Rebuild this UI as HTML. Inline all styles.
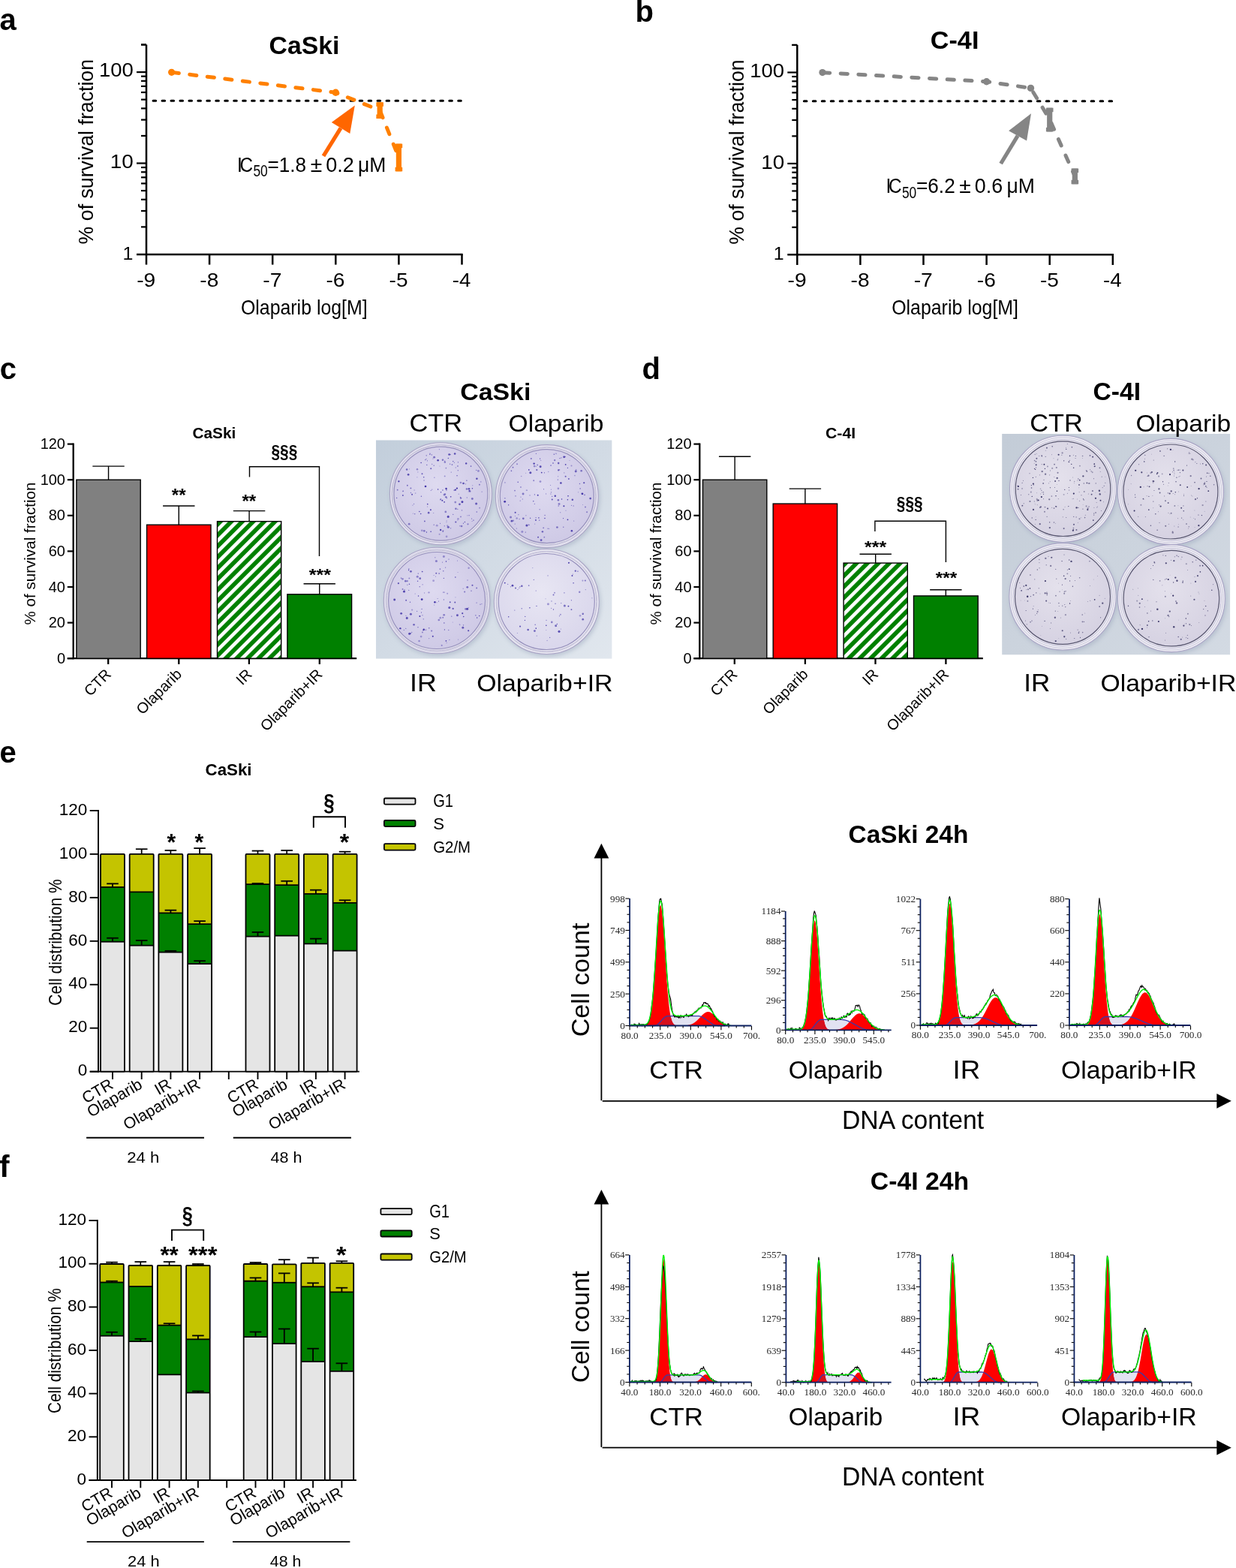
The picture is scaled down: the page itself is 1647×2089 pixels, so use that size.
<!DOCTYPE html><html><head><meta charset="utf-8"><title>Figure</title><style>html,body{margin:0;padding:0;background:#fff;}svg{display:block;}</style></head><body>
<svg xmlns="http://www.w3.org/2000/svg" width="1647" height="2089" viewBox="0 0 1647 2089" font-family="'Liberation Sans', Arial, sans-serif" fill="#000">
<rect width="1647" height="2089" fill="#fff"/>
<text x="-0.5" y="40.2" font-size="40" font-weight="bold">a</text>
<text x="846.5" y="29.4" font-size="40" font-weight="bold">b</text>
<text x="-0.3" y="504.8" font-size="40" font-weight="bold">c</text>
<text x="855.5" y="504.6" font-size="40" font-weight="bold">d</text>
<text x="-0.6" y="1015.6" font-size="40" font-weight="bold">e</text>
<text x="-0.8" y="1567.6" font-size="40" font-weight="bold">f</text>
<line x1="195" y1="59.55" x2="195" y2="340.1" stroke="#000" stroke-width="2.5" />
<line x1="182" y1="338.9" x2="616.7" y2="338.9" stroke="#000" stroke-width="2.5" />
<line x1="188" y1="302.35" x2="195" y2="302.35" stroke="#000" stroke-width="2.2" />
<line x1="188" y1="280.98" x2="195" y2="280.98" stroke="#000" stroke-width="2.2" />
<line x1="188" y1="265.81" x2="195" y2="265.81" stroke="#000" stroke-width="2.2" />
<line x1="188" y1="254.05" x2="195" y2="254.05" stroke="#000" stroke-width="2.2" />
<line x1="188" y1="244.43" x2="195" y2="244.43" stroke="#000" stroke-width="2.2" />
<line x1="188" y1="236.31" x2="195" y2="236.31" stroke="#000" stroke-width="2.2" />
<line x1="188" y1="229.26" x2="195" y2="229.26" stroke="#000" stroke-width="2.2" />
<line x1="188" y1="223.05" x2="195" y2="223.05" stroke="#000" stroke-width="2.2" />
<line x1="182" y1="217.5" x2="195" y2="217.5" stroke="#000" stroke-width="2.2" />
<line x1="188" y1="180.95" x2="195" y2="180.95" stroke="#000" stroke-width="2.2" />
<line x1="188" y1="159.58" x2="195" y2="159.58" stroke="#000" stroke-width="2.2" />
<line x1="188" y1="144.41" x2="195" y2="144.41" stroke="#000" stroke-width="2.2" />
<line x1="188" y1="132.65" x2="195" y2="132.65" stroke="#000" stroke-width="2.2" />
<line x1="188" y1="123.03" x2="195" y2="123.03" stroke="#000" stroke-width="2.2" />
<line x1="188" y1="114.91" x2="195" y2="114.91" stroke="#000" stroke-width="2.2" />
<line x1="188" y1="107.86" x2="195" y2="107.86" stroke="#000" stroke-width="2.2" />
<line x1="188" y1="101.65" x2="195" y2="101.65" stroke="#000" stroke-width="2.2" />
<line x1="182" y1="96.1" x2="195" y2="96.1" stroke="#000" stroke-width="2.2" />
<line x1="188" y1="59.55" x2="195" y2="59.55" stroke="#000" stroke-width="2.2" />
<line x1="188" y1="59.55" x2="195" y2="59.55" stroke="#000" stroke-width="2.2" />
<line x1="195" y1="338.9" x2="195" y2="352.6" stroke="#000" stroke-width="2.5" />
<text x="182.2" y="382" font-size="25.21" textLength="25.09" lengthAdjust="spacingAndGlyphs" >-9</text>
<line x1="279.1" y1="338.9" x2="279.1" y2="352.6" stroke="#000" stroke-width="2.5" />
<text x="266.3" y="382" font-size="25.21" textLength="24.97" lengthAdjust="spacingAndGlyphs" >-8</text>
<line x1="363.2" y1="338.9" x2="363.2" y2="352.6" stroke="#000" stroke-width="2.5" />
<text x="350.39" y="382" font-size="25.58" textLength="25.18" lengthAdjust="spacingAndGlyphs" >-7</text>
<line x1="447.3" y1="338.9" x2="447.3" y2="352.6" stroke="#000" stroke-width="2.5" />
<text x="434.5" y="382" font-size="25.21" textLength="24.98" lengthAdjust="spacingAndGlyphs" >-6</text>
<line x1="531.4" y1="338.9" x2="531.4" y2="352.6" stroke="#000" stroke-width="2.5" />
<text x="518.6" y="382" font-size="25.58" textLength="24.92" lengthAdjust="spacingAndGlyphs" >-5</text>
<line x1="615.5" y1="338.9" x2="615.5" y2="352.6" stroke="#000" stroke-width="2.5" />
<text x="602.72" y="382" font-size="25.58" textLength="24.53" lengthAdjust="spacingAndGlyphs" >-4</text>
<text x="132" y="102.34" font-size="26.41" textLength="45.87" lengthAdjust="spacingAndGlyphs" >100</text>
<text x="146.86" y="224.25" font-size="25.28" textLength="31.03" lengthAdjust="spacingAndGlyphs" >10</text>
<text x="163.47" y="345.9" font-size="23.26" textLength="13.9" lengthAdjust="spacingAndGlyphs" >1</text>
<text x="320.92" y="418.6" font-size="27.05" textLength="168.75" lengthAdjust="spacingAndGlyphs" >Olaparib log[M]</text>
<text x="0" y="0" font-size="28" transform="translate(123.9,325.4) rotate(-90)" textLength="246.5" lengthAdjust="spacingAndGlyphs">% of survival fraction</text>
<text x="358.62" y="71.7" font-size="32.57" textLength="93.77" lengthAdjust="spacingAndGlyphs" font-weight="bold" >CaSki</text>
<line x1="614.3" y1="134.3" x2="199" y2="134.3" stroke="#000" stroke-width="3" stroke-dasharray="3.6 8.36" stroke-linecap="round"/>
<path d="M228.64,96.3 L447.3,123.3 L506.17,147 L531.4,210" fill="none" stroke="#FF8000" stroke-width="5" stroke-dasharray="9.2 14.5" stroke-dashoffset="-0.6" stroke-linecap="round" stroke-linejoin="round"/>
<circle cx="228.64" cy="96.3" r="4.6" fill="#FF8000"/>
<circle cx="447.3" cy="123.3" r="4.7" fill="#FF8000"/>
<rect x="501.37" y="136.3" width="9.6" height="5.5" fill="#FF8000" />
<rect x="501.37" y="152.5" width="9.6" height="5.5" fill="#FF8000" />
<rect x="502.57" y="136.3" width="7.2" height="21.7" fill="#FF8000" />
<rect x="526.6" y="191.6" width="9.6" height="5.5" fill="#FF8000" />
<rect x="526.6" y="222.8" width="9.6" height="5.5" fill="#FF8000" />
<rect x="527.8" y="191.6" width="7.2" height="36.7" fill="#FF8000" />
<line x1="431" y1="207.8" x2="454.05" y2="170.6" stroke="#FF6600" stroke-width="5.2" />
<path d="M472.8,140.4 L441.8,163.1 L466.3,178.1 Z" fill="#FF6600" />
<text x="316.12" y="229.2" font-size="26.8" textLength="6.85" lengthAdjust="spacingAndGlyphs" >I</text>
<text x="319.47" y="229.2" font-size="26.8" textLength="17.56" lengthAdjust="spacingAndGlyphs" >C</text>
<text x="337.4" y="235.49" font-size="21.19" textLength="19.38" lengthAdjust="spacingAndGlyphs" >50</text>
<text x="356.53" y="229.2" font-size="26.8" textLength="51.51" lengthAdjust="spacingAndGlyphs" >=1.8</text>
<text x="413.81" y="229.2" font-size="26.8" textLength="15.48" lengthAdjust="spacingAndGlyphs" >&#177;</text>
<text x="434.35" y="229.2" font-size="26.8" textLength="37.51" lengthAdjust="spacingAndGlyphs" >0.2</text>
<text x="477.01" y="229.2" font-size="26.8" textLength="37.36" lengthAdjust="spacingAndGlyphs" >&#956;M</text>
<line x1="1062.3" y1="59.95" x2="1062.3" y2="340.5" stroke="#000" stroke-width="2.5" />
<line x1="1049.3" y1="339.3" x2="1484" y2="339.3" stroke="#000" stroke-width="2.5" />
<line x1="1055.3" y1="302.75" x2="1062.3" y2="302.75" stroke="#000" stroke-width="2.2" />
<line x1="1055.3" y1="281.38" x2="1062.3" y2="281.38" stroke="#000" stroke-width="2.2" />
<line x1="1055.3" y1="266.21" x2="1062.3" y2="266.21" stroke="#000" stroke-width="2.2" />
<line x1="1055.3" y1="254.45" x2="1062.3" y2="254.45" stroke="#000" stroke-width="2.2" />
<line x1="1055.3" y1="244.83" x2="1062.3" y2="244.83" stroke="#000" stroke-width="2.2" />
<line x1="1055.3" y1="236.71" x2="1062.3" y2="236.71" stroke="#000" stroke-width="2.2" />
<line x1="1055.3" y1="229.66" x2="1062.3" y2="229.66" stroke="#000" stroke-width="2.2" />
<line x1="1055.3" y1="223.45" x2="1062.3" y2="223.45" stroke="#000" stroke-width="2.2" />
<line x1="1049.3" y1="217.9" x2="1062.3" y2="217.9" stroke="#000" stroke-width="2.2" />
<line x1="1055.3" y1="181.35" x2="1062.3" y2="181.35" stroke="#000" stroke-width="2.2" />
<line x1="1055.3" y1="159.98" x2="1062.3" y2="159.98" stroke="#000" stroke-width="2.2" />
<line x1="1055.3" y1="144.81" x2="1062.3" y2="144.81" stroke="#000" stroke-width="2.2" />
<line x1="1055.3" y1="133.05" x2="1062.3" y2="133.05" stroke="#000" stroke-width="2.2" />
<line x1="1055.3" y1="123.43" x2="1062.3" y2="123.43" stroke="#000" stroke-width="2.2" />
<line x1="1055.3" y1="115.31" x2="1062.3" y2="115.31" stroke="#000" stroke-width="2.2" />
<line x1="1055.3" y1="108.26" x2="1062.3" y2="108.26" stroke="#000" stroke-width="2.2" />
<line x1="1055.3" y1="102.05" x2="1062.3" y2="102.05" stroke="#000" stroke-width="2.2" />
<line x1="1049.3" y1="96.5" x2="1062.3" y2="96.5" stroke="#000" stroke-width="2.2" />
<line x1="1055.3" y1="59.95" x2="1062.3" y2="59.95" stroke="#000" stroke-width="2.2" />
<line x1="1055.3" y1="59.95" x2="1062.3" y2="59.95" stroke="#000" stroke-width="2.2" />
<line x1="1062.3" y1="339.3" x2="1062.3" y2="353" stroke="#000" stroke-width="2.5" />
<text x="1049.5" y="382.4" font-size="25.21" textLength="25.09" lengthAdjust="spacingAndGlyphs" >-9</text>
<line x1="1146.4" y1="339.3" x2="1146.4" y2="353" stroke="#000" stroke-width="2.5" />
<text x="1133.6" y="382.4" font-size="25.21" textLength="24.97" lengthAdjust="spacingAndGlyphs" >-8</text>
<line x1="1230.5" y1="339.3" x2="1230.5" y2="353" stroke="#000" stroke-width="2.5" />
<text x="1217.69" y="382.4" font-size="25.58" textLength="25.18" lengthAdjust="spacingAndGlyphs" >-7</text>
<line x1="1314.6" y1="339.3" x2="1314.6" y2="353" stroke="#000" stroke-width="2.5" />
<text x="1301.8" y="382.4" font-size="25.21" textLength="24.98" lengthAdjust="spacingAndGlyphs" >-6</text>
<line x1="1398.7" y1="339.3" x2="1398.7" y2="353" stroke="#000" stroke-width="2.5" />
<text x="1385.9" y="382.4" font-size="25.58" textLength="24.92" lengthAdjust="spacingAndGlyphs" >-5</text>
<line x1="1482.8" y1="339.3" x2="1482.8" y2="353" stroke="#000" stroke-width="2.5" />
<text x="1470.02" y="382.4" font-size="25.58" textLength="24.53" lengthAdjust="spacingAndGlyphs" >-4</text>
<text x="999.3" y="102.74" font-size="26.41" textLength="45.87" lengthAdjust="spacingAndGlyphs" >100</text>
<text x="1014.16" y="224.65" font-size="25.28" textLength="31.03" lengthAdjust="spacingAndGlyphs" >10</text>
<text x="1030.78" y="346.3" font-size="23.26" textLength="13.9" lengthAdjust="spacingAndGlyphs" >1</text>
<text x="1188.22" y="419" font-size="27.05" textLength="168.75" lengthAdjust="spacingAndGlyphs" >Olaparib log[M]</text>
<text x="0" y="0" font-size="28" transform="translate(991.2,325.8) rotate(-90)" textLength="246.5" lengthAdjust="spacingAndGlyphs">% of survival fraction</text>
<text x="1239.8" y="65.3" font-size="33.23" textLength="64.59" lengthAdjust="spacingAndGlyphs" font-weight="bold" >C-4I</text>
<line x1="1481.6" y1="134.7" x2="1066.3" y2="134.7" stroke="#000" stroke-width="3" stroke-dasharray="3.6 8.36" stroke-linecap="round"/>
<path d="M1095.94,96.6 L1314.6,108.7 L1373.47,117.4 L1398.7,159 L1432.34,235" fill="none" stroke="#858585" stroke-width="5" stroke-dasharray="9.2 14.5" stroke-dashoffset="-0.6" stroke-linecap="round" stroke-linejoin="round"/>
<circle cx="1095.94" cy="96.6" r="4.6" fill="#858585"/>
<circle cx="1314.6" cy="108.7" r="4.7" fill="#858585"/>
<circle cx="1373.47" cy="117.4" r="4.7" fill="#858585"/>
<rect x="1393.9" y="143.7" width="9.6" height="5.5" fill="#858585" />
<rect x="1393.9" y="169.9" width="9.6" height="5.5" fill="#858585" />
<rect x="1395.1" y="143.7" width="7.2" height="31.7" fill="#858585" />
<rect x="1427.54" y="224.5" width="9.6" height="5.5" fill="#858585" />
<rect x="1427.54" y="239.8" width="9.6" height="5.5" fill="#858585" />
<rect x="1428.74" y="224.5" width="7.2" height="20.8" fill="#858585" />
<line x1="1333.6" y1="218" x2="1356.1" y2="180.85" stroke="#858585" stroke-width="5.2" />
<path d="M1374,151.3 L1344.1,174.3 L1368.1,187.4 Z" fill="#858585" />
<text x="1180.62" y="257.3" font-size="26.8" textLength="6.85" lengthAdjust="spacingAndGlyphs" >I</text>
<text x="1183.97" y="257.3" font-size="26.8" textLength="17.56" lengthAdjust="spacingAndGlyphs" >C</text>
<text x="1201.9" y="263.59" font-size="21.19" textLength="19.38" lengthAdjust="spacingAndGlyphs" >50</text>
<text x="1221.02" y="257.3" font-size="26.8" textLength="51.7" lengthAdjust="spacingAndGlyphs" >=6.2</text>
<text x="1278.31" y="257.3" font-size="26.8" textLength="15.48" lengthAdjust="spacingAndGlyphs" >&#177;</text>
<text x="1298.85" y="257.3" font-size="26.8" textLength="37.33" lengthAdjust="spacingAndGlyphs" >0.6</text>
<text x="1341.51" y="257.3" font-size="26.8" textLength="37.36" lengthAdjust="spacingAndGlyphs" >&#956;M</text>
<defs><pattern id="stripe" patternUnits="userSpaceOnUse" width="10.3" height="10.3" patternTransform="translate(2,0) rotate(45)"><rect width="10.3" height="10.3" fill="#008000"/><rect x="0" width="4.6" height="10.3" fill="#fff"/></pattern></defs>
<line x1="97.7" y1="590.5" x2="97.7" y2="878.3" stroke="#000" stroke-width="2.3" />
<line x1="89.8" y1="877.2" x2="97.7" y2="877.2" stroke="#000" stroke-width="2.2" />
<text x="87" y="883.8" font-size="20" text-anchor="end">0</text>
<line x1="89.8" y1="829.6" x2="97.7" y2="829.6" stroke="#000" stroke-width="2.2" />
<text x="87" y="836.2" font-size="20" text-anchor="end">20</text>
<line x1="89.8" y1="782" x2="97.7" y2="782" stroke="#000" stroke-width="2.2" />
<text x="87" y="788.6" font-size="20" text-anchor="end">40</text>
<line x1="89.8" y1="734.4" x2="97.7" y2="734.4" stroke="#000" stroke-width="2.2" />
<text x="87" y="741" font-size="20" text-anchor="end">60</text>
<line x1="89.8" y1="686.8" x2="97.7" y2="686.8" stroke="#000" stroke-width="2.2" />
<text x="87" y="693.4" font-size="20" text-anchor="end">80</text>
<line x1="89.8" y1="639.2" x2="97.7" y2="639.2" stroke="#000" stroke-width="2.2" />
<text x="87" y="645.8" font-size="20" text-anchor="end">100</text>
<line x1="89.8" y1="591.6" x2="97.7" y2="591.6" stroke="#000" stroke-width="2.2" />
<text x="87" y="598.2" font-size="20" text-anchor="end">120</text>
<line x1="89.8" y1="877.2" x2="475.2" y2="877.2" stroke="#000" stroke-width="2.3" />
<line x1="144.2" y1="877.2" x2="144.2" y2="884.9" stroke="#000" stroke-width="2.3" />
<line x1="238.3" y1="877.2" x2="238.3" y2="884.9" stroke="#000" stroke-width="2.3" />
<line x1="331.9" y1="877.2" x2="331.9" y2="884.9" stroke="#000" stroke-width="2.3" />
<line x1="425.8" y1="877.2" x2="425.8" y2="884.9" stroke="#000" stroke-width="2.3" />
<rect x="101.9" y="639.2" width="85.3" height="238" fill="#808080" stroke="#000" stroke-width="1.4" />
<rect x="195.6" y="699.18" width="85.4" height="178.02" fill="#FF0000" stroke="#000" stroke-width="1.4" />
<rect x="289.5" y="694.65" width="85.2" height="182.55" fill="url(#stripe)" stroke="#000" stroke-width="1.4" />
<rect x="382.9" y="791.76" width="85.7" height="85.44" fill="#008000" stroke="#000" stroke-width="1.4" />
<line x1="144.55" y1="639.2" x2="144.55" y2="621.11" stroke="#000" stroke-width="1.4" />
<line x1="123.35" y1="621.11" x2="165.75" y2="621.11" stroke="#000" stroke-width="1.4" />
<line x1="238.3" y1="699.18" x2="238.3" y2="673.95" stroke="#000" stroke-width="1.4" />
<line x1="217.1" y1="673.95" x2="259.5" y2="673.95" stroke="#000" stroke-width="1.4" />
<line x1="332.1" y1="694.65" x2="332.1" y2="680.61" stroke="#000" stroke-width="1.4" />
<line x1="310.9" y1="680.61" x2="353.3" y2="680.61" stroke="#000" stroke-width="1.4" />
<line x1="425.75" y1="791.76" x2="425.75" y2="777.72" stroke="#000" stroke-width="1.4" />
<line x1="404.55" y1="777.72" x2="446.95" y2="777.72" stroke="#000" stroke-width="1.4" />
<text x="228.73" y="667.53" font-size="24.46" textLength="18.89" lengthAdjust="spacingAndGlyphs" font-weight="bold" >**</text>
<text x="322.43" y="676.33" font-size="24.46" textLength="18.89" lengthAdjust="spacingAndGlyphs" font-weight="bold" >**</text>
<text x="411.73" y="773.28" font-size="21.77" textLength="29.2" lengthAdjust="spacingAndGlyphs" font-weight="bold" >***</text>
<path d="M332.5,635.6 V621.7 H425.5 V740.9" fill="none" stroke="#000" stroke-width="1.4" />
<text x="361.46" y="609.6" font-size="23.25" textLength="34.78" lengthAdjust="spacingAndGlyphs" font-weight="bold" >&#167;&#167;&#167;</text>
<text x="256.45" y="583.7" font-size="20.29" textLength="57.93" lengthAdjust="spacingAndGlyphs" font-weight="bold" >CaSki</text>
<text x="0" y="0" font-size="20.6" transform="translate(46.8,832.5) rotate(-90)" textLength="190" lengthAdjust="spacingAndGlyphs">% of survival fraction</text>
<text x="0" y="0" font-size="20" text-anchor="end" transform="translate(149.2,899.5) rotate(-45)">CTR</text>
<text x="0" y="0" font-size="20" text-anchor="end" transform="translate(243.3,899.5) rotate(-45)">Olaparib</text>
<text x="0" y="0" font-size="20" text-anchor="end" transform="translate(336.9,899.5) rotate(-45)">IR</text>
<text x="0" y="0" font-size="20" text-anchor="end" transform="translate(430.8,899.5) rotate(-45)">Olaparib+IR</text>
<line x1="932.3" y1="590.5" x2="932.3" y2="878.3" stroke="#000" stroke-width="2.3" />
<line x1="924.4" y1="877.2" x2="932.3" y2="877.2" stroke="#000" stroke-width="2.2" />
<text x="921.6" y="883.8" font-size="20" text-anchor="end">0</text>
<line x1="924.4" y1="829.6" x2="932.3" y2="829.6" stroke="#000" stroke-width="2.2" />
<text x="921.6" y="836.2" font-size="20" text-anchor="end">20</text>
<line x1="924.4" y1="782" x2="932.3" y2="782" stroke="#000" stroke-width="2.2" />
<text x="921.6" y="788.6" font-size="20" text-anchor="end">40</text>
<line x1="924.4" y1="734.4" x2="932.3" y2="734.4" stroke="#000" stroke-width="2.2" />
<text x="921.6" y="741" font-size="20" text-anchor="end">60</text>
<line x1="924.4" y1="686.8" x2="932.3" y2="686.8" stroke="#000" stroke-width="2.2" />
<text x="921.6" y="693.4" font-size="20" text-anchor="end">80</text>
<line x1="924.4" y1="639.2" x2="932.3" y2="639.2" stroke="#000" stroke-width="2.2" />
<text x="921.6" y="645.8" font-size="20" text-anchor="end">100</text>
<line x1="924.4" y1="591.6" x2="932.3" y2="591.6" stroke="#000" stroke-width="2.2" />
<text x="921.6" y="598.2" font-size="20" text-anchor="end">120</text>
<line x1="924.4" y1="877.2" x2="1309.8" y2="877.2" stroke="#000" stroke-width="2.3" />
<line x1="978.8" y1="877.2" x2="978.8" y2="884.9" stroke="#000" stroke-width="2.3" />
<line x1="1072.9" y1="877.2" x2="1072.9" y2="884.9" stroke="#000" stroke-width="2.3" />
<line x1="1166.5" y1="877.2" x2="1166.5" y2="884.9" stroke="#000" stroke-width="2.3" />
<line x1="1260.4" y1="877.2" x2="1260.4" y2="884.9" stroke="#000" stroke-width="2.3" />
<rect x="936.5" y="639.2" width="85.3" height="238" fill="#808080" stroke="#000" stroke-width="1.4" />
<rect x="1030.2" y="671.09" width="85.4" height="206.11" fill="#FF0000" stroke="#000" stroke-width="1.4" />
<rect x="1124.1" y="750.11" width="85.2" height="127.09" fill="url(#stripe)" stroke="#000" stroke-width="1.4" />
<rect x="1217.5" y="793.9" width="85.7" height="83.3" fill="#008000" stroke="#000" stroke-width="1.4" />
<line x1="979.15" y1="639.2" x2="979.15" y2="608.26" stroke="#000" stroke-width="1.4" />
<line x1="957.95" y1="608.26" x2="1000.35" y2="608.26" stroke="#000" stroke-width="1.4" />
<line x1="1072.9" y1="671.09" x2="1072.9" y2="651.1" stroke="#000" stroke-width="1.4" />
<line x1="1051.7" y1="651.1" x2="1094.1" y2="651.1" stroke="#000" stroke-width="1.4" />
<line x1="1166.7" y1="750.11" x2="1166.7" y2="738.21" stroke="#000" stroke-width="1.4" />
<line x1="1145.5" y1="738.21" x2="1187.9" y2="738.21" stroke="#000" stroke-width="1.4" />
<line x1="1260.35" y1="793.9" x2="1260.35" y2="785.81" stroke="#000" stroke-width="1.4" />
<line x1="1239.15" y1="785.81" x2="1281.55" y2="785.81" stroke="#000" stroke-width="1.4" />
<text x="1152.13" y="736.03" font-size="22.58" textLength="29.1" lengthAdjust="spacingAndGlyphs" font-weight="bold" >***</text>
<text x="1246.73" y="777.03" font-size="22.58" textLength="28.5" lengthAdjust="spacingAndGlyphs" font-weight="bold" >***</text>
<path d="M1165.9,707.9 V694.3 H1260.4 V748.9" fill="none" stroke="#000" stroke-width="1.4" />
<text x="1194.86" y="679.13" font-size="23" textLength="34.68" lengthAdjust="spacingAndGlyphs" font-weight="bold" >&#167;&#167;&#167;</text>
<text x="1100.03" y="583.7" font-size="21.05" textLength="40.09" lengthAdjust="spacingAndGlyphs" font-weight="bold" >C-4I</text>
<text x="0" y="0" font-size="20.6" transform="translate(881.4,832.5) rotate(-90)" textLength="190" lengthAdjust="spacingAndGlyphs">% of survival fraction</text>
<text x="0" y="0" font-size="20" text-anchor="end" transform="translate(983.8,899.5) rotate(-45)">CTR</text>
<text x="0" y="0" font-size="20" text-anchor="end" transform="translate(1077.9,899.5) rotate(-45)">Olaparib</text>
<text x="0" y="0" font-size="20" text-anchor="end" transform="translate(1171.5,899.5) rotate(-45)">IR</text>
<text x="0" y="0" font-size="20" text-anchor="end" transform="translate(1265.4,899.5) rotate(-45)">Olaparib+IR</text>
<defs><linearGradient id="bgc" x1="0" y1="0" x2="1" y2="1"><stop offset="0" stop-color="#c2cedb"/><stop offset="1" stop-color="#e1e7ee"/></linearGradient><linearGradient id="bgd" x1="0" y1="0" x2="1" y2="1"><stop offset="0" stop-color="#c3ccd7"/><stop offset="1" stop-color="#d3dae3"/></linearGradient><radialGradient id="dishc" cx="0.45" cy="0.4" r="0.6"><stop offset="0" stop-color="#dedaf0"/><stop offset="1" stop-color="#cfcae6"/></radialGradient><radialGradient id="dishc2" cx="0.45" cy="0.4" r="0.6"><stop offset="0" stop-color="#e8e6f3"/><stop offset="1" stop-color="#dad7ec"/></radialGradient><radialGradient id="dishd" cx="0.45" cy="0.4" r="0.6"><stop offset="0" stop-color="#e4e1ec"/><stop offset="1" stop-color="#d6d2e2"/></radialGradient><filter id="blur3" x="-20%" y="-20%" width="140%" height="140%"><feGaussianBlur stdDeviation="2.5"/></filter></defs>
<g>
<clipPath id="clip1"><rect x="500.9" y="586.3" width="314.7" height="291.4"/></clipPath>
<g clip-path="url(#clip1)">
<rect x="500.9" y="586.3" width="314.7" height="291.4" fill="url(#bgc)" />
<circle cx="588.9" cy="660.2" r="69" fill="#9aa6bb" opacity="0.45" filter="url(#blur3)"/>
<circle cx="730.3" cy="663.6" r="69.5" fill="#9aa6bb" opacity="0.45" filter="url(#blur3)"/>
<circle cx="583.6" cy="802.5" r="71.8" fill="#9aa6bb" opacity="0.45" filter="url(#blur3)"/>
<circle cx="729.8" cy="804" r="71" fill="#9aa6bb" opacity="0.45" filter="url(#blur3)"/>
<circle cx="587.4" cy="657.7" r="68" fill="#e3e1ef" stroke="#aaa5c6" stroke-width="1.1"/>
<circle cx="587.4" cy="657.7" r="65.4" fill="none" stroke="#c9c6dc" stroke-width="0.9"/>
<circle cx="587.4" cy="657.7" r="64.9" fill="none" stroke="#bdb9d3" stroke-width="1"/>
<circle cx="587.4" cy="657.7" r="62.5" fill="url(#dishc)" stroke="#958fbb" stroke-width="1.2"/>
<g fill="#4032a6"><circle cx="623.49" cy="698.3" r="1.13" fill-opacity="0.52"/><circle cx="549.09" cy="658.8" r="0.97" fill-opacity="0.86"/><circle cx="594.37" cy="662.36" r="1.25" fill-opacity="0.63"/><circle cx="587.55" cy="655.7" r="0.75" fill-opacity="0.82"/><circle cx="595.07" cy="714.87" r="1.36" fill-opacity="0.37"/><circle cx="629.32" cy="664.46" r="1.43" fill-opacity="0.6"/><circle cx="595.11" cy="693.91" r="0.55" fill-opacity="0.49"/><circle cx="549.99" cy="673.09" r="0.6" fill-opacity="0.5"/><circle cx="594.96" cy="695.76" r="0.63" fill-opacity="0.36"/><circle cx="609.94" cy="620.96" r="0.96" fill-opacity="0.47"/><circle cx="642.1" cy="655.14" r="0.56" fill-opacity="0.57"/><circle cx="578.61" cy="609.16" r="1.43" fill-opacity="0.62"/><circle cx="610.41" cy="615.86" r="0.64" fill-opacity="0.73"/><circle cx="627.54" cy="621.16" r="0.81" fill-opacity="0.73"/><circle cx="614.07" cy="663.58" r="1.19" fill-opacity="0.62"/><circle cx="607.3" cy="695.57" r="1.04" fill-opacity="0.79"/><circle cx="560.7" cy="684.5" r="0.81" fill-opacity="0.86"/><circle cx="552.1" cy="653.03" r="0.79" fill-opacity="0.37"/><circle cx="634.61" cy="670.93" r="1.52" fill-opacity="0.74"/><circle cx="569.76" cy="671.63" r="0.8" fill-opacity="0.99"/><circle cx="592.85" cy="615.67" r="1.29" fill-opacity="0.5"/><circle cx="529.69" cy="652.69" r="0.88" fill-opacity="0.65"/><circle cx="582.24" cy="700.13" r="1.47" fill-opacity="0.35"/><circle cx="598.6" cy="605.52" r="1.34" fill-opacity="0.83"/><circle cx="602.46" cy="619.06" r="0.87" fill-opacity="0.63"/><circle cx="639.12" cy="676.73" r="0.87" fill-opacity="0.48"/><circle cx="547.46" cy="656.51" r="0.68" fill-opacity="0.57"/><circle cx="542.85" cy="646.71" r="0.93" fill-opacity="0.65"/><circle cx="613.48" cy="662.33" r="0.58" fill-opacity="0.73"/><circle cx="621.17" cy="617.41" r="1.19" fill-opacity="0.88"/><circle cx="585.6" cy="711.79" r="1" fill-opacity="0.4"/><circle cx="593.18" cy="658.31" r="1.12" fill-opacity="0.51"/><circle cx="622.89" cy="686.87" r="0.67" fill-opacity="0.4"/><circle cx="609.91" cy="692.98" r="0.58" fill-opacity="0.53"/><circle cx="578.18" cy="620.25" r="0.65" fill-opacity="0.66"/><circle cx="622.29" cy="662.92" r="0.73" fill-opacity="0.47"/><circle cx="630.94" cy="693.15" r="0.81" fill-opacity="0.49"/><circle cx="545.46" cy="624.9" r="0.55" fill-opacity="0.36"/><circle cx="617.45" cy="697.19" r="0.58" fill-opacity="0.81"/><circle cx="568.82" cy="619.37" r="0.6" fill-opacity="0.98"/><circle cx="599.64" cy="618.18" r="0.6" fill-opacity="0.77"/><circle cx="552.71" cy="684.64" r="0.65" fill-opacity="0.76"/><circle cx="615.94" cy="668.75" r="1.49" fill-opacity="0.92"/><circle cx="568.42" cy="709.01" r="0.65" fill-opacity="0.96"/><circle cx="585.98" cy="620.99" r="0.61" fill-opacity="0.36"/><circle cx="594.52" cy="650.91" r="1.22" fill-opacity="0.98"/><circle cx="567" cy="648.06" r="1.3" fill-opacity="0.98"/><circle cx="575.71" cy="618.37" r="0.69" fill-opacity="0.58"/><circle cx="600.54" cy="703.76" r="0.74" fill-opacity="0.48"/><circle cx="625.1" cy="686.73" r="0.64" fill-opacity="0.67"/><circle cx="562.25" cy="706.8" r="1.36" fill-opacity="0.36"/><circle cx="597.19" cy="688.39" r="1.52" fill-opacity="0.86"/><circle cx="573.9" cy="679.24" r="1" fill-opacity="0.89"/><circle cx="617.52" cy="644.03" r="1.33" fill-opacity="0.8"/><circle cx="528.66" cy="663.44" r="0.61" fill-opacity="0.82"/><circle cx="606.73" cy="669.08" r="1.38" fill-opacity="0.49"/><circle cx="589.97" cy="612.84" r="1.26" fill-opacity="0.59"/><circle cx="571.18" cy="683.16" r="1.3" fill-opacity="0.74"/><circle cx="640.83" cy="641.92" r="0.57" fill-opacity="0.71"/><circle cx="595.34" cy="663.8" r="0.56" fill-opacity="0.91"/><circle cx="600.13" cy="605.58" r="0.67" fill-opacity="0.75"/><circle cx="594.34" cy="623.55" r="0.88" fill-opacity="0.5"/><circle cx="612.45" cy="671.83" r="1.34" fill-opacity="0.72"/><circle cx="621.9" cy="640.14" r="0.63" fill-opacity="0.86"/><circle cx="589.9" cy="653.01" r="1" fill-opacity="0.41"/><circle cx="629.11" cy="694.52" r="0.55" fill-opacity="0.51"/><circle cx="624.27" cy="654.95" r="0.56" fill-opacity="0.46"/><circle cx="590.12" cy="708.2" r="0.56" fill-opacity="0.94"/><circle cx="545.18" cy="698.22" r="1.38" fill-opacity="0.54"/><circle cx="586.55" cy="697.29" r="0.56" fill-opacity="0.77"/><circle cx="592.11" cy="658.9" r="1.52" fill-opacity="0.54"/><circle cx="555.9" cy="635.84" r="0.65" fill-opacity="0.39"/><circle cx="637.45" cy="627.41" r="1.49" fill-opacity="0.42"/><circle cx="597.31" cy="702.27" r="1.51" fill-opacity="0.7"/><circle cx="569.44" cy="613.81" r="0.62" fill-opacity="0.7"/><circle cx="577.7" cy="683.47" r="0.56" fill-opacity="0.53"/><circle cx="625.44" cy="653.71" r="0.98" fill-opacity="0.77"/><circle cx="620.44" cy="644.79" r="0.64" fill-opacity="0.56"/><circle cx="565.29" cy="707.31" r="1.35" fill-opacity="0.55"/><circle cx="565.88" cy="694.44" r="0.89" fill-opacity="0.74"/><circle cx="587.62" cy="664.69" r="0.61" fill-opacity="0.4"/><circle cx="574.23" cy="653.31" r="0.56" fill-opacity="0.76"/><circle cx="574.12" cy="708.33" r="0.79" fill-opacity="0.91"/><circle cx="610.45" cy="691.25" r="1.18" fill-opacity="0.4"/><circle cx="608.94" cy="650.58" r="1.15" fill-opacity="0.99"/><circle cx="601.21" cy="629.08" r="0.56" fill-opacity="0.68"/><circle cx="613.91" cy="642.99" r="1.35" fill-opacity="0.44"/><circle cx="594.95" cy="652.94" r="0.65" fill-opacity="0.94"/><circle cx="606.12" cy="604.5" r="1.26" fill-opacity="0.84"/><circle cx="578.86" cy="636.3" r="0.74" fill-opacity="0.45"/><circle cx="576.95" cy="611.21" r="0.61" fill-opacity="0.39"/><circle cx="638.93" cy="645.63" r="0.85" fill-opacity="0.7"/><circle cx="610.29" cy="626.73" r="0.71" fill-opacity="0.57"/><circle cx="587.01" cy="665.41" r="0.97" fill-opacity="0.62"/><circle cx="575.72" cy="652.15" r="0.68" fill-opacity="0.44"/><circle cx="607.4" cy="677.73" r="1.24" fill-opacity="0.61"/><circle cx="550.46" cy="684.16" r="0.6" fill-opacity="0.35"/><circle cx="547.38" cy="650.4" r="0.97" fill-opacity="0.63"/><circle cx="567.94" cy="611.54" r="0.61" fill-opacity="0.67"/><circle cx="561.43" cy="661.18" r="0.72" fill-opacity="0.71"/><circle cx="634.73" cy="626.37" r="0.63" fill-opacity="0.77"/><circle cx="600.71" cy="661.86" r="0.81" fill-opacity="0.92"/><circle cx="615.08" cy="700.99" r="1.33" fill-opacity="0.55"/><circle cx="568.2" cy="606.83" r="0.69" fill-opacity="0.81"/><circle cx="583.59" cy="613.16" r="1.28" fill-opacity="0.93"/><circle cx="629.76" cy="646.85" r="0.58" fill-opacity="0.51"/><circle cx="596.22" cy="700.46" r="1.12" fill-opacity="0.38"/><circle cx="566.76" cy="612.65" r="0.67" fill-opacity="0.68"/><circle cx="612.93" cy="700.74" r="0.55" fill-opacity="0.99"/><circle cx="603.81" cy="614.64" r="0.62" fill-opacity="0.94"/><circle cx="606.86" cy="652.63" r="1.15" fill-opacity="0.9"/><circle cx="561.12" cy="616.44" r="0.75" fill-opacity="0.95"/><circle cx="621.89" cy="651.39" r="1.19" fill-opacity="0.63"/><circle cx="603.78" cy="685.3" r="0.57" fill-opacity="0.94"/><circle cx="605.27" cy="653.04" r="0.91" fill-opacity="0.62"/><circle cx="609.83" cy="678.26" r="0.61" fill-opacity="0.84"/><circle cx="611.25" cy="658.3" r="0.74" fill-opacity="0.36"/><circle cx="555.98" cy="625.27" r="1.25" fill-opacity="0.48"/><circle cx="578.19" cy="699.19" r="0.62" fill-opacity="0.73"/><circle cx="587.13" cy="705.96" r="1.18" fill-opacity="0.88"/><circle cx="629.44" cy="650.67" r="0.79" fill-opacity="0.91"/><circle cx="592.62" cy="614.31" r="0.7" fill-opacity="0.53"/><circle cx="628.55" cy="690.94" r="0.56" fill-opacity="0.84"/><circle cx="531.4" cy="641.32" r="1.13" fill-opacity="0.98"/><circle cx="613.98" cy="688.46" r="0.88" fill-opacity="0.55"/><circle cx="553.65" cy="657.06" r="0.83" fill-opacity="0.35"/><circle cx="551.56" cy="671.29" r="0.64" fill-opacity="0.61"/><circle cx="597.36" cy="610.48" r="0.79" fill-opacity="0.77"/><circle cx="569.57" cy="674.96" r="0.55" fill-opacity="0.53"/><circle cx="542.11" cy="625.59" r="1.24" fill-opacity="0.68"/><circle cx="626.16" cy="654.53" r="1.25" fill-opacity="0.62"/><circle cx="585.41" cy="598.64" r="0.64" fill-opacity="0.46"/><circle cx="556.79" cy="628.94" r="0.68" fill-opacity="0.35"/><circle cx="558.86" cy="681.57" r="0.71" fill-opacity="0.91"/><circle cx="544.11" cy="632.31" r="1.36" fill-opacity="0.84"/><circle cx="536.82" cy="660.02" r="0.96" fill-opacity="0.77"/><circle cx="562.5" cy="631.3" r="0.95" fill-opacity="0.76"/><circle cx="635.39" cy="637.69" r="1.27" fill-opacity="0.85"/><circle cx="605.42" cy="616.3" r="0.67" fill-opacity="0.52"/><circle cx="573" cy="604.36" r="0.85" fill-opacity="0.45"/><circle cx="607.29" cy="623.06" r="0.77" fill-opacity="0.38"/><circle cx="536.91" cy="654.43" r="0.73" fill-opacity="0.58"/><circle cx="583.6" cy="651.97" r="0.81" fill-opacity="0.96"/><circle cx="574.23" cy="624.15" r="1.02" fill-opacity="0.74"/><circle cx="593.8" cy="681.94" r="1.34" fill-opacity="0.52"/><circle cx="635.29" cy="682.06" r="0.82" fill-opacity="0.59"/><circle cx="537.24" cy="654.06" r="0.58" fill-opacity="0.77"/><circle cx="575.29" cy="605.93" r="0.62" fill-opacity="0.75"/><circle cx="592.26" cy="700.72" r="0.58" fill-opacity="0.86"/><circle cx="609.03" cy="633.69" r="0.6" fill-opacity="0.98"/><circle cx="572.83" cy="605.5" r="0.55" fill-opacity="0.93"/><circle cx="564.7" cy="635.71" r="0.74" fill-opacity="0.85"/><circle cx="592.67" cy="634.43" r="0.94" fill-opacity="0.46"/><circle cx="624.91" cy="651.29" r="1.38" fill-opacity="0.82"/><circle cx="565.03" cy="640.07" r="0.83" fill-opacity="0.44"/><circle cx="619.41" cy="695.46" r="0.68" fill-opacity="0.84"/><circle cx="590.36" cy="707.21" r="1.07" fill-opacity="0.55"/><circle cx="615.49" cy="679.89" r="0.79" fill-opacity="0.41"/><circle cx="592.09" cy="668.87" r="0.91" fill-opacity="0.93"/><circle cx="589.35" cy="666.86" r="1.05" fill-opacity="0.88"/></g>
<circle cx="728.8" cy="661.1" r="68.5" fill="#e5e3f0" stroke="#aaa5c6" stroke-width="1.1"/>
<circle cx="728.8" cy="661.1" r="65.9" fill="none" stroke="#c9c6dc" stroke-width="0.9"/>
<circle cx="728.8" cy="661.1" r="64.9" fill="none" stroke="#bdb9d3" stroke-width="1"/>
<circle cx="728.8" cy="661.1" r="62.5" fill="url(#dishc)" stroke="#958fbb" stroke-width="1.2"/>
<g fill="#4032a6"><circle cx="773.12" cy="650.94" r="0.67" fill-opacity="0.89"/><circle cx="764.64" cy="693.95" r="0.56" fill-opacity="0.61"/><circle cx="693.98" cy="662.19" r="0.58" fill-opacity="0.5"/><circle cx="745.41" cy="625.88" r="0.89" fill-opacity="0.49"/><circle cx="721.73" cy="629.54" r="0.9" fill-opacity="0.94"/><circle cx="739.76" cy="660.71" r="1.19" fill-opacity="0.91"/><circle cx="713.94" cy="692.9" r="0.89" fill-opacity="0.95"/><circle cx="683.95" cy="693.72" r="1.13" fill-opacity="0.45"/><circle cx="733.89" cy="658.03" r="0.57" fill-opacity="0.78"/><circle cx="761.5" cy="673.37" r="0.57" fill-opacity="0.65"/><circle cx="758.99" cy="613.51" r="0.55" fill-opacity="0.39"/><circle cx="734.47" cy="652.24" r="0.62" fill-opacity="0.43"/><circle cx="735.75" cy="665.57" r="0.96" fill-opacity="0.83"/><circle cx="707.81" cy="611.07" r="0.99" fill-opacity="0.6"/><circle cx="689.04" cy="618.19" r="0.96" fill-opacity="0.51"/><circle cx="782.09" cy="682.27" r="0.9" fill-opacity="0.58"/><circle cx="694.67" cy="634.51" r="0.82" fill-opacity="0.39"/><circle cx="706.71" cy="690.24" r="0.59" fill-opacity="0.92"/><circle cx="686.65" cy="682.87" r="1.06" fill-opacity="0.83"/><circle cx="719.62" cy="611.06" r="0.61" fill-opacity="0.98"/><circle cx="761.89" cy="707.25" r="1.28" fill-opacity="0.9"/><circle cx="743.87" cy="666.29" r="1.21" fill-opacity="0.65"/><circle cx="688.35" cy="704.04" r="0.55" fill-opacity="0.7"/><circle cx="710.78" cy="667.8" r="0.71" fill-opacity="0.81"/><circle cx="734.53" cy="655.87" r="0.83" fill-opacity="0.41"/><circle cx="733.6" cy="646.45" r="0.55" fill-opacity="0.6"/><circle cx="725.37" cy="629.87" r="0.57" fill-opacity="0.87"/><circle cx="747.92" cy="609.94" r="0.64" fill-opacity="0.63"/><circle cx="730.05" cy="704.22" r="0.66" fill-opacity="0.57"/><circle cx="740.97" cy="604.34" r="0.89" fill-opacity="0.42"/><circle cx="706.8" cy="629.77" r="1.53" fill-opacity="0.82"/><circle cx="753.66" cy="618.93" r="0.84" fill-opacity="0.93"/><circle cx="743.61" cy="634.79" r="0.57" fill-opacity="0.59"/><circle cx="712.42" cy="658.92" r="0.67" fill-opacity="0.72"/><circle cx="779.99" cy="675.48" r="0.97" fill-opacity="0.55"/><circle cx="718.77" cy="693.1" r="0.66" fill-opacity="0.84"/><circle cx="687.01" cy="660.82" r="0.57" fill-opacity="0.94"/><circle cx="714.08" cy="689.74" r="0.55" fill-opacity="0.99"/><circle cx="672.67" cy="668.3" r="1.41" fill-opacity="0.98"/><circle cx="751.65" cy="608.86" r="1.4" fill-opacity="0.87"/><circle cx="756.45" cy="692.3" r="0.88" fill-opacity="1"/><circle cx="739.18" cy="613.2" r="1.11" fill-opacity="0.59"/><circle cx="772.46" cy="644.55" r="0.71" fill-opacity="0.65"/><circle cx="770.52" cy="655.76" r="0.58" fill-opacity="0.45"/><circle cx="712.14" cy="621.06" r="1.37" fill-opacity="0.47"/><circle cx="686.43" cy="687.58" r="0.55" fill-opacity="0.41"/><circle cx="701.27" cy="652.97" r="0.56" fill-opacity="0.52"/><circle cx="700.59" cy="630.24" r="0.56" fill-opacity="0.4"/><circle cx="756.39" cy="623.44" r="0.58" fill-opacity="0.91"/><circle cx="762.82" cy="665.8" r="1.27" fill-opacity="0.81"/><circle cx="717.04" cy="715.7" r="0.91" fill-opacity="0.91"/><circle cx="757.86" cy="637.9" r="1.01" fill-opacity="0.7"/><circle cx="778.22" cy="643.21" r="1.08" fill-opacity="0.88"/><circle cx="756.95" cy="660.77" r="0.59" fill-opacity="0.84"/><circle cx="734.06" cy="620.16" r="0.79" fill-opacity="0.61"/><circle cx="767.67" cy="625.82" r="0.89" fill-opacity="0.38"/><circle cx="751.8" cy="629.92" r="0.59" fill-opacity="0.54"/><circle cx="727.57" cy="657.92" r="0.56" fill-opacity="0.55"/><circle cx="767.27" cy="628.11" r="1.49" fill-opacity="0.7"/><circle cx="690.22" cy="642.36" r="0.83" fill-opacity="0.7"/><circle cx="753" cy="608.44" r="0.72" fill-opacity="0.76"/><circle cx="717.87" cy="689.89" r="0.81" fill-opacity="0.73"/><circle cx="672.94" cy="642.95" r="0.58" fill-opacity="0.76"/><circle cx="779.04" cy="659.37" r="0.87" fill-opacity="0.59"/><circle cx="681.92" cy="694.21" r="1.35" fill-opacity="0.79"/><circle cx="774.66" cy="627.23" r="1.27" fill-opacity="0.6"/><circle cx="677.63" cy="672.75" r="0.69" fill-opacity="0.84"/><circle cx="696.33" cy="664.91" r="0.76" fill-opacity="0.43"/><circle cx="706.4" cy="690.16" r="0.55" fill-opacity="0.46"/><circle cx="725.29" cy="715.68" r="0.9" fill-opacity="0.54"/><circle cx="757.04" cy="660.7" r="0.81" fill-opacity="0.83"/><circle cx="715.26" cy="626.05" r="1.15" fill-opacity="0.67"/><circle cx="720.13" cy="621.79" r="1.49" fill-opacity="0.82"/><circle cx="745.03" cy="671.6" r="1.48" fill-opacity="0.5"/><circle cx="756.38" cy="665.67" r="0.78" fill-opacity="0.97"/><circle cx="688.67" cy="690.59" r="1.25" fill-opacity="0.41"/><circle cx="683.51" cy="622.72" r="0.85" fill-opacity="0.7"/><circle cx="695.85" cy="708.48" r="1.49" fill-opacity="0.42"/><circle cx="693.91" cy="649.07" r="1" fill-opacity="0.43"/><circle cx="725.96" cy="690.43" r="0.78" fill-opacity="0.87"/><circle cx="761.49" cy="620.48" r="1.01" fill-opacity="0.41"/><circle cx="692.11" cy="691.56" r="0.64" fill-opacity="0.68"/><circle cx="743.87" cy="650.87" r="1.28" fill-opacity="0.42"/><circle cx="686.22" cy="697.99" r="0.59" fill-opacity="0.69"/><circle cx="680.54" cy="688.99" r="1.53" fill-opacity="0.54"/><circle cx="672.88" cy="663.75" r="0.85" fill-opacity="0.49"/><circle cx="730.79" cy="628.44" r="0.79" fill-opacity="0.36"/><circle cx="775.92" cy="657.83" r="1.41" fill-opacity="0.98"/><circle cx="724.14" cy="703.26" r="0.74" fill-opacity="0.84"/><circle cx="743.29" cy="639.01" r="0.63" fill-opacity="0.81"/><circle cx="712.32" cy="671.32" r="0.59" fill-opacity="0.71"/><circle cx="681.41" cy="627.35" r="0.83" fill-opacity="0.75"/><circle cx="750.54" cy="690.57" r="0.63" fill-opacity="0.8"/><circle cx="726.07" cy="686.46" r="0.69" fill-opacity="0.66"/><circle cx="704.99" cy="699.47" r="0.58" fill-opacity="0.92"/><circle cx="714.31" cy="621.5" r="0.55" fill-opacity="0.56"/><circle cx="711.62" cy="617.62" r="1.21" fill-opacity="0.93"/><circle cx="712.69" cy="698.1" r="0.66" fill-opacity="0.43"/><circle cx="746.73" cy="682.8" r="0.56" fill-opacity="0.7"/><circle cx="716.15" cy="619.6" r="1.02" fill-opacity="0.5"/><circle cx="742.42" cy="702.49" r="1.33" fill-opacity="0.62"/><circle cx="735.73" cy="661.28" r="0.64" fill-opacity="0.75"/><circle cx="751.36" cy="674.36" r="1.01" fill-opacity="0.99"/><circle cx="704.45" cy="698.91" r="0.82" fill-opacity="0.37"/><circle cx="719.12" cy="678.75" r="0.61" fill-opacity="0.85"/><circle cx="724.5" cy="651.77" r="0.56" fill-opacity="0.82"/><circle cx="754.01" cy="680.2" r="0.62" fill-opacity="0.38"/><circle cx="748.52" cy="665.01" r="0.71" fill-opacity="0.96"/><circle cx="711.2" cy="640.27" r="1.01" fill-opacity="0.53"/><circle cx="697.05" cy="658.05" r="1.45" fill-opacity="0.58"/><circle cx="744.19" cy="617.12" r="1.26" fill-opacity="0.74"/><circle cx="753.64" cy="634.77" r="1.01" fill-opacity="0.75"/><circle cx="686.02" cy="653.57" r="0.84" fill-opacity="0.61"/><circle cx="765.93" cy="633.52" r="0.85" fill-opacity="0.39"/><circle cx="706.01" cy="659.88" r="0.6" fill-opacity="0.63"/><circle cx="702.17" cy="653.19" r="0.62" fill-opacity="0.69"/><circle cx="693.2" cy="667.14" r="0.56" fill-opacity="0.59"/><circle cx="704.74" cy="625.97" r="0.85" fill-opacity="0.9"/><circle cx="720.69" cy="613.48" r="0.55" fill-opacity="0.55"/><circle cx="719.98" cy="641.6" r="1.38" fill-opacity="0.44"/><circle cx="747.39" cy="643.45" r="1.26" fill-opacity="0.9"/><circle cx="700.28" cy="709.01" r="0.58" fill-opacity="0.9"/><circle cx="700.92" cy="686.72" r="0.56" fill-opacity="0.74"/><circle cx="722.9" cy="708.35" r="1.19" fill-opacity="0.74"/><circle cx="786.65" cy="664.08" r="1.4" fill-opacity="0.77"/><circle cx="697.3" cy="690.86" r="1.33" fill-opacity="0.65"/><circle cx="736.99" cy="616.99" r="0.73" fill-opacity="0.96"/><circle cx="690.91" cy="685.67" r="0.55" fill-opacity="0.66"/><circle cx="776.51" cy="672.53" r="0.55" fill-opacity="0.38"/><circle cx="744.23" cy="674.05" r="0.81" fill-opacity="0.58"/><circle cx="721.08" cy="719.55" r="1.38" fill-opacity="0.78"/><circle cx="745.95" cy="610.59" r="0.61" fill-opacity="0.88"/><circle cx="731.57" cy="704.36" r="0.68" fill-opacity="0.45"/><circle cx="738.32" cy="605.2" r="0.65" fill-opacity="0.92"/><circle cx="701.94" cy="699.97" r="1.54" fill-opacity="0.85"/><circle cx="764.16" cy="674" r="0.69" fill-opacity="0.54"/><circle cx="744.11" cy="626.4" r="1.04" fill-opacity="0.76"/><circle cx="716.69" cy="659.65" r="1" fill-opacity="0.93"/><circle cx="750.71" cy="702.29" r="0.79" fill-opacity="0.57"/><circle cx="714.36" cy="604.22" r="0.55" fill-opacity="0.93"/></g>
<circle cx="582.1" cy="800" r="70.8" fill="#e2e0ee" stroke="#aaa5c6" stroke-width="1.1"/>
<circle cx="582.1" cy="800" r="68.2" fill="none" stroke="#c9c6dc" stroke-width="0.9"/>
<circle cx="582.1" cy="800" r="66.9" fill="none" stroke="#bdb9d3" stroke-width="1"/>
<circle cx="582.1" cy="800" r="64.5" fill="url(#dishc)" stroke="#958fbb" stroke-width="1.2"/>
<g fill="#4032a6"><circle cx="540.77" cy="837.26" r="0.58" fill-opacity="0.82"/><circle cx="609.43" cy="819.78" r="1.49" fill-opacity="0.78"/><circle cx="590.75" cy="760.76" r="0.77" fill-opacity="0.67"/><circle cx="589.56" cy="749.08" r="0.59" fill-opacity="0.64"/><circle cx="538.46" cy="788.2" r="1.41" fill-opacity="0.9"/><circle cx="603.23" cy="829.04" r="0.56" fill-opacity="0.37"/><circle cx="603.66" cy="810.91" r="1.14" fill-opacity="0.78"/><circle cx="591.3" cy="770.35" r="0.57" fill-opacity="0.98"/><circle cx="609.54" cy="747" r="0.55" fill-opacity="0.61"/><circle cx="547.44" cy="761.28" r="1.38" fill-opacity="0.7"/><circle cx="579.43" cy="802.19" r="1.2" fill-opacity="0.99"/><circle cx="623.03" cy="773.02" r="0.67" fill-opacity="0.51"/><circle cx="591.38" cy="741.45" r="1.47" fill-opacity="0.46"/><circle cx="545.47" cy="778.23" r="0.73" fill-opacity="0.87"/><circle cx="629.48" cy="779.77" r="1.04" fill-opacity="0.8"/><circle cx="557.22" cy="764.1" r="0.61" fill-opacity="0.86"/><circle cx="617.48" cy="832.85" r="0.7" fill-opacity="0.71"/><circle cx="556.24" cy="768.16" r="1.51" fill-opacity="0.51"/><circle cx="641.9" cy="804.58" r="0.65" fill-opacity="0.53"/><circle cx="542.23" cy="823.39" r="1.52" fill-opacity="0.81"/><circle cx="563.96" cy="839.63" r="0.75" fill-opacity="0.68"/><circle cx="562.09" cy="811.4" r="0.71" fill-opacity="0.6"/><circle cx="598.87" cy="852.41" r="0.68" fill-opacity="0.45"/><circle cx="530.92" cy="777.13" r="1.16" fill-opacity="0.75"/><circle cx="578.09" cy="766.48" r="0.57" fill-opacity="0.52"/><circle cx="564.28" cy="824.73" r="0.77" fill-opacity="0.45"/><circle cx="601.82" cy="821.07" r="0.59" fill-opacity="0.87"/><circle cx="557.53" cy="794.09" r="0.73" fill-opacity="0.92"/><circle cx="542.84" cy="779.18" r="0.7" fill-opacity="0.48"/><circle cx="571.5" cy="789.35" r="1.17" fill-opacity="0.39"/><circle cx="581.27" cy="763.75" r="1.02" fill-opacity="0.73"/><circle cx="612.22" cy="831.74" r="0.56" fill-opacity="0.51"/><circle cx="559.37" cy="820.9" r="0.99" fill-opacity="0.99"/><circle cx="547.37" cy="843.71" r="0.6" fill-opacity="0.81"/><circle cx="556.97" cy="835.65" r="0.56" fill-opacity="0.89"/><circle cx="592.4" cy="838.95" r="0.63" fill-opacity="0.88"/><circle cx="542.77" cy="774.13" r="1.12" fill-opacity="0.52"/><circle cx="633.88" cy="819.85" r="0.65" fill-opacity="0.88"/><circle cx="628.01" cy="787.17" r="0.56" fill-opacity="0.91"/><circle cx="563.09" cy="778.86" r="0.59" fill-opacity="0.68"/><circle cx="624.17" cy="840.29" r="1.05" fill-opacity="0.88"/><circle cx="538.24" cy="839.25" r="0.57" fill-opacity="0.82"/><circle cx="582.02" cy="802.8" r="0.56" fill-opacity="0.48"/><circle cx="585.12" cy="764.11" r="0.78" fill-opacity="0.75"/><circle cx="576.78" cy="847.75" r="1" fill-opacity="0.95"/><circle cx="525.68" cy="798.98" r="1.49" fill-opacity="0.85"/><circle cx="555.66" cy="814.28" r="0.56" fill-opacity="0.89"/><circle cx="612.77" cy="832.5" r="0.76" fill-opacity="0.38"/><circle cx="594.38" cy="853.87" r="0.84" fill-opacity="0.95"/><circle cx="596.13" cy="790.84" r="1.01" fill-opacity="0.38"/><circle cx="547.4" cy="818.33" r="1.47" fill-opacity="0.74"/><circle cx="597.73" cy="839.47" r="0.82" fill-opacity="0.48"/><circle cx="545.69" cy="844.16" r="1.51" fill-opacity="0.85"/><circle cx="635.63" cy="822.96" r="0.76" fill-opacity="0.89"/><circle cx="591.64" cy="819.25" r="1.37" fill-opacity="0.54"/><circle cx="622.62" cy="811.24" r="1.53" fill-opacity="0.89"/><circle cx="533.39" cy="837.15" r="1.18" fill-opacity="0.9"/><circle cx="559.71" cy="770.71" r="1.37" fill-opacity="0.66"/><circle cx="622.77" cy="782.29" r="1.38" fill-opacity="0.66"/><circle cx="540.92" cy="820.39" r="0.65" fill-opacity="0.45"/><circle cx="534.46" cy="770.05" r="0.63" fill-opacity="0.91"/><circle cx="594.46" cy="747.97" r="0.72" fill-opacity="1"/><circle cx="593.63" cy="756.1" r="0.56" fill-opacity="0.72"/><circle cx="639.98" cy="805.24" r="0.66" fill-opacity="0.59"/><circle cx="536.52" cy="784.91" r="0.89" fill-opacity="0.67"/><circle cx="544.81" cy="758.04" r="0.75" fill-opacity="0.68"/><circle cx="583.1" cy="797.49" r="0.58" fill-opacity="0.56"/><circle cx="595.11" cy="856.42" r="0.57" fill-opacity="0.42"/><circle cx="564.72" cy="838.68" r="1.22" fill-opacity="1"/><circle cx="610.06" cy="762.45" r="0.55" fill-opacity="0.39"/><circle cx="544.54" cy="759.63" r="0.62" fill-opacity="0.98"/><circle cx="539.04" cy="785.89" r="0.93" fill-opacity="0.4"/><circle cx="610.55" cy="852.04" r="0.62" fill-opacity="0.4"/><circle cx="571.66" cy="850.51" r="0.62" fill-opacity="0.49"/><circle cx="575.13" cy="840.5" r="1.09" fill-opacity="0.55"/><circle cx="624.6" cy="756.69" r="1.23" fill-opacity="0.4"/><circle cx="558.53" cy="854.03" r="1.29" fill-opacity="0.44"/><circle cx="549.13" cy="812.53" r="1.11" fill-opacity="0.37"/><circle cx="561.11" cy="848.11" r="1.34" fill-opacity="0.38"/><circle cx="540.39" cy="774.13" r="1.31" fill-opacity="0.63"/><circle cx="606.94" cy="795.75" r="0.56" fill-opacity="0.43"/><circle cx="565.53" cy="789.96" r="0.62" fill-opacity="0.48"/><circle cx="638.72" cy="820.5" r="0.66" fill-opacity="0.98"/><circle cx="577.63" cy="773.65" r="1.42" fill-opacity="0.36"/><circle cx="591.34" cy="798.93" r="0.61" fill-opacity="0.71"/><circle cx="635.08" cy="803.06" r="0.56" fill-opacity="0.88"/><circle cx="624.34" cy="809.47" r="0.59" fill-opacity="0.54"/><circle cx="546.5" cy="802.13" r="0.7" fill-opacity="0.77"/><circle cx="590.22" cy="822.65" r="1.02" fill-opacity="0.54"/><circle cx="617.21" cy="784.27" r="0.77" fill-opacity="0.37"/><circle cx="599.73" cy="802.3" r="0.94" fill-opacity="0.78"/><circle cx="619.15" cy="788.53" r="1.05" fill-opacity="0.57"/><circle cx="616.21" cy="817.13" r="1.04" fill-opacity="0.87"/><circle cx="635.18" cy="783.48" r="0.87" fill-opacity="0.71"/><circle cx="541.14" cy="799.72" r="1.01" fill-opacity="0.72"/><circle cx="606.82" cy="769.01" r="0.77" fill-opacity="0.89"/><circle cx="562.68" cy="761.5" r="0.87" fill-opacity="0.87"/><circle cx="559.25" cy="781.72" r="0.65" fill-opacity="0.74"/><circle cx="620.46" cy="811.37" r="1.35" fill-opacity="0.5"/><circle cx="534.65" cy="817.37" r="1.41" fill-opacity="0.8"/><circle cx="556.55" cy="774.18" r="0.74" fill-opacity="0.77"/><circle cx="548.76" cy="842.26" r="0.55" fill-opacity="0.84"/><circle cx="580.5" cy="767.95" r="0.55" fill-opacity="0.57"/><circle cx="536.44" cy="771.35" r="1.31" fill-opacity="0.49"/><circle cx="598.78" cy="809.41" r="1.53" fill-opacity="0.77"/><circle cx="616.82" cy="836.22" r="1.47" fill-opacity="0.74"/><circle cx="588.68" cy="859.86" r="1.04" fill-opacity="0.47"/><circle cx="586.39" cy="758.02" r="0.88" fill-opacity="0.59"/><circle cx="571.73" cy="836.75" r="0.83" fill-opacity="0.65"/><circle cx="591.92" cy="789.04" r="0.59" fill-opacity="0.96"/><circle cx="545.35" cy="770.42" r="0.95" fill-opacity="0.51"/><circle cx="561.53" cy="816.02" r="0.57" fill-opacity="0.99"/><circle cx="579.87" cy="742.75" r="0.55" fill-opacity="0.81"/><circle cx="567.34" cy="839.23" r="1.01" fill-opacity="0.37"/><circle cx="551.53" cy="832.25" r="1.31" fill-opacity="0.68"/><circle cx="562.9" cy="842.46" r="0.89" fill-opacity="0.54"/><circle cx="553.17" cy="790.99" r="0.55" fill-opacity="0.55"/><circle cx="617.74" cy="821.51" r="0.8" fill-opacity="0.92"/><circle cx="581.41" cy="747.53" r="1.53" fill-opacity="0.52"/><circle cx="562.97" cy="819.68" r="0.56" fill-opacity="0.68"/><circle cx="562.15" cy="798.58" r="1.4" fill-opacity="0.99"/><circle cx="584.46" cy="801.08" r="0.55" fill-opacity="0.83"/><circle cx="590.39" cy="788.96" r="0.55" fill-opacity="0.7"/><circle cx="578.67" cy="805.99" r="0.55" fill-opacity="0.49"/><circle cx="591.8" cy="829.91" r="0.85" fill-opacity="0.51"/><circle cx="584.8" cy="825.98" r="1.34" fill-opacity="0.51"/><circle cx="544.71" cy="786.45" r="0.66" fill-opacity="0.61"/><circle cx="606.29" cy="802.44" r="0.96" fill-opacity="0.84"/><circle cx="586.78" cy="823.23" r="1.37" fill-opacity="0.41"/><circle cx="598.03" cy="745" r="0.57" fill-opacity="0.89"/></g>
<circle cx="728.3" cy="801.5" r="70" fill="#eae9f3" stroke="#aaa5c6" stroke-width="1.1"/>
<circle cx="728.3" cy="801.5" r="67.4" fill="none" stroke="#c9c6dc" stroke-width="0.9"/>
<circle cx="728.3" cy="801.5" r="66.4" fill="none" stroke="#bdb9d3" stroke-width="1"/>
<circle cx="728.3" cy="801.5" r="64" fill="url(#dishc2)" stroke="#958fbb" stroke-width="1.2"/>
<g fill="#4032a6"><circle cx="734.66" cy="810.26" r="0.63" fill-opacity="0.57"/><circle cx="695.35" cy="780.72" r="1.18" fill-opacity="0.78"/><circle cx="746.86" cy="818.75" r="1.11" fill-opacity="0.43"/><circle cx="780.29" cy="785.55" r="0.6" fill-opacity="0.54"/><circle cx="727.79" cy="839.49" r="0.61" fill-opacity="0.37"/><circle cx="728.02" cy="826.31" r="0.67" fill-opacity="0.65"/><circle cx="762.46" cy="767.04" r="0.93" fill-opacity="0.91"/><circle cx="699.44" cy="826.46" r="0.61" fill-opacity="0.89"/><circle cx="769.88" cy="761.14" r="0.92" fill-opacity="0.42"/><circle cx="776.71" cy="825.13" r="1.33" fill-opacity="0.7"/><circle cx="779.82" cy="773.5" r="1.12" fill-opacity="0.59"/><circle cx="695.24" cy="810.8" r="0.71" fill-opacity="0.66"/><circle cx="747.82" cy="803.61" r="0.58" fill-opacity="0.72"/><circle cx="763.3" cy="764.98" r="0.57" fill-opacity="0.65"/><circle cx="714.16" cy="786.94" r="0.56" fill-opacity="0.75"/><circle cx="732.68" cy="849.23" r="0.58" fill-opacity="0.91"/><circle cx="714.27" cy="837.1" r="0.85" fill-opacity="0.93"/><circle cx="776.4" cy="773.61" r="1.02" fill-opacity="0.39"/><circle cx="745.02" cy="841.36" r="1.52" fill-opacity="0.82"/><circle cx="740.69" cy="833.77" r="1.48" fill-opacity="0.68"/><circle cx="766.77" cy="760.7" r="1.16" fill-opacity="0.76"/><circle cx="711.24" cy="772.3" r="0.56" fill-opacity="0.97"/><circle cx="757.42" cy="807.56" r="0.93" fill-opacity="0.98"/><circle cx="735.3" cy="828.89" r="1.27" fill-opacity="0.56"/><circle cx="699.8" cy="821.41" r="0.55" fill-opacity="0.96"/><circle cx="727.03" cy="797.78" r="0.56" fill-opacity="0.44"/><circle cx="689.42" cy="843.49" r="0.57" fill-opacity="0.5"/><circle cx="712.43" cy="840.55" r="1.36" fill-opacity="0.7"/><circle cx="764.1" cy="776.69" r="0.74" fill-opacity="0.92"/><circle cx="692.91" cy="781.8" r="0.81" fill-opacity="0.58"/><circle cx="714.98" cy="807.45" r="0.59" fill-opacity="0.85"/><circle cx="745.49" cy="820.65" r="0.58" fill-opacity="0.59"/><circle cx="761.44" cy="812.1" r="0.92" fill-opacity="0.79"/><circle cx="739.01" cy="789.71" r="0.96" fill-opacity="0.48"/><circle cx="703.61" cy="839.12" r="1.25" fill-opacity="0.79"/><circle cx="734.96" cy="800.88" r="0.65" fill-opacity="0.66"/><circle cx="740.04" cy="804.22" r="0.68" fill-opacity="0.71"/><circle cx="737.49" cy="811.99" r="0.65" fill-opacity="0.83"/><circle cx="672.75" cy="776.56" r="0.92" fill-opacity="0.93"/><circle cx="691.72" cy="783.47" r="0.72" fill-opacity="0.4"/><circle cx="773.03" cy="820.17" r="1.29" fill-opacity="0.36"/><circle cx="742.31" cy="831.39" r="0.65" fill-opacity="0.89"/><circle cx="727.82" cy="833.31" r="0.79" fill-opacity="0.97"/><circle cx="715.2" cy="847.12" r="0.55" fill-opacity="0.63"/><circle cx="751.94" cy="789.86" r="0.68" fill-opacity="0.78"/><circle cx="687.03" cy="783.47" r="0.92" fill-opacity="0.79"/><circle cx="713.16" cy="832.32" r="0.71" fill-opacity="0.69"/><circle cx="676.6" cy="778.35" r="0.71" fill-opacity="0.64"/><circle cx="758.09" cy="749.39" r="0.61" fill-opacity="0.82"/><circle cx="729.08" cy="853.23" r="0.55" fill-opacity="0.68"/><circle cx="682.95" cy="780.17" r="1.39" fill-opacity="0.87"/><circle cx="689.99" cy="785.47" r="0.55" fill-opacity="0.71"/><circle cx="680.44" cy="781.77" r="0.58" fill-opacity="0.73"/><circle cx="776.78" cy="817.79" r="1.23" fill-opacity="0.63"/><circle cx="709.74" cy="756.55" r="0.64" fill-opacity="0.41"/><circle cx="730.04" cy="766.92" r="0.58" fill-opacity="0.64"/><circle cx="757.9" cy="749.94" r="0.87" fill-opacity="0.98"/><circle cx="747.38" cy="838.04" r="0.55" fill-opacity="0.5"/><circle cx="737.52" cy="792.46" r="0.98" fill-opacity="0.68"/><circle cx="788.9" cy="796.76" r="0.57" fill-opacity="0.52"/><circle cx="761.4" cy="799.71" r="0.58" fill-opacity="0.94"/><circle cx="704.65" cy="780.05" r="0.86" fill-opacity="0.63"/><circle cx="685.82" cy="812.98" r="0.58" fill-opacity="0.75"/><circle cx="772.22" cy="788.79" r="1.17" fill-opacity="0.53"/><circle cx="730.45" cy="804.64" r="1.51" fill-opacity="0.43"/><circle cx="693.07" cy="834.58" r="1.09" fill-opacity="0.75"/><circle cx="677.68" cy="821.7" r="0.75" fill-opacity="0.89"/><circle cx="776.39" cy="818.48" r="0.56" fill-opacity="0.6"/><circle cx="705.9" cy="809.82" r="0.75" fill-opacity="0.9"/><circle cx="752.4" cy="807.11" r="1.5" fill-opacity="0.64"/></g>
</g></g>
<g>
<clipPath id="clip2"><rect x="1335.1" y="577.9" width="304.2" height="294.5"/></clipPath>
<g clip-path="url(#clip2)">
<rect x="1335.1" y="577.9" width="304.2" height="294.5" fill="url(#bgd)" />
<circle cx="1418" cy="653.7" r="72" fill="#9aa6bb" opacity="0.45" filter="url(#blur3)"/>
<circle cx="1561.4" cy="657.5" r="71.6" fill="#9aa6bb" opacity="0.45" filter="url(#blur3)"/>
<circle cx="1417.5" cy="797.3" r="72.2" fill="#9aa6bb" opacity="0.45" filter="url(#blur3)"/>
<circle cx="1562.4" cy="799.6" r="72.5" fill="#9aa6bb" opacity="0.45" filter="url(#blur3)"/>
<circle cx="1416.5" cy="651.2" r="71" fill="#ecebf2" stroke="#aaa5c6" stroke-width="1.1"/>
<circle cx="1416.5" cy="651.2" r="68.4" fill="none" stroke="#c9c6dc" stroke-width="0.9"/>
<circle cx="1416.5" cy="651.2" r="65.7" fill="none" stroke="#bdb9d3" stroke-width="1"/>
<circle cx="1416.5" cy="651.2" r="63.3" fill="url(#dishd)" stroke="#55536e" stroke-width="1.2"/>
<g fill="#2f2b5e"><circle cx="1472.83" cy="635.23" r="0.45" fill-opacity="0.41"/><circle cx="1442.57" cy="607.43" r="0.79" fill-opacity="0.55"/><circle cx="1380.47" cy="622.91" r="0.7" fill-opacity="0.45"/><circle cx="1383.77" cy="666.43" r="0.84" fill-opacity="1"/><circle cx="1457.49" cy="637.71" r="0.6" fill-opacity="0.52"/><circle cx="1424.63" cy="653.07" r="0.61" fill-opacity="0.56"/><circle cx="1375.22" cy="689.95" r="0.66" fill-opacity="0.71"/><circle cx="1417.17" cy="658.9" r="0.53" fill-opacity="0.44"/><circle cx="1356.37" cy="647.33" r="0.79" fill-opacity="0.47"/><circle cx="1458.25" cy="618.21" r="0.85" fill-opacity="0.94"/><circle cx="1420.78" cy="598.41" r="0.54" fill-opacity="0.99"/><circle cx="1437.97" cy="645.96" r="0.88" fill-opacity="0.81"/><circle cx="1375.2" cy="661.42" r="0.63" fill-opacity="0.95"/><circle cx="1362.02" cy="650.91" r="0.54" fill-opacity="0.92"/><circle cx="1448.32" cy="627.99" r="0.69" fill-opacity="0.95"/><circle cx="1409.84" cy="611.17" r="0.49" fill-opacity="0.56"/><circle cx="1409.5" cy="629.85" r="1.07" fill-opacity="0.52"/><circle cx="1443.36" cy="634.48" r="1.14" fill-opacity="0.81"/><circle cx="1374.53" cy="650.08" r="0.77" fill-opacity="0.73"/><circle cx="1406.87" cy="674.72" r="0.65" fill-opacity="0.96"/><circle cx="1406.1" cy="641.03" r="0.95" fill-opacity="0.82"/><circle cx="1436.81" cy="637.89" r="0.87" fill-opacity="0.39"/><circle cx="1399.58" cy="626.99" r="0.49" fill-opacity="0.92"/><circle cx="1449.63" cy="677.32" r="1" fill-opacity="0.51"/><circle cx="1430.32" cy="705.7" r="0.58" fill-opacity="0.82"/><circle cx="1450.31" cy="658.06" r="0.47" fill-opacity="0.79"/><circle cx="1467.48" cy="680.45" r="0.45" fill-opacity="0.82"/><circle cx="1444.73" cy="654.97" r="0.95" fill-opacity="0.45"/><circle cx="1436.41" cy="696.22" r="0.56" fill-opacity="0.38"/><circle cx="1437.81" cy="649.86" r="0.45" fill-opacity="0.57"/><circle cx="1378.15" cy="617.29" r="0.46" fill-opacity="0.57"/><circle cx="1454.58" cy="658.67" r="0.89" fill-opacity="0.83"/><circle cx="1458.7" cy="621.35" r="1.01" fill-opacity="0.81"/><circle cx="1390.31" cy="655.72" r="0.78" fill-opacity="0.56"/><circle cx="1447.56" cy="674.39" r="1.02" fill-opacity="0.43"/><circle cx="1385.44" cy="632.85" r="0.65" fill-opacity="0.44"/><circle cx="1444.28" cy="644.02" r="0.73" fill-opacity="0.62"/><circle cx="1459.97" cy="656.15" r="0.46" fill-opacity="0.39"/><circle cx="1438.11" cy="655.82" r="0.46" fill-opacity="0.76"/><circle cx="1356.83" cy="648.1" r="1.1" fill-opacity="1"/><circle cx="1420.74" cy="689.58" r="0.5" fill-opacity="0.73"/><circle cx="1378.58" cy="613.68" r="0.83" fill-opacity="0.52"/><circle cx="1379" cy="670.9" r="0.45" fill-opacity="0.37"/><circle cx="1401.37" cy="660.97" r="0.84" fill-opacity="0.51"/><circle cx="1435.62" cy="665.05" r="0.49" fill-opacity="0.49"/><circle cx="1377.29" cy="646.06" r="0.52" fill-opacity="0.77"/><circle cx="1429.85" cy="706.75" r="1.15" fill-opacity="0.82"/><circle cx="1378.36" cy="668.07" r="0.7" fill-opacity="0.38"/><circle cx="1379.68" cy="672.04" r="0.47" fill-opacity="0.41"/><circle cx="1427.77" cy="618.38" r="0.65" fill-opacity="0.95"/><circle cx="1393.06" cy="631.68" r="1.18" fill-opacity="0.59"/><circle cx="1465.13" cy="657.05" r="0.46" fill-opacity="0.55"/><circle cx="1442.63" cy="610.37" r="0.45" fill-opacity="0.64"/><circle cx="1382.18" cy="672.78" r="0.48" fill-opacity="0.73"/><circle cx="1443.51" cy="664.7" r="0.55" fill-opacity="0.96"/><circle cx="1462.3" cy="675.1" r="0.48" fill-opacity="0.72"/><circle cx="1385.79" cy="676.03" r="0.88" fill-opacity="0.61"/><circle cx="1430.16" cy="664.31" r="0.45" fill-opacity="0.9"/><circle cx="1379.21" cy="605.54" r="0.81" fill-opacity="0.37"/><circle cx="1388.14" cy="607.03" r="0.84" fill-opacity="0.67"/><circle cx="1391.97" cy="681.78" r="0.93" fill-opacity="0.52"/><circle cx="1376.89" cy="644.59" r="1.13" fill-opacity="0.87"/><circle cx="1466.24" cy="628.57" r="0.52" fill-opacity="0.5"/><circle cx="1387.86" cy="653.22" r="0.59" fill-opacity="0.79"/><circle cx="1455.69" cy="629.2" r="0.95" fill-opacity="0.41"/><circle cx="1379.27" cy="698.54" r="0.47" fill-opacity="0.62"/><circle cx="1430.8" cy="657.58" r="1.05" fill-opacity="0.99"/><circle cx="1404.84" cy="635.56" r="0.52" fill-opacity="0.5"/><circle cx="1393.18" cy="608.31" r="0.59" fill-opacity="0.69"/><circle cx="1449.28" cy="679.04" r="1.13" fill-opacity="0.84"/><circle cx="1451.01" cy="675.02" r="0.83" fill-opacity="0.52"/><circle cx="1447.6" cy="627.04" r="0.82" fill-opacity="0.61"/><circle cx="1469.18" cy="649.59" r="0.7" fill-opacity="0.44"/><circle cx="1408.42" cy="654.33" r="0.72" fill-opacity="0.92"/><circle cx="1434.13" cy="688.93" r="0.62" fill-opacity="0.61"/><circle cx="1402.2" cy="594.82" r="0.82" fill-opacity="0.66"/><circle cx="1448.38" cy="643.44" r="0.87" fill-opacity="0.78"/><circle cx="1420.52" cy="596.13" r="0.49" fill-opacity="0.75"/><circle cx="1376.98" cy="678.89" r="1.17" fill-opacity="0.76"/><circle cx="1455.95" cy="654.08" r="0.83" fill-opacity="0.92"/><circle cx="1384.83" cy="607.56" r="0.45" fill-opacity="0.96"/><circle cx="1410.61" cy="605.78" r="1.06" fill-opacity="0.93"/><circle cx="1460.02" cy="683.01" r="0.89" fill-opacity="0.48"/><circle cx="1414.88" cy="606.28" r="0.48" fill-opacity="0.87"/><circle cx="1446.32" cy="686.28" r="0.59" fill-opacity="0.51"/><circle cx="1380.2" cy="635.19" r="0.48" fill-opacity="0.98"/><circle cx="1418.73" cy="652.3" r="0.63" fill-opacity="0.89"/><circle cx="1388.39" cy="607.87" r="0.63" fill-opacity="0.79"/><circle cx="1401.67" cy="676.31" r="0.64" fill-opacity="0.37"/><circle cx="1461.77" cy="676.02" r="0.47" fill-opacity="0.84"/><circle cx="1424.36" cy="615.4" r="0.79" fill-opacity="0.86"/><circle cx="1429.66" cy="636.09" r="0.47" fill-opacity="0.6"/><circle cx="1386.45" cy="657.98" r="0.45" fill-opacity="0.71"/><circle cx="1450.47" cy="644.03" r="0.67" fill-opacity="0.6"/><circle cx="1364.2" cy="670.85" r="0.52" fill-opacity="0.77"/><circle cx="1373.82" cy="655.56" r="1.08" fill-opacity="0.4"/><circle cx="1430.62" cy="623.22" r="0.76" fill-opacity="0.87"/><circle cx="1395.93" cy="621.57" r="0.98" fill-opacity="0.41"/><circle cx="1392.42" cy="624.46" r="0.66" fill-opacity="0.9"/><circle cx="1430.34" cy="606.58" r="0.52" fill-opacity="0.5"/><circle cx="1390.45" cy="658.32" r="0.51" fill-opacity="0.97"/><circle cx="1457.69" cy="686.14" r="0.56" fill-opacity="0.59"/><circle cx="1410.35" cy="664.62" r="0.61" fill-opacity="0.46"/><circle cx="1387.87" cy="662.12" r="1.05" fill-opacity="0.95"/><circle cx="1372.44" cy="668.01" r="1.1" fill-opacity="0.56"/><circle cx="1438.69" cy="667.23" r="0.48" fill-opacity="0.79"/><circle cx="1392.52" cy="675.55" r="0.92" fill-opacity="0.5"/><circle cx="1433.36" cy="607.45" r="0.57" fill-opacity="0.89"/><circle cx="1385.74" cy="698.18" r="1.09" fill-opacity="0.68"/><circle cx="1394.93" cy="596.73" r="0.86" fill-opacity="0.84"/><circle cx="1456.11" cy="608.65" r="0.88" fill-opacity="0.99"/><circle cx="1404.49" cy="696.08" r="0.79" fill-opacity="0.59"/><circle cx="1398.23" cy="665.34" r="1.14" fill-opacity="0.58"/><circle cx="1360.43" cy="659.49" r="0.48" fill-opacity="0.97"/><circle cx="1422.39" cy="657.25" r="0.54" fill-opacity="0.58"/><circle cx="1465.44" cy="623.34" r="0.88" fill-opacity="0.63"/><circle cx="1390.17" cy="643.96" r="0.97" fill-opacity="0.6"/><circle cx="1406.33" cy="697.17" r="0.47" fill-opacity="0.56"/><circle cx="1431.28" cy="643.81" r="0.47" fill-opacity="0.48"/><circle cx="1416.27" cy="688.64" r="0.5" fill-opacity="0.57"/><circle cx="1417.11" cy="678.71" r="0.73" fill-opacity="0.57"/><circle cx="1380.14" cy="688.58" r="0.45" fill-opacity="0.44"/><circle cx="1438.93" cy="620.66" r="0.9" fill-opacity="0.44"/><circle cx="1362.09" cy="643.29" r="0.54" fill-opacity="0.85"/><circle cx="1388.7" cy="628.09" r="1.2" fill-opacity="0.6"/><circle cx="1370.79" cy="658.8" r="0.53" fill-opacity="0.89"/><circle cx="1379.67" cy="625.3" r="0.67" fill-opacity="0.99"/><circle cx="1471.18" cy="647.39" r="0.6" fill-opacity="0.62"/><circle cx="1405.53" cy="649.48" r="0.46" fill-opacity="1"/><circle cx="1456.81" cy="693.17" r="0.8" fill-opacity="0.94"/><circle cx="1444.29" cy="665.88" r="0.93" fill-opacity="0.36"/><circle cx="1443.15" cy="672.13" r="0.47" fill-opacity="0.45"/><circle cx="1408.66" cy="636.99" r="1.16" fill-opacity="0.77"/><circle cx="1470.6" cy="668.69" r="0.49" fill-opacity="0.66"/><circle cx="1397.53" cy="643.86" r="0.64" fill-opacity="0.39"/><circle cx="1434.42" cy="705.89" r="0.96" fill-opacity="0.69"/><circle cx="1393.23" cy="600.21" r="0.46" fill-opacity="0.67"/><circle cx="1429" cy="664.81" r="0.46" fill-opacity="0.49"/><circle cx="1440.97" cy="659.69" r="0.56" fill-opacity="0.75"/><circle cx="1452.48" cy="606.93" r="0.84" fill-opacity="0.68"/><circle cx="1435.78" cy="640.12" r="0.46" fill-opacity="0.88"/><circle cx="1398.66" cy="632.87" r="0.56" fill-opacity="0.54"/><circle cx="1382.21" cy="667.11" r="0.57" fill-opacity="0.87"/><circle cx="1433.06" cy="610.5" r="0.62" fill-opacity="0.53"/><circle cx="1422.27" cy="591.61" r="0.49" fill-opacity="0.81"/><circle cx="1401.43" cy="605.72" r="0.45" fill-opacity="0.71"/><circle cx="1423.77" cy="674.59" r="0.7" fill-opacity="0.77"/><circle cx="1380.41" cy="614.91" r="0.82" fill-opacity="0.66"/><circle cx="1466.47" cy="666.67" r="0.96" fill-opacity="0.89"/><circle cx="1408.34" cy="645.42" r="0.48" fill-opacity="0.42"/><circle cx="1388.13" cy="618.68" r="0.48" fill-opacity="0.97"/><circle cx="1472.84" cy="643.35" r="0.61" fill-opacity="0.54"/><circle cx="1430.36" cy="703.61" r="0.82" fill-opacity="0.53"/><circle cx="1452.67" cy="625.76" r="0.58" fill-opacity="0.62"/><circle cx="1409.28" cy="612.75" r="0.78" fill-opacity="0.43"/><circle cx="1407.8" cy="623.03" r="1.07" fill-opacity="0.49"/><circle cx="1395.09" cy="688.35" r="0.57" fill-opacity="0.69"/><circle cx="1438.65" cy="639.7" r="0.9" fill-opacity="0.8"/><circle cx="1425.25" cy="613.44" r="0.6" fill-opacity="0.57"/><circle cx="1388.49" cy="655.95" r="0.48" fill-opacity="0.66"/><circle cx="1430.65" cy="688.38" r="0.7" fill-opacity="0.55"/><circle cx="1438.43" cy="691.34" r="1" fill-opacity="0.49"/><circle cx="1380.69" cy="619.35" r="1.04" fill-opacity="0.79"/><circle cx="1407.48" cy="674.92" r="0.98" fill-opacity="0.54"/><circle cx="1472.19" cy="655.63" r="0.48" fill-opacity="0.55"/><circle cx="1404.54" cy="677.06" r="0.84" fill-opacity="0.57"/><circle cx="1381.69" cy="664.84" r="0.97" fill-opacity="0.36"/><circle cx="1399.15" cy="641.69" r="0.47" fill-opacity="0.74"/><circle cx="1406.99" cy="660.63" r="0.71" fill-opacity="0.94"/><circle cx="1391.4" cy="618.8" r="0.93" fill-opacity="0.95"/><circle cx="1434.55" cy="676.47" r="1.15" fill-opacity="0.95"/><circle cx="1430.99" cy="698.74" r="1.02" fill-opacity="0.73"/><circle cx="1404" cy="610.83" r="0.49" fill-opacity="0.49"/><circle cx="1461.11" cy="669.48" r="0.46" fill-opacity="0.75"/><circle cx="1386.88" cy="675.32" r="1.16" fill-opacity="0.6"/><circle cx="1381.53" cy="656.79" r="0.48" fill-opacity="0.5"/><circle cx="1363.66" cy="640.22" r="0.46" fill-opacity="0.96"/><circle cx="1410.98" cy="640.45" r="0.82" fill-opacity="0.61"/><circle cx="1399.49" cy="649.63" r="0.65" fill-opacity="0.69"/><circle cx="1425.56" cy="607.4" r="0.82" fill-opacity="0.83"/><circle cx="1417.92" cy="658.96" r="0.62" fill-opacity="0.43"/><circle cx="1436.82" cy="676.33" r="0.67" fill-opacity="0.75"/><circle cx="1381.12" cy="604.77" r="0.46" fill-opacity="0.71"/><circle cx="1457.89" cy="676.25" r="0.59" fill-opacity="0.44"/><circle cx="1398.68" cy="695.77" r="0.62" fill-opacity="0.96"/><circle cx="1396.05" cy="677.5" r="1.09" fill-opacity="0.74"/><circle cx="1457.77" cy="684.07" r="0.55" fill-opacity="0.97"/><circle cx="1381.33" cy="610.86" r="1.05" fill-opacity="0.68"/><circle cx="1424.36" cy="649.56" r="0.54" fill-opacity="0.89"/><circle cx="1464.91" cy="653.7" r="1.2" fill-opacity="0.81"/><circle cx="1426.02" cy="640.01" r="0.67" fill-opacity="0.75"/><circle cx="1382.13" cy="665.93" r="0.92" fill-opacity="0.46"/><circle cx="1459.95" cy="663.82" r="1.15" fill-opacity="0.89"/><circle cx="1402.2" cy="623.92" r="1.06" fill-opacity="0.38"/><circle cx="1417.62" cy="704.08" r="1.05" fill-opacity="0.61"/><circle cx="1431.64" cy="641.48" r="0.72" fill-opacity="0.39"/><circle cx="1419.02" cy="675.25" r="0.45" fill-opacity="0.61"/><circle cx="1386.5" cy="651.16" r="0.77" fill-opacity="0.38"/><circle cx="1374.33" cy="646.56" r="0.57" fill-opacity="0.94"/><circle cx="1442.92" cy="678.17" r="0.61" fill-opacity="0.59"/><circle cx="1460.24" cy="643.9" r="0.65" fill-opacity="0.64"/><circle cx="1362.31" cy="673.66" r="0.93" fill-opacity="0.77"/><circle cx="1440.2" cy="689.81" r="0.46" fill-opacity="0.58"/><circle cx="1465.74" cy="658.38" r="1.17" fill-opacity="0.76"/><circle cx="1391.01" cy="639.25" r="0.6" fill-opacity="0.65"/><circle cx="1390.55" cy="664.84" r="0.49" fill-opacity="0.84"/><circle cx="1468.21" cy="635.28" r="0.74" fill-opacity="0.37"/><circle cx="1398.84" cy="703.06" r="1.16" fill-opacity="0.71"/><circle cx="1372" cy="630.63" r="0.5" fill-opacity="0.81"/><circle cx="1380.09" cy="692.48" r="0.61" fill-opacity="0.78"/><circle cx="1376.39" cy="636.45" r="0.61" fill-opacity="0.97"/><circle cx="1417.63" cy="613.81" r="0.64" fill-opacity="0.93"/><circle cx="1415.61" cy="603.51" r="1.14" fill-opacity="0.43"/><circle cx="1378.51" cy="624.32" r="0.61" fill-opacity="0.98"/><circle cx="1451.71" cy="643.9" r="0.73" fill-opacity="0.85"/><circle cx="1405.03" cy="618.64" r="0.93" fill-opacity="0.58"/><circle cx="1445.56" cy="689.61" r="0.77" fill-opacity="0.62"/><circle cx="1356.6" cy="651.63" r="0.94" fill-opacity="0.61"/><circle cx="1454.14" cy="627.88" r="0.57" fill-opacity="0.77"/><circle cx="1428.39" cy="595.68" r="0.79" fill-opacity="0.78"/></g>
<circle cx="1559.9" cy="655" r="70.6" fill="#ecebf2" stroke="#aaa5c6" stroke-width="1.1"/>
<circle cx="1559.9" cy="655" r="68" fill="none" stroke="#c9c6dc" stroke-width="0.9"/>
<circle cx="1559.9" cy="655" r="65.4" fill="none" stroke="#bdb9d3" stroke-width="1"/>
<circle cx="1559.9" cy="655" r="63" fill="url(#dishd)" stroke="#55536e" stroke-width="1.2"/>
<g fill="#2f2b5e"><circle cx="1551.57" cy="660.98" r="0.61" fill-opacity="0.42"/><circle cx="1592" cy="642.82" r="0.72" fill-opacity="0.83"/><circle cx="1583.43" cy="703.91" r="0.53" fill-opacity="0.4"/><circle cx="1530.45" cy="633.67" r="1.08" fill-opacity="0.64"/><circle cx="1565.43" cy="658.73" r="0.45" fill-opacity="0.67"/><circle cx="1557.29" cy="643.59" r="0.53" fill-opacity="0.66"/><circle cx="1607.12" cy="619.59" r="1.02" fill-opacity="0.77"/><circle cx="1536.49" cy="643.05" r="0.73" fill-opacity="0.46"/><circle cx="1542.13" cy="706.16" r="0.69" fill-opacity="0.82"/><circle cx="1530.85" cy="661.42" r="0.64" fill-opacity="0.72"/><circle cx="1562.74" cy="709.63" r="1.17" fill-opacity="0.47"/><circle cx="1562.53" cy="708.42" r="0.84" fill-opacity="0.5"/><circle cx="1536.53" cy="640.98" r="1.01" fill-opacity="0.73"/><circle cx="1537.93" cy="653.5" r="0.57" fill-opacity="0.66"/><circle cx="1544.81" cy="672.83" r="0.48" fill-opacity="0.81"/><circle cx="1608.59" cy="630.17" r="0.73" fill-opacity="0.86"/><circle cx="1576.88" cy="673.93" r="0.82" fill-opacity="0.35"/><circle cx="1605.09" cy="681.31" r="0.48" fill-opacity="0.47"/><circle cx="1516.82" cy="688.22" r="0.45" fill-opacity="0.92"/><circle cx="1545" cy="696.49" r="0.62" fill-opacity="0.43"/><circle cx="1582.18" cy="649.03" r="0.94" fill-opacity="0.92"/><circle cx="1503.67" cy="671.75" r="0.45" fill-opacity="0.45"/><circle cx="1545.57" cy="656.47" r="0.94" fill-opacity="0.69"/><circle cx="1569.02" cy="626.24" r="0.45" fill-opacity="0.93"/><circle cx="1569.48" cy="690.83" r="0.46" fill-opacity="0.73"/><circle cx="1535.9" cy="660.53" r="0.45" fill-opacity="0.57"/><circle cx="1564.38" cy="634.03" r="0.49" fill-opacity="0.75"/><circle cx="1524.72" cy="615.06" r="0.76" fill-opacity="0.9"/><circle cx="1592.04" cy="702.54" r="0.45" fill-opacity="0.43"/><circle cx="1601.38" cy="686.61" r="0.64" fill-opacity="0.95"/><circle cx="1617.58" cy="645.81" r="0.73" fill-opacity="0.58"/><circle cx="1608.64" cy="641.55" r="0.48" fill-opacity="0.71"/><circle cx="1566.32" cy="655.83" r="0.76" fill-opacity="0.82"/><circle cx="1592.9" cy="615.67" r="0.46" fill-opacity="0.83"/><circle cx="1607.97" cy="649.3" r="0.62" fill-opacity="0.54"/><circle cx="1602.58" cy="673.06" r="1.14" fill-opacity="0.42"/><circle cx="1584.25" cy="603.97" r="0.54" fill-opacity="0.9"/><circle cx="1577.19" cy="680.71" r="0.69" fill-opacity="0.92"/><circle cx="1544.41" cy="651.46" r="1.1" fill-opacity="0.72"/><circle cx="1564.73" cy="628.72" r="0.53" fill-opacity="0.41"/><circle cx="1574.63" cy="690.09" r="0.58" fill-opacity="0.78"/><circle cx="1576.36" cy="626.59" r="1.09" fill-opacity="0.77"/><circle cx="1546.6" cy="674.62" r="1.14" fill-opacity="0.78"/><circle cx="1606.85" cy="667.99" r="0.56" fill-opacity="0.62"/><circle cx="1562.47" cy="628.83" r="0.5" fill-opacity="0.7"/><circle cx="1572.76" cy="646.21" r="0.97" fill-opacity="0.82"/><circle cx="1580.99" cy="697.91" r="0.74" fill-opacity="0.81"/><circle cx="1529.05" cy="647.67" r="0.64" fill-opacity="0.5"/><circle cx="1524.78" cy="665.13" r="0.46" fill-opacity="0.5"/><circle cx="1539.82" cy="684.8" r="0.69" fill-opacity="0.84"/><circle cx="1557.43" cy="698.32" r="0.54" fill-opacity="0.5"/><circle cx="1597.34" cy="700.16" r="1.1" fill-opacity="0.89"/><circle cx="1569.94" cy="673.69" r="0.46" fill-opacity="0.55"/><circle cx="1556.29" cy="656.8" r="0.58" fill-opacity="0.8"/><circle cx="1572.01" cy="634.21" r="0.45" fill-opacity="0.87"/><circle cx="1536.76" cy="676.68" r="0.47" fill-opacity="0.52"/><circle cx="1557" cy="683.27" r="0.49" fill-opacity="0.69"/><circle cx="1572.07" cy="626" r="0.58" fill-opacity="0.66"/><circle cx="1588.3" cy="611.64" r="1.18" fill-opacity="0.46"/><circle cx="1570.36" cy="626.21" r="0.7" fill-opacity="0.69"/><circle cx="1531.22" cy="640.45" r="0.45" fill-opacity="0.36"/><circle cx="1610.32" cy="630.29" r="0.61" fill-opacity="0.41"/><circle cx="1581.49" cy="620.08" r="0.62" fill-opacity="0.77"/><circle cx="1574.16" cy="676.74" r="0.95" fill-opacity="0.83"/><circle cx="1597.58" cy="651.14" r="1.16" fill-opacity="0.93"/><circle cx="1503.61" cy="652.31" r="0.47" fill-opacity="0.4"/><circle cx="1567.92" cy="636.18" r="0.65" fill-opacity="0.83"/><circle cx="1548.69" cy="631.44" r="0.91" fill-opacity="0.38"/><circle cx="1507.59" cy="633.53" r="0.67" fill-opacity="0.55"/><circle cx="1610.24" cy="654.13" r="0.92" fill-opacity="0.93"/><circle cx="1600.48" cy="637.43" r="0.96" fill-opacity="0.68"/><circle cx="1558.96" cy="684.67" r="0.5" fill-opacity="0.37"/><circle cx="1533.46" cy="630.19" r="1.07" fill-opacity="0.38"/><circle cx="1564.93" cy="631.11" r="0.53" fill-opacity="0.54"/><circle cx="1605.39" cy="642.5" r="0.61" fill-opacity="0.47"/><circle cx="1592.95" cy="665.21" r="1.16" fill-opacity="0.64"/><circle cx="1534.65" cy="605.08" r="0.45" fill-opacity="0.56"/><circle cx="1536.86" cy="668.07" r="0.56" fill-opacity="0.79"/><circle cx="1592.44" cy="691.76" r="0.52" fill-opacity="0.78"/><circle cx="1584.21" cy="701.74" r="0.58" fill-opacity="0.89"/><circle cx="1603.5" cy="645.98" r="0.45" fill-opacity="0.59"/><circle cx="1606.78" cy="647.85" r="0.88" fill-opacity="0.66"/><circle cx="1612.84" cy="634.24" r="0.73" fill-opacity="0.73"/><circle cx="1563.1" cy="657.42" r="0.48" fill-opacity="0.82"/><circle cx="1589.72" cy="612.45" r="1.04" fill-opacity="0.37"/><circle cx="1587.76" cy="660.06" r="0.45" fill-opacity="0.73"/><circle cx="1611.05" cy="630.8" r="0.46" fill-opacity="0.78"/><circle cx="1537.23" cy="613.1" r="0.58" fill-opacity="0.5"/><circle cx="1602.75" cy="617.79" r="0.83" fill-opacity="0.7"/><circle cx="1588.86" cy="661.08" r="0.49" fill-opacity="0.51"/><circle cx="1570.08" cy="701.97" r="0.8" fill-opacity="0.46"/><circle cx="1560.69" cy="654.44" r="1.13" fill-opacity="0.73"/><circle cx="1541.63" cy="631.36" r="0.81" fill-opacity="0.92"/><circle cx="1565.35" cy="673.91" r="0.92" fill-opacity="0.51"/><circle cx="1591.91" cy="680" r="0.48" fill-opacity="0.49"/><circle cx="1556.66" cy="670.07" r="0.95" fill-opacity="0.72"/><circle cx="1542.49" cy="629.97" r="0.9" fill-opacity="0.97"/><circle cx="1570.46" cy="654.97" r="0.52" fill-opacity="0.41"/><circle cx="1512.85" cy="662.51" r="0.73" fill-opacity="0.58"/><circle cx="1604.98" cy="644.5" r="1.19" fill-opacity="0.63"/><circle cx="1549.56" cy="641.71" r="0.67" fill-opacity="0.77"/><circle cx="1564.86" cy="701.04" r="0.46" fill-opacity="0.65"/><circle cx="1528.57" cy="630.04" r="0.47" fill-opacity="0.47"/><circle cx="1526.37" cy="688.54" r="0.59" fill-opacity="0.48"/><circle cx="1543.41" cy="681.75" r="0.46" fill-opacity="0.73"/><circle cx="1528.07" cy="660.86" r="0.45" fill-opacity="0.94"/><circle cx="1577.44" cy="660.14" r="0.51" fill-opacity="0.86"/><circle cx="1607.41" cy="634.98" r="0.48" fill-opacity="0.9"/><circle cx="1577.55" cy="658.65" r="0.46" fill-opacity="0.72"/><circle cx="1521.29" cy="629.26" r="1.12" fill-opacity="0.84"/><circle cx="1559" cy="632.16" r="1.07" fill-opacity="0.95"/><circle cx="1567" cy="641.75" r="0.83" fill-opacity="0.69"/><circle cx="1531.61" cy="648.28" r="0.9" fill-opacity="0.87"/><circle cx="1563.73" cy="624.18" r="0.86" fill-opacity="0.41"/><circle cx="1556.19" cy="647.03" r="0.45" fill-opacity="0.42"/><circle cx="1525.8" cy="606.29" r="0.61" fill-opacity="0.77"/><circle cx="1513.16" cy="626.85" r="1.16" fill-opacity="0.88"/><circle cx="1552.98" cy="667.29" r="1.05" fill-opacity="0.53"/><circle cx="1562.91" cy="599.68" r="0.47" fill-opacity="0.48"/><circle cx="1511.57" cy="680.55" r="0.99" fill-opacity="1"/><circle cx="1553.22" cy="700.76" r="1.02" fill-opacity="0.59"/><circle cx="1537.36" cy="641.29" r="1" fill-opacity="0.64"/><circle cx="1512.5" cy="659.1" r="0.53" fill-opacity="0.88"/><circle cx="1523.43" cy="664.55" r="0.84" fill-opacity="0.78"/><circle cx="1545.92" cy="601.03" r="0.94" fill-opacity="0.61"/><circle cx="1525.65" cy="611.51" r="0.45" fill-opacity="0.78"/><circle cx="1524.04" cy="648.75" r="0.46" fill-opacity="0.54"/><circle cx="1559.9" cy="598.92" r="1.18" fill-opacity="0.84"/><circle cx="1599.32" cy="618.06" r="0.47" fill-opacity="0.8"/><circle cx="1594.81" cy="617.42" r="0.51" fill-opacity="0.81"/><circle cx="1530.76" cy="679.15" r="0.85" fill-opacity="0.79"/><circle cx="1590.74" cy="690.43" r="0.45" fill-opacity="0.48"/><circle cx="1585.74" cy="604.12" r="0.5" fill-opacity="0.85"/><circle cx="1576.75" cy="692.26" r="0.54" fill-opacity="0.4"/><circle cx="1520.39" cy="672.64" r="0.99" fill-opacity="0.42"/><circle cx="1559.22" cy="657.83" r="0.48" fill-opacity="0.52"/><circle cx="1584.59" cy="602.57" r="0.48" fill-opacity="0.66"/><circle cx="1519.79" cy="648.97" r="1.14" fill-opacity="0.97"/><circle cx="1595.48" cy="663.78" r="0.66" fill-opacity="0.77"/><circle cx="1507.07" cy="644.81" r="0.46" fill-opacity="0.65"/><circle cx="1570.88" cy="635.14" r="0.47" fill-opacity="0.75"/><circle cx="1586.23" cy="688.97" r="0.46" fill-opacity="0.47"/><circle cx="1533.41" cy="700.27" r="0.73" fill-opacity="0.75"/><circle cx="1534.83" cy="629.04" r="1.16" fill-opacity="0.74"/><circle cx="1550.51" cy="645.17" r="0.5" fill-opacity="0.73"/><circle cx="1607.46" cy="641.46" r="0.45" fill-opacity="0.88"/><circle cx="1570.49" cy="698.85" r="0.48" fill-opacity="0.39"/><circle cx="1565.63" cy="615.07" r="0.72" fill-opacity="0.81"/><circle cx="1529.1" cy="634.39" r="0.53" fill-opacity="0.69"/><circle cx="1560.62" cy="683.74" r="0.94" fill-opacity="0.57"/><circle cx="1551.11" cy="607.29" r="0.61" fill-opacity="0.86"/><circle cx="1558.58" cy="657.39" r="0.99" fill-opacity="0.84"/><circle cx="1555.7" cy="597.84" r="0.57" fill-opacity="0.63"/><circle cx="1517.61" cy="618.82" r="0.51" fill-opacity="0.84"/><circle cx="1587.13" cy="647.48" r="0.45" fill-opacity="0.46"/><circle cx="1544.1" cy="634.55" r="1.12" fill-opacity="0.41"/><circle cx="1586.65" cy="634.19" r="1.09" fill-opacity="0.57"/><circle cx="1596.95" cy="686.07" r="0.52" fill-opacity="0.96"/><circle cx="1572.42" cy="629.53" r="0.63" fill-opacity="0.71"/><circle cx="1564.04" cy="626.46" r="0.69" fill-opacity="0.69"/></g>
<circle cx="1416" cy="794.8" r="71.2" fill="#ecebf2" stroke="#aaa5c6" stroke-width="1.1"/>
<circle cx="1416" cy="794.8" r="68.6" fill="none" stroke="#c9c6dc" stroke-width="0.9"/>
<circle cx="1416" cy="794.8" r="65.9" fill="none" stroke="#bdb9d3" stroke-width="1"/>
<circle cx="1416" cy="794.8" r="63.5" fill="url(#dishd)" stroke="#55536e" stroke-width="1.2"/>
<g fill="#2f2b5e"><circle cx="1378.74" cy="771.8" r="0.59" fill-opacity="0.6"/><circle cx="1368.32" cy="831.74" r="0.65" fill-opacity="0.42"/><circle cx="1374.99" cy="827.17" r="0.8" fill-opacity="0.4"/><circle cx="1382.58" cy="815.07" r="0.99" fill-opacity="0.52"/><circle cx="1462.7" cy="767.65" r="0.45" fill-opacity="0.67"/><circle cx="1370.02" cy="785.21" r="1.04" fill-opacity="0.48"/><circle cx="1418.14" cy="790.82" r="0.97" fill-opacity="0.52"/><circle cx="1469.25" cy="803.65" r="1.16" fill-opacity="0.78"/><circle cx="1422.4" cy="758.97" r="0.5" fill-opacity="0.78"/><circle cx="1426.56" cy="767.41" r="0.56" fill-opacity="0.53"/><circle cx="1410.81" cy="850.46" r="0.45" fill-opacity="0.36"/><circle cx="1437.34" cy="843.26" r="0.69" fill-opacity="0.84"/><circle cx="1397.06" cy="741.38" r="0.71" fill-opacity="0.36"/><circle cx="1445.73" cy="817.06" r="0.46" fill-opacity="0.55"/><circle cx="1406.75" cy="854.03" r="1.15" fill-opacity="0.79"/><circle cx="1383.27" cy="812.48" r="0.45" fill-opacity="0.64"/><circle cx="1442.54" cy="828.33" r="0.95" fill-opacity="0.61"/><circle cx="1401.35" cy="742.78" r="1.08" fill-opacity="0.63"/><circle cx="1420.6" cy="851.34" r="0.64" fill-opacity="0.53"/><circle cx="1393.32" cy="743.82" r="1.18" fill-opacity="0.59"/><circle cx="1413.36" cy="822.91" r="0.52" fill-opacity="0.49"/><circle cx="1457.21" cy="772" r="0.45" fill-opacity="0.41"/><circle cx="1439.55" cy="849.37" r="0.54" fill-opacity="0.87"/><circle cx="1419.89" cy="819.15" r="1.12" fill-opacity="0.4"/><circle cx="1373.36" cy="794.59" r="0.54" fill-opacity="0.84"/><circle cx="1432.39" cy="773.46" r="0.52" fill-opacity="0.67"/><circle cx="1369.36" cy="800.8" r="0.9" fill-opacity="0.57"/><circle cx="1452.59" cy="780.46" r="0.45" fill-opacity="0.62"/><circle cx="1392.64" cy="790.37" r="1.03" fill-opacity="0.74"/><circle cx="1385.94" cy="790.98" r="0.46" fill-opacity="0.53"/><circle cx="1385.07" cy="756.73" r="0.8" fill-opacity="0.37"/><circle cx="1424.66" cy="746.04" r="0.8" fill-opacity="0.69"/><circle cx="1451.93" cy="747.7" r="0.71" fill-opacity="0.63"/><circle cx="1364.25" cy="781.02" r="0.79" fill-opacity="0.85"/><circle cx="1399.39" cy="837.44" r="0.49" fill-opacity="0.73"/><circle cx="1458.64" cy="798.81" r="0.85" fill-opacity="0.94"/><circle cx="1360.11" cy="800.04" r="0.48" fill-opacity="0.36"/><circle cx="1384.23" cy="783.79" r="0.57" fill-opacity="0.74"/><circle cx="1418.01" cy="739.07" r="0.53" fill-opacity="0.73"/><circle cx="1382.33" cy="759.01" r="0.71" fill-opacity="0.65"/><circle cx="1418.56" cy="788.26" r="0.91" fill-opacity="0.46"/><circle cx="1436.09" cy="839.07" r="0.61" fill-opacity="0.57"/><circle cx="1426.42" cy="800.38" r="0.5" fill-opacity="0.41"/><circle cx="1407.75" cy="771.17" r="0.56" fill-opacity="0.62"/><circle cx="1400.79" cy="742.87" r="0.75" fill-opacity="0.49"/><circle cx="1444.56" cy="828.21" r="0.55" fill-opacity="0.82"/><circle cx="1426.46" cy="843.03" r="0.55" fill-opacity="0.53"/><circle cx="1437.86" cy="841.78" r="0.64" fill-opacity="0.7"/><circle cx="1420.1" cy="787.6" r="0.67" fill-opacity="0.56"/><circle cx="1418.13" cy="849.31" r="0.49" fill-opacity="0.62"/><circle cx="1397.37" cy="803.02" r="0.52" fill-opacity="0.35"/><circle cx="1369.16" cy="794.7" r="1.2" fill-opacity="0.97"/><circle cx="1386.8" cy="846.37" r="0.46" fill-opacity="0.45"/><circle cx="1367.83" cy="785.61" r="0.71" fill-opacity="0.37"/><circle cx="1381.7" cy="817.22" r="0.56" fill-opacity="0.84"/><circle cx="1415.43" cy="779.07" r="0.61" fill-opacity="0.8"/><circle cx="1427.5" cy="747.93" r="1.17" fill-opacity="0.83"/><circle cx="1373.02" cy="828.77" r="0.73" fill-opacity="0.74"/><circle cx="1372.95" cy="766.09" r="0.83" fill-opacity="0.65"/><circle cx="1424.75" cy="758.23" r="0.86" fill-opacity="0.94"/><circle cx="1395.21" cy="790.86" r="1.07" fill-opacity="0.49"/><circle cx="1418.69" cy="805.54" r="0.58" fill-opacity="0.61"/><circle cx="1425.56" cy="773.9" r="0.56" fill-opacity="0.85"/><circle cx="1452.78" cy="800.34" r="0.47" fill-opacity="0.85"/><circle cx="1409.73" cy="814.43" r="0.46" fill-opacity="0.49"/><circle cx="1410.62" cy="777.11" r="0.45" fill-opacity="0.51"/><circle cx="1465.16" cy="808.09" r="0.88" fill-opacity="0.7"/><circle cx="1410.89" cy="803.58" r="0.83" fill-opacity="0.51"/><circle cx="1358.75" cy="776.54" r="0.49" fill-opacity="0.8"/><circle cx="1376.39" cy="811.11" r="0.57" fill-opacity="0.81"/><circle cx="1406.9" cy="793.62" r="0.95" fill-opacity="0.51"/><circle cx="1392.09" cy="827.34" r="0.71" fill-opacity="0.84"/><circle cx="1442.22" cy="819.01" r="0.74" fill-opacity="0.66"/><circle cx="1418.26" cy="848.11" r="1.15" fill-opacity="0.77"/><circle cx="1394.84" cy="790.1" r="0.62" fill-opacity="0.86"/><circle cx="1400.56" cy="829.96" r="0.6" fill-opacity="0.55"/><circle cx="1392.92" cy="774.12" r="1.09" fill-opacity="0.89"/><circle cx="1411.17" cy="807.55" r="0.45" fill-opacity="0.88"/><circle cx="1399.29" cy="803.54" r="0.45" fill-opacity="0.86"/><circle cx="1431.74" cy="850.43" r="0.55" fill-opacity="0.76"/><circle cx="1388.62" cy="834.16" r="0.46" fill-opacity="0.52"/><circle cx="1425.52" cy="804.02" r="0.69" fill-opacity="0.99"/><circle cx="1472.29" cy="797.14" r="0.51" fill-opacity="0.45"/><circle cx="1449.31" cy="801.44" r="0.46" fill-opacity="0.67"/><circle cx="1394.14" cy="800.62" r="1.04" fill-opacity="0.73"/><circle cx="1417.63" cy="767.23" r="0.84" fill-opacity="0.8"/><circle cx="1419.63" cy="771.12" r="1.13" fill-opacity="0.65"/><circle cx="1466.64" cy="822.79" r="0.52" fill-opacity="0.93"/><circle cx="1419.75" cy="808.59" r="0.65" fill-opacity="0.71"/><circle cx="1394.2" cy="752.74" r="0.55" fill-opacity="0.84"/><circle cx="1395.2" cy="792.83" r="0.71" fill-opacity="0.58"/><circle cx="1394.94" cy="788.63" r="0.5" fill-opacity="0.52"/><circle cx="1412.02" cy="788.2" r="0.58" fill-opacity="0.61"/><circle cx="1429.39" cy="781.19" r="0.65" fill-opacity="0.88"/><circle cx="1366.53" cy="827" r="0.5" fill-opacity="0.67"/><circle cx="1405.73" cy="823.12" r="0.45" fill-opacity="0.86"/><circle cx="1384.93" cy="749.62" r="0.62" fill-opacity="0.47"/><circle cx="1384.88" cy="745.52" r="0.68" fill-opacity="0.52"/><circle cx="1361.11" cy="786.87" r="0.95" fill-opacity="0.76"/><circle cx="1415.52" cy="785.72" r="0.46" fill-opacity="0.36"/><circle cx="1377.12" cy="807.33" r="0.45" fill-opacity="0.88"/><circle cx="1367.29" cy="779.9" r="1.15" fill-opacity="0.85"/><circle cx="1415.07" cy="747.55" r="0.66" fill-opacity="0.85"/><circle cx="1422.34" cy="764.33" r="0.94" fill-opacity="0.45"/><circle cx="1359.39" cy="783.15" r="0.49" fill-opacity="0.93"/><circle cx="1365.39" cy="799.89" r="0.47" fill-opacity="0.38"/><circle cx="1415.7" cy="840.29" r="1.05" fill-opacity="0.72"/><circle cx="1380.82" cy="789.85" r="0.64" fill-opacity="0.81"/><circle cx="1438.65" cy="769.76" r="0.79" fill-opacity="0.58"/><circle cx="1415.75" cy="807.06" r="0.57" fill-opacity="0.75"/><circle cx="1377.16" cy="792.56" r="0.89" fill-opacity="0.64"/><circle cx="1400.14" cy="753.97" r="1.13" fill-opacity="0.57"/><circle cx="1367.12" cy="813.45" r="0.52" fill-opacity="0.87"/><circle cx="1406.27" cy="814.09" r="0.67" fill-opacity="0.71"/><circle cx="1405.88" cy="822.65" r="1.2" fill-opacity="0.68"/><circle cx="1406.7" cy="758.43" r="0.68" fill-opacity="0.54"/><circle cx="1442.66" cy="842.58" r="0.8" fill-opacity="0.55"/><circle cx="1379.45" cy="819.25" r="0.45" fill-opacity="0.75"/><circle cx="1465.11" cy="793.25" r="0.61" fill-opacity="0.43"/><circle cx="1372.43" cy="783.93" r="0.81" fill-opacity="0.92"/></g>
<circle cx="1560.9" cy="797.1" r="71.5" fill="#ecebf2" stroke="#aaa5c6" stroke-width="1.1"/>
<circle cx="1560.9" cy="797.1" r="68.9" fill="none" stroke="#c9c6dc" stroke-width="0.9"/>
<circle cx="1560.9" cy="797.1" r="66.2" fill="none" stroke="#bdb9d3" stroke-width="1"/>
<circle cx="1560.9" cy="797.1" r="63.8" fill="url(#dishd)" stroke="#55536e" stroke-width="1.2"/>
<g fill="#2f2b5e"><circle cx="1558.78" cy="814.57" r="1.15" fill-opacity="0.7"/><circle cx="1595.95" cy="767.17" r="1.06" fill-opacity="0.74"/><circle cx="1553.81" cy="750.3" r="1.13" fill-opacity="0.84"/><circle cx="1597.93" cy="790.96" r="0.48" fill-opacity="0.48"/><circle cx="1518.5" cy="809.05" r="0.81" fill-opacity="0.65"/><circle cx="1597" cy="788.97" r="0.45" fill-opacity="0.69"/><circle cx="1545.61" cy="773.81" r="0.86" fill-opacity="0.48"/><circle cx="1593.01" cy="774.97" r="1.13" fill-opacity="0.75"/><circle cx="1556.73" cy="771.97" r="1.03" fill-opacity="0.99"/><circle cx="1587.41" cy="833.5" r="0.47" fill-opacity="0.92"/><circle cx="1599.04" cy="753.69" r="0.89" fill-opacity="0.6"/><circle cx="1552.25" cy="787.68" r="0.46" fill-opacity="0.71"/><circle cx="1559.13" cy="766.14" r="0.45" fill-opacity="0.38"/><circle cx="1543.89" cy="828.04" r="1.07" fill-opacity="0.8"/><circle cx="1599.36" cy="761.94" r="0.82" fill-opacity="0.85"/><circle cx="1570.15" cy="848.49" r="0.7" fill-opacity="0.77"/><circle cx="1521.84" cy="798.13" r="0.98" fill-opacity="0.87"/><circle cx="1580.55" cy="849.48" r="0.67" fill-opacity="0.39"/><circle cx="1574.94" cy="742.19" r="0.59" fill-opacity="0.63"/><circle cx="1557.73" cy="821.57" r="0.66" fill-opacity="0.63"/><circle cx="1533.37" cy="757.42" r="0.48" fill-opacity="0.85"/><circle cx="1525.55" cy="808.36" r="0.48" fill-opacity="0.75"/><circle cx="1538.2" cy="749.08" r="0.96" fill-opacity="0.58"/><circle cx="1516.34" cy="783.76" r="0.56" fill-opacity="0.36"/><circle cx="1553.3" cy="740.25" r="0.62" fill-opacity="0.95"/><circle cx="1603.76" cy="811.56" r="0.57" fill-opacity="0.77"/><circle cx="1528.5" cy="836.1" r="0.48" fill-opacity="0.54"/><circle cx="1528.9" cy="816.88" r="0.58" fill-opacity="0.96"/><circle cx="1516.82" cy="793.26" r="0.46" fill-opacity="0.7"/><circle cx="1564.33" cy="747.14" r="1.14" fill-opacity="0.74"/><circle cx="1521.96" cy="837.82" r="1.17" fill-opacity="0.98"/><circle cx="1597.75" cy="829.45" r="0.47" fill-opacity="0.52"/><circle cx="1570.24" cy="741.43" r="0.71" fill-opacity="0.56"/><circle cx="1529.21" cy="799.93" r="0.5" fill-opacity="0.48"/><circle cx="1616.45" cy="778.75" r="0.48" fill-opacity="0.9"/><circle cx="1560.44" cy="746.16" r="0.5" fill-opacity="0.7"/><circle cx="1580.83" cy="751.23" r="1.1" fill-opacity="0.39"/><circle cx="1543.74" cy="827.86" r="0.58" fill-opacity="0.99"/><circle cx="1614.74" cy="786.16" r="0.77" fill-opacity="0.85"/><circle cx="1576.02" cy="775.91" r="0.74" fill-opacity="0.99"/><circle cx="1580.47" cy="830.79" r="0.55" fill-opacity="0.91"/><circle cx="1540.98" cy="801.79" r="0.56" fill-opacity="0.77"/><circle cx="1552.82" cy="794.75" r="0.95" fill-opacity="0.53"/><circle cx="1606.69" cy="807.49" r="0.79" fill-opacity="0.74"/><circle cx="1566.94" cy="801.03" r="0.84" fill-opacity="0.68"/><circle cx="1604.99" cy="800.15" r="0.46" fill-opacity="0.66"/><circle cx="1554.18" cy="771.17" r="0.57" fill-opacity="0.82"/><circle cx="1553.36" cy="843.26" r="0.45" fill-opacity="0.81"/><circle cx="1564.23" cy="835.3" r="1.19" fill-opacity="0.86"/><circle cx="1582.31" cy="846.35" r="0.57" fill-opacity="0.67"/><circle cx="1556.56" cy="819.91" r="1.18" fill-opacity="0.6"/><circle cx="1575.51" cy="848.95" r="0.46" fill-opacity="0.62"/><circle cx="1568.06" cy="803.42" r="1.18" fill-opacity="0.67"/><circle cx="1548.79" cy="779.7" r="0.55" fill-opacity="0.39"/><circle cx="1563.21" cy="793.6" r="1.11" fill-opacity="0.97"/><circle cx="1570.64" cy="826.12" r="0.47" fill-opacity="0.37"/><circle cx="1518.72" cy="803.67" r="1.03" fill-opacity="0.66"/><circle cx="1578.36" cy="831.05" r="0.47" fill-opacity="0.37"/><circle cx="1519.07" cy="832.75" r="0.45" fill-opacity="0.98"/><circle cx="1593.71" cy="746.15" r="0.72" fill-opacity="0.55"/><circle cx="1563.61" cy="775.97" r="0.65" fill-opacity="0.89"/><circle cx="1509.82" cy="785.11" r="0.47" fill-opacity="0.91"/><circle cx="1580.3" cy="824.06" r="0.71" fill-opacity="0.95"/><circle cx="1582.9" cy="817.73" r="0.9" fill-opacity="0.51"/><circle cx="1542.31" cy="811.81" r="1.19" fill-opacity="0.86"/><circle cx="1516.96" cy="838.85" r="1.04" fill-opacity="0.56"/><circle cx="1605.99" cy="820.12" r="0.75" fill-opacity="0.52"/><circle cx="1591.42" cy="798.76" r="1.1" fill-opacity="0.79"/><circle cx="1536.55" cy="753.59" r="0.5" fill-opacity="0.92"/><circle cx="1503.47" cy="807.23" r="0.73" fill-opacity="0.79"/><circle cx="1602.59" cy="753.7" r="0.83" fill-opacity="0.96"/><circle cx="1533.43" cy="813.96" r="0.5" fill-opacity="0.59"/><circle cx="1586.87" cy="776.95" r="0.5" fill-opacity="0.41"/><circle cx="1549.88" cy="739.64" r="0.58" fill-opacity="0.45"/><circle cx="1565.33" cy="741.73" r="0.57" fill-opacity="0.66"/><circle cx="1530.61" cy="827.79" r="0.78" fill-opacity="0.95"/><circle cx="1531.01" cy="848.61" r="0.73" fill-opacity="0.65"/><circle cx="1576.23" cy="774.06" r="0.67" fill-opacity="0.94"/><circle cx="1589.18" cy="748.78" r="0.66" fill-opacity="0.77"/><circle cx="1566.29" cy="769.54" r="1.15" fill-opacity="0.87"/><circle cx="1515.18" cy="800.53" r="1.12" fill-opacity="0.36"/><circle cx="1552.46" cy="853.06" r="0.45" fill-opacity="0.8"/><circle cx="1552.59" cy="823.86" r="0.45" fill-opacity="0.54"/><circle cx="1528.82" cy="832.93" r="0.95" fill-opacity="0.74"/><circle cx="1585.23" cy="832.11" r="1.09" fill-opacity="0.5"/><circle cx="1552.35" cy="772.04" r="0.52" fill-opacity="0.7"/><circle cx="1582.4" cy="759.57" r="0.48" fill-opacity="0.72"/><circle cx="1609.35" cy="813.74" r="0.68" fill-opacity="0.57"/><circle cx="1536.83" cy="772.39" r="0.63" fill-opacity="0.73"/><circle cx="1568.43" cy="773.76" r="1.15" fill-opacity="0.9"/><circle cx="1582.68" cy="850.59" r="0.5" fill-opacity="0.9"/><circle cx="1573.72" cy="851.64" r="1.01" fill-opacity="0.71"/><circle cx="1538.58" cy="750.04" r="0.75" fill-opacity="0.57"/><circle cx="1568.08" cy="740.05" r="0.67" fill-opacity="0.91"/><circle cx="1535.71" cy="826.99" r="0.8" fill-opacity="0.56"/><circle cx="1573.88" cy="745.07" r="0.48" fill-opacity="0.61"/><circle cx="1592.01" cy="768.52" r="0.45" fill-opacity="0.88"/><circle cx="1577.35" cy="833.62" r="1.06" fill-opacity="0.85"/><circle cx="1560.68" cy="790.66" r="0.5" fill-opacity="0.42"/><circle cx="1586.76" cy="793.95" r="0.47" fill-opacity="0.81"/></g>
</g></g>
<text x="613.21" y="533.1" font-size="31.19" textLength="94.19" lengthAdjust="spacingAndGlyphs" font-weight="bold" >CaSki</text>
<text x="545.45" y="575.1" font-size="32.37" textLength="70.74" lengthAdjust="spacingAndGlyphs" >CTR</text>
<text x="677.61" y="575.1" font-size="31.19" textLength="126.9" lengthAdjust="spacingAndGlyphs" >Olaparib</text>
<text x="546.1" y="920.8" font-size="32.85" textLength="35.76" lengthAdjust="spacingAndGlyphs" >IR</text>
<text x="635.2" y="920.8" font-size="31.19" textLength="181.27" lengthAdjust="spacingAndGlyphs" >Olaparib+IR</text>
<text x="1456.52" y="533.1" font-size="32.37" textLength="63.53" lengthAdjust="spacingAndGlyphs" font-weight="bold" >C-4I</text>
<text x="1372.16" y="575.1" font-size="32.37" textLength="70.53" lengthAdjust="spacingAndGlyphs" >CTR</text>
<text x="1513.41" y="575.1" font-size="31.19" textLength="126.8" lengthAdjust="spacingAndGlyphs" >Olaparib</text>
<text x="1364.16" y="920.8" font-size="32.85" textLength="35.06" lengthAdjust="spacingAndGlyphs" >IR</text>
<text x="1466.6" y="920.8" font-size="31.19" textLength="180.66" lengthAdjust="spacingAndGlyphs" >Olaparib+IR</text>
<line x1="131" y1="1078.95" x2="131" y2="1428.65" stroke="#000" stroke-width="1.9" />
<line x1="119.7" y1="1427.65" x2="131" y2="1427.65" stroke="#000" stroke-width="1.9" />
<line x1="119.7" y1="1369.7" x2="131" y2="1369.7" stroke="#000" stroke-width="1.9" />
<line x1="119.7" y1="1311.75" x2="131" y2="1311.75" stroke="#000" stroke-width="1.9" />
<line x1="119.7" y1="1253.8" x2="131" y2="1253.8" stroke="#000" stroke-width="1.9" />
<line x1="119.7" y1="1195.85" x2="131" y2="1195.85" stroke="#000" stroke-width="1.9" />
<line x1="119.7" y1="1137.9" x2="131" y2="1137.9" stroke="#000" stroke-width="1.9" />
<line x1="119.7" y1="1079.95" x2="131" y2="1079.95" stroke="#000" stroke-width="1.9" />
<text x="103.77" y="1433.35" font-size="22.5" textLength="12.51" lengthAdjust="spacingAndGlyphs" >0</text>
<text x="91.25" y="1375.4" font-size="22.5" textLength="25.03" lengthAdjust="spacingAndGlyphs" >20</text>
<text x="91.25" y="1317.45" font-size="22.5" textLength="25.03" lengthAdjust="spacingAndGlyphs" >40</text>
<text x="91.25" y="1259.5" font-size="22.5" textLength="25.03" lengthAdjust="spacingAndGlyphs" >60</text>
<text x="91.25" y="1201.55" font-size="22.5" textLength="25.03" lengthAdjust="spacingAndGlyphs" >80</text>
<text x="78.74" y="1143.6" font-size="22.5" textLength="37.54" lengthAdjust="spacingAndGlyphs" >100</text>
<text x="78.74" y="1085.65" font-size="22.5" textLength="37.54" lengthAdjust="spacingAndGlyphs" >120</text>
<line x1="119.7" y1="1427.65" x2="478.9" y2="1427.65" stroke="#000" stroke-width="1.9" />
<line x1="150" y1="1427.65" x2="150" y2="1437.95" stroke="#000" stroke-width="1.9" />
<line x1="188.7" y1="1427.65" x2="188.7" y2="1437.95" stroke="#000" stroke-width="1.9" />
<line x1="227.4" y1="1427.65" x2="227.4" y2="1437.95" stroke="#000" stroke-width="1.9" />
<line x1="266.1" y1="1427.65" x2="266.1" y2="1437.95" stroke="#000" stroke-width="1.9" />
<line x1="304.8" y1="1427.65" x2="304.8" y2="1437.95" stroke="#000" stroke-width="1.9" />
<line x1="343.5" y1="1427.65" x2="343.5" y2="1437.95" stroke="#000" stroke-width="1.9" />
<line x1="382.2" y1="1427.65" x2="382.2" y2="1437.95" stroke="#000" stroke-width="1.9" />
<line x1="420.9" y1="1427.65" x2="420.9" y2="1437.95" stroke="#000" stroke-width="1.9" />
<line x1="459.6" y1="1427.65" x2="459.6" y2="1437.95" stroke="#000" stroke-width="1.9" />
<rect x="134" y="1137.9" width="32" height="44.04" fill="#C4C400" />
<rect x="134" y="1181.94" width="32" height="72.73" fill="#008000" />
<rect x="134" y="1254.67" width="32" height="172.98" fill="#E5E5E5" />
<line x1="134" y1="1181.94" x2="166" y2="1181.94" stroke="#000" stroke-width="1.8" />
<line x1="134" y1="1254.67" x2="166" y2="1254.67" stroke="#000" stroke-width="1.8" />
<rect x="134" y="1137.9" width="32" height="289.75" fill="none" stroke="#000" stroke-width="1.8" rx="1"/>
<line x1="150" y1="1181.94" x2="150" y2="1177.31" stroke="#000" stroke-width="1.8" />
<line x1="142.2" y1="1177.31" x2="157.8" y2="1177.31" stroke="#000" stroke-width="1.8" />
<line x1="150" y1="1254.67" x2="150" y2="1249.74" stroke="#000" stroke-width="1.8" />
<line x1="142.2" y1="1249.74" x2="157.8" y2="1249.74" stroke="#000" stroke-width="1.8" />
<rect x="172.7" y="1137.9" width="32" height="50.42" fill="#C4C400" />
<rect x="172.7" y="1188.32" width="32" height="71.28" fill="#008000" />
<rect x="172.7" y="1259.6" width="32" height="168.06" fill="#E5E5E5" />
<line x1="172.7" y1="1188.32" x2="204.7" y2="1188.32" stroke="#000" stroke-width="1.8" />
<line x1="172.7" y1="1259.6" x2="204.7" y2="1259.6" stroke="#000" stroke-width="1.8" />
<rect x="172.7" y="1137.9" width="32" height="289.75" fill="none" stroke="#000" stroke-width="1.8" rx="1"/>
<line x1="188.7" y1="1137.9" x2="188.7" y2="1131.24" stroke="#000" stroke-width="1.8" />
<line x1="180.9" y1="1131.24" x2="196.5" y2="1131.24" stroke="#000" stroke-width="1.8" />
<line x1="188.7" y1="1259.6" x2="188.7" y2="1252.93" stroke="#000" stroke-width="1.8" />
<line x1="180.9" y1="1252.93" x2="196.5" y2="1252.93" stroke="#000" stroke-width="1.8" />
<rect x="211.4" y="1137.9" width="32" height="78.52" fill="#C4C400" />
<rect x="211.4" y="1216.42" width="32" height="52.15" fill="#008000" />
<rect x="211.4" y="1268.58" width="32" height="159.07" fill="#E5E5E5" />
<line x1="211.4" y1="1216.42" x2="243.4" y2="1216.42" stroke="#000" stroke-width="1.8" />
<line x1="211.4" y1="1268.58" x2="243.4" y2="1268.58" stroke="#000" stroke-width="1.8" />
<rect x="211.4" y="1137.9" width="32" height="289.75" fill="none" stroke="#000" stroke-width="1.8" rx="1"/>
<line x1="227.4" y1="1137.9" x2="227.4" y2="1132.97" stroke="#000" stroke-width="1.8" />
<line x1="219.6" y1="1132.97" x2="235.2" y2="1132.97" stroke="#000" stroke-width="1.8" />
<line x1="227.4" y1="1216.42" x2="227.4" y2="1212.66" stroke="#000" stroke-width="1.8" />
<line x1="219.6" y1="1212.66" x2="235.2" y2="1212.66" stroke="#000" stroke-width="1.8" />
<line x1="227.4" y1="1268.58" x2="227.4" y2="1266.84" stroke="#000" stroke-width="1.8" />
<line x1="219.6" y1="1266.84" x2="235.2" y2="1266.84" stroke="#000" stroke-width="1.8" />
<rect x="250.1" y="1137.9" width="32" height="93.3" fill="#C4C400" />
<rect x="250.1" y="1231.2" width="32" height="53.02" fill="#008000" />
<rect x="250.1" y="1284.22" width="32" height="143.43" fill="#E5E5E5" />
<line x1="250.1" y1="1231.2" x2="282.1" y2="1231.2" stroke="#000" stroke-width="1.8" />
<line x1="250.1" y1="1284.22" x2="282.1" y2="1284.22" stroke="#000" stroke-width="1.8" />
<rect x="250.1" y="1137.9" width="32" height="289.75" fill="none" stroke="#000" stroke-width="1.8" rx="1"/>
<line x1="266.1" y1="1137.9" x2="266.1" y2="1130.08" stroke="#000" stroke-width="1.8" />
<line x1="258.3" y1="1130.08" x2="273.9" y2="1130.08" stroke="#000" stroke-width="1.8" />
<line x1="266.1" y1="1231.2" x2="266.1" y2="1227.14" stroke="#000" stroke-width="1.8" />
<line x1="258.3" y1="1227.14" x2="273.9" y2="1227.14" stroke="#000" stroke-width="1.8" />
<line x1="266.1" y1="1284.22" x2="266.1" y2="1280.17" stroke="#000" stroke-width="1.8" />
<line x1="258.3" y1="1280.17" x2="273.9" y2="1280.17" stroke="#000" stroke-width="1.8" />
<rect x="327.5" y="1137.9" width="32" height="40.28" fill="#C4C400" />
<rect x="327.5" y="1178.18" width="32" height="69.54" fill="#008000" />
<rect x="327.5" y="1247.72" width="32" height="179.93" fill="#E5E5E5" />
<line x1="327.5" y1="1178.18" x2="359.5" y2="1178.18" stroke="#000" stroke-width="1.8" />
<line x1="327.5" y1="1247.72" x2="359.5" y2="1247.72" stroke="#000" stroke-width="1.8" />
<rect x="327.5" y="1137.9" width="32" height="289.75" fill="none" stroke="#000" stroke-width="1.8" rx="1"/>
<line x1="343.5" y1="1137.9" x2="343.5" y2="1133.55" stroke="#000" stroke-width="1.8" />
<line x1="335.7" y1="1133.55" x2="351.3" y2="1133.55" stroke="#000" stroke-width="1.8" />
<line x1="343.5" y1="1178.18" x2="343.5" y2="1176.98" stroke="#000" stroke-width="1.8" />
<line x1="335.7" y1="1176.98" x2="351.3" y2="1176.98" stroke="#000" stroke-width="1.8" />
<line x1="343.5" y1="1247.72" x2="343.5" y2="1241.92" stroke="#000" stroke-width="1.8" />
<line x1="335.7" y1="1241.92" x2="351.3" y2="1241.92" stroke="#000" stroke-width="1.8" />
<rect x="366.2" y="1137.9" width="32" height="41.14" fill="#C4C400" />
<rect x="366.2" y="1179.04" width="32" height="67.51" fill="#008000" />
<rect x="366.2" y="1246.56" width="32" height="181.09" fill="#E5E5E5" />
<line x1="366.2" y1="1179.04" x2="398.2" y2="1179.04" stroke="#000" stroke-width="1.8" />
<line x1="366.2" y1="1246.56" x2="398.2" y2="1246.56" stroke="#000" stroke-width="1.8" />
<rect x="366.2" y="1137.9" width="32" height="289.75" fill="none" stroke="#000" stroke-width="1.8" rx="1"/>
<line x1="382.2" y1="1137.9" x2="382.2" y2="1132.97" stroke="#000" stroke-width="1.8" />
<line x1="374.4" y1="1132.97" x2="390" y2="1132.97" stroke="#000" stroke-width="1.8" />
<line x1="382.2" y1="1179.04" x2="382.2" y2="1173.83" stroke="#000" stroke-width="1.8" />
<line x1="374.4" y1="1173.83" x2="390" y2="1173.83" stroke="#000" stroke-width="1.8" />
<rect x="404.9" y="1137.9" width="32" height="53.02" fill="#C4C400" />
<rect x="404.9" y="1190.92" width="32" height="66.35" fill="#008000" />
<rect x="404.9" y="1257.28" width="32" height="170.37" fill="#E5E5E5" />
<line x1="404.9" y1="1190.92" x2="436.9" y2="1190.92" stroke="#000" stroke-width="1.8" />
<line x1="404.9" y1="1257.28" x2="436.9" y2="1257.28" stroke="#000" stroke-width="1.8" />
<rect x="404.9" y="1137.9" width="32" height="289.75" fill="none" stroke="#000" stroke-width="1.8" rx="1"/>
<line x1="420.9" y1="1190.92" x2="420.9" y2="1185.71" stroke="#000" stroke-width="1.8" />
<line x1="413.1" y1="1185.71" x2="428.7" y2="1185.71" stroke="#000" stroke-width="1.8" />
<line x1="420.9" y1="1257.28" x2="420.9" y2="1250.61" stroke="#000" stroke-width="1.8" />
<line x1="413.1" y1="1250.61" x2="428.7" y2="1250.61" stroke="#000" stroke-width="1.8" />
<rect x="443.6" y="1137.9" width="32" height="64.9" fill="#C4C400" />
<rect x="443.6" y="1202.8" width="32" height="63.74" fill="#008000" />
<rect x="443.6" y="1266.55" width="32" height="161.1" fill="#E5E5E5" />
<line x1="443.6" y1="1202.8" x2="475.6" y2="1202.8" stroke="#000" stroke-width="1.8" />
<line x1="443.6" y1="1266.55" x2="475.6" y2="1266.55" stroke="#000" stroke-width="1.8" />
<rect x="443.6" y="1137.9" width="32" height="289.75" fill="none" stroke="#000" stroke-width="1.8" rx="1"/>
<line x1="459.6" y1="1137.9" x2="459.6" y2="1134.71" stroke="#000" stroke-width="1.8" />
<line x1="451.8" y1="1134.71" x2="467.4" y2="1134.71" stroke="#000" stroke-width="1.8" />
<line x1="459.6" y1="1202.8" x2="459.6" y2="1199.33" stroke="#000" stroke-width="1.8" />
<line x1="451.8" y1="1199.33" x2="467.4" y2="1199.33" stroke="#000" stroke-width="1.8" />
<text x="-1339.67" y="81.8" font-size="23.6" textLength="168.42" lengthAdjust="spacingAndGlyphs" transform="rotate(-90)">Cell distribution %</text>
<text x="0" y="0" font-size="21.3" text-anchor="end" transform="translate(152.3,1448.85) rotate(-30)">CTR</text>
<text x="0" y="0" font-size="21.3" text-anchor="end" transform="translate(191,1448.85) rotate(-30)">Olaparib</text>
<text x="0" y="0" font-size="21.3" text-anchor="end" transform="translate(229.7,1448.85) rotate(-30)">IR</text>
<text x="0" y="0" font-size="21.3" text-anchor="end" transform="translate(268.4,1448.85) rotate(-30)">Olaparib+IR</text>
<text x="0" y="0" font-size="21.3" text-anchor="end" transform="translate(345.8,1448.85) rotate(-30)">CTR</text>
<text x="0" y="0" font-size="21.3" text-anchor="end" transform="translate(384.5,1448.85) rotate(-30)">Olaparib</text>
<text x="0" y="0" font-size="21.3" text-anchor="end" transform="translate(423.2,1448.85) rotate(-30)">IR</text>
<text x="0" y="0" font-size="21.3" text-anchor="end" transform="translate(461.9,1448.85) rotate(-30)">Olaparib+IR</text>
<line x1="115.1" y1="1515.8" x2="272" y2="1515.8" stroke="#000" stroke-width="1.9" />
<text x="169.28" y="1549.4" font-size="20.29" textLength="43.16" lengthAdjust="spacingAndGlyphs" >24 h</text>
<line x1="310.8" y1="1515.8" x2="467.9" y2="1515.8" stroke="#000" stroke-width="1.9" />
<text x="360.6" y="1549.4" font-size="20.29" textLength="42" lengthAdjust="spacingAndGlyphs" >48 h</text>
<rect x="511.9" y="1063.5" width="41.6" height="8.1" fill="#E5E5E5" stroke="#000" stroke-width="1.8" rx="1.5"/>
<rect x="511.9" y="1093" width="41.6" height="8.1" fill="#008000" stroke="#000" stroke-width="1.8" rx="1.5"/>
<rect x="511.9" y="1124.2" width="41.6" height="8.4" fill="#C4C400" stroke="#000" stroke-width="1.8" rx="1.5"/>
<text x="577.19" y="1075.07" font-size="23.16" textLength="26.79" lengthAdjust="spacingAndGlyphs" >G1</text>
<text x="577.19" y="1104.58" font-size="22.74" textLength="14.83" lengthAdjust="spacingAndGlyphs" >S</text>
<text x="577.17" y="1136.08" font-size="22.06" textLength="49.9" lengthAdjust="spacingAndGlyphs" >G2/M</text>
<text x="273.59" y="1032.7" font-size="22.77" textLength="61.99" lengthAdjust="spacingAndGlyphs" font-weight="bold" >CaSki</text>
<text x="222.41" y="1132.83" font-size="31.45" textLength="11.72" lengthAdjust="spacingAndGlyphs" font-weight="bold" >*</text>
<text x="259.51" y="1132.83" font-size="31.45" textLength="11.82" lengthAdjust="spacingAndGlyphs" font-weight="bold" >*</text>
<text x="452.71" y="1132.75" font-size="31.18" textLength="12.42" lengthAdjust="spacingAndGlyphs" font-weight="bold" >*</text>
<path d="M417.8,1102.8 V1088.3 H460 V1102.8" fill="none" stroke="#000" stroke-width="1.9" />
<text x="431.13" y="1079.87" font-size="31.54" textLength="14.42" lengthAdjust="spacingAndGlyphs" font-weight="bold" >&#167;</text>
<line x1="129.8" y1="1625.05" x2="129.8" y2="1972.95" stroke="#000" stroke-width="1.9" />
<line x1="118.5" y1="1971.95" x2="129.8" y2="1971.95" stroke="#000" stroke-width="1.9" />
<line x1="118.5" y1="1914.3" x2="129.8" y2="1914.3" stroke="#000" stroke-width="1.9" />
<line x1="118.5" y1="1856.65" x2="129.8" y2="1856.65" stroke="#000" stroke-width="1.9" />
<line x1="118.5" y1="1799" x2="129.8" y2="1799" stroke="#000" stroke-width="1.9" />
<line x1="118.5" y1="1741.35" x2="129.8" y2="1741.35" stroke="#000" stroke-width="1.9" />
<line x1="118.5" y1="1683.7" x2="129.8" y2="1683.7" stroke="#000" stroke-width="1.9" />
<line x1="118.5" y1="1626.05" x2="129.8" y2="1626.05" stroke="#000" stroke-width="1.9" />
<text x="102.57" y="1977.65" font-size="22.5" textLength="12.51" lengthAdjust="spacingAndGlyphs" >0</text>
<text x="90.05" y="1920" font-size="22.5" textLength="25.03" lengthAdjust="spacingAndGlyphs" >20</text>
<text x="90.05" y="1862.35" font-size="22.5" textLength="25.03" lengthAdjust="spacingAndGlyphs" >40</text>
<text x="90.05" y="1804.7" font-size="22.5" textLength="25.03" lengthAdjust="spacingAndGlyphs" >60</text>
<text x="90.05" y="1747.05" font-size="22.5" textLength="25.03" lengthAdjust="spacingAndGlyphs" >80</text>
<text x="77.54" y="1689.4" font-size="22.5" textLength="37.54" lengthAdjust="spacingAndGlyphs" >100</text>
<text x="77.54" y="1631.75" font-size="22.5" textLength="37.54" lengthAdjust="spacingAndGlyphs" >120</text>
<line x1="118.5" y1="1971.95" x2="474.9" y2="1971.95" stroke="#000" stroke-width="1.9" />
<line x1="149" y1="1971.95" x2="149" y2="1982.25" stroke="#000" stroke-width="1.9" />
<line x1="187.3" y1="1971.95" x2="187.3" y2="1982.25" stroke="#000" stroke-width="1.9" />
<line x1="225.6" y1="1971.95" x2="225.6" y2="1982.25" stroke="#000" stroke-width="1.9" />
<line x1="263.9" y1="1971.95" x2="263.9" y2="1982.25" stroke="#000" stroke-width="1.9" />
<line x1="302.2" y1="1971.95" x2="302.2" y2="1982.25" stroke="#000" stroke-width="1.9" />
<line x1="340.5" y1="1971.95" x2="340.5" y2="1982.25" stroke="#000" stroke-width="1.9" />
<line x1="378.8" y1="1971.95" x2="378.8" y2="1982.25" stroke="#000" stroke-width="1.9" />
<line x1="417.1" y1="1971.95" x2="417.1" y2="1982.25" stroke="#000" stroke-width="1.9" />
<line x1="455.4" y1="1971.95" x2="455.4" y2="1982.25" stroke="#000" stroke-width="1.9" />
<rect x="133.2" y="1683.99" width="31.6" height="24.5" fill="#C4C400" />
<rect x="133.2" y="1708.49" width="31.6" height="71.2" fill="#008000" />
<rect x="133.2" y="1779.69" width="31.6" height="192.26" fill="#E5E5E5" />
<line x1="133.2" y1="1708.49" x2="164.8" y2="1708.49" stroke="#000" stroke-width="1.8" />
<line x1="133.2" y1="1779.69" x2="164.8" y2="1779.69" stroke="#000" stroke-width="1.8" />
<rect x="133.2" y="1683.99" width="31.6" height="287.96" fill="none" stroke="#000" stroke-width="1.8" rx="1"/>
<line x1="149" y1="1683.99" x2="149" y2="1681.68" stroke="#000" stroke-width="1.8" />
<line x1="141.2" y1="1681.68" x2="156.8" y2="1681.68" stroke="#000" stroke-width="1.8" />
<line x1="149" y1="1708.49" x2="149" y2="1706.76" stroke="#000" stroke-width="1.8" />
<line x1="141.2" y1="1706.76" x2="156.8" y2="1706.76" stroke="#000" stroke-width="1.8" />
<line x1="149" y1="1779.69" x2="149" y2="1774.79" stroke="#000" stroke-width="1.8" />
<line x1="141.2" y1="1774.79" x2="156.8" y2="1774.79" stroke="#000" stroke-width="1.8" />
<rect x="171.5" y="1686.01" width="31.6" height="27.96" fill="#C4C400" />
<rect x="171.5" y="1713.97" width="31.6" height="73.22" fill="#008000" />
<rect x="171.5" y="1787.18" width="31.6" height="184.77" fill="#E5E5E5" />
<line x1="171.5" y1="1713.97" x2="203.1" y2="1713.97" stroke="#000" stroke-width="1.8" />
<line x1="171.5" y1="1787.18" x2="203.1" y2="1787.18" stroke="#000" stroke-width="1.8" />
<rect x="171.5" y="1686.01" width="31.6" height="285.94" fill="none" stroke="#000" stroke-width="1.8" rx="1"/>
<line x1="187.3" y1="1686.01" x2="187.3" y2="1681.11" stroke="#000" stroke-width="1.8" />
<line x1="179.5" y1="1681.11" x2="195.1" y2="1681.11" stroke="#000" stroke-width="1.8" />
<line x1="187.3" y1="1787.18" x2="187.3" y2="1783.72" stroke="#000" stroke-width="1.8" />
<line x1="179.5" y1="1783.72" x2="195.1" y2="1783.72" stroke="#000" stroke-width="1.8" />
<rect x="209.8" y="1686.01" width="31.6" height="79.56" fill="#C4C400" />
<rect x="209.8" y="1765.56" width="31.6" height="65.72" fill="#008000" />
<rect x="209.8" y="1831.28" width="31.6" height="140.67" fill="#E5E5E5" />
<line x1="209.8" y1="1765.56" x2="241.4" y2="1765.56" stroke="#000" stroke-width="1.8" />
<line x1="209.8" y1="1831.28" x2="241.4" y2="1831.28" stroke="#000" stroke-width="1.8" />
<rect x="209.8" y="1686.01" width="31.6" height="285.94" fill="none" stroke="#000" stroke-width="1.8" rx="1"/>
<line x1="225.6" y1="1686.01" x2="225.6" y2="1681.11" stroke="#000" stroke-width="1.8" />
<line x1="217.8" y1="1681.11" x2="233.4" y2="1681.11" stroke="#000" stroke-width="1.8" />
<line x1="225.6" y1="1765.56" x2="225.6" y2="1763.26" stroke="#000" stroke-width="1.8" />
<line x1="217.8" y1="1763.26" x2="233.4" y2="1763.26" stroke="#000" stroke-width="1.8" />
<rect x="248.1" y="1686.01" width="31.6" height="98.29" fill="#C4C400" />
<rect x="248.1" y="1784.3" width="31.6" height="71.2" fill="#008000" />
<rect x="248.1" y="1855.5" width="31.6" height="116.45" fill="#E5E5E5" />
<line x1="248.1" y1="1784.3" x2="279.7" y2="1784.3" stroke="#000" stroke-width="1.8" />
<line x1="248.1" y1="1855.5" x2="279.7" y2="1855.5" stroke="#000" stroke-width="1.8" />
<rect x="248.1" y="1686.01" width="31.6" height="285.94" fill="none" stroke="#000" stroke-width="1.8" rx="1"/>
<line x1="263.9" y1="1686.01" x2="263.9" y2="1683.99" stroke="#000" stroke-width="1.8" />
<line x1="256.1" y1="1683.99" x2="271.7" y2="1683.99" stroke="#000" stroke-width="1.8" />
<line x1="263.9" y1="1784.3" x2="263.9" y2="1779.4" stroke="#000" stroke-width="1.8" />
<line x1="256.1" y1="1779.4" x2="271.7" y2="1779.4" stroke="#000" stroke-width="1.8" />
<line x1="263.9" y1="1855.5" x2="263.9" y2="1853.48" stroke="#000" stroke-width="1.8" />
<line x1="256.1" y1="1853.48" x2="271.7" y2="1853.48" stroke="#000" stroke-width="1.8" />
<rect x="324.7" y="1683.99" width="31.6" height="22.77" fill="#C4C400" />
<rect x="324.7" y="1706.76" width="31.6" height="74.37" fill="#008000" />
<rect x="324.7" y="1781.13" width="31.6" height="190.82" fill="#E5E5E5" />
<line x1="324.7" y1="1706.76" x2="356.3" y2="1706.76" stroke="#000" stroke-width="1.8" />
<line x1="324.7" y1="1781.13" x2="356.3" y2="1781.13" stroke="#000" stroke-width="1.8" />
<rect x="324.7" y="1683.99" width="31.6" height="287.96" fill="none" stroke="#000" stroke-width="1.8" rx="1"/>
<line x1="340.5" y1="1683.99" x2="340.5" y2="1681.97" stroke="#000" stroke-width="1.8" />
<line x1="332.7" y1="1681.97" x2="348.3" y2="1681.97" stroke="#000" stroke-width="1.8" />
<line x1="340.5" y1="1706.76" x2="340.5" y2="1702.44" stroke="#000" stroke-width="1.8" />
<line x1="332.7" y1="1702.44" x2="348.3" y2="1702.44" stroke="#000" stroke-width="1.8" />
<line x1="340.5" y1="1781.13" x2="340.5" y2="1774.5" stroke="#000" stroke-width="1.8" />
<line x1="332.7" y1="1774.5" x2="348.3" y2="1774.5" stroke="#000" stroke-width="1.8" />
<rect x="363" y="1684.28" width="31.6" height="24.5" fill="#C4C400" />
<rect x="363" y="1708.78" width="31.6" height="81.29" fill="#008000" />
<rect x="363" y="1790.06" width="31.6" height="181.89" fill="#E5E5E5" />
<line x1="363" y1="1708.78" x2="394.6" y2="1708.78" stroke="#000" stroke-width="1.8" />
<line x1="363" y1="1790.06" x2="394.6" y2="1790.06" stroke="#000" stroke-width="1.8" />
<rect x="363" y="1684.28" width="31.6" height="287.67" fill="none" stroke="#000" stroke-width="1.8" rx="1"/>
<line x1="378.8" y1="1684.28" x2="378.8" y2="1678.22" stroke="#000" stroke-width="1.8" />
<line x1="371" y1="1678.22" x2="386.6" y2="1678.22" stroke="#000" stroke-width="1.8" />
<line x1="378.8" y1="1708.78" x2="378.8" y2="1696.38" stroke="#000" stroke-width="1.8" />
<line x1="371" y1="1696.38" x2="386.6" y2="1696.38" stroke="#000" stroke-width="1.8" />
<line x1="378.8" y1="1790.06" x2="378.8" y2="1770.46" stroke="#000" stroke-width="1.8" />
<line x1="371" y1="1770.46" x2="386.6" y2="1770.46" stroke="#000" stroke-width="1.8" />
<rect x="401.3" y="1682.84" width="31.6" height="31.42" fill="#C4C400" />
<rect x="401.3" y="1714.25" width="31.6" height="99.73" fill="#008000" />
<rect x="401.3" y="1813.99" width="31.6" height="157.96" fill="#E5E5E5" />
<line x1="401.3" y1="1714.25" x2="432.9" y2="1714.25" stroke="#000" stroke-width="1.8" />
<line x1="401.3" y1="1813.99" x2="432.9" y2="1813.99" stroke="#000" stroke-width="1.8" />
<rect x="401.3" y="1682.84" width="31.6" height="289.11" fill="none" stroke="#000" stroke-width="1.8" rx="1"/>
<line x1="417.1" y1="1682.84" x2="417.1" y2="1675.63" stroke="#000" stroke-width="1.8" />
<line x1="409.3" y1="1675.63" x2="424.9" y2="1675.63" stroke="#000" stroke-width="1.8" />
<line x1="417.1" y1="1714.25" x2="417.1" y2="1709.35" stroke="#000" stroke-width="1.8" />
<line x1="409.3" y1="1709.35" x2="424.9" y2="1709.35" stroke="#000" stroke-width="1.8" />
<line x1="417.1" y1="1813.99" x2="417.1" y2="1796.69" stroke="#000" stroke-width="1.8" />
<line x1="409.3" y1="1796.69" x2="424.9" y2="1796.69" stroke="#000" stroke-width="1.8" />
<rect x="439.6" y="1682.84" width="31.6" height="38.63" fill="#C4C400" />
<rect x="439.6" y="1721.46" width="31.6" height="105.5" fill="#008000" />
<rect x="439.6" y="1826.96" width="31.6" height="144.99" fill="#E5E5E5" />
<line x1="439.6" y1="1721.46" x2="471.2" y2="1721.46" stroke="#000" stroke-width="1.8" />
<line x1="439.6" y1="1826.96" x2="471.2" y2="1826.96" stroke="#000" stroke-width="1.8" />
<rect x="439.6" y="1682.84" width="31.6" height="289.11" fill="none" stroke="#000" stroke-width="1.8" rx="1"/>
<line x1="455.4" y1="1682.84" x2="455.4" y2="1680.24" stroke="#000" stroke-width="1.8" />
<line x1="447.6" y1="1680.24" x2="463.2" y2="1680.24" stroke="#000" stroke-width="1.8" />
<line x1="455.4" y1="1721.46" x2="455.4" y2="1715.7" stroke="#000" stroke-width="1.8" />
<line x1="447.6" y1="1715.7" x2="463.2" y2="1715.7" stroke="#000" stroke-width="1.8" />
<line x1="455.4" y1="1826.96" x2="455.4" y2="1816.3" stroke="#000" stroke-width="1.8" />
<line x1="447.6" y1="1816.3" x2="463.2" y2="1816.3" stroke="#000" stroke-width="1.8" />
<text x="-1883.06" y="81" font-size="23.46" textLength="166.8" lengthAdjust="spacingAndGlyphs" transform="rotate(-90)">Cell distribution %</text>
<text x="0" y="0" font-size="21.3" text-anchor="end" transform="translate(151.3,1993.15) rotate(-30)">CTR</text>
<text x="0" y="0" font-size="21.3" text-anchor="end" transform="translate(189.6,1993.15) rotate(-30)">Olaparib</text>
<text x="0" y="0" font-size="21.3" text-anchor="end" transform="translate(227.9,1993.15) rotate(-30)">IR</text>
<text x="0" y="0" font-size="21.3" text-anchor="end" transform="translate(266.2,1993.15) rotate(-30)">Olaparib+IR</text>
<text x="0" y="0" font-size="21.3" text-anchor="end" transform="translate(342.8,1993.15) rotate(-30)">CTR</text>
<text x="0" y="0" font-size="21.3" text-anchor="end" transform="translate(381.1,1993.15) rotate(-30)">Olaparib</text>
<text x="0" y="0" font-size="21.3" text-anchor="end" transform="translate(419.4,1993.15) rotate(-30)">IR</text>
<text x="0" y="0" font-size="21.3" text-anchor="end" transform="translate(457.7,1993.15) rotate(-30)">Olaparib+IR</text>
<line x1="115.7" y1="2054.1" x2="271.9" y2="2054.1" stroke="#000" stroke-width="1.9" />
<text x="170" y="2087.3" font-size="20.29" textLength="42.62" lengthAdjust="spacingAndGlyphs" >24 h</text>
<line x1="310" y1="2054.1" x2="466.4" y2="2054.1" stroke="#000" stroke-width="1.9" />
<text x="359.81" y="2087.3" font-size="20.29" textLength="41.58" lengthAdjust="spacingAndGlyphs" >48 h</text>
<rect x="507.4" y="1610.2" width="41.3" height="7.9" fill="#E5E5E5" stroke="#000" stroke-width="1.8" rx="1.5"/>
<rect x="507.4" y="1639.4" width="41.3" height="8.1" fill="#008000" stroke="#000" stroke-width="1.8" rx="1.5"/>
<rect x="507.4" y="1670.5" width="41.3" height="8.2" fill="#C4C400" stroke="#000" stroke-width="1.8" rx="1.5"/>
<text x="572.19" y="1621.77" font-size="23.16" textLength="26.79" lengthAdjust="spacingAndGlyphs" >G1</text>
<text x="572.21" y="1650.88" font-size="22.17" textLength="14.6" lengthAdjust="spacingAndGlyphs" >S</text>
<text x="572.18" y="1682.18" font-size="22.06" textLength="49.48" lengthAdjust="spacingAndGlyphs" >G2/M</text>
<text x="213.41" y="1683.05" font-size="31.18" textLength="24.42" lengthAdjust="spacingAndGlyphs" font-weight="bold" >**</text>
<text x="251.1" y="1683.05" font-size="31.18" textLength="38.33" lengthAdjust="spacingAndGlyphs" font-weight="bold" >***</text>
<text x="448" y="1682.93" font-size="31.45" textLength="13.54" lengthAdjust="spacingAndGlyphs" font-weight="bold" >*</text>
<path d="M229,1653.1 V1638.6 H271.2 V1653.1" fill="none" stroke="#000" stroke-width="1.9" />
<text x="242.64" y="1630" font-size="31.29" textLength="14.08" lengthAdjust="spacingAndGlyphs" font-weight="bold" >&#167;</text>
<g>
<path d="M839.6,1366.5 L839.6,1366.5 L840.1,1366.5 L840.6,1366.5 L841.1,1366.5 L841.6,1366.5 L842.1,1366.5 L842.6,1366.5 L843.1,1366.5 L843.6,1366.5 L844.1,1366.5 L844.6,1366.5 L845.1,1366.5 L845.6,1366.5 L846.1,1366.5 L846.6,1366.5 L847.1,1366.5 L847.6,1366.5 L848.1,1366.5 L848.6,1366.5 L849.1,1366.5 L849.6,1366.5 L850.1,1366.5 L850.6,1366.5 L851.1,1366.5 L851.6,1366.5 L852.1,1366.5 L852.6,1366.5 L853.1,1366.5 L853.6,1366.5 L854.1,1366.5 L854.6,1366.5 L855.1,1366.5 L855.6,1366.5 L856.1,1366.5 L856.6,1366.5 L857.1,1366.5 L857.6,1366.5 L858.1,1366.5 L858.6,1366.5 L859.1,1366.5 L859.6,1366.5 L860.1,1366.5 L860.6,1366.5 L861.1,1366.5 L861.6,1366.5 L862.1,1366.5 L862.6,1366.5 L863.1,1366.5 L863.6,1366.5 L864.1,1366.5 L864.6,1366.5 L865.1,1366.5 L865.6,1366.5 L866.1,1366.5 L866.6,1366.5 L867.1,1366.5 L867.6,1366.5 L868.1,1366.5 L868.6,1366.5 L869.1,1366.5 L869.6,1366.5 L870.1,1366.5 L870.6,1366.5 L871.1,1366.5 L871.6,1366.5 L872.1,1366.5 L872.6,1366.46 L873.1,1366.38 L873.6,1366.25 L874.1,1366.07 L874.6,1365.85 L875.1,1365.58 L875.6,1365.27 L876.1,1364.92 L876.6,1364.53 L877.1,1364.11 L877.6,1363.66 L878.1,1363.18 L878.6,1362.67 L879.1,1362.15 L879.6,1361.61 L880.1,1361.06 L880.6,1360.5 L881.1,1359.94 L881.6,1359.38 L882.1,1358.82 L882.6,1358.27 L883.1,1357.74 L883.6,1357.22 L884.1,1356.73 L884.6,1356.26 L885.1,1355.82 L885.6,1355.41 L886.1,1355.04 L886.6,1354.7 L887.1,1354.41 L887.6,1354.16 L888.1,1353.95 L888.6,1353.79 L889.1,1353.68 L889.6,1353.62 L890.1,1353.6 L890.6,1353.6 L891.1,1353.6 L891.6,1353.6 L892.1,1353.6 L892.6,1353.6 L893.1,1353.6 L893.6,1353.6 L894.1,1353.6 L894.6,1353.6 L895.1,1353.6 L895.6,1353.6 L896.1,1353.6 L896.6,1353.6 L897.1,1353.6 L897.6,1353.6 L898.1,1353.6 L898.6,1353.6 L899.1,1353.6 L899.6,1353.6 L900.1,1353.6 L900.6,1353.6 L901.1,1353.6 L901.6,1353.6 L902.1,1353.6 L902.6,1353.6 L903.1,1353.6 L903.6,1353.6 L904.1,1353.6 L904.6,1353.6 L905.1,1353.6 L905.6,1353.6 L906.1,1353.6 L906.6,1353.6 L907.1,1353.6 L907.6,1353.6 L908.1,1353.6 L908.6,1353.6 L909.1,1353.6 L909.6,1353.6 L910.1,1353.6 L910.6,1353.6 L911.1,1353.6 L911.6,1353.6 L912.1,1353.6 L912.6,1353.6 L913.1,1353.6 L913.6,1353.6 L914.1,1353.6 L914.6,1353.6 L915.1,1353.6 L915.6,1353.6 L916.1,1353.6 L916.6,1353.6 L917.1,1353.6 L917.6,1353.6 L918.1,1353.6 L918.6,1353.6 L919.1,1353.6 L919.6,1353.6 L920.1,1353.6 L920.6,1353.6 L921.1,1353.6 L921.6,1353.6 L922.1,1353.6 L922.6,1353.6 L923.1,1353.6 L923.6,1353.6 L924.1,1353.6 L924.6,1353.6 L925.1,1353.6 L925.6,1353.6 L926.1,1353.6 L926.6,1353.6 L927.1,1353.6 L927.6,1353.6 L928.1,1353.6 L928.6,1353.6 L929.1,1353.6 L929.6,1353.6 L930.1,1353.6 L930.6,1353.62 L931.1,1353.65 L931.6,1353.72 L932.1,1353.8 L932.6,1353.9 L933.1,1354.03 L933.6,1354.18 L934.1,1354.35 L934.6,1354.54 L935.1,1354.74 L935.6,1354.97 L936.1,1355.21 L936.6,1355.48 L937.1,1355.75 L937.6,1356.05 L938.1,1356.35 L938.6,1356.67 L939.1,1357 L939.6,1357.35 L940.1,1357.7 L940.6,1358.06 L941.1,1358.42 L941.6,1358.8 L942.1,1359.17 L942.6,1359.55 L943.1,1359.94 L943.6,1360.32 L944.1,1360.7 L944.6,1361.08 L945.1,1361.45 L945.6,1361.82 L946.1,1362.19 L946.6,1362.54 L947.1,1362.89 L947.6,1363.23 L948.1,1363.56 L948.6,1363.87 L949.1,1364.17 L949.6,1364.46 L950.1,1364.73 L950.6,1364.99 L951.1,1365.22 L951.6,1365.44 L952.1,1365.64 L952.6,1365.82 L953.1,1365.98 L953.6,1366.12 L954.1,1366.24 L954.6,1366.34 L955.1,1366.41 L955.6,1366.46 L956.1,1366.49 L956.6,1366.5 L957.1,1366.5 L957.6,1366.5 L958.1,1366.5 L958.6,1366.5 L959.1,1366.5 L959.6,1366.5 L960.1,1366.5 L960.6,1366.5 L961.1,1366.5 L961.6,1366.5 L962.1,1366.5 L962.6,1366.5 L963.1,1366.5 L963.6,1366.5 L964.1,1366.5 L964.6,1366.5 L965.1,1366.5 L965.6,1366.5 L966.1,1366.5 L966.6,1366.5 L967.1,1366.5 L967.6,1366.5 L968.1,1366.5 L968.6,1366.5 L969.1,1366.5 L969.6,1366.5 L970.1,1366.5 L970.6,1366.5 L971.1,1366.5 L971.6,1366.5 L972.1,1366.5 L972.6,1366.5 L973.1,1366.5 L973.6,1366.5 L974.1,1366.5 L974.6,1366.5 L975.1,1366.5 L975.6,1366.5 L976.1,1366.5 L976.6,1366.5 L977.1,1366.5 L977.6,1366.5 L978.1,1366.5 L978.6,1366.5 L979.1,1366.5 L979.6,1366.5 L980.1,1366.5 L980.6,1366.5 L981.1,1366.5 L981.6,1366.5 L982.1,1366.5 L982.6,1366.5 L983.1,1366.5 L983.6,1366.5 L984.1,1366.5 L984.6,1366.5 L985.1,1366.5 L985.6,1366.5 L986.1,1366.5 L986.6,1366.5 L987.1,1366.5 L987.6,1366.5 L988.1,1366.5 L988.6,1366.5 L989.1,1366.5 L989.6,1366.5 L990.1,1366.5 L990.6,1366.5 L991.1,1366.5 L991.6,1366.5 L992.1,1366.5 L992.6,1366.5 L993.1,1366.5 L993.6,1366.5 L994.1,1366.5 L994.6,1366.5 L995.1,1366.5 L995.6,1366.5 L996.1,1366.5 L996.6,1366.5 L997.1,1366.5 L997.6,1366.5 L998.1,1366.5 L998.6,1366.5 L999.1,1366.5 L999.6,1366.5 L1000.1,1366.5 L1000.1,1366.5 Z" fill="#E2E2F2" />
<path d="M839.6,1366.5 L839.6,1366.5 L840.1,1366.5 L840.6,1366.5 L841.1,1366.5 L841.6,1366.5 L842.1,1366.5 L842.6,1366.5 L843.1,1366.5 L843.6,1366.5 L844.1,1366.5 L844.6,1366.5 L845.1,1366.5 L845.6,1366.5 L846.1,1366.5 L846.6,1366.5 L847.1,1366.5 L847.6,1366.5 L848.1,1366.5 L848.6,1366.5 L849.1,1366.5 L849.6,1366.5 L850.1,1366.5 L850.6,1366.5 L851.1,1366.5 L851.6,1366.5 L852.1,1366.5 L852.6,1366.5 L853.1,1366.49 L853.6,1366.49 L854.1,1366.49 L854.6,1366.48 L855.1,1366.47 L855.6,1366.46 L856.1,1366.45 L856.6,1366.43 L857.1,1366.4 L857.6,1366.36 L858.1,1366.31 L858.6,1366.24 L859.1,1366.15 L859.6,1366.03 L860.1,1365.88 L860.6,1365.68 L861.1,1365.43 L861.6,1365.12 L862.1,1364.72 L862.6,1364.22 L863.1,1363.6 L863.6,1362.84 L864.1,1361.92 L864.6,1360.79 L865.1,1359.45 L865.6,1357.84 L866.1,1355.95 L866.6,1353.73 L867.1,1351.15 L867.6,1348.18 L868.1,1344.78 L868.6,1340.93 L869.1,1336.6 L869.6,1331.79 L870.1,1326.48 L870.6,1320.68 L871.1,1314.39 L871.6,1307.66 L872.1,1300.52 L872.6,1293.02 L873.1,1285.23 L873.6,1277.25 L874.1,1269.15 L874.6,1261.06 L875.1,1253.08 L875.6,1245.35 L876.1,1237.98 L876.6,1231.11 L877.1,1224.86 L877.6,1219.34 L878.1,1214.67 L878.6,1210.94 L879.1,1208.21 L879.6,1206.56 L880.1,1206 L880.6,1206.56 L881.1,1208.21 L881.6,1210.94 L882.1,1214.67 L882.6,1219.34 L883.1,1224.86 L883.6,1231.11 L884.1,1237.98 L884.6,1245.35 L885.1,1253.08 L885.6,1261.06 L886.1,1269.15 L886.6,1277.25 L887.1,1285.23 L887.6,1293.02 L888.1,1300.52 L888.6,1307.66 L889.1,1314.39 L889.6,1320.68 L890.1,1326.48 L890.6,1331.79 L891.1,1336.6 L891.6,1340.93 L892.1,1344.78 L892.6,1348.18 L893.1,1351.15 L893.6,1353.73 L894.1,1355.95 L894.6,1357.84 L895.1,1359.45 L895.6,1360.79 L896.1,1361.92 L896.6,1362.84 L897.1,1363.6 L897.6,1364.22 L898.1,1364.72 L898.6,1365.12 L899.1,1365.43 L899.6,1365.68 L900.1,1365.88 L900.6,1366.03 L901.1,1366.15 L901.6,1366.24 L902.1,1366.31 L902.6,1366.36 L903.1,1366.4 L903.6,1366.43 L904.1,1366.45 L904.6,1366.46 L905.1,1366.47 L905.6,1366.48 L906.1,1366.49 L906.6,1366.49 L907.1,1366.49 L907.6,1366.5 L908.1,1366.5 L908.6,1366.5 L909.1,1366.5 L909.6,1366.5 L910.1,1366.5 L910.6,1366.5 L911.1,1366.5 L911.6,1366.5 L912.1,1366.5 L912.6,1366.5 L913.1,1366.5 L913.6,1366.5 L914.1,1366.5 L914.6,1366.5 L915.1,1366.5 L915.6,1366.5 L916.1,1366.5 L916.6,1366.5 L917.1,1366.5 L917.6,1366.5 L918.1,1366.5 L918.6,1366.5 L919.1,1366.5 L919.6,1366.5 L920.1,1366.5 L920.6,1366.5 L921.1,1366.5 L921.6,1366.5 L922.1,1366.5 L922.6,1366.5 L923.1,1366.5 L923.6,1366.5 L924.1,1366.5 L924.6,1366.5 L925.1,1366.5 L925.6,1366.5 L926.1,1366.5 L926.6,1366.5 L927.1,1366.5 L927.6,1366.5 L928.1,1366.5 L928.6,1366.5 L929.1,1366.5 L929.6,1366.5 L930.1,1366.5 L930.6,1366.5 L931.1,1366.5 L931.6,1366.5 L932.1,1366.5 L932.6,1366.5 L933.1,1366.5 L933.6,1366.5 L934.1,1366.5 L934.6,1366.5 L935.1,1366.5 L935.6,1366.5 L936.1,1366.5 L936.6,1366.5 L937.1,1366.5 L937.6,1366.5 L938.1,1366.5 L938.6,1366.5 L939.1,1366.5 L939.6,1366.5 L940.1,1366.5 L940.6,1366.5 L941.1,1366.5 L941.6,1366.5 L942.1,1366.5 L942.6,1366.5 L943.1,1366.5 L943.6,1366.5 L944.1,1366.5 L944.6,1366.5 L945.1,1366.5 L945.6,1366.5 L946.1,1366.5 L946.6,1366.5 L947.1,1366.5 L947.6,1366.5 L948.1,1366.5 L948.6,1366.5 L949.1,1366.5 L949.6,1366.5 L950.1,1366.5 L950.6,1366.5 L951.1,1366.5 L951.6,1366.5 L952.1,1366.5 L952.6,1366.5 L953.1,1366.5 L953.6,1366.5 L954.1,1366.5 L954.6,1366.5 L955.1,1366.5 L955.6,1366.5 L956.1,1366.5 L956.6,1366.5 L957.1,1366.5 L957.6,1366.5 L958.1,1366.5 L958.6,1366.5 L959.1,1366.5 L959.6,1366.5 L960.1,1366.5 L960.6,1366.5 L961.1,1366.5 L961.6,1366.5 L962.1,1366.5 L962.6,1366.5 L963.1,1366.5 L963.6,1366.5 L964.1,1366.5 L964.6,1366.5 L965.1,1366.5 L965.6,1366.5 L966.1,1366.5 L966.6,1366.5 L967.1,1366.5 L967.6,1366.5 L968.1,1366.5 L968.6,1366.5 L969.1,1366.5 L969.6,1366.5 L970.1,1366.5 L970.6,1366.5 L971.1,1366.5 L971.6,1366.5 L972.1,1366.5 L972.6,1366.5 L973.1,1366.5 L973.6,1366.5 L974.1,1366.5 L974.6,1366.5 L975.1,1366.5 L975.6,1366.5 L976.1,1366.5 L976.6,1366.5 L977.1,1366.5 L977.6,1366.5 L978.1,1366.5 L978.6,1366.5 L979.1,1366.5 L979.6,1366.5 L980.1,1366.5 L980.6,1366.5 L981.1,1366.5 L981.6,1366.5 L982.1,1366.5 L982.6,1366.5 L983.1,1366.5 L983.6,1366.5 L984.1,1366.5 L984.6,1366.5 L985.1,1366.5 L985.6,1366.5 L986.1,1366.5 L986.6,1366.5 L987.1,1366.5 L987.6,1366.5 L988.1,1366.5 L988.6,1366.5 L989.1,1366.5 L989.6,1366.5 L990.1,1366.5 L990.6,1366.5 L991.1,1366.5 L991.6,1366.5 L992.1,1366.5 L992.6,1366.5 L993.1,1366.5 L993.6,1366.5 L994.1,1366.5 L994.6,1366.5 L995.1,1366.5 L995.6,1366.5 L996.1,1366.5 L996.6,1366.5 L997.1,1366.5 L997.6,1366.5 L998.1,1366.5 L998.6,1366.5 L999.1,1366.5 L999.6,1366.5 L1000.1,1366.5 L1000.1,1366.5 Z" fill="#FF0000" />
<path d="M839.6,1366.5 L839.6,1366.5 L840.1,1366.5 L840.6,1366.5 L841.1,1366.5 L841.6,1366.5 L842.1,1366.5 L842.6,1366.5 L843.1,1366.5 L843.6,1366.5 L844.1,1366.5 L844.6,1366.5 L845.1,1366.5 L845.6,1366.5 L846.1,1366.5 L846.6,1366.5 L847.1,1366.5 L847.6,1366.5 L848.1,1366.5 L848.6,1366.5 L849.1,1366.5 L849.6,1366.5 L850.1,1366.5 L850.6,1366.5 L851.1,1366.5 L851.6,1366.5 L852.1,1366.5 L852.6,1366.5 L853.1,1366.5 L853.6,1366.5 L854.1,1366.5 L854.6,1366.5 L855.1,1366.5 L855.6,1366.5 L856.1,1366.5 L856.6,1366.5 L857.1,1366.5 L857.6,1366.5 L858.1,1366.5 L858.6,1366.5 L859.1,1366.5 L859.6,1366.5 L860.1,1366.5 L860.6,1366.5 L861.1,1366.5 L861.6,1366.5 L862.1,1366.5 L862.6,1366.5 L863.1,1366.5 L863.6,1366.5 L864.1,1366.5 L864.6,1366.5 L865.1,1366.5 L865.6,1366.5 L866.1,1366.5 L866.6,1366.5 L867.1,1366.5 L867.6,1366.5 L868.1,1366.5 L868.6,1366.5 L869.1,1366.5 L869.6,1366.5 L870.1,1366.5 L870.6,1366.5 L871.1,1366.5 L871.6,1366.5 L872.1,1366.5 L872.6,1366.46 L873.1,1366.38 L873.6,1366.25 L874.1,1366.07 L874.6,1365.85 L875.1,1365.58 L875.6,1365.27 L876.1,1364.92 L876.6,1364.53 L877.1,1364.11 L877.6,1363.66 L878.1,1363.18 L878.6,1362.67 L879.1,1362.15 L879.6,1361.61 L880.1,1361.06 L880.6,1360.5 L881.1,1359.94 L881.6,1359.38 L882.1,1358.82 L882.6,1358.27 L883.1,1357.74 L883.6,1357.22 L884.1,1356.73 L884.6,1356.26 L885.1,1355.82 L885.6,1355.41 L886.1,1355.04 L886.6,1354.7 L887.1,1354.41 L887.6,1354.16 L888.1,1353.95 L888.6,1353.79 L889.1,1353.68 L889.6,1353.62 L890.1,1353.6 L890.6,1353.6 L891.1,1353.6 L891.6,1353.6 L892.1,1353.6 L892.6,1353.6 L893.1,1353.6 L893.6,1353.73 L894.1,1355.95 L894.6,1357.84 L895.1,1359.45 L895.6,1360.79 L896.1,1361.92 L896.6,1362.84 L897.1,1363.6 L897.6,1364.22 L898.1,1364.72 L898.6,1365.12 L899.1,1365.43 L899.6,1365.68 L900.1,1365.88 L900.6,1366.03 L901.1,1366.15 L901.6,1366.24 L902.1,1366.31 L902.6,1366.36 L903.1,1366.4 L903.6,1366.43 L904.1,1366.45 L904.6,1366.46 L905.1,1366.47 L905.6,1366.48 L906.1,1366.49 L906.6,1366.49 L907.1,1366.49 L907.6,1366.5 L908.1,1366.5 L908.6,1366.5 L909.1,1366.5 L909.6,1366.5 L910.1,1366.5 L910.6,1366.5 L911.1,1366.5 L911.6,1366.5 L912.1,1366.5 L912.6,1366.5 L913.1,1366.5 L913.6,1366.5 L914.1,1366.5 L914.6,1366.5 L915.1,1366.5 L915.6,1366.5 L916.1,1366.5 L916.6,1366.5 L917.1,1366.5 L917.6,1366.5 L918.1,1366.5 L918.6,1366.5 L919.1,1366.5 L919.6,1366.5 L920.1,1366.5 L920.6,1366.5 L921.1,1366.5 L921.6,1366.5 L922.1,1366.5 L922.6,1366.5 L923.1,1366.5 L923.6,1366.5 L924.1,1366.5 L924.6,1366.5 L925.1,1366.5 L925.6,1366.5 L926.1,1366.5 L926.6,1366.5 L927.1,1366.5 L927.6,1366.5 L928.1,1366.5 L928.6,1366.5 L929.1,1366.5 L929.6,1366.5 L930.1,1366.5 L930.6,1366.5 L931.1,1366.5 L931.6,1366.5 L932.1,1366.5 L932.6,1366.5 L933.1,1366.5 L933.6,1366.5 L934.1,1366.5 L934.6,1366.5 L935.1,1366.5 L935.6,1366.5 L936.1,1366.5 L936.6,1366.5 L937.1,1366.5 L937.6,1366.5 L938.1,1366.5 L938.6,1366.5 L939.1,1366.5 L939.6,1366.5 L940.1,1366.5 L940.6,1366.5 L941.1,1366.5 L941.6,1366.5 L942.1,1366.5 L942.6,1366.5 L943.1,1366.5 L943.6,1366.5 L944.1,1366.5 L944.6,1366.5 L945.1,1366.5 L945.6,1366.5 L946.1,1366.5 L946.6,1366.5 L947.1,1366.5 L947.6,1366.5 L948.1,1366.5 L948.6,1366.5 L949.1,1366.5 L949.6,1366.5 L950.1,1366.5 L950.6,1366.5 L951.1,1366.5 L951.6,1366.5 L952.1,1366.5 L952.6,1366.5 L953.1,1366.5 L953.6,1366.5 L954.1,1366.5 L954.6,1366.5 L955.1,1366.5 L955.6,1366.5 L956.1,1366.5 L956.6,1366.5 L957.1,1366.5 L957.6,1366.5 L958.1,1366.5 L958.6,1366.5 L959.1,1366.5 L959.6,1366.5 L960.1,1366.5 L960.6,1366.5 L961.1,1366.5 L961.6,1366.5 L962.1,1366.5 L962.6,1366.5 L963.1,1366.5 L963.6,1366.5 L964.1,1366.5 L964.6,1366.5 L965.1,1366.5 L965.6,1366.5 L966.1,1366.5 L966.6,1366.5 L967.1,1366.5 L967.6,1366.5 L968.1,1366.5 L968.6,1366.5 L969.1,1366.5 L969.6,1366.5 L970.1,1366.5 L970.6,1366.5 L971.1,1366.5 L971.6,1366.5 L972.1,1366.5 L972.6,1366.5 L973.1,1366.5 L973.6,1366.5 L974.1,1366.5 L974.6,1366.5 L975.1,1366.5 L975.6,1366.5 L976.1,1366.5 L976.6,1366.5 L977.1,1366.5 L977.6,1366.5 L978.1,1366.5 L978.6,1366.5 L979.1,1366.5 L979.6,1366.5 L980.1,1366.5 L980.6,1366.5 L981.1,1366.5 L981.6,1366.5 L982.1,1366.5 L982.6,1366.5 L983.1,1366.5 L983.6,1366.5 L984.1,1366.5 L984.6,1366.5 L985.1,1366.5 L985.6,1366.5 L986.1,1366.5 L986.6,1366.5 L987.1,1366.5 L987.6,1366.5 L988.1,1366.5 L988.6,1366.5 L989.1,1366.5 L989.6,1366.5 L990.1,1366.5 L990.6,1366.5 L991.1,1366.5 L991.6,1366.5 L992.1,1366.5 L992.6,1366.5 L993.1,1366.5 L993.6,1366.5 L994.1,1366.5 L994.6,1366.5 L995.1,1366.5 L995.6,1366.5 L996.1,1366.5 L996.6,1366.5 L997.1,1366.5 L997.6,1366.5 L998.1,1366.5 L998.6,1366.5 L999.1,1366.5 L999.6,1366.5 L1000.1,1366.5 L1000.1,1366.5 Z" fill="#D6101E" />
<path d="M839.6,1366.5 L839.6,1366.5 L840.1,1366.5 L840.6,1366.5 L841.1,1366.5 L841.6,1366.5 L842.1,1366.5 L842.6,1366.5 L843.1,1366.5 L843.6,1366.5 L844.1,1366.5 L844.6,1366.5 L845.1,1366.5 L845.6,1366.5 L846.1,1366.5 L846.6,1366.5 L847.1,1366.5 L847.6,1366.5 L848.1,1366.5 L848.6,1366.5 L849.1,1366.5 L849.6,1366.5 L850.1,1366.5 L850.6,1366.5 L851.1,1366.5 L851.6,1366.5 L852.1,1366.5 L852.6,1366.5 L853.1,1366.5 L853.6,1366.5 L854.1,1366.5 L854.6,1366.5 L855.1,1366.5 L855.6,1366.5 L856.1,1366.5 L856.6,1366.5 L857.1,1366.5 L857.6,1366.5 L858.1,1366.5 L858.6,1366.5 L859.1,1366.5 L859.6,1366.5 L860.1,1366.5 L860.6,1366.5 L861.1,1366.5 L861.6,1366.5 L862.1,1366.5 L862.6,1366.5 L863.1,1366.5 L863.6,1366.5 L864.1,1366.5 L864.6,1366.5 L865.1,1366.5 L865.6,1366.5 L866.1,1366.5 L866.6,1366.5 L867.1,1366.5 L867.6,1366.5 L868.1,1366.5 L868.6,1366.5 L869.1,1366.5 L869.6,1366.5 L870.1,1366.5 L870.6,1366.5 L871.1,1366.5 L871.6,1366.5 L872.1,1366.5 L872.6,1366.5 L873.1,1366.5 L873.6,1366.5 L874.1,1366.5 L874.6,1366.5 L875.1,1366.5 L875.6,1366.5 L876.1,1366.5 L876.6,1366.5 L877.1,1366.5 L877.6,1366.5 L878.1,1366.5 L878.6,1366.5 L879.1,1366.5 L879.6,1366.5 L880.1,1366.5 L880.6,1366.5 L881.1,1366.5 L881.6,1366.5 L882.1,1366.5 L882.6,1366.5 L883.1,1366.5 L883.6,1366.5 L884.1,1366.5 L884.6,1366.5 L885.1,1366.5 L885.6,1366.5 L886.1,1366.5 L886.6,1366.5 L887.1,1366.5 L887.6,1366.5 L888.1,1366.5 L888.6,1366.5 L889.1,1366.5 L889.6,1366.5 L890.1,1366.5 L890.6,1366.5 L891.1,1366.5 L891.6,1366.5 L892.1,1366.5 L892.6,1366.5 L893.1,1366.5 L893.6,1366.5 L894.1,1366.5 L894.6,1366.5 L895.1,1366.5 L895.6,1366.5 L896.1,1366.5 L896.6,1366.5 L897.1,1366.5 L897.6,1366.5 L898.1,1366.5 L898.6,1366.5 L899.1,1366.5 L899.6,1366.5 L900.1,1366.5 L900.6,1366.5 L901.1,1366.49 L901.6,1366.49 L902.1,1366.49 L902.6,1366.49 L903.1,1366.49 L903.6,1366.49 L904.1,1366.48 L904.6,1366.48 L905.1,1366.48 L905.6,1366.47 L906.1,1366.47 L906.6,1366.46 L907.1,1366.45 L907.6,1366.45 L908.1,1366.44 L908.6,1366.43 L909.1,1366.41 L909.6,1366.4 L910.1,1366.38 L910.6,1366.36 L911.1,1366.34 L911.6,1366.32 L912.1,1366.29 L912.6,1366.26 L913.1,1366.22 L913.6,1366.18 L914.1,1366.13 L914.6,1366.08 L915.1,1366.02 L915.6,1365.96 L916.1,1365.89 L916.6,1365.81 L917.1,1365.72 L917.6,1365.62 L918.1,1365.51 L918.6,1365.39 L919.1,1365.26 L919.6,1365.11 L920.1,1364.96 L920.6,1364.78 L921.1,1364.6 L921.6,1364.4 L922.1,1364.18 L922.6,1363.95 L923.1,1363.7 L923.6,1363.43 L924.1,1363.14 L924.6,1362.84 L925.1,1362.52 L925.6,1362.17 L926.1,1361.81 L926.6,1361.43 L927.1,1361.04 L927.6,1360.62 L928.1,1360.19 L928.6,1359.74 L929.1,1359.28 L929.6,1358.8 L930.1,1358.31 L930.6,1357.8 L931.1,1357.29 L931.6,1356.77 L932.1,1356.24 L932.6,1355.71 L933.1,1355.17 L933.6,1354.64 L934.1,1354.11 L934.6,1353.58 L935.1,1353.07 L935.6,1352.56 L936.1,1352.07 L936.6,1351.59 L937.1,1351.14 L937.6,1350.7 L938.1,1350.29 L938.6,1349.91 L939.1,1349.56 L939.6,1349.23 L940.1,1348.94 L940.6,1348.69 L941.1,1348.48 L941.6,1348.3 L942.1,1348.16 L942.6,1348.07 L943.1,1348.01 L943.6,1348 L944.1,1348.03 L944.6,1348.1 L945.1,1348.21 L945.6,1348.37 L946.1,1348.56 L946.6,1348.79 L947.1,1349.06 L947.6,1349.36 L948.1,1349.69 L948.6,1350.06 L949.1,1350.45 L949.6,1350.87 L950.1,1351.32 L950.6,1351.78 L951.1,1352.26 L951.6,1352.76 L952.1,1353.27 L952.6,1353.79 L953.1,1354.32 L953.6,1354.85 L954.1,1355.39 L954.6,1355.92 L955.1,1356.45 L955.6,1356.98 L956.1,1357.5 L956.6,1358 L957.1,1358.5 L957.6,1358.99 L958.1,1359.46 L958.6,1359.92 L959.1,1360.36 L959.6,1360.79 L960.1,1361.2 L960.6,1361.59 L961.1,1361.96 L961.6,1362.31 L962.1,1362.65 L962.6,1362.96 L963.1,1363.26 L963.6,1363.54 L964.1,1363.8 L964.6,1364.04 L965.1,1364.27 L965.6,1364.48 L966.1,1364.68 L966.6,1364.85 L967.1,1365.02 L967.6,1365.17 L968.1,1365.31 L968.6,1365.44 L969.1,1365.55 L969.6,1365.66 L970.1,1365.75 L970.6,1365.84 L971.1,1365.92 L971.6,1365.98 L972.1,1366.05 L972.6,1366.1 L973.1,1366.15 L973.6,1366.2 L974.1,1366.24 L974.6,1366.27 L975.1,1366.3 L975.6,1366.33 L976.1,1366.35 L976.6,1366.37 L977.1,1366.39 L977.6,1366.41 L978.1,1366.42 L978.6,1366.43 L979.1,1366.44 L979.6,1366.45 L980.1,1366.46 L980.6,1366.46 L981.1,1366.47 L981.6,1366.47 L982.1,1366.48 L982.6,1366.48 L983.1,1366.48 L983.6,1366.49 L984.1,1366.49 L984.6,1366.49 L985.1,1366.49 L985.6,1366.49 L986.1,1366.5 L986.6,1366.5 L987.1,1366.5 L987.6,1366.5 L988.1,1366.5 L988.6,1366.5 L989.1,1366.5 L989.6,1366.5 L990.1,1366.5 L990.6,1366.5 L991.1,1366.5 L991.6,1366.5 L992.1,1366.5 L992.6,1366.5 L993.1,1366.5 L993.6,1366.5 L994.1,1366.5 L994.6,1366.5 L995.1,1366.5 L995.6,1366.5 L996.1,1366.5 L996.6,1366.5 L997.1,1366.5 L997.6,1366.5 L998.1,1366.5 L998.6,1366.5 L999.1,1366.5 L999.6,1366.5 L1000.1,1366.5 L1000.1,1366.5 Z" fill="#FF0000" />
<path d="M870.1,1366.5 L870.6,1366.5 L871.1,1366.5 L871.6,1366.5 L872.1,1366.5 L872.6,1366.46 L873.1,1366.38 L873.6,1366.25 L874.1,1366.07 L874.6,1365.85 L875.1,1365.58 L875.6,1365.27 L876.1,1364.92 L876.6,1364.53 L877.1,1364.11 L877.6,1363.66 L878.1,1363.18 L878.6,1362.67 L879.1,1362.15 L879.6,1361.61 L880.1,1361.06 L880.6,1360.5 L881.1,1359.94 L881.6,1359.38 L882.1,1358.82 L882.6,1358.27 L883.1,1357.74 L883.6,1357.22 L884.1,1356.73 L884.6,1356.26 L885.1,1355.82 L885.6,1355.41 L886.1,1355.04 L886.6,1354.7 L887.1,1354.41 L887.6,1354.16 L888.1,1353.95 L888.6,1353.79 L889.1,1353.68 L889.6,1353.62 L890.1,1353.6 L890.6,1353.6 L891.1,1353.6 L891.6,1353.6 L892.1,1353.6 L892.6,1353.6 L893.1,1353.6 L893.6,1353.6 L894.1,1353.6 L894.6,1353.6 L895.1,1353.6 L895.6,1353.6 L896.1,1353.6 L896.6,1353.6 L897.1,1353.6 L897.6,1353.6 L898.1,1353.6 L898.6,1353.6 L899.1,1353.6 L899.6,1353.6 L900.1,1353.6 L900.6,1353.6 L901.1,1353.6 L901.6,1353.6 L902.1,1353.6 L902.6,1353.6 L903.1,1353.6 L903.6,1353.6 L904.1,1353.6 L904.6,1353.6 L905.1,1353.6 L905.6,1353.6 L906.1,1353.6 L906.6,1353.6 L907.1,1353.6 L907.6,1353.6 L908.1,1353.6 L908.6,1353.6 L909.1,1353.6 L909.6,1353.6 L910.1,1353.6 L910.6,1353.6 L911.1,1353.6 L911.6,1353.6 L912.1,1353.6 L912.6,1353.6 L913.1,1353.6 L913.6,1353.6 L914.1,1353.6 L914.6,1353.6 L915.1,1353.6 L915.6,1353.6 L916.1,1353.6 L916.6,1353.6 L917.1,1353.6 L917.6,1353.6 L918.1,1353.6 L918.6,1353.6 L919.1,1353.6 L919.6,1353.6 L920.1,1353.6 L920.6,1353.6 L921.1,1353.6 L921.6,1353.6 L922.1,1353.6 L922.6,1353.6 L923.1,1353.6 L923.6,1353.6 L924.1,1353.6 L924.6,1353.6 L925.1,1353.6 L925.6,1353.6 L926.1,1353.6 L926.6,1353.6 L927.1,1353.6 L927.6,1353.6 L928.1,1353.6 L928.6,1353.6 L929.1,1353.6 L929.6,1353.6 L930.1,1353.6 L930.6,1353.62 L931.1,1353.65 L931.6,1353.72 L932.1,1353.8 L932.6,1353.9 L933.1,1354.03 L933.6,1354.18 L934.1,1354.35 L934.6,1354.54 L935.1,1354.74 L935.6,1354.97 L936.1,1355.21 L936.6,1355.48 L937.1,1355.75 L937.6,1356.05 L938.1,1356.35 L938.6,1356.67 L939.1,1357 L939.6,1357.35 L940.1,1357.7 L940.6,1358.06 L941.1,1358.42 L941.6,1358.8 L942.1,1359.17 L942.6,1359.55 L943.1,1359.94 L943.6,1360.32 L944.1,1360.7 L944.6,1361.08 L945.1,1361.45 L945.6,1361.82 L946.1,1362.19 L946.6,1362.54 L947.1,1362.89 L947.6,1363.23 L948.1,1363.56 L948.6,1363.87 L949.1,1364.17 L949.6,1364.46 L950.1,1364.73 L950.6,1364.99 L951.1,1365.22 L951.6,1365.44 L952.1,1365.64 L952.6,1365.82 L953.1,1365.98 L953.6,1366.12 L954.1,1366.24 L954.6,1366.34 L955.1,1366.41 L955.6,1366.46 L956.1,1366.49 L956.6,1366.5 L957.1,1366.5 L957.6,1366.5 L958.1,1366.5 L958.6,1366.5 L959.1,1366.5 L959.6,1366.5 L960.1,1366.5 L960.6,1366.5 L961.1,1366.5 L961.6,1366.5 L962.1,1366.5 L962.6,1366.5 L963.1,1366.5 L963.6,1366.5 L964.1,1366.5" fill="none" stroke="#3A3AA8" stroke-width="1.3" />
<path d="M840.6,1366.29 L841.1,1366.18 L841.6,1365.44 L842.1,1366.5 L842.6,1366.37 L843.1,1366.34 L843.6,1366.5 L844.1,1366.22 L844.6,1365.93 L845.1,1364.15 L845.6,1364.5 L846.1,1364.9 L846.6,1364.58 L847.1,1365.63 L847.6,1365.97 L848.1,1365.42 L848.6,1365.78 L849.1,1366.31 L849.6,1366.36 L850.1,1366.5 L850.6,1365.59 L851.1,1364.73 L851.6,1363.33 L852.1,1364.39 L852.6,1364.98 L853.1,1365.31 L853.6,1365.03 L854.1,1365.2 L854.6,1364.8 L855.1,1365.26 L855.6,1366.26 L856.1,1364.89 L856.6,1365.41 L857.1,1364.63 L857.6,1365.12 L858.1,1365.07 L858.6,1366.19 L859.1,1366.36 L859.6,1365.5 L860.1,1364.77 L860.6,1364.77 L861.1,1364.39 L861.6,1365.34 L862.1,1364.43 L862.6,1364.12 L863.1,1363.87 L863.6,1362.37 L864.1,1361.56 L864.6,1360.83 L865.1,1359.37 L865.6,1357.71 L866.1,1355.7 L866.6,1353.13 L867.1,1350.76 L867.6,1346.8 L868.1,1342.23 L868.6,1338.11 L869.1,1334.79 L869.6,1330.87 L870.1,1325.17 L870.6,1319.69 L871.1,1312.08 L871.6,1305.64 L872.1,1298.43 L872.6,1291.91 L873.1,1283.89 L873.6,1277.03 L874.1,1269.97 L874.6,1260.5 L875.1,1253.01 L875.6,1244.78 L876.1,1235.1 L876.6,1225.65 L877.1,1219.27 L877.6,1213.87 L878.1,1207.4 L878.6,1201.95 L879.1,1198.41 L879.6,1197.75 L880.1,1198.2 L880.6,1196.79 L881.1,1199.9 L881.6,1202.05 L882.1,1204 L882.6,1207.82 L883.1,1214.79 L883.6,1221.34 L884.1,1228.16 L884.6,1236.39 L885.1,1243.08 L885.6,1251.35 L886.1,1257.83 L886.6,1266.72 L887.1,1274.58 L887.6,1282.16 L888.1,1288.79 L888.6,1297.92 L889.1,1302.28 L889.6,1308.23 L890.1,1313.25 L890.6,1316.65 L891.1,1320.86 L891.6,1323.69 L892.1,1326.13 L892.6,1327.48 L893.1,1329.24 L893.6,1331.06 L894.1,1334.65 L894.6,1339.13 L895.1,1341.96 L895.6,1345.76 L896.1,1347.75 L896.6,1349.56 L897.1,1352.28 L897.6,1352.6 L898.1,1353.41 L898.6,1354.21 L899.1,1355.12 L899.6,1354.01 L900.1,1353.24 L900.6,1354.16 L901.1,1354.67 L901.6,1354.84 L902.1,1355.12 L902.6,1354.05 L903.1,1354.63 L903.6,1353.49 L904.1,1355.39 L904.6,1356.07 L905.1,1354.46 L905.6,1354.42 L906.1,1355.68 L906.6,1353.17 L907.1,1352.83 L907.6,1352.9 L908.1,1355.13 L908.6,1353.85 L909.1,1353.78 L909.6,1353.87 L910.1,1354.08 L910.6,1355.27 L911.1,1355.51 L911.6,1354.4 L912.1,1353.3 L912.6,1352.85 L913.1,1352.77 L913.6,1352.86 L914.1,1352.64 L914.6,1351.19 L915.1,1351.93 L915.6,1353.6 L916.1,1353.02 L916.6,1353.25 L917.1,1353.92 L917.6,1354.41 L918.1,1353.09 L918.6,1353.36 L919.1,1353.09 L919.6,1353.38 L920.1,1351.92 L920.6,1352.18 L921.1,1352.27 L921.6,1353.09 L922.1,1353.27 L922.6,1351.44 L923.1,1351.87 L923.6,1350.42 L924.1,1349.82 L924.6,1349.45 L925.1,1349.18 L925.6,1349.04 L926.1,1347.87 L926.6,1347.84 L927.1,1348.86 L927.6,1348.4 L928.1,1346.45 L928.6,1347.29 L929.1,1346.66 L929.6,1346.1 L930.1,1344.58 L930.6,1345.07 L931.1,1343.3 L931.6,1344.06 L932.1,1343.3 L932.6,1343.69 L933.1,1342.61 L933.6,1342.38 L934.1,1342.79 L934.6,1341.28 L935.1,1341.25 L935.6,1339.6 L936.1,1341.15 L936.6,1338.36 L937.1,1337.96 L937.6,1335.95 L938.1,1335.48 L938.6,1335.7 L939.1,1336 L939.6,1336.39 L940.1,1335.6 L940.6,1335.96 L941.1,1337.41 L941.6,1337.36 L942.1,1336.87 L942.6,1337.17 L943.1,1337.47 L943.6,1337.77 L944.1,1340.74 L944.6,1340.62 L945.1,1339.78 L945.6,1340.49 L946.1,1341.96 L946.6,1343.84 L947.1,1344.89 L947.6,1343.82 L948.1,1345.44 L948.6,1345.94 L949.1,1347.06 L949.6,1347.49 L950.1,1349.55 L950.6,1351.67 L951.1,1352 L951.6,1352.11 L952.1,1354.6 L952.6,1354.52 L953.1,1354.42 L953.6,1354.93 L954.1,1355.63 L954.6,1357.44 L955.1,1357.97 L955.6,1358.71 L956.1,1357.93 L956.6,1358.06 L957.1,1358.16 L957.6,1359.94 L958.1,1360.94 L958.6,1360.62 L959.1,1360.78 L959.6,1360.28 L960.1,1361.3 L960.6,1362.07 L961.1,1361.67 L961.6,1362.71 L962.1,1363.19 L962.6,1362.44 L963.1,1361.85 L963.6,1362.95 L964.1,1364.35 L964.6,1364.71 L965.1,1366.5 L965.6,1365.31 L966.1,1364.06 L966.6,1364.22 L967.1,1365.19 L967.6,1365.95 L968.1,1366.04 L968.6,1365.63 L969.1,1365.02 L969.6,1364.48 L970.1,1363.83 L970.6,1364.34 L971.1,1364.18 L971.6,1366.5 L972.1,1366.5 L972.6,1366.5 L973.1,1366.5 L973.6,1366.5" fill="none" stroke="#000" stroke-width="1.1" />
<path d="M840.6,1365.5 L841.1,1365.5 L841.6,1365.5 L842.1,1365.5 L842.6,1365.5 L843.1,1365.5 L843.6,1365.5 L844.1,1365.5 L844.6,1365.5 L845.1,1365.5 L845.6,1365.5 L846.1,1365.5 L846.6,1365.5 L847.1,1365.5 L847.6,1365.5 L848.1,1365.5 L848.6,1365.5 L849.1,1365.5 L849.6,1365.5 L850.1,1365.5 L850.6,1365.5 L851.1,1365.5 L851.6,1365.5 L852.1,1365.5 L852.6,1365.5 L853.1,1365.49 L853.6,1365.49 L854.1,1365.49 L854.6,1365.48 L855.1,1365.47 L855.6,1365.46 L856.1,1365.45 L856.6,1365.43 L857.1,1365.4 L857.6,1365.36 L858.1,1365.31 L858.6,1365.24 L859.1,1365.15 L859.6,1365.03 L860.1,1364.88 L860.6,1364.68 L861.1,1364.43 L861.6,1364.12 L862.1,1363.72 L862.6,1363.22 L863.1,1362.6 L863.6,1361.84 L864.1,1360.92 L864.6,1359.79 L865.1,1358.45 L865.6,1356.84 L866.1,1354.95 L866.6,1352.73 L867.1,1350.15 L867.6,1347.18 L868.1,1343.78 L868.6,1339.93 L869.1,1335.6 L869.6,1330.79 L870.1,1325.48 L870.6,1319.68 L871.1,1313.39 L871.6,1306.66 L872.1,1299.52 L872.6,1291.98 L873.1,1284.11 L873.6,1276 L874.1,1267.72 L874.6,1259.41 L875.1,1251.16 L875.6,1243.12 L876.1,1235.4 L876.6,1228.14 L877.1,1221.47 L877.6,1215.5 L878.1,1210.35 L878.6,1206.11 L879.1,1202.86 L879.6,1200.67 L880.1,1200.56 L880.6,1200.56 L881.1,1201.65 L881.6,1203.81 L882.1,1206.99 L882.6,1211.12 L883.1,1216.1 L883.6,1221.83 L884.1,1228.21 L884.6,1235.11 L885.1,1242.4 L885.6,1249.97 L886.1,1257.69 L886.6,1265.45 L887.1,1273.14 L887.6,1280.68 L888.1,1287.97 L888.6,1294.95 L889.1,1301.57 L889.6,1307.79 L890.1,1313.58 L890.6,1318.89 L891.1,1323.7 L891.6,1328.03 L892.1,1331.88 L892.6,1335.28 L893.1,1338.25 L893.6,1340.83 L894.1,1343.05 L894.6,1344.94 L895.1,1346.55 L895.6,1347.89 L896.1,1349.01 L896.6,1349.94 L897.1,1350.7 L897.6,1351.32 L898.1,1351.82 L898.6,1352.21 L899.1,1352.53 L899.6,1352.78 L900.1,1352.98 L900.6,1353.13 L901.1,1353.24 L901.6,1353.33 L902.1,1353.4 L902.6,1353.45 L903.1,1353.49 L903.6,1353.51 L904.1,1353.53 L904.6,1353.54 L905.1,1353.55 L905.6,1353.55 L906.1,1353.55 L906.6,1353.55 L907.1,1353.55 L907.6,1353.54 L908.1,1353.53 L908.6,1353.52 L909.1,1353.51 L909.6,1353.5 L910.1,1353.48 L910.6,1353.46 L911.1,1353.44 L911.6,1353.42 L912.1,1353.39 L912.6,1353.36 L913.1,1353.32 L913.6,1353.28 L914.1,1353.23 L914.6,1353.18 L915.1,1353.12 L915.6,1353.06 L916.1,1352.99 L916.6,1352.91 L917.1,1352.82 L917.6,1352.72 L918.1,1352.61 L918.6,1352.49 L919.1,1352.36 L919.6,1352.21 L920.1,1352.06 L920.6,1351.88 L921.1,1351.7 L921.6,1351.5 L922.1,1351.28 L922.6,1351.05 L923.1,1350.8 L923.6,1350.53 L924.1,1350.24 L924.6,1349.94 L925.1,1349.62 L925.6,1349.27 L926.1,1348.91 L926.6,1348.53 L927.1,1348.14 L927.6,1347.72 L928.1,1347.29 L928.6,1346.84 L929.1,1346.38 L929.6,1345.9 L930.1,1345.41 L930.6,1344.92 L931.1,1344.44 L931.6,1343.98 L932.1,1343.54 L932.6,1343.11 L933.1,1342.7 L933.6,1342.32 L934.1,1341.96 L934.6,1341.62 L935.1,1341.31 L935.6,1341.03 L936.1,1340.78 L936.6,1340.57 L937.1,1340.39 L937.6,1340.25 L938.1,1340.14 L938.6,1340.08 L939.1,1340.06 L939.6,1340.08 L940.1,1340.14 L940.6,1340.25 L941.1,1340.4 L941.6,1340.6 L942.1,1340.84 L942.6,1341.12 L943.1,1341.45 L943.6,1341.82 L944.1,1342.23 L944.6,1342.68 L945.1,1343.17 L945.6,1343.69 L946.1,1344.25 L946.6,1344.83 L947.1,1345.45 L947.6,1346.09 L948.1,1346.75 L948.6,1347.43 L949.1,1348.13 L949.6,1348.83 L950.1,1349.55 L950.6,1350.27 L951.1,1350.99 L951.6,1351.7 L952.1,1352.41 L952.6,1353.12 L953.1,1353.8 L953.6,1354.47 L954.1,1355.13 L954.6,1355.76 L955.1,1356.36 L955.6,1356.94 L956.1,1357.49 L956.6,1358 L957.1,1358.5 L957.6,1358.99 L958.1,1359.46 L958.6,1359.92 L959.1,1360.36 L959.6,1360.79 L960.1,1361.2 L960.6,1361.59 L961.1,1361.96 L961.6,1362.31 L962.1,1362.65 L962.6,1362.96 L963.1,1363.26 L963.6,1363.54 L964.1,1363.8 L964.6,1364.04 L965.1,1364.27 L965.6,1364.48 L966.1,1364.68 L966.6,1364.85 L967.1,1365.02 L967.6,1365.17 L968.1,1365.31 L968.6,1365.44 L969.1,1365.55 L969.6,1365.66 L970.1,1365.75 L970.6,1365.84 L971.1,1365.92 L971.6,1365.98 L972.1,1366.05 L972.6,1366.1 L973.1,1366.15 L973.6,1366.2" fill="none" stroke="#00F000" stroke-width="1.4" />
<line x1="839.1" y1="1197.1" x2="839.1" y2="1367.3" stroke="#0C2060" stroke-width="1.8" />
<line x1="838.3" y1="1366.5" x2="1001.4" y2="1366.5" stroke="#0C2060" stroke-width="1.8" />
<line x1="833.4" y1="1366.5" x2="838.6" y2="1366.5" stroke="#000" stroke-width="1.1" />
<line x1="835.5" y1="1355.91" x2="838.6" y2="1355.91" stroke="#000" stroke-width="1.1" />
<line x1="835.5" y1="1345.33" x2="838.6" y2="1345.33" stroke="#000" stroke-width="1.1" />
<line x1="835.5" y1="1334.74" x2="838.6" y2="1334.74" stroke="#000" stroke-width="1.1" />
<line x1="833.4" y1="1324.15" x2="838.6" y2="1324.15" stroke="#000" stroke-width="1.1" />
<line x1="835.5" y1="1313.56" x2="838.6" y2="1313.56" stroke="#000" stroke-width="1.1" />
<line x1="835.5" y1="1302.97" x2="838.6" y2="1302.97" stroke="#000" stroke-width="1.1" />
<line x1="835.5" y1="1292.39" x2="838.6" y2="1292.39" stroke="#000" stroke-width="1.1" />
<line x1="833.4" y1="1281.8" x2="838.6" y2="1281.8" stroke="#000" stroke-width="1.1" />
<line x1="835.5" y1="1271.21" x2="838.6" y2="1271.21" stroke="#000" stroke-width="1.1" />
<line x1="835.5" y1="1260.62" x2="838.6" y2="1260.62" stroke="#000" stroke-width="1.1" />
<line x1="835.5" y1="1250.04" x2="838.6" y2="1250.04" stroke="#000" stroke-width="1.1" />
<line x1="833.4" y1="1239.45" x2="838.6" y2="1239.45" stroke="#000" stroke-width="1.1" />
<line x1="835.5" y1="1228.86" x2="838.6" y2="1228.86" stroke="#000" stroke-width="1.1" />
<line x1="835.5" y1="1218.27" x2="838.6" y2="1218.27" stroke="#000" stroke-width="1.1" />
<line x1="835.5" y1="1207.69" x2="838.6" y2="1207.69" stroke="#000" stroke-width="1.1" />
<line x1="833.4" y1="1197.1" x2="838.6" y2="1197.1" stroke="#000" stroke-width="1.1" />
<line x1="839.1" y1="1367" x2="839.1" y2="1372.3" stroke="#000" stroke-width="1.1" />
<line x1="849.25" y1="1367" x2="849.25" y2="1369.5" stroke="#000" stroke-width="1.1" />
<line x1="859.4" y1="1367" x2="859.4" y2="1369.5" stroke="#000" stroke-width="1.1" />
<line x1="869.55" y1="1367" x2="869.55" y2="1369.5" stroke="#000" stroke-width="1.1" />
<line x1="879.7" y1="1367" x2="879.7" y2="1372.3" stroke="#000" stroke-width="1.1" />
<line x1="889.85" y1="1367" x2="889.85" y2="1369.5" stroke="#000" stroke-width="1.1" />
<line x1="900" y1="1367" x2="900" y2="1369.5" stroke="#000" stroke-width="1.1" />
<line x1="910.15" y1="1367" x2="910.15" y2="1369.5" stroke="#000" stroke-width="1.1" />
<line x1="920.3" y1="1367" x2="920.3" y2="1372.3" stroke="#000" stroke-width="1.1" />
<line x1="930.45" y1="1367" x2="930.45" y2="1369.5" stroke="#000" stroke-width="1.1" />
<line x1="940.6" y1="1367" x2="940.6" y2="1369.5" stroke="#000" stroke-width="1.1" />
<line x1="950.75" y1="1367" x2="950.75" y2="1369.5" stroke="#000" stroke-width="1.1" />
<line x1="960.9" y1="1367" x2="960.9" y2="1372.3" stroke="#000" stroke-width="1.1" />
<line x1="971.05" y1="1367" x2="971.05" y2="1369.5" stroke="#000" stroke-width="1.1" />
<line x1="981.2" y1="1367" x2="981.2" y2="1369.5" stroke="#000" stroke-width="1.1" />
<line x1="991.35" y1="1367" x2="991.35" y2="1369.5" stroke="#000" stroke-width="1.1" />
<line x1="1001.5" y1="1367" x2="1001.5" y2="1372.3" stroke="#000" stroke-width="1.1" />
<text x="832.9" y="1201.5" font-size="13.2" text-anchor="end" font-family="'Liberation Serif', 'Times New Roman', serif" fill="#2a2a2a">998</text>
<text x="832.9" y="1243.85" font-size="13.2" text-anchor="end" font-family="'Liberation Serif', 'Times New Roman', serif" fill="#2a2a2a">749</text>
<text x="832.9" y="1286.2" font-size="13.2" text-anchor="end" font-family="'Liberation Serif', 'Times New Roman', serif" fill="#2a2a2a">499</text>
<text x="832.9" y="1328.55" font-size="13.2" text-anchor="end" font-family="'Liberation Serif', 'Times New Roman', serif" fill="#2a2a2a">250</text>
<text x="832.9" y="1370.9" font-size="13.2" text-anchor="end" font-family="'Liberation Serif', 'Times New Roman', serif" fill="#2a2a2a">0</text>
<text x="839.1" y="1383.8" font-size="13.2" text-anchor="middle" font-family="'Liberation Serif', 'Times New Roman', serif" fill="#2a2a2a">80.0</text>
<text x="879.7" y="1383.8" font-size="13.2" text-anchor="middle" font-family="'Liberation Serif', 'Times New Roman', serif" fill="#2a2a2a">235.0</text>
<text x="920.3" y="1383.8" font-size="13.2" text-anchor="middle" font-family="'Liberation Serif', 'Times New Roman', serif" fill="#2a2a2a">390.0</text>
<text x="960.9" y="1383.8" font-size="13.2" text-anchor="middle" font-family="'Liberation Serif', 'Times New Roman', serif" fill="#2a2a2a">545.0</text>
<text x="1001.5" y="1383.8" font-size="13.2" text-anchor="middle" font-family="'Liberation Serif', 'Times New Roman', serif" fill="#2a2a2a">700.</text>
</g>
<g>
<path d="M1047.2,1372.3 L1047.2,1372.3 L1047.7,1372.3 L1048.2,1372.3 L1048.7,1372.3 L1049.2,1372.3 L1049.7,1372.3 L1050.2,1372.3 L1050.7,1372.3 L1051.2,1372.3 L1051.7,1372.3 L1052.2,1372.3 L1052.7,1372.3 L1053.2,1372.3 L1053.7,1372.3 L1054.2,1372.3 L1054.7,1372.3 L1055.2,1372.3 L1055.7,1372.3 L1056.2,1372.3 L1056.7,1372.3 L1057.2,1372.3 L1057.7,1372.3 L1058.2,1372.3 L1058.7,1372.3 L1059.2,1372.3 L1059.7,1372.3 L1060.2,1372.3 L1060.7,1372.3 L1061.2,1372.3 L1061.7,1372.3 L1062.2,1372.3 L1062.7,1372.3 L1063.2,1372.3 L1063.7,1372.3 L1064.2,1372.3 L1064.7,1372.3 L1065.2,1372.3 L1065.7,1372.3 L1066.2,1372.3 L1066.7,1372.3 L1067.2,1372.3 L1067.7,1372.3 L1068.2,1372.3 L1068.7,1372.3 L1069.2,1372.3 L1069.7,1372.3 L1070.2,1372.3 L1070.7,1372.3 L1071.2,1372.3 L1071.7,1372.3 L1072.2,1372.3 L1072.7,1372.3 L1073.2,1372.3 L1073.7,1372.3 L1074.2,1372.3 L1074.7,1372.3 L1075.2,1372.3 L1075.7,1372.3 L1076.2,1372.3 L1076.7,1372.3 L1077.2,1372.3 L1077.7,1372.3 L1078.2,1372.29 L1078.7,1372.24 L1079.2,1372.11 L1079.7,1371.93 L1080.2,1371.68 L1080.7,1371.37 L1081.2,1371 L1081.7,1370.59 L1082.2,1370.12 L1082.7,1369.61 L1083.2,1369.06 L1083.7,1368.47 L1084.2,1367.85 L1084.7,1367.21 L1085.2,1366.56 L1085.7,1365.89 L1086.2,1365.22 L1086.7,1364.54 L1087.2,1363.88 L1087.7,1363.23 L1088.2,1362.6 L1088.7,1361.99 L1089.2,1361.42 L1089.7,1360.88 L1090.2,1360.39 L1090.7,1359.94 L1091.2,1359.54 L1091.7,1359.2 L1092.2,1358.92 L1092.7,1358.69 L1093.2,1358.53 L1093.7,1358.43 L1094.2,1358.4 L1094.7,1358.4 L1095.2,1358.4 L1095.7,1358.4 L1096.2,1358.4 L1096.7,1358.4 L1097.2,1358.4 L1097.7,1358.4 L1098.2,1358.4 L1098.7,1358.4 L1099.2,1358.4 L1099.7,1358.4 L1100.2,1358.4 L1100.7,1358.4 L1101.2,1358.4 L1101.7,1358.4 L1102.2,1358.4 L1102.7,1358.4 L1103.2,1358.4 L1103.7,1358.4 L1104.2,1358.4 L1104.7,1358.4 L1105.2,1358.4 L1105.7,1358.4 L1106.2,1358.4 L1106.7,1358.4 L1107.2,1358.4 L1107.7,1358.4 L1108.2,1358.4 L1108.7,1358.4 L1109.2,1358.4 L1109.7,1358.4 L1110.2,1358.4 L1110.7,1358.4 L1111.2,1358.4 L1111.7,1358.4 L1112.2,1358.4 L1112.7,1358.4 L1113.2,1358.4 L1113.7,1358.4 L1114.2,1358.4 L1114.7,1358.4 L1115.2,1358.4 L1115.7,1358.4 L1116.2,1358.4 L1116.7,1358.4 L1117.2,1358.4 L1117.7,1358.4 L1118.2,1358.4 L1118.7,1358.4 L1119.2,1358.4 L1119.7,1358.4 L1120.2,1358.4 L1120.7,1358.4 L1121.2,1358.4 L1121.7,1358.42 L1122.2,1358.45 L1122.7,1358.49 L1123.2,1358.54 L1123.7,1358.6 L1124.2,1358.67 L1124.7,1358.76 L1125.2,1358.85 L1125.7,1358.96 L1126.2,1359.08 L1126.7,1359.21 L1127.2,1359.35 L1127.7,1359.5 L1128.2,1359.66 L1128.7,1359.83 L1129.2,1360.01 L1129.7,1360.2 L1130.2,1360.4 L1130.7,1360.6 L1131.2,1360.81 L1131.7,1361.04 L1132.2,1361.26 L1132.7,1361.5 L1133.2,1361.74 L1133.7,1361.99 L1134.2,1362.25 L1134.7,1362.51 L1135.2,1362.77 L1135.7,1363.04 L1136.2,1363.31 L1136.7,1363.59 L1137.2,1363.87 L1137.7,1364.15 L1138.2,1364.43 L1138.7,1364.72 L1139.2,1365.01 L1139.7,1365.29 L1140.2,1365.58 L1140.7,1365.87 L1141.2,1366.15 L1141.7,1366.44 L1142.2,1366.72 L1142.7,1367 L1143.2,1367.28 L1143.7,1367.55 L1144.2,1367.82 L1144.7,1368.09 L1145.2,1368.35 L1145.7,1368.61 L1146.2,1368.86 L1146.7,1369.1 L1147.2,1369.34 L1147.7,1369.57 L1148.2,1369.8 L1148.7,1370.01 L1149.2,1370.22 L1149.7,1370.42 L1150.2,1370.62 L1150.7,1370.8 L1151.2,1370.97 L1151.7,1371.14 L1152.2,1371.29 L1152.7,1371.43 L1153.2,1371.57 L1153.7,1371.69 L1154.2,1371.8 L1154.7,1371.9 L1155.2,1371.99 L1155.7,1372.07 L1156.2,1372.14 L1156.7,1372.2 L1157.2,1372.24 L1157.7,1372.27 L1158.2,1372.29 L1158.7,1372.3 L1159.2,1372.3 L1159.7,1372.3 L1160.2,1372.3 L1160.7,1372.3 L1161.2,1372.3 L1161.7,1372.3 L1162.2,1372.3 L1162.7,1372.3 L1163.2,1372.3 L1163.7,1372.3 L1164.2,1372.3 L1164.7,1372.3 L1165.2,1372.3 L1165.7,1372.3 L1166.2,1372.3 L1166.7,1372.3 L1167.2,1372.3 L1167.7,1372.3 L1168.2,1372.3 L1168.7,1372.3 L1169.2,1372.3 L1169.7,1372.3 L1170.2,1372.3 L1170.7,1372.3 L1171.2,1372.3 L1171.7,1372.3 L1172.2,1372.3 L1172.7,1372.3 L1173.2,1372.3 L1173.7,1372.3 L1174.2,1372.3 L1174.7,1372.3 L1175.2,1372.3 L1175.7,1372.3 L1176.2,1372.3 L1176.7,1372.3 L1177.2,1372.3 L1177.7,1372.3 L1178.2,1372.3 L1178.7,1372.3 L1179.2,1372.3 L1179.7,1372.3 L1180.2,1372.3 L1180.7,1372.3 L1181.2,1372.3 L1181.7,1372.3 L1182.2,1372.3 L1182.7,1372.3 L1183.2,1372.3 L1183.7,1372.3 L1184.2,1372.3 L1184.7,1372.3 L1185.2,1372.3 L1185.7,1372.3 L1186.2,1372.3 L1186.7,1372.3 L1186.7,1372.3 Z" fill="#E2E2F2" />
<path d="M1047.2,1372.3 L1047.2,1372.3 L1047.7,1372.3 L1048.2,1372.3 L1048.7,1372.3 L1049.2,1372.3 L1049.7,1372.3 L1050.2,1372.3 L1050.7,1372.3 L1051.2,1372.3 L1051.7,1372.3 L1052.2,1372.3 L1052.7,1372.3 L1053.2,1372.3 L1053.7,1372.3 L1054.2,1372.3 L1054.7,1372.3 L1055.2,1372.3 L1055.7,1372.3 L1056.2,1372.3 L1056.7,1372.3 L1057.2,1372.3 L1057.7,1372.3 L1058.2,1372.3 L1058.7,1372.3 L1059.2,1372.3 L1059.7,1372.3 L1060.2,1372.3 L1060.7,1372.29 L1061.2,1372.29 L1061.7,1372.28 L1062.2,1372.28 L1062.7,1372.27 L1063.2,1372.25 L1063.7,1372.23 L1064.2,1372.2 L1064.7,1372.16 L1065.2,1372.11 L1065.7,1372.04 L1066.2,1371.94 L1066.7,1371.81 L1067.2,1371.64 L1067.7,1371.42 L1068.2,1371.13 L1068.7,1370.76 L1069.2,1370.3 L1069.7,1369.71 L1070.2,1368.97 L1070.7,1368.06 L1071.2,1366.95 L1071.7,1365.59 L1072.2,1363.96 L1072.7,1362.02 L1073.2,1359.72 L1073.7,1357.03 L1074.2,1353.91 L1074.7,1350.34 L1075.2,1346.27 L1075.7,1341.7 L1076.2,1336.61 L1076.7,1331.01 L1077.2,1324.9 L1077.7,1318.32 L1078.2,1311.32 L1078.7,1303.96 L1079.2,1296.31 L1079.7,1288.49 L1080.2,1280.59 L1080.7,1272.74 L1081.2,1265.07 L1081.7,1257.74 L1082.2,1250.88 L1082.7,1244.62 L1083.2,1239.11 L1083.7,1234.47 L1084.2,1230.79 L1084.7,1228.17 L1085.2,1226.67 L1085.7,1226.32 L1086.2,1227.14 L1086.7,1229.09 L1087.2,1232.14 L1087.7,1236.21 L1088.2,1241.22 L1088.7,1247.04 L1089.2,1253.56 L1089.7,1260.63 L1090.2,1268.11 L1090.7,1275.86 L1091.2,1283.75 L1091.7,1291.63 L1092.2,1299.4 L1092.7,1306.94 L1093.2,1314.17 L1093.7,1321.01 L1094.2,1327.4 L1094.7,1333.31 L1095.2,1338.71 L1095.7,1343.59 L1096.2,1347.96 L1096.7,1351.83 L1097.2,1355.22 L1097.7,1358.16 L1098.2,1360.68 L1098.7,1362.84 L1099.2,1364.65 L1099.7,1366.17 L1100.2,1367.42 L1100.7,1368.45 L1101.2,1369.29 L1101.7,1369.96 L1102.2,1370.5 L1102.7,1370.92 L1103.2,1371.25 L1103.7,1371.51 L1104.2,1371.71 L1104.7,1371.87 L1105.2,1371.98 L1105.7,1372.07 L1106.2,1372.13 L1106.7,1372.18 L1107.2,1372.21 L1107.7,1372.24 L1108.2,1372.26 L1108.7,1372.27 L1109.2,1372.28 L1109.7,1372.29 L1110.2,1372.29 L1110.7,1372.29 L1111.2,1372.3 L1111.7,1372.3 L1112.2,1372.3 L1112.7,1372.3 L1113.2,1372.3 L1113.7,1372.3 L1114.2,1372.3 L1114.7,1372.3 L1115.2,1372.3 L1115.7,1372.3 L1116.2,1372.3 L1116.7,1372.3 L1117.2,1372.3 L1117.7,1372.3 L1118.2,1372.3 L1118.7,1372.3 L1119.2,1372.3 L1119.7,1372.3 L1120.2,1372.3 L1120.7,1372.3 L1121.2,1372.3 L1121.7,1372.3 L1122.2,1372.3 L1122.7,1372.3 L1123.2,1372.3 L1123.7,1372.3 L1124.2,1372.3 L1124.7,1372.3 L1125.2,1372.3 L1125.7,1372.3 L1126.2,1372.3 L1126.7,1372.3 L1127.2,1372.3 L1127.7,1372.3 L1128.2,1372.3 L1128.7,1372.3 L1129.2,1372.3 L1129.7,1372.3 L1130.2,1372.3 L1130.7,1372.3 L1131.2,1372.3 L1131.7,1372.3 L1132.2,1372.3 L1132.7,1372.3 L1133.2,1372.3 L1133.7,1372.3 L1134.2,1372.3 L1134.7,1372.3 L1135.2,1372.3 L1135.7,1372.3 L1136.2,1372.3 L1136.7,1372.3 L1137.2,1372.3 L1137.7,1372.3 L1138.2,1372.3 L1138.7,1372.3 L1139.2,1372.3 L1139.7,1372.3 L1140.2,1372.3 L1140.7,1372.3 L1141.2,1372.3 L1141.7,1372.3 L1142.2,1372.3 L1142.7,1372.3 L1143.2,1372.3 L1143.7,1372.3 L1144.2,1372.3 L1144.7,1372.3 L1145.2,1372.3 L1145.7,1372.3 L1146.2,1372.3 L1146.7,1372.3 L1147.2,1372.3 L1147.7,1372.3 L1148.2,1372.3 L1148.7,1372.3 L1149.2,1372.3 L1149.7,1372.3 L1150.2,1372.3 L1150.7,1372.3 L1151.2,1372.3 L1151.7,1372.3 L1152.2,1372.3 L1152.7,1372.3 L1153.2,1372.3 L1153.7,1372.3 L1154.2,1372.3 L1154.7,1372.3 L1155.2,1372.3 L1155.7,1372.3 L1156.2,1372.3 L1156.7,1372.3 L1157.2,1372.3 L1157.7,1372.3 L1158.2,1372.3 L1158.7,1372.3 L1159.2,1372.3 L1159.7,1372.3 L1160.2,1372.3 L1160.7,1372.3 L1161.2,1372.3 L1161.7,1372.3 L1162.2,1372.3 L1162.7,1372.3 L1163.2,1372.3 L1163.7,1372.3 L1164.2,1372.3 L1164.7,1372.3 L1165.2,1372.3 L1165.7,1372.3 L1166.2,1372.3 L1166.7,1372.3 L1167.2,1372.3 L1167.7,1372.3 L1168.2,1372.3 L1168.7,1372.3 L1169.2,1372.3 L1169.7,1372.3 L1170.2,1372.3 L1170.7,1372.3 L1171.2,1372.3 L1171.7,1372.3 L1172.2,1372.3 L1172.7,1372.3 L1173.2,1372.3 L1173.7,1372.3 L1174.2,1372.3 L1174.7,1372.3 L1175.2,1372.3 L1175.7,1372.3 L1176.2,1372.3 L1176.7,1372.3 L1177.2,1372.3 L1177.7,1372.3 L1178.2,1372.3 L1178.7,1372.3 L1179.2,1372.3 L1179.7,1372.3 L1180.2,1372.3 L1180.7,1372.3 L1181.2,1372.3 L1181.7,1372.3 L1182.2,1372.3 L1182.7,1372.3 L1183.2,1372.3 L1183.7,1372.3 L1184.2,1372.3 L1184.7,1372.3 L1185.2,1372.3 L1185.7,1372.3 L1186.2,1372.3 L1186.7,1372.3 L1186.7,1372.3 Z" fill="#FF0000" />
<path d="M1047.2,1372.3 L1047.2,1372.3 L1047.7,1372.3 L1048.2,1372.3 L1048.7,1372.3 L1049.2,1372.3 L1049.7,1372.3 L1050.2,1372.3 L1050.7,1372.3 L1051.2,1372.3 L1051.7,1372.3 L1052.2,1372.3 L1052.7,1372.3 L1053.2,1372.3 L1053.7,1372.3 L1054.2,1372.3 L1054.7,1372.3 L1055.2,1372.3 L1055.7,1372.3 L1056.2,1372.3 L1056.7,1372.3 L1057.2,1372.3 L1057.7,1372.3 L1058.2,1372.3 L1058.7,1372.3 L1059.2,1372.3 L1059.7,1372.3 L1060.2,1372.3 L1060.7,1372.3 L1061.2,1372.3 L1061.7,1372.3 L1062.2,1372.3 L1062.7,1372.3 L1063.2,1372.3 L1063.7,1372.3 L1064.2,1372.3 L1064.7,1372.3 L1065.2,1372.3 L1065.7,1372.3 L1066.2,1372.3 L1066.7,1372.3 L1067.2,1372.3 L1067.7,1372.3 L1068.2,1372.3 L1068.7,1372.3 L1069.2,1372.3 L1069.7,1372.3 L1070.2,1372.3 L1070.7,1372.3 L1071.2,1372.3 L1071.7,1372.3 L1072.2,1372.3 L1072.7,1372.3 L1073.2,1372.3 L1073.7,1372.3 L1074.2,1372.3 L1074.7,1372.3 L1075.2,1372.3 L1075.7,1372.3 L1076.2,1372.3 L1076.7,1372.3 L1077.2,1372.3 L1077.7,1372.3 L1078.2,1372.29 L1078.7,1372.24 L1079.2,1372.11 L1079.7,1371.93 L1080.2,1371.68 L1080.7,1371.37 L1081.2,1371 L1081.7,1370.59 L1082.2,1370.12 L1082.7,1369.61 L1083.2,1369.06 L1083.7,1368.47 L1084.2,1367.85 L1084.7,1367.21 L1085.2,1366.56 L1085.7,1365.89 L1086.2,1365.22 L1086.7,1364.54 L1087.2,1363.88 L1087.7,1363.23 L1088.2,1362.6 L1088.7,1361.99 L1089.2,1361.42 L1089.7,1360.88 L1090.2,1360.39 L1090.7,1359.94 L1091.2,1359.54 L1091.7,1359.2 L1092.2,1358.92 L1092.7,1358.69 L1093.2,1358.53 L1093.7,1358.43 L1094.2,1358.4 L1094.7,1358.4 L1095.2,1358.4 L1095.7,1358.4 L1096.2,1358.4 L1096.7,1358.4 L1097.2,1358.4 L1097.7,1358.4 L1098.2,1360.68 L1098.7,1362.84 L1099.2,1364.65 L1099.7,1366.17 L1100.2,1367.42 L1100.7,1368.45 L1101.2,1369.29 L1101.7,1369.96 L1102.2,1370.5 L1102.7,1370.92 L1103.2,1371.25 L1103.7,1371.51 L1104.2,1371.71 L1104.7,1371.87 L1105.2,1371.98 L1105.7,1372.07 L1106.2,1372.13 L1106.7,1372.18 L1107.2,1372.21 L1107.7,1372.24 L1108.2,1372.26 L1108.7,1372.27 L1109.2,1372.28 L1109.7,1372.29 L1110.2,1372.29 L1110.7,1372.29 L1111.2,1372.3 L1111.7,1372.3 L1112.2,1372.3 L1112.7,1372.3 L1113.2,1372.3 L1113.7,1372.3 L1114.2,1372.3 L1114.7,1372.3 L1115.2,1372.3 L1115.7,1372.3 L1116.2,1372.3 L1116.7,1372.3 L1117.2,1372.3 L1117.7,1372.3 L1118.2,1372.3 L1118.7,1372.3 L1119.2,1372.3 L1119.7,1372.3 L1120.2,1372.3 L1120.7,1372.3 L1121.2,1372.3 L1121.7,1372.3 L1122.2,1372.3 L1122.7,1372.3 L1123.2,1372.3 L1123.7,1372.3 L1124.2,1372.3 L1124.7,1372.3 L1125.2,1372.3 L1125.7,1372.3 L1126.2,1372.3 L1126.7,1372.3 L1127.2,1372.3 L1127.7,1372.3 L1128.2,1372.3 L1128.7,1372.3 L1129.2,1372.3 L1129.7,1372.3 L1130.2,1372.3 L1130.7,1372.3 L1131.2,1372.3 L1131.7,1372.3 L1132.2,1372.3 L1132.7,1372.3 L1133.2,1372.3 L1133.7,1372.3 L1134.2,1372.3 L1134.7,1372.3 L1135.2,1372.3 L1135.7,1372.3 L1136.2,1372.3 L1136.7,1372.3 L1137.2,1372.3 L1137.7,1372.3 L1138.2,1372.3 L1138.7,1372.3 L1139.2,1372.3 L1139.7,1372.3 L1140.2,1372.3 L1140.7,1372.3 L1141.2,1372.3 L1141.7,1372.3 L1142.2,1372.3 L1142.7,1372.3 L1143.2,1372.3 L1143.7,1372.3 L1144.2,1372.3 L1144.7,1372.3 L1145.2,1372.3 L1145.7,1372.3 L1146.2,1372.3 L1146.7,1372.3 L1147.2,1372.3 L1147.7,1372.3 L1148.2,1372.3 L1148.7,1372.3 L1149.2,1372.3 L1149.7,1372.3 L1150.2,1372.3 L1150.7,1372.3 L1151.2,1372.3 L1151.7,1372.3 L1152.2,1372.3 L1152.7,1372.3 L1153.2,1372.3 L1153.7,1372.3 L1154.2,1372.3 L1154.7,1372.3 L1155.2,1372.3 L1155.7,1372.3 L1156.2,1372.3 L1156.7,1372.3 L1157.2,1372.3 L1157.7,1372.3 L1158.2,1372.3 L1158.7,1372.3 L1159.2,1372.3 L1159.7,1372.3 L1160.2,1372.3 L1160.7,1372.3 L1161.2,1372.3 L1161.7,1372.3 L1162.2,1372.3 L1162.7,1372.3 L1163.2,1372.3 L1163.7,1372.3 L1164.2,1372.3 L1164.7,1372.3 L1165.2,1372.3 L1165.7,1372.3 L1166.2,1372.3 L1166.7,1372.3 L1167.2,1372.3 L1167.7,1372.3 L1168.2,1372.3 L1168.7,1372.3 L1169.2,1372.3 L1169.7,1372.3 L1170.2,1372.3 L1170.7,1372.3 L1171.2,1372.3 L1171.7,1372.3 L1172.2,1372.3 L1172.7,1372.3 L1173.2,1372.3 L1173.7,1372.3 L1174.2,1372.3 L1174.7,1372.3 L1175.2,1372.3 L1175.7,1372.3 L1176.2,1372.3 L1176.7,1372.3 L1177.2,1372.3 L1177.7,1372.3 L1178.2,1372.3 L1178.7,1372.3 L1179.2,1372.3 L1179.7,1372.3 L1180.2,1372.3 L1180.7,1372.3 L1181.2,1372.3 L1181.7,1372.3 L1182.2,1372.3 L1182.7,1372.3 L1183.2,1372.3 L1183.7,1372.3 L1184.2,1372.3 L1184.7,1372.3 L1185.2,1372.3 L1185.7,1372.3 L1186.2,1372.3 L1186.7,1372.3 L1186.7,1372.3 Z" fill="#D6101E" />
<path d="M1047.2,1372.3 L1047.2,1372.3 L1047.7,1372.3 L1048.2,1372.3 L1048.7,1372.3 L1049.2,1372.3 L1049.7,1372.3 L1050.2,1372.3 L1050.7,1372.3 L1051.2,1372.3 L1051.7,1372.3 L1052.2,1372.3 L1052.7,1372.3 L1053.2,1372.3 L1053.7,1372.3 L1054.2,1372.3 L1054.7,1372.3 L1055.2,1372.3 L1055.7,1372.3 L1056.2,1372.3 L1056.7,1372.3 L1057.2,1372.3 L1057.7,1372.3 L1058.2,1372.3 L1058.7,1372.3 L1059.2,1372.3 L1059.7,1372.3 L1060.2,1372.3 L1060.7,1372.3 L1061.2,1372.3 L1061.7,1372.3 L1062.2,1372.3 L1062.7,1372.3 L1063.2,1372.3 L1063.7,1372.3 L1064.2,1372.3 L1064.7,1372.3 L1065.2,1372.3 L1065.7,1372.3 L1066.2,1372.3 L1066.7,1372.3 L1067.2,1372.3 L1067.7,1372.3 L1068.2,1372.3 L1068.7,1372.3 L1069.2,1372.3 L1069.7,1372.3 L1070.2,1372.3 L1070.7,1372.3 L1071.2,1372.3 L1071.7,1372.3 L1072.2,1372.3 L1072.7,1372.3 L1073.2,1372.3 L1073.7,1372.3 L1074.2,1372.3 L1074.7,1372.3 L1075.2,1372.3 L1075.7,1372.3 L1076.2,1372.3 L1076.7,1372.3 L1077.2,1372.3 L1077.7,1372.3 L1078.2,1372.3 L1078.7,1372.3 L1079.2,1372.3 L1079.7,1372.3 L1080.2,1372.3 L1080.7,1372.3 L1081.2,1372.3 L1081.7,1372.3 L1082.2,1372.3 L1082.7,1372.3 L1083.2,1372.3 L1083.7,1372.3 L1084.2,1372.3 L1084.7,1372.3 L1085.2,1372.3 L1085.7,1372.3 L1086.2,1372.3 L1086.7,1372.3 L1087.2,1372.3 L1087.7,1372.3 L1088.2,1372.3 L1088.7,1372.3 L1089.2,1372.3 L1089.7,1372.3 L1090.2,1372.3 L1090.7,1372.3 L1091.2,1372.3 L1091.7,1372.3 L1092.2,1372.3 L1092.7,1372.3 L1093.2,1372.3 L1093.7,1372.3 L1094.2,1372.3 L1094.7,1372.3 L1095.2,1372.3 L1095.7,1372.3 L1096.2,1372.3 L1096.7,1372.3 L1097.2,1372.3 L1097.7,1372.3 L1098.2,1372.3 L1098.7,1372.3 L1099.2,1372.3 L1099.7,1372.3 L1100.2,1372.29 L1100.7,1372.29 L1101.2,1372.29 L1101.7,1372.29 L1102.2,1372.29 L1102.7,1372.29 L1103.2,1372.28 L1103.7,1372.28 L1104.2,1372.28 L1104.7,1372.27 L1105.2,1372.27 L1105.7,1372.26 L1106.2,1372.26 L1106.7,1372.25 L1107.2,1372.24 L1107.7,1372.23 L1108.2,1372.22 L1108.7,1372.21 L1109.2,1372.19 L1109.7,1372.17 L1110.2,1372.15 L1110.7,1372.13 L1111.2,1372.1 L1111.7,1372.07 L1112.2,1372.04 L1112.7,1372 L1113.2,1371.96 L1113.7,1371.92 L1114.2,1371.86 L1114.7,1371.8 L1115.2,1371.74 L1115.7,1371.67 L1116.2,1371.59 L1116.7,1371.5 L1117.2,1371.4 L1117.7,1371.29 L1118.2,1371.17 L1118.7,1371.04 L1119.2,1370.89 L1119.7,1370.74 L1120.2,1370.57 L1120.7,1370.38 L1121.2,1370.18 L1121.7,1369.97 L1122.2,1369.73 L1122.7,1369.48 L1123.2,1369.21 L1123.7,1368.93 L1124.2,1368.62 L1124.7,1368.29 L1125.2,1367.95 L1125.7,1367.58 L1126.2,1367.19 L1126.7,1366.79 L1127.2,1366.36 L1127.7,1365.91 L1128.2,1365.45 L1128.7,1364.96 L1129.2,1364.46 L1129.7,1363.94 L1130.2,1363.4 L1130.7,1362.85 L1131.2,1362.28 L1131.7,1361.71 L1132.2,1361.12 L1132.7,1360.53 L1133.2,1359.93 L1133.7,1359.32 L1134.2,1358.71 L1134.7,1358.11 L1135.2,1357.51 L1135.7,1356.91 L1136.2,1356.32 L1136.7,1355.75 L1137.2,1355.19 L1137.7,1354.65 L1138.2,1354.13 L1138.7,1353.63 L1139.2,1353.16 L1139.7,1352.71 L1140.2,1352.3 L1140.7,1351.92 L1141.2,1351.57 L1141.7,1351.27 L1142.2,1351 L1142.7,1350.78 L1143.2,1350.59 L1143.7,1350.45 L1144.2,1350.36 L1144.7,1350.31 L1145.2,1350.3 L1145.7,1350.34 L1146.2,1350.43 L1146.7,1350.56 L1147.2,1350.74 L1147.7,1350.95 L1148.2,1351.21 L1148.7,1351.51 L1149.2,1351.85 L1149.7,1352.22 L1150.2,1352.63 L1150.7,1353.06 L1151.2,1353.53 L1151.7,1354.02 L1152.2,1354.54 L1152.7,1355.08 L1153.2,1355.64 L1153.7,1356.21 L1154.2,1356.79 L1154.7,1357.39 L1155.2,1357.99 L1155.7,1358.59 L1156.2,1359.2 L1156.7,1359.8 L1157.2,1360.41 L1157.7,1361 L1158.2,1361.59 L1158.7,1362.17 L1159.2,1362.74 L1159.7,1363.29 L1160.2,1363.83 L1160.7,1364.36 L1161.2,1364.86 L1161.7,1365.35 L1162.2,1365.82 L1162.7,1366.27 L1163.2,1366.7 L1163.7,1367.11 L1164.2,1367.5 L1164.7,1367.87 L1165.2,1368.22 L1165.7,1368.55 L1166.2,1368.87 L1166.7,1369.16 L1167.2,1369.43 L1167.7,1369.68 L1168.2,1369.92 L1168.7,1370.14 L1169.2,1370.34 L1169.7,1370.53 L1170.2,1370.7 L1170.7,1370.86 L1171.2,1371.01 L1171.7,1371.14 L1172.2,1371.27 L1172.7,1371.38 L1173.2,1371.48 L1173.7,1371.57 L1174.2,1371.65 L1174.7,1371.73 L1175.2,1371.79 L1175.7,1371.85 L1176.2,1371.91 L1176.7,1371.95 L1177.2,1372 L1177.7,1372.03 L1178.2,1372.07 L1178.7,1372.1 L1179.2,1372.12 L1179.7,1372.15 L1180.2,1372.17 L1180.7,1372.19 L1181.2,1372.2 L1181.7,1372.22 L1182.2,1372.23 L1182.7,1372.24 L1183.2,1372.25 L1183.7,1372.25 L1184.2,1372.26 L1184.7,1372.27 L1185.2,1372.27 L1185.7,1372.28 L1186.2,1372.28 L1186.7,1372.28 L1186.7,1372.3 Z" fill="#FF0000" />
<path d="M1076.2,1372.3 L1076.7,1372.3 L1077.2,1372.3 L1077.7,1372.3 L1078.2,1372.29 L1078.7,1372.24 L1079.2,1372.11 L1079.7,1371.93 L1080.2,1371.68 L1080.7,1371.37 L1081.2,1371 L1081.7,1370.59 L1082.2,1370.12 L1082.7,1369.61 L1083.2,1369.06 L1083.7,1368.47 L1084.2,1367.85 L1084.7,1367.21 L1085.2,1366.56 L1085.7,1365.89 L1086.2,1365.22 L1086.7,1364.54 L1087.2,1363.88 L1087.7,1363.23 L1088.2,1362.6 L1088.7,1361.99 L1089.2,1361.42 L1089.7,1360.88 L1090.2,1360.39 L1090.7,1359.94 L1091.2,1359.54 L1091.7,1359.2 L1092.2,1358.92 L1092.7,1358.69 L1093.2,1358.53 L1093.7,1358.43 L1094.2,1358.4 L1094.7,1358.4 L1095.2,1358.4 L1095.7,1358.4 L1096.2,1358.4 L1096.7,1358.4 L1097.2,1358.4 L1097.7,1358.4 L1098.2,1358.4 L1098.7,1358.4 L1099.2,1358.4 L1099.7,1358.4 L1100.2,1358.4 L1100.7,1358.4 L1101.2,1358.4 L1101.7,1358.4 L1102.2,1358.4 L1102.7,1358.4 L1103.2,1358.4 L1103.7,1358.4 L1104.2,1358.4 L1104.7,1358.4 L1105.2,1358.4 L1105.7,1358.4 L1106.2,1358.4 L1106.7,1358.4 L1107.2,1358.4 L1107.7,1358.4 L1108.2,1358.4 L1108.7,1358.4 L1109.2,1358.4 L1109.7,1358.4 L1110.2,1358.4 L1110.7,1358.4 L1111.2,1358.4 L1111.7,1358.4 L1112.2,1358.4 L1112.7,1358.4 L1113.2,1358.4 L1113.7,1358.4 L1114.2,1358.4 L1114.7,1358.4 L1115.2,1358.4 L1115.7,1358.4 L1116.2,1358.4 L1116.7,1358.4 L1117.2,1358.4 L1117.7,1358.4 L1118.2,1358.4 L1118.7,1358.4 L1119.2,1358.4 L1119.7,1358.4 L1120.2,1358.4 L1120.7,1358.4 L1121.2,1358.4 L1121.7,1358.42 L1122.2,1358.45 L1122.7,1358.49 L1123.2,1358.54 L1123.7,1358.6 L1124.2,1358.67 L1124.7,1358.76 L1125.2,1358.85 L1125.7,1358.96 L1126.2,1359.08 L1126.7,1359.21 L1127.2,1359.35 L1127.7,1359.5 L1128.2,1359.66 L1128.7,1359.83 L1129.2,1360.01 L1129.7,1360.2 L1130.2,1360.4 L1130.7,1360.6 L1131.2,1360.81 L1131.7,1361.04 L1132.2,1361.26 L1132.7,1361.5 L1133.2,1361.74 L1133.7,1361.99 L1134.2,1362.25 L1134.7,1362.51 L1135.2,1362.77 L1135.7,1363.04 L1136.2,1363.31 L1136.7,1363.59 L1137.2,1363.87 L1137.7,1364.15 L1138.2,1364.43 L1138.7,1364.72 L1139.2,1365.01 L1139.7,1365.29 L1140.2,1365.58 L1140.7,1365.87 L1141.2,1366.15 L1141.7,1366.44 L1142.2,1366.72 L1142.7,1367 L1143.2,1367.28 L1143.7,1367.55 L1144.2,1367.82 L1144.7,1368.09 L1145.2,1368.35 L1145.7,1368.61 L1146.2,1368.86 L1146.7,1369.1 L1147.2,1369.34 L1147.7,1369.57 L1148.2,1369.8 L1148.7,1370.01 L1149.2,1370.22 L1149.7,1370.42 L1150.2,1370.62 L1150.7,1370.8 L1151.2,1370.97 L1151.7,1371.14 L1152.2,1371.29 L1152.7,1371.43 L1153.2,1371.57 L1153.7,1371.69 L1154.2,1371.8 L1154.7,1371.9 L1155.2,1371.99 L1155.7,1372.07 L1156.2,1372.14 L1156.7,1372.2 L1157.2,1372.24 L1157.7,1372.27 L1158.2,1372.29 L1158.7,1372.3 L1159.2,1372.3 L1159.7,1372.3 L1160.2,1372.3 L1160.7,1372.3 L1161.2,1372.3 L1161.7,1372.3 L1162.2,1372.3 L1162.7,1372.3 L1163.2,1372.3 L1163.7,1372.3 L1164.2,1372.3 L1164.7,1372.3 L1165.2,1372.3 L1165.7,1372.3 L1166.2,1372.3 L1166.7,1372.3" fill="none" stroke="#3A3AA8" stroke-width="1.3" />
<path d="M1048.2,1370.79 L1048.7,1371.33 L1049.2,1372.18 L1049.7,1371.87 L1050.2,1371.33 L1050.7,1370.61 L1051.2,1371.67 L1051.7,1372.3 L1052.2,1371.48 L1052.7,1371.1 L1053.2,1370.18 L1053.7,1369.99 L1054.2,1370.58 L1054.7,1371.05 L1055.2,1369.48 L1055.7,1370.39 L1056.2,1371.27 L1056.7,1372.02 L1057.2,1371.67 L1057.7,1371.43 L1058.2,1371.6 L1058.7,1371.52 L1059.2,1371.25 L1059.7,1370.82 L1060.2,1370.3 L1060.7,1370.56 L1061.2,1372.01 L1061.7,1371.26 L1062.2,1372.19 L1062.7,1371.92 L1063.2,1372.3 L1063.7,1372.04 L1064.2,1372.2 L1064.7,1371.62 L1065.2,1369.22 L1065.7,1369.93 L1066.2,1369.72 L1066.7,1370.95 L1067.2,1370.92 L1067.7,1370.14 L1068.2,1370.03 L1068.7,1369.45 L1069.2,1369.03 L1069.7,1369.25 L1070.2,1367.9 L1070.7,1367.6 L1071.2,1364.92 L1071.7,1364.34 L1072.2,1362.29 L1072.7,1360.6 L1073.2,1357.72 L1073.7,1355.9 L1074.2,1352.02 L1074.7,1348.89 L1075.2,1343.91 L1075.7,1339.31 L1076.2,1334.63 L1076.7,1330.12 L1077.2,1323.23 L1077.7,1316.44 L1078.2,1308.1 L1078.7,1301.83 L1079.2,1293.75 L1079.7,1285.47 L1080.2,1277.23 L1080.7,1268.89 L1081.2,1260.53 L1081.7,1253.19 L1082.2,1246.35 L1082.7,1238.96 L1083.2,1231.24 L1083.7,1223.9 L1084.2,1219.1 L1084.7,1215.67 L1085.2,1214.04 L1085.7,1214.74 L1086.2,1216.22 L1086.7,1217.8 L1087.2,1219.31 L1087.7,1224.85 L1088.2,1230.97 L1088.7,1234.1 L1089.2,1240.84 L1089.7,1247.01 L1090.2,1253.91 L1090.7,1263.43 L1091.2,1268.26 L1091.7,1275 L1092.2,1283.75 L1092.7,1291.21 L1093.2,1299.02 L1093.7,1307.22 L1094.2,1313.66 L1094.7,1319.14 L1095.2,1323.6 L1095.7,1328.32 L1096.2,1333.2 L1096.7,1336.21 L1097.2,1340.97 L1097.7,1343.36 L1098.2,1345.31 L1098.7,1348.31 L1099.2,1351.86 L1099.7,1353.67 L1100.2,1354.16 L1100.7,1354.5 L1101.2,1354.1 L1101.7,1356.09 L1102.2,1356.61 L1102.7,1356.51 L1103.2,1357.16 L1103.7,1359.37 L1104.2,1358.21 L1104.7,1356.37 L1105.2,1356.31 L1105.7,1357.81 L1106.2,1358.32 L1106.7,1358.13 L1107.2,1356.24 L1107.7,1356.57 L1108.2,1357.17 L1108.7,1356.39 L1109.2,1357.2 L1109.7,1356.15 L1110.2,1357.52 L1110.7,1358.16 L1111.2,1357.6 L1111.7,1356.69 L1112.2,1356.73 L1112.7,1357.02 L1113.2,1358.85 L1113.7,1359.05 L1114.2,1359.07 L1114.7,1358.99 L1115.2,1358.03 L1115.7,1358.14 L1116.2,1357.29 L1116.7,1357.29 L1117.2,1357.58 L1117.7,1357.34 L1118.2,1356.9 L1118.7,1356.24 L1119.2,1356.83 L1119.7,1356.93 L1120.2,1357.81 L1120.7,1355.89 L1121.2,1354.77 L1121.7,1355.32 L1122.2,1355.8 L1122.7,1356.61 L1123.2,1355.88 L1123.7,1355.32 L1124.2,1353.28 L1124.7,1353.53 L1125.2,1354.4 L1125.7,1356.17 L1126.2,1353.98 L1126.7,1353.55 L1127.2,1354.64 L1127.7,1353.7 L1128.2,1354.48 L1128.7,1350.64 L1129.2,1350.13 L1129.7,1350.14 L1130.2,1350.62 L1130.7,1352.4 L1131.2,1351.66 L1131.7,1352.25 L1132.2,1350.68 L1132.7,1351.87 L1133.2,1351.42 L1133.7,1349.21 L1134.2,1347.38 L1134.7,1348.53 L1135.2,1349.37 L1135.7,1347.67 L1136.2,1346.51 L1136.7,1347.19 L1137.2,1347.15 L1137.7,1346.87 L1138.2,1346.85 L1138.7,1346.06 L1139.2,1343.54 L1139.7,1342.1 L1140.2,1339.63 L1140.7,1339.65 L1141.2,1339.39 L1141.7,1339.78 L1142.2,1339.17 L1142.7,1339.94 L1143.2,1341.02 L1143.7,1339.81 L1144.2,1338.87 L1144.7,1339.34 L1145.2,1339.72 L1145.7,1341.4 L1146.2,1343.72 L1146.7,1344.84 L1147.2,1346.28 L1147.7,1348.1 L1148.2,1349.98 L1148.7,1351.19 L1149.2,1350.94 L1149.7,1350.92 L1150.2,1351.68 L1150.7,1350.83 L1151.2,1351.62 L1151.7,1352.04 L1152.2,1352.05 L1152.7,1354 L1153.2,1356.37 L1153.7,1355.87 L1154.2,1357.01 L1154.7,1356.37 L1155.2,1357.05 L1155.7,1357.19 L1156.2,1357.74 L1156.7,1360.54 L1157.2,1360.29 L1157.7,1361.46 L1158.2,1362.45 L1158.7,1363.02 L1159.2,1362.66 L1159.7,1362.58 L1160.2,1362.66 L1160.7,1364.88 L1161.2,1365.61 L1161.7,1367.54 L1162.2,1367.2 L1162.7,1366.66 L1163.2,1367.48 L1163.7,1367.4 L1164.2,1367.51 L1164.7,1367.17 L1165.2,1368.38 L1165.7,1369.23 L1166.2,1369.79 L1166.7,1368.5 L1167.2,1368.29 L1167.7,1369.09 L1168.2,1369.41 L1168.7,1369.76 L1169.2,1369.98 L1169.7,1370.45 L1170.2,1370.88 L1170.7,1371.8 L1171.2,1371.99 L1171.7,1370.65 L1172.2,1370.62 L1172.7,1370.95 L1173.2,1371.36 L1173.7,1371.46 L1174.2,1371.36 L1174.7,1371.96 L1175.2,1371.81 L1175.7,1371.71 L1176.2,1372.29 L1176.7,1372.3 L1177.2,1372.3 L1177.7,1372.3 L1178.2,1372.29 L1178.7,1372.3" fill="none" stroke="#000" stroke-width="1.1" />
<path d="M1048.2,1371.3 L1048.7,1371.3 L1049.2,1371.3 L1049.7,1371.3 L1050.2,1371.3 L1050.7,1371.3 L1051.2,1371.3 L1051.7,1371.3 L1052.2,1371.3 L1052.7,1371.3 L1053.2,1371.3 L1053.7,1371.3 L1054.2,1371.3 L1054.7,1371.3 L1055.2,1371.3 L1055.7,1371.3 L1056.2,1371.3 L1056.7,1371.3 L1057.2,1371.3 L1057.7,1371.3 L1058.2,1371.3 L1058.7,1371.3 L1059.2,1371.3 L1059.7,1371.3 L1060.2,1371.3 L1060.7,1371.29 L1061.2,1371.29 L1061.7,1371.28 L1062.2,1371.28 L1062.7,1371.27 L1063.2,1371.25 L1063.7,1371.23 L1064.2,1371.2 L1064.7,1371.16 L1065.2,1371.11 L1065.7,1371.04 L1066.2,1370.94 L1066.7,1370.81 L1067.2,1370.64 L1067.7,1370.42 L1068.2,1370.13 L1068.7,1369.76 L1069.2,1369.3 L1069.7,1368.71 L1070.2,1367.97 L1070.7,1367.06 L1071.2,1365.95 L1071.7,1364.59 L1072.2,1362.96 L1072.7,1361.02 L1073.2,1358.72 L1073.7,1356.03 L1074.2,1352.91 L1074.7,1349.34 L1075.2,1345.27 L1075.7,1340.7 L1076.2,1335.61 L1076.7,1330.01 L1077.2,1323.9 L1077.7,1317.32 L1078.2,1310.32 L1078.7,1302.89 L1079.2,1295.13 L1079.7,1287.11 L1080.2,1278.96 L1080.7,1270.81 L1081.2,1262.78 L1081.7,1255.03 L1082.2,1247.69 L1082.7,1240.93 L1083.2,1234.87 L1083.7,1229.64 L1084.2,1225.35 L1084.7,1222.09 L1085.2,1219.93 L1085.7,1219.91 L1086.2,1220.05 L1086.7,1221.33 L1087.2,1223.72 L1087.7,1227.14 L1088.2,1231.51 L1088.7,1236.73 L1089.2,1242.67 L1089.7,1249.21 L1090.2,1256.2 L1090.7,1263.5 L1091.2,1270.99 L1091.7,1278.53 L1092.2,1286.02 L1092.7,1293.33 L1093.2,1300.4 L1093.7,1307.14 L1094.2,1313.5 L1094.7,1319.41 L1095.2,1324.81 L1095.7,1329.69 L1096.2,1334.06 L1096.7,1337.92 L1097.2,1341.31 L1097.7,1344.25 L1098.2,1346.78 L1098.7,1348.93 L1099.2,1350.75 L1099.7,1352.26 L1100.2,1353.52 L1100.7,1354.54 L1101.2,1355.38 L1101.7,1356.05 L1102.2,1356.58 L1102.7,1357.01 L1103.2,1357.34 L1103.7,1357.59 L1104.2,1357.79 L1104.7,1357.94 L1105.2,1358.05 L1105.7,1358.13 L1106.2,1358.19 L1106.7,1358.23 L1107.2,1358.25 L1107.7,1358.27 L1108.2,1358.28 L1108.7,1358.28 L1109.2,1358.27 L1109.7,1358.26 L1110.2,1358.24 L1110.7,1358.22 L1111.2,1358.2 L1111.7,1358.17 L1112.2,1358.14 L1112.7,1358.1 L1113.2,1358.06 L1113.7,1358.02 L1114.2,1357.96 L1114.7,1357.9 L1115.2,1357.84 L1115.7,1357.77 L1116.2,1357.69 L1116.7,1357.6 L1117.2,1357.5 L1117.7,1357.39 L1118.2,1357.27 L1118.7,1357.14 L1119.2,1356.99 L1119.7,1356.84 L1120.2,1356.67 L1120.7,1356.48 L1121.2,1356.29 L1121.7,1356.08 L1122.2,1355.88 L1122.7,1355.67 L1123.2,1355.45 L1123.7,1355.22 L1124.2,1354.99 L1124.7,1354.75 L1125.2,1354.5 L1125.7,1354.24 L1126.2,1353.97 L1126.7,1353.7 L1127.2,1353.41 L1127.7,1353.11 L1128.2,1352.81 L1128.7,1352.49 L1129.2,1352.17 L1129.7,1351.84 L1130.2,1351.5 L1130.7,1351.15 L1131.2,1350.8 L1131.7,1350.44 L1132.2,1350.09 L1132.7,1349.73 L1133.2,1349.37 L1133.7,1349.01 L1134.2,1348.66 L1134.7,1348.31 L1135.2,1347.98 L1135.7,1347.65 L1136.2,1347.34 L1136.7,1347.04 L1137.2,1346.76 L1137.7,1346.5 L1138.2,1346.26 L1138.7,1346.05 L1139.2,1345.86 L1139.7,1345.7 L1140.2,1345.58 L1140.7,1345.48 L1141.2,1345.43 L1141.7,1345.41 L1142.2,1345.42 L1142.7,1345.48 L1143.2,1345.57 L1143.7,1345.71 L1144.2,1345.88 L1144.7,1346.1 L1145.2,1346.35 L1145.7,1346.65 L1146.2,1346.99 L1146.7,1347.36 L1147.2,1347.78 L1147.7,1348.23 L1148.2,1348.71 L1148.7,1349.22 L1149.2,1349.77 L1149.7,1350.34 L1150.2,1350.94 L1150.7,1351.56 L1151.2,1352.2 L1151.7,1352.86 L1152.2,1353.53 L1152.7,1354.22 L1153.2,1354.91 L1153.7,1355.6 L1154.2,1356.3 L1154.7,1356.99 L1155.2,1357.68 L1155.7,1358.37 L1156.2,1359.04 L1156.7,1359.7 L1157.2,1360.35 L1157.7,1360.97 L1158.2,1361.58 L1158.7,1362.17 L1159.2,1362.74 L1159.7,1363.29 L1160.2,1363.83 L1160.7,1364.36 L1161.2,1364.86 L1161.7,1365.35 L1162.2,1365.82 L1162.7,1366.27 L1163.2,1366.7 L1163.7,1367.11 L1164.2,1367.5 L1164.7,1367.87 L1165.2,1368.22 L1165.7,1368.55 L1166.2,1368.87 L1166.7,1369.16 L1167.2,1369.43 L1167.7,1369.68 L1168.2,1369.92 L1168.7,1370.14 L1169.2,1370.34 L1169.7,1370.53 L1170.2,1370.7 L1170.7,1370.86 L1171.2,1371.01 L1171.7,1371.14 L1172.2,1371.27 L1172.7,1371.38 L1173.2,1371.48 L1173.7,1371.57 L1174.2,1371.65 L1174.7,1371.73 L1175.2,1371.79 L1175.7,1371.85 L1176.2,1371.91 L1176.7,1371.95 L1177.2,1372 L1177.7,1372.03 L1178.2,1372.07 L1178.7,1372.1" fill="none" stroke="#00F000" stroke-width="1.4" />
<line x1="1046.7" y1="1214" x2="1046.7" y2="1373.1" stroke="#0C2060" stroke-width="1.8" />
<line x1="1045.9" y1="1372.3" x2="1187.7" y2="1372.3" stroke="#0C2060" stroke-width="1.8" />
<line x1="1041" y1="1372.3" x2="1046.2" y2="1372.3" stroke="#000" stroke-width="1.1" />
<line x1="1043.1" y1="1362.41" x2="1046.2" y2="1362.41" stroke="#000" stroke-width="1.1" />
<line x1="1043.1" y1="1352.51" x2="1046.2" y2="1352.51" stroke="#000" stroke-width="1.1" />
<line x1="1043.1" y1="1342.62" x2="1046.2" y2="1342.62" stroke="#000" stroke-width="1.1" />
<line x1="1041" y1="1332.72" x2="1046.2" y2="1332.72" stroke="#000" stroke-width="1.1" />
<line x1="1043.1" y1="1322.83" x2="1046.2" y2="1322.83" stroke="#000" stroke-width="1.1" />
<line x1="1043.1" y1="1312.94" x2="1046.2" y2="1312.94" stroke="#000" stroke-width="1.1" />
<line x1="1043.1" y1="1303.04" x2="1046.2" y2="1303.04" stroke="#000" stroke-width="1.1" />
<line x1="1041" y1="1293.15" x2="1046.2" y2="1293.15" stroke="#000" stroke-width="1.1" />
<line x1="1043.1" y1="1283.26" x2="1046.2" y2="1283.26" stroke="#000" stroke-width="1.1" />
<line x1="1043.1" y1="1273.36" x2="1046.2" y2="1273.36" stroke="#000" stroke-width="1.1" />
<line x1="1043.1" y1="1263.47" x2="1046.2" y2="1263.47" stroke="#000" stroke-width="1.1" />
<line x1="1041" y1="1253.58" x2="1046.2" y2="1253.58" stroke="#000" stroke-width="1.1" />
<line x1="1043.1" y1="1243.68" x2="1046.2" y2="1243.68" stroke="#000" stroke-width="1.1" />
<line x1="1043.1" y1="1233.79" x2="1046.2" y2="1233.79" stroke="#000" stroke-width="1.1" />
<line x1="1043.1" y1="1223.89" x2="1046.2" y2="1223.89" stroke="#000" stroke-width="1.1" />
<line x1="1041" y1="1214" x2="1046.2" y2="1214" stroke="#000" stroke-width="1.1" />
<line x1="1046.7" y1="1372.8" x2="1046.7" y2="1378.1" stroke="#000" stroke-width="1.1" />
<line x1="1056.5" y1="1372.8" x2="1056.5" y2="1375.3" stroke="#000" stroke-width="1.1" />
<line x1="1066.3" y1="1372.8" x2="1066.3" y2="1375.3" stroke="#000" stroke-width="1.1" />
<line x1="1076.1" y1="1372.8" x2="1076.1" y2="1375.3" stroke="#000" stroke-width="1.1" />
<line x1="1085.9" y1="1372.8" x2="1085.9" y2="1378.1" stroke="#000" stroke-width="1.1" />
<line x1="1095.7" y1="1372.8" x2="1095.7" y2="1375.3" stroke="#000" stroke-width="1.1" />
<line x1="1105.5" y1="1372.8" x2="1105.5" y2="1375.3" stroke="#000" stroke-width="1.1" />
<line x1="1115.3" y1="1372.8" x2="1115.3" y2="1375.3" stroke="#000" stroke-width="1.1" />
<line x1="1125.1" y1="1372.8" x2="1125.1" y2="1378.1" stroke="#000" stroke-width="1.1" />
<line x1="1134.9" y1="1372.8" x2="1134.9" y2="1375.3" stroke="#000" stroke-width="1.1" />
<line x1="1144.7" y1="1372.8" x2="1144.7" y2="1375.3" stroke="#000" stroke-width="1.1" />
<line x1="1154.5" y1="1372.8" x2="1154.5" y2="1375.3" stroke="#000" stroke-width="1.1" />
<line x1="1164.3" y1="1372.8" x2="1164.3" y2="1378.1" stroke="#000" stroke-width="1.1" />
<line x1="1174.1" y1="1372.8" x2="1174.1" y2="1375.3" stroke="#000" stroke-width="1.1" />
<line x1="1183.9" y1="1372.8" x2="1183.9" y2="1375.3" stroke="#000" stroke-width="1.1" />
<text x="1040.5" y="1218.4" font-size="13.2" text-anchor="end" font-family="'Liberation Serif', 'Times New Roman', serif" fill="#2a2a2a">1184</text>
<text x="1040.5" y="1257.98" font-size="13.2" text-anchor="end" font-family="'Liberation Serif', 'Times New Roman', serif" fill="#2a2a2a">888</text>
<text x="1040.5" y="1297.55" font-size="13.2" text-anchor="end" font-family="'Liberation Serif', 'Times New Roman', serif" fill="#2a2a2a">592</text>
<text x="1040.5" y="1337.12" font-size="13.2" text-anchor="end" font-family="'Liberation Serif', 'Times New Roman', serif" fill="#2a2a2a">296</text>
<text x="1040.5" y="1376.7" font-size="13.2" text-anchor="end" font-family="'Liberation Serif', 'Times New Roman', serif" fill="#2a2a2a">0</text>
<text x="1046.7" y="1389.6" font-size="13.2" text-anchor="middle" font-family="'Liberation Serif', 'Times New Roman', serif" fill="#2a2a2a">80.0</text>
<text x="1085.9" y="1389.6" font-size="13.2" text-anchor="middle" font-family="'Liberation Serif', 'Times New Roman', serif" fill="#2a2a2a">235.0</text>
<text x="1125.1" y="1389.6" font-size="13.2" text-anchor="middle" font-family="'Liberation Serif', 'Times New Roman', serif" fill="#2a2a2a">390.0</text>
<text x="1164.3" y="1389.6" font-size="13.2" text-anchor="middle" font-family="'Liberation Serif', 'Times New Roman', serif" fill="#2a2a2a">545.0</text>
</g>
<g>
<path d="M1226.9,1366 L1226.9,1366 L1227.4,1366 L1227.9,1366 L1228.4,1366 L1228.9,1366 L1229.4,1366 L1229.9,1366 L1230.4,1366 L1230.9,1366 L1231.4,1366 L1231.9,1366 L1232.4,1366 L1232.9,1366 L1233.4,1366 L1233.9,1366 L1234.4,1366 L1234.9,1366 L1235.4,1366 L1235.9,1366 L1236.4,1366 L1236.9,1366 L1237.4,1366 L1237.9,1366 L1238.4,1366 L1238.9,1366 L1239.4,1366 L1239.9,1366 L1240.4,1366 L1240.9,1366 L1241.4,1366 L1241.9,1366 L1242.4,1366 L1242.9,1366 L1243.4,1366 L1243.9,1366 L1244.4,1366 L1244.9,1366 L1245.4,1366 L1245.9,1366 L1246.4,1366 L1246.9,1366 L1247.4,1366 L1247.9,1366 L1248.4,1366 L1248.9,1366 L1249.4,1366 L1249.9,1366 L1250.4,1366 L1250.9,1366 L1251.4,1366 L1251.9,1366 L1252.4,1366 L1252.9,1366 L1253.4,1366 L1253.9,1366 L1254.4,1366 L1254.9,1366 L1255.4,1366 L1255.9,1366 L1256.4,1366 L1256.9,1366 L1257.4,1366 L1257.9,1366 L1258.4,1366 L1258.9,1365.99 L1259.4,1365.93 L1259.9,1365.82 L1260.4,1365.65 L1260.9,1365.43 L1261.4,1365.16 L1261.9,1364.85 L1262.4,1364.49 L1262.9,1364.1 L1263.4,1363.67 L1263.9,1363.21 L1264.4,1362.72 L1264.9,1362.22 L1265.4,1361.7 L1265.9,1361.17 L1266.4,1360.64 L1266.9,1360.11 L1267.4,1359.59 L1267.9,1359.08 L1268.4,1358.59 L1268.9,1358.12 L1269.4,1357.69 L1269.9,1357.28 L1270.4,1356.92 L1270.9,1356.6 L1271.4,1356.32 L1271.9,1356.09 L1272.4,1355.91 L1272.9,1355.79 L1273.4,1355.72 L1273.9,1355.7 L1274.4,1355.7 L1274.9,1355.7 L1275.4,1355.7 L1275.9,1355.7 L1276.4,1355.7 L1276.9,1355.7 L1277.4,1355.7 L1277.9,1355.7 L1278.4,1355.7 L1278.9,1355.7 L1279.4,1355.7 L1279.9,1355.7 L1280.4,1355.7 L1280.9,1355.7 L1281.4,1355.7 L1281.9,1355.7 L1282.4,1355.7 L1282.9,1355.7 L1283.4,1355.7 L1283.9,1355.7 L1284.4,1355.7 L1284.9,1355.7 L1285.4,1355.7 L1285.9,1355.7 L1286.4,1355.7 L1286.9,1355.7 L1287.4,1355.7 L1287.9,1355.7 L1288.4,1355.7 L1288.9,1355.7 L1289.4,1355.7 L1289.9,1355.7 L1290.4,1355.7 L1290.9,1355.7 L1291.4,1355.7 L1291.9,1355.7 L1292.4,1355.7 L1292.9,1355.7 L1293.4,1355.7 L1293.9,1355.7 L1294.4,1355.7 L1294.9,1355.7 L1295.4,1355.7 L1295.9,1355.7 L1296.4,1355.7 L1296.9,1355.7 L1297.4,1355.7 L1297.9,1355.7 L1298.4,1355.7 L1298.9,1355.7 L1299.4,1355.7 L1299.9,1355.7 L1300.4,1355.7 L1300.9,1355.7 L1301.4,1355.7 L1301.9,1355.7 L1302.4,1355.7 L1302.9,1355.7 L1303.4,1355.7 L1303.9,1355.7 L1304.4,1355.7 L1304.9,1355.7 L1305.4,1355.7 L1305.9,1355.71 L1306.4,1355.72 L1306.9,1355.75 L1307.4,1355.79 L1307.9,1355.84 L1308.4,1355.9 L1308.9,1355.97 L1309.4,1356.05 L1309.9,1356.14 L1310.4,1356.24 L1310.9,1356.35 L1311.4,1356.47 L1311.9,1356.6 L1312.4,1356.74 L1312.9,1356.89 L1313.4,1357.04 L1313.9,1357.21 L1314.4,1357.38 L1314.9,1357.56 L1315.4,1357.75 L1315.9,1357.94 L1316.4,1358.14 L1316.9,1358.34 L1317.4,1358.55 L1317.9,1358.77 L1318.4,1358.99 L1318.9,1359.21 L1319.4,1359.44 L1319.9,1359.67 L1320.4,1359.9 L1320.9,1360.14 L1321.4,1360.37 L1321.9,1360.61 L1322.4,1360.85 L1322.9,1361.09 L1323.4,1361.33 L1323.9,1361.56 L1324.4,1361.8 L1324.9,1362.03 L1325.4,1362.26 L1325.9,1362.49 L1326.4,1362.71 L1326.9,1362.93 L1327.4,1363.15 L1327.9,1363.36 L1328.4,1363.56 L1328.9,1363.76 L1329.4,1363.95 L1329.9,1364.14 L1330.4,1364.32 L1330.9,1364.49 L1331.4,1364.66 L1331.9,1364.81 L1332.4,1364.96 L1332.9,1365.1 L1333.4,1365.23 L1333.9,1365.35 L1334.4,1365.46 L1334.9,1365.56 L1335.4,1365.65 L1335.9,1365.73 L1336.4,1365.8 L1336.9,1365.86 L1337.4,1365.91 L1337.9,1365.95 L1338.4,1365.98 L1338.9,1365.99 L1339.4,1366 L1339.9,1366 L1340.4,1366 L1340.9,1366 L1341.4,1366 L1341.9,1366 L1342.4,1366 L1342.9,1366 L1343.4,1366 L1343.9,1366 L1344.4,1366 L1344.9,1366 L1345.4,1366 L1345.9,1366 L1346.4,1366 L1346.9,1366 L1347.4,1366 L1347.9,1366 L1348.4,1366 L1348.9,1366 L1349.4,1366 L1349.9,1366 L1350.4,1366 L1350.9,1366 L1351.4,1366 L1351.9,1366 L1352.4,1366 L1352.9,1366 L1353.4,1366 L1353.9,1366 L1354.4,1366 L1354.9,1366 L1355.4,1366 L1355.9,1366 L1356.4,1366 L1356.9,1366 L1357.4,1366 L1357.9,1366 L1358.4,1366 L1358.9,1366 L1359.4,1366 L1359.9,1366 L1360.4,1366 L1360.9,1366 L1361.4,1366 L1361.9,1366 L1362.4,1366 L1362.9,1366 L1363.4,1366 L1363.9,1366 L1364.4,1366 L1364.9,1366 L1365.4,1366 L1365.9,1366 L1366.4,1366 L1366.9,1366 L1367.4,1366 L1367.9,1366 L1368.4,1366 L1368.9,1366 L1369.4,1366 L1369.9,1366 L1370.4,1366 L1370.9,1366 L1371.4,1366 L1371.9,1366 L1372.4,1366 L1372.9,1366 L1373.4,1366 L1373.9,1366 L1374.4,1366 L1374.9,1366 L1375.4,1366 L1375.9,1366 L1376.4,1366 L1376.9,1366 L1377.4,1366 L1377.9,1366 L1378.4,1366 L1378.9,1366 L1379.4,1366 L1379.9,1366 L1380.4,1366 L1380.9,1366 L1380.9,1366 Z" fill="#E2E2F2" />
<path d="M1226.9,1366 L1226.9,1366 L1227.4,1366 L1227.9,1366 L1228.4,1366 L1228.9,1366 L1229.4,1366 L1229.9,1366 L1230.4,1366 L1230.9,1366 L1231.4,1366 L1231.9,1366 L1232.4,1366 L1232.9,1366 L1233.4,1366 L1233.9,1366 L1234.4,1366 L1234.9,1366 L1235.4,1366 L1235.9,1366 L1236.4,1366 L1236.9,1366 L1237.4,1366 L1237.9,1366 L1238.4,1366 L1238.9,1366 L1239.4,1366 L1239.9,1366 L1240.4,1366 L1240.9,1365.99 L1241.4,1365.99 L1241.9,1365.98 L1242.4,1365.98 L1242.9,1365.97 L1243.4,1365.95 L1243.9,1365.93 L1244.4,1365.9 L1244.9,1365.85 L1245.4,1365.8 L1245.9,1365.72 L1246.4,1365.61 L1246.9,1365.47 L1247.4,1365.28 L1247.9,1365.03 L1248.4,1364.71 L1248.9,1364.3 L1249.4,1363.77 L1249.9,1363.1 L1250.4,1362.26 L1250.9,1361.22 L1251.4,1359.94 L1251.9,1358.38 L1252.4,1356.5 L1252.9,1354.25 L1253.4,1351.59 L1253.9,1348.48 L1254.4,1344.86 L1254.9,1340.71 L1255.4,1335.99 L1255.9,1330.69 L1256.4,1324.78 L1256.9,1318.29 L1257.4,1311.23 L1257.9,1303.64 L1258.4,1295.59 L1258.9,1287.15 L1259.4,1278.42 L1259.9,1269.53 L1260.4,1260.61 L1260.9,1251.81 L1261.4,1243.3 L1261.9,1235.24 L1262.4,1227.79 L1262.9,1221.13 L1263.4,1215.39 L1263.9,1210.71 L1264.4,1207.21 L1264.9,1204.96 L1265.4,1204.03 L1265.9,1204.43 L1266.4,1206.15 L1266.9,1209.16 L1267.4,1213.38 L1267.9,1218.71 L1268.4,1225.02 L1268.9,1232.18 L1269.4,1240.01 L1269.9,1248.36 L1270.4,1257.07 L1270.9,1265.96 L1271.4,1274.88 L1271.9,1283.68 L1272.4,1292.25 L1272.9,1300.47 L1273.4,1308.26 L1273.9,1315.53 L1274.4,1322.26 L1274.9,1328.4 L1275.4,1333.94 L1275.9,1338.89 L1276.4,1343.27 L1276.9,1347.09 L1277.4,1350.41 L1277.9,1353.24 L1278.4,1355.65 L1278.9,1357.67 L1279.4,1359.35 L1279.9,1360.74 L1280.4,1361.87 L1280.9,1362.79 L1281.4,1363.52 L1281.9,1364.1 L1282.4,1364.56 L1282.9,1364.91 L1283.4,1365.19 L1283.9,1365.4 L1284.4,1365.56 L1284.9,1365.68 L1285.4,1365.77 L1285.9,1365.83 L1286.4,1365.88 L1286.9,1365.92 L1287.4,1365.94 L1287.9,1365.96 L1288.4,1365.97 L1288.9,1365.98 L1289.4,1365.99 L1289.9,1365.99 L1290.4,1365.99 L1290.9,1366 L1291.4,1366 L1291.9,1366 L1292.4,1366 L1292.9,1366 L1293.4,1366 L1293.9,1366 L1294.4,1366 L1294.9,1366 L1295.4,1366 L1295.9,1366 L1296.4,1366 L1296.9,1366 L1297.4,1366 L1297.9,1366 L1298.4,1366 L1298.9,1366 L1299.4,1366 L1299.9,1366 L1300.4,1366 L1300.9,1366 L1301.4,1366 L1301.9,1366 L1302.4,1366 L1302.9,1366 L1303.4,1366 L1303.9,1366 L1304.4,1366 L1304.9,1366 L1305.4,1366 L1305.9,1366 L1306.4,1366 L1306.9,1366 L1307.4,1366 L1307.9,1366 L1308.4,1366 L1308.9,1366 L1309.4,1366 L1309.9,1366 L1310.4,1366 L1310.9,1366 L1311.4,1366 L1311.9,1366 L1312.4,1366 L1312.9,1366 L1313.4,1366 L1313.9,1366 L1314.4,1366 L1314.9,1366 L1315.4,1366 L1315.9,1366 L1316.4,1366 L1316.9,1366 L1317.4,1366 L1317.9,1366 L1318.4,1366 L1318.9,1366 L1319.4,1366 L1319.9,1366 L1320.4,1366 L1320.9,1366 L1321.4,1366 L1321.9,1366 L1322.4,1366 L1322.9,1366 L1323.4,1366 L1323.9,1366 L1324.4,1366 L1324.9,1366 L1325.4,1366 L1325.9,1366 L1326.4,1366 L1326.9,1366 L1327.4,1366 L1327.9,1366 L1328.4,1366 L1328.9,1366 L1329.4,1366 L1329.9,1366 L1330.4,1366 L1330.9,1366 L1331.4,1366 L1331.9,1366 L1332.4,1366 L1332.9,1366 L1333.4,1366 L1333.9,1366 L1334.4,1366 L1334.9,1366 L1335.4,1366 L1335.9,1366 L1336.4,1366 L1336.9,1366 L1337.4,1366 L1337.9,1366 L1338.4,1366 L1338.9,1366 L1339.4,1366 L1339.9,1366 L1340.4,1366 L1340.9,1366 L1341.4,1366 L1341.9,1366 L1342.4,1366 L1342.9,1366 L1343.4,1366 L1343.9,1366 L1344.4,1366 L1344.9,1366 L1345.4,1366 L1345.9,1366 L1346.4,1366 L1346.9,1366 L1347.4,1366 L1347.9,1366 L1348.4,1366 L1348.9,1366 L1349.4,1366 L1349.9,1366 L1350.4,1366 L1350.9,1366 L1351.4,1366 L1351.9,1366 L1352.4,1366 L1352.9,1366 L1353.4,1366 L1353.9,1366 L1354.4,1366 L1354.9,1366 L1355.4,1366 L1355.9,1366 L1356.4,1366 L1356.9,1366 L1357.4,1366 L1357.9,1366 L1358.4,1366 L1358.9,1366 L1359.4,1366 L1359.9,1366 L1360.4,1366 L1360.9,1366 L1361.4,1366 L1361.9,1366 L1362.4,1366 L1362.9,1366 L1363.4,1366 L1363.9,1366 L1364.4,1366 L1364.9,1366 L1365.4,1366 L1365.9,1366 L1366.4,1366 L1366.9,1366 L1367.4,1366 L1367.9,1366 L1368.4,1366 L1368.9,1366 L1369.4,1366 L1369.9,1366 L1370.4,1366 L1370.9,1366 L1371.4,1366 L1371.9,1366 L1372.4,1366 L1372.9,1366 L1373.4,1366 L1373.9,1366 L1374.4,1366 L1374.9,1366 L1375.4,1366 L1375.9,1366 L1376.4,1366 L1376.9,1366 L1377.4,1366 L1377.9,1366 L1378.4,1366 L1378.9,1366 L1379.4,1366 L1379.9,1366 L1380.4,1366 L1380.9,1366 L1380.9,1366 Z" fill="#FF0000" />
<path d="M1226.9,1366 L1226.9,1366 L1227.4,1366 L1227.9,1366 L1228.4,1366 L1228.9,1366 L1229.4,1366 L1229.9,1366 L1230.4,1366 L1230.9,1366 L1231.4,1366 L1231.9,1366 L1232.4,1366 L1232.9,1366 L1233.4,1366 L1233.9,1366 L1234.4,1366 L1234.9,1366 L1235.4,1366 L1235.9,1366 L1236.4,1366 L1236.9,1366 L1237.4,1366 L1237.9,1366 L1238.4,1366 L1238.9,1366 L1239.4,1366 L1239.9,1366 L1240.4,1366 L1240.9,1366 L1241.4,1366 L1241.9,1366 L1242.4,1366 L1242.9,1366 L1243.4,1366 L1243.9,1366 L1244.4,1366 L1244.9,1366 L1245.4,1366 L1245.9,1366 L1246.4,1366 L1246.9,1366 L1247.4,1366 L1247.9,1366 L1248.4,1366 L1248.9,1366 L1249.4,1366 L1249.9,1366 L1250.4,1366 L1250.9,1366 L1251.4,1366 L1251.9,1366 L1252.4,1366 L1252.9,1366 L1253.4,1366 L1253.9,1366 L1254.4,1366 L1254.9,1366 L1255.4,1366 L1255.9,1366 L1256.4,1366 L1256.9,1366 L1257.4,1366 L1257.9,1366 L1258.4,1366 L1258.9,1365.99 L1259.4,1365.93 L1259.9,1365.82 L1260.4,1365.65 L1260.9,1365.43 L1261.4,1365.16 L1261.9,1364.85 L1262.4,1364.49 L1262.9,1364.1 L1263.4,1363.67 L1263.9,1363.21 L1264.4,1362.72 L1264.9,1362.22 L1265.4,1361.7 L1265.9,1361.17 L1266.4,1360.64 L1266.9,1360.11 L1267.4,1359.59 L1267.9,1359.08 L1268.4,1358.59 L1268.9,1358.12 L1269.4,1357.69 L1269.9,1357.28 L1270.4,1356.92 L1270.9,1356.6 L1271.4,1356.32 L1271.9,1356.09 L1272.4,1355.91 L1272.9,1355.79 L1273.4,1355.72 L1273.9,1355.7 L1274.4,1355.7 L1274.9,1355.7 L1275.4,1355.7 L1275.9,1355.7 L1276.4,1355.7 L1276.9,1355.7 L1277.4,1355.7 L1277.9,1355.7 L1278.4,1355.7 L1278.9,1357.67 L1279.4,1359.35 L1279.9,1360.74 L1280.4,1361.87 L1280.9,1362.79 L1281.4,1363.52 L1281.9,1364.1 L1282.4,1364.56 L1282.9,1364.91 L1283.4,1365.19 L1283.9,1365.4 L1284.4,1365.56 L1284.9,1365.68 L1285.4,1365.77 L1285.9,1365.83 L1286.4,1365.88 L1286.9,1365.92 L1287.4,1365.94 L1287.9,1365.96 L1288.4,1365.97 L1288.9,1365.98 L1289.4,1365.99 L1289.9,1365.99 L1290.4,1365.99 L1290.9,1366 L1291.4,1366 L1291.9,1366 L1292.4,1366 L1292.9,1366 L1293.4,1366 L1293.9,1366 L1294.4,1366 L1294.9,1366 L1295.4,1366 L1295.9,1366 L1296.4,1366 L1296.9,1366 L1297.4,1366 L1297.9,1366 L1298.4,1366 L1298.9,1366 L1299.4,1366 L1299.9,1366 L1300.4,1366 L1300.9,1366 L1301.4,1366 L1301.9,1366 L1302.4,1366 L1302.9,1366 L1303.4,1366 L1303.9,1366 L1304.4,1366 L1304.9,1366 L1305.4,1366 L1305.9,1366 L1306.4,1366 L1306.9,1366 L1307.4,1366 L1307.9,1366 L1308.4,1366 L1308.9,1366 L1309.4,1366 L1309.9,1366 L1310.4,1366 L1310.9,1366 L1311.4,1366 L1311.9,1366 L1312.4,1366 L1312.9,1366 L1313.4,1366 L1313.9,1366 L1314.4,1366 L1314.9,1366 L1315.4,1366 L1315.9,1366 L1316.4,1366 L1316.9,1366 L1317.4,1366 L1317.9,1366 L1318.4,1366 L1318.9,1366 L1319.4,1366 L1319.9,1366 L1320.4,1366 L1320.9,1366 L1321.4,1366 L1321.9,1366 L1322.4,1366 L1322.9,1366 L1323.4,1366 L1323.9,1366 L1324.4,1366 L1324.9,1366 L1325.4,1366 L1325.9,1366 L1326.4,1366 L1326.9,1366 L1327.4,1366 L1327.9,1366 L1328.4,1366 L1328.9,1366 L1329.4,1366 L1329.9,1366 L1330.4,1366 L1330.9,1366 L1331.4,1366 L1331.9,1366 L1332.4,1366 L1332.9,1366 L1333.4,1366 L1333.9,1366 L1334.4,1366 L1334.9,1366 L1335.4,1366 L1335.9,1366 L1336.4,1366 L1336.9,1366 L1337.4,1366 L1337.9,1366 L1338.4,1366 L1338.9,1366 L1339.4,1366 L1339.9,1366 L1340.4,1366 L1340.9,1366 L1341.4,1366 L1341.9,1366 L1342.4,1366 L1342.9,1366 L1343.4,1366 L1343.9,1366 L1344.4,1366 L1344.9,1366 L1345.4,1366 L1345.9,1366 L1346.4,1366 L1346.9,1366 L1347.4,1366 L1347.9,1366 L1348.4,1366 L1348.9,1366 L1349.4,1366 L1349.9,1366 L1350.4,1366 L1350.9,1366 L1351.4,1366 L1351.9,1366 L1352.4,1366 L1352.9,1366 L1353.4,1366 L1353.9,1366 L1354.4,1366 L1354.9,1366 L1355.4,1366 L1355.9,1366 L1356.4,1366 L1356.9,1366 L1357.4,1366 L1357.9,1366 L1358.4,1366 L1358.9,1366 L1359.4,1366 L1359.9,1366 L1360.4,1366 L1360.9,1366 L1361.4,1366 L1361.9,1366 L1362.4,1366 L1362.9,1366 L1363.4,1366 L1363.9,1366 L1364.4,1366 L1364.9,1366 L1365.4,1366 L1365.9,1366 L1366.4,1366 L1366.9,1366 L1367.4,1366 L1367.9,1366 L1368.4,1366 L1368.9,1366 L1369.4,1366 L1369.9,1366 L1370.4,1366 L1370.9,1366 L1371.4,1366 L1371.9,1366 L1372.4,1366 L1372.9,1366 L1373.4,1366 L1373.9,1366 L1374.4,1366 L1374.9,1366 L1375.4,1366 L1375.9,1366 L1376.4,1366 L1376.9,1366 L1377.4,1366 L1377.9,1366 L1378.4,1366 L1378.9,1366 L1379.4,1366 L1379.9,1366 L1380.4,1366 L1380.9,1366 L1380.9,1366 Z" fill="#D6101E" />
<path d="M1226.9,1366 L1226.9,1366 L1227.4,1366 L1227.9,1366 L1228.4,1366 L1228.9,1366 L1229.4,1366 L1229.9,1366 L1230.4,1366 L1230.9,1366 L1231.4,1366 L1231.9,1366 L1232.4,1366 L1232.9,1366 L1233.4,1366 L1233.9,1366 L1234.4,1366 L1234.9,1366 L1235.4,1366 L1235.9,1366 L1236.4,1366 L1236.9,1366 L1237.4,1366 L1237.9,1366 L1238.4,1366 L1238.9,1366 L1239.4,1366 L1239.9,1366 L1240.4,1366 L1240.9,1366 L1241.4,1366 L1241.9,1366 L1242.4,1366 L1242.9,1366 L1243.4,1366 L1243.9,1366 L1244.4,1366 L1244.9,1366 L1245.4,1366 L1245.9,1366 L1246.4,1366 L1246.9,1366 L1247.4,1366 L1247.9,1366 L1248.4,1366 L1248.9,1366 L1249.4,1366 L1249.9,1366 L1250.4,1366 L1250.9,1366 L1251.4,1366 L1251.9,1366 L1252.4,1366 L1252.9,1366 L1253.4,1366 L1253.9,1366 L1254.4,1366 L1254.9,1366 L1255.4,1366 L1255.9,1366 L1256.4,1366 L1256.9,1366 L1257.4,1366 L1257.9,1366 L1258.4,1366 L1258.9,1366 L1259.4,1366 L1259.9,1366 L1260.4,1366 L1260.9,1366 L1261.4,1366 L1261.9,1366 L1262.4,1366 L1262.9,1366 L1263.4,1366 L1263.9,1366 L1264.4,1366 L1264.9,1366 L1265.4,1366 L1265.9,1366 L1266.4,1366 L1266.9,1366 L1267.4,1366 L1267.9,1366 L1268.4,1366 L1268.9,1366 L1269.4,1366 L1269.9,1366 L1270.4,1366 L1270.9,1366 L1271.4,1366 L1271.9,1366 L1272.4,1366 L1272.9,1366 L1273.4,1366 L1273.9,1366 L1274.4,1366 L1274.9,1366 L1275.4,1366 L1275.9,1366 L1276.4,1366 L1276.9,1366 L1277.4,1366 L1277.9,1366 L1278.4,1366 L1278.9,1366 L1279.4,1365.99 L1279.9,1365.99 L1280.4,1365.99 L1280.9,1365.99 L1281.4,1365.99 L1281.9,1365.99 L1282.4,1365.98 L1282.9,1365.98 L1283.4,1365.98 L1283.9,1365.97 L1284.4,1365.97 L1284.9,1365.96 L1285.4,1365.95 L1285.9,1365.94 L1286.4,1365.93 L1286.9,1365.92 L1287.4,1365.91 L1287.9,1365.89 L1288.4,1365.88 L1288.9,1365.86 L1289.4,1365.84 L1289.9,1365.81 L1290.4,1365.78 L1290.9,1365.75 L1291.4,1365.71 L1291.9,1365.67 L1292.4,1365.62 L1292.9,1365.57 L1293.4,1365.51 L1293.9,1365.44 L1294.4,1365.36 L1294.9,1365.28 L1295.4,1365.18 L1295.9,1365.08 L1296.4,1364.96 L1296.9,1364.83 L1297.4,1364.69 L1297.9,1364.53 L1298.4,1364.36 L1298.9,1364.17 L1299.4,1363.96 L1299.9,1363.73 L1300.4,1363.48 L1300.9,1363.21 L1301.4,1362.92 L1301.9,1362.61 L1302.4,1362.27 L1302.9,1361.9 L1303.4,1361.5 L1303.9,1361.08 L1304.4,1360.63 L1304.9,1360.15 L1305.4,1359.63 L1305.9,1359.09 L1306.4,1358.51 L1306.9,1357.9 L1307.4,1357.26 L1307.9,1356.59 L1308.4,1355.89 L1308.9,1355.15 L1309.4,1354.38 L1309.9,1353.59 L1310.4,1352.76 L1310.9,1351.91 L1311.4,1351.03 L1311.9,1350.12 L1312.4,1349.2 L1312.9,1348.26 L1313.4,1347.3 L1313.9,1346.32 L1314.4,1345.34 L1314.9,1344.35 L1315.4,1343.36 L1315.9,1342.37 L1316.4,1341.38 L1316.9,1340.4 L1317.4,1339.44 L1317.9,1338.49 L1318.4,1337.56 L1318.9,1336.67 L1319.4,1335.8 L1319.9,1334.96 L1320.4,1334.17 L1320.9,1333.42 L1321.4,1332.72 L1321.9,1332.07 L1322.4,1331.47 L1322.9,1330.93 L1323.4,1330.45 L1323.9,1330.04 L1324.4,1329.69 L1324.9,1329.42 L1325.4,1329.21 L1325.9,1329.07 L1326.4,1329.01 L1326.9,1329.01 L1327.4,1329.09 L1327.9,1329.24 L1328.4,1329.47 L1328.9,1329.76 L1329.4,1330.12 L1329.9,1330.54 L1330.4,1331.03 L1330.9,1331.58 L1331.4,1332.19 L1331.9,1332.85 L1332.4,1333.57 L1332.9,1334.33 L1333.4,1335.13 L1333.9,1335.97 L1334.4,1336.84 L1334.9,1337.75 L1335.4,1338.68 L1335.9,1339.63 L1336.4,1340.6 L1336.9,1341.58 L1337.4,1342.57 L1337.9,1343.56 L1338.4,1344.55 L1338.9,1345.54 L1339.4,1346.52 L1339.9,1347.49 L1340.4,1348.45 L1340.9,1349.39 L1341.4,1350.31 L1341.9,1351.21 L1342.4,1352.08 L1342.9,1352.93 L1343.4,1353.75 L1343.9,1354.54 L1344.4,1355.3 L1344.9,1356.03 L1345.4,1356.73 L1345.9,1357.39 L1346.4,1358.03 L1346.9,1358.63 L1347.4,1359.2 L1347.9,1359.74 L1348.4,1360.25 L1348.9,1360.72 L1349.4,1361.17 L1349.9,1361.58 L1350.4,1361.97 L1350.9,1362.34 L1351.4,1362.67 L1351.9,1362.98 L1352.4,1363.27 L1352.9,1363.53 L1353.4,1363.78 L1353.9,1364 L1354.4,1364.21 L1354.9,1364.39 L1355.4,1364.56 L1355.9,1364.72 L1356.4,1364.86 L1356.9,1364.98 L1357.4,1365.1 L1357.9,1365.2 L1358.4,1365.29 L1358.9,1365.38 L1359.4,1365.45 L1359.9,1365.52 L1360.4,1365.58 L1360.9,1365.63 L1361.4,1365.68 L1361.9,1365.72 L1362.4,1365.76 L1362.9,1365.79 L1363.4,1365.82 L1363.9,1365.84 L1364.4,1365.86 L1364.9,1365.88 L1365.4,1365.9 L1365.9,1365.91 L1366.4,1365.93 L1366.9,1365.94 L1367.4,1365.95 L1367.9,1365.95 L1368.4,1365.96 L1368.9,1365.97 L1369.4,1365.97 L1369.9,1365.98 L1370.4,1365.98 L1370.9,1365.98 L1371.4,1365.99 L1371.9,1365.99 L1372.4,1365.99 L1372.9,1365.99 L1373.4,1365.99 L1373.9,1365.99 L1374.4,1366 L1374.9,1366 L1375.4,1366 L1375.9,1366 L1376.4,1366 L1376.9,1366 L1377.4,1366 L1377.9,1366 L1378.4,1366 L1378.9,1366 L1379.4,1366 L1379.9,1366 L1380.4,1366 L1380.9,1366 L1380.9,1366 Z" fill="#FF0000" />
<path d="M1256.9,1366 L1257.4,1366 L1257.9,1366 L1258.4,1366 L1258.9,1365.99 L1259.4,1365.93 L1259.9,1365.82 L1260.4,1365.65 L1260.9,1365.43 L1261.4,1365.16 L1261.9,1364.85 L1262.4,1364.49 L1262.9,1364.1 L1263.4,1363.67 L1263.9,1363.21 L1264.4,1362.72 L1264.9,1362.22 L1265.4,1361.7 L1265.9,1361.17 L1266.4,1360.64 L1266.9,1360.11 L1267.4,1359.59 L1267.9,1359.08 L1268.4,1358.59 L1268.9,1358.12 L1269.4,1357.69 L1269.9,1357.28 L1270.4,1356.92 L1270.9,1356.6 L1271.4,1356.32 L1271.9,1356.09 L1272.4,1355.91 L1272.9,1355.79 L1273.4,1355.72 L1273.9,1355.7 L1274.4,1355.7 L1274.9,1355.7 L1275.4,1355.7 L1275.9,1355.7 L1276.4,1355.7 L1276.9,1355.7 L1277.4,1355.7 L1277.9,1355.7 L1278.4,1355.7 L1278.9,1355.7 L1279.4,1355.7 L1279.9,1355.7 L1280.4,1355.7 L1280.9,1355.7 L1281.4,1355.7 L1281.9,1355.7 L1282.4,1355.7 L1282.9,1355.7 L1283.4,1355.7 L1283.9,1355.7 L1284.4,1355.7 L1284.9,1355.7 L1285.4,1355.7 L1285.9,1355.7 L1286.4,1355.7 L1286.9,1355.7 L1287.4,1355.7 L1287.9,1355.7 L1288.4,1355.7 L1288.9,1355.7 L1289.4,1355.7 L1289.9,1355.7 L1290.4,1355.7 L1290.9,1355.7 L1291.4,1355.7 L1291.9,1355.7 L1292.4,1355.7 L1292.9,1355.7 L1293.4,1355.7 L1293.9,1355.7 L1294.4,1355.7 L1294.9,1355.7 L1295.4,1355.7 L1295.9,1355.7 L1296.4,1355.7 L1296.9,1355.7 L1297.4,1355.7 L1297.9,1355.7 L1298.4,1355.7 L1298.9,1355.7 L1299.4,1355.7 L1299.9,1355.7 L1300.4,1355.7 L1300.9,1355.7 L1301.4,1355.7 L1301.9,1355.7 L1302.4,1355.7 L1302.9,1355.7 L1303.4,1355.7 L1303.9,1355.7 L1304.4,1355.7 L1304.9,1355.7 L1305.4,1355.7 L1305.9,1355.71 L1306.4,1355.72 L1306.9,1355.75 L1307.4,1355.79 L1307.9,1355.84 L1308.4,1355.9 L1308.9,1355.97 L1309.4,1356.05 L1309.9,1356.14 L1310.4,1356.24 L1310.9,1356.35 L1311.4,1356.47 L1311.9,1356.6 L1312.4,1356.74 L1312.9,1356.89 L1313.4,1357.04 L1313.9,1357.21 L1314.4,1357.38 L1314.9,1357.56 L1315.4,1357.75 L1315.9,1357.94 L1316.4,1358.14 L1316.9,1358.34 L1317.4,1358.55 L1317.9,1358.77 L1318.4,1358.99 L1318.9,1359.21 L1319.4,1359.44 L1319.9,1359.67 L1320.4,1359.9 L1320.9,1360.14 L1321.4,1360.37 L1321.9,1360.61 L1322.4,1360.85 L1322.9,1361.09 L1323.4,1361.33 L1323.9,1361.56 L1324.4,1361.8 L1324.9,1362.03 L1325.4,1362.26 L1325.9,1362.49 L1326.4,1362.71 L1326.9,1362.93 L1327.4,1363.15 L1327.9,1363.36 L1328.4,1363.56 L1328.9,1363.76 L1329.4,1363.95 L1329.9,1364.14 L1330.4,1364.32 L1330.9,1364.49 L1331.4,1364.66 L1331.9,1364.81 L1332.4,1364.96 L1332.9,1365.1 L1333.4,1365.23 L1333.9,1365.35 L1334.4,1365.46 L1334.9,1365.56 L1335.4,1365.65 L1335.9,1365.73 L1336.4,1365.8 L1336.9,1365.86 L1337.4,1365.91 L1337.9,1365.95 L1338.4,1365.98 L1338.9,1365.99 L1339.4,1366 L1339.9,1366 L1340.4,1366 L1340.9,1366 L1341.4,1366 L1341.9,1366 L1342.4,1366 L1342.9,1366 L1343.4,1366 L1343.9,1366 L1344.4,1366 L1344.9,1366 L1345.4,1366 L1345.9,1366 L1346.4,1366 L1346.9,1366 L1347.4,1366" fill="none" stroke="#3A3AA8" stroke-width="1.3" />
<path d="M1227.9,1365.43 L1228.4,1365.57 L1228.9,1364.71 L1229.4,1364.78 L1229.9,1365.05 L1230.4,1363.86 L1230.9,1364.64 L1231.4,1365.6 L1231.9,1366 L1232.4,1366 L1232.9,1365.23 L1233.4,1364.58 L1233.9,1364.01 L1234.4,1363.2 L1234.9,1362.8 L1235.4,1363.25 L1235.9,1363.06 L1236.4,1363.39 L1236.9,1364.38 L1237.4,1364.06 L1237.9,1364.37 L1238.4,1364.73 L1238.9,1363.49 L1239.4,1363.56 L1239.9,1364.42 L1240.4,1364.66 L1240.9,1363.22 L1241.4,1364.05 L1241.9,1363.9 L1242.4,1363.88 L1242.9,1363.94 L1243.4,1363.91 L1243.9,1364.58 L1244.4,1364.96 L1244.9,1364.96 L1245.4,1365.06 L1245.9,1364.3 L1246.4,1363.29 L1246.9,1364.23 L1247.4,1363.73 L1247.9,1364.33 L1248.4,1364.33 L1248.9,1363.8 L1249.4,1362.96 L1249.9,1362.49 L1250.4,1363.33 L1250.9,1360.43 L1251.4,1359.23 L1251.9,1358 L1252.4,1355.31 L1252.9,1353.57 L1253.4,1351.89 L1253.9,1347.83 L1254.4,1343.67 L1254.9,1340.26 L1255.4,1334.54 L1255.9,1329.01 L1256.4,1324.38 L1256.9,1315.92 L1257.4,1309.06 L1257.9,1302.99 L1258.4,1294.24 L1258.9,1285.65 L1259.4,1275.79 L1259.9,1268.59 L1260.4,1257.8 L1260.9,1247.66 L1261.4,1238.26 L1261.9,1229.4 L1262.4,1220.25 L1262.9,1212.96 L1263.4,1207.33 L1263.9,1203.78 L1264.4,1198.43 L1264.9,1195.22 L1265.4,1194.58 L1265.9,1196.35 L1266.4,1197.55 L1266.9,1204.26 L1267.4,1207.01 L1267.9,1214.82 L1268.4,1219.05 L1268.9,1223.82 L1269.4,1229.09 L1269.9,1238.61 L1270.4,1246.82 L1270.9,1255.89 L1271.4,1267.24 L1271.9,1274.12 L1272.4,1282.34 L1272.9,1290.24 L1273.4,1298.88 L1273.9,1305.76 L1274.4,1312.14 L1274.9,1316.93 L1275.4,1322.63 L1275.9,1324.75 L1276.4,1331.03 L1276.9,1335.85 L1277.4,1339.55 L1277.9,1343.26 L1278.4,1344.23 L1278.9,1346.13 L1279.4,1349.32 L1279.9,1350.47 L1280.4,1350.62 L1280.9,1353.01 L1281.4,1353.37 L1281.9,1354.03 L1282.4,1352.52 L1282.9,1353.21 L1283.4,1354.32 L1283.9,1355.14 L1284.4,1353.77 L1284.9,1354.79 L1285.4,1353.29 L1285.9,1355.37 L1286.4,1355.56 L1286.9,1355.72 L1287.4,1356.16 L1287.9,1356.05 L1288.4,1355.28 L1288.9,1355.85 L1289.4,1356.78 L1289.9,1355.18 L1290.4,1354.11 L1290.9,1355.12 L1291.4,1354.94 L1291.9,1357.04 L1292.4,1355.48 L1292.9,1356.36 L1293.4,1356.26 L1293.9,1354.05 L1294.4,1355.35 L1294.9,1355.1 L1295.4,1355.75 L1295.9,1356.7 L1296.4,1356.69 L1296.9,1355.5 L1297.4,1355.95 L1297.9,1355.6 L1298.4,1354.27 L1298.9,1354.08 L1299.4,1354.78 L1299.9,1352.89 L1300.4,1352.73 L1300.9,1351.49 L1301.4,1352.56 L1301.9,1350.89 L1302.4,1352.15 L1302.9,1353.07 L1303.4,1352.39 L1303.9,1351.76 L1304.4,1350.67 L1304.9,1350.47 L1305.4,1349.15 L1305.9,1347.56 L1306.4,1347.99 L1306.9,1348.6 L1307.4,1347.92 L1307.9,1346.23 L1308.4,1344.94 L1308.9,1344.87 L1309.4,1345.07 L1309.9,1344.09 L1310.4,1342.36 L1310.9,1342.44 L1311.4,1340.46 L1311.9,1339.87 L1312.4,1339.13 L1312.9,1339.16 L1313.4,1337.12 L1313.9,1336.72 L1314.4,1337.5 L1314.9,1335.61 L1315.4,1335.24 L1315.9,1333.34 L1316.4,1332.66 L1316.9,1332.6 L1317.4,1331.42 L1317.9,1330.85 L1318.4,1330.28 L1318.9,1328.56 L1319.4,1326.14 L1319.9,1324.76 L1320.4,1323.5 L1320.9,1322.75 L1321.4,1320.99 L1321.9,1320.16 L1322.4,1319.17 L1322.9,1319.45 L1323.4,1318.34 L1323.9,1321.58 L1324.4,1322.46 L1324.9,1322.74 L1325.4,1322.81 L1325.9,1325.31 L1326.4,1326.67 L1326.9,1326.53 L1327.4,1325.6 L1327.9,1325.18 L1328.4,1327.55 L1328.9,1327.68 L1329.4,1327.05 L1329.9,1328.01 L1330.4,1329.85 L1330.9,1330.99 L1331.4,1332.57 L1331.9,1331.58 L1332.4,1332.67 L1332.9,1333.86 L1333.4,1335.36 L1333.9,1336 L1334.4,1337.48 L1334.9,1338.83 L1335.4,1339.24 L1335.9,1340.07 L1336.4,1340.39 L1336.9,1341.27 L1337.4,1341.33 L1337.9,1342.83 L1338.4,1343.87 L1338.9,1344.92 L1339.4,1346.79 L1339.9,1346.64 L1340.4,1348.37 L1340.9,1350.59 L1341.4,1349.98 L1341.9,1350.46 L1342.4,1352.05 L1342.9,1352.12 L1343.4,1352.48 L1343.9,1353.2 L1344.4,1355.38 L1344.9,1355.91 L1345.4,1357.41 L1345.9,1358.23 L1346.4,1358.92 L1346.9,1359.76 L1347.4,1359.48 L1347.9,1360.45 L1348.4,1360.19 L1348.9,1360.53 L1349.4,1361.46 L1349.9,1361.61 L1350.4,1361.47 L1350.9,1361.2 L1351.4,1362.15 L1351.9,1361.44 L1352.4,1361.93 L1352.9,1361.85 L1353.4,1363.67 L1353.9,1364.62 L1354.4,1363.74 L1354.9,1364.23 L1355.4,1364.13 L1355.9,1363.64 L1356.4,1365.14 L1356.9,1364.83 L1357.4,1363.71 L1357.9,1363.83 L1358.4,1364.39 L1358.9,1364.45 L1359.4,1364.86 L1359.9,1364.64 L1360.4,1364.2 L1360.9,1364.92" fill="none" stroke="#000" stroke-width="1.1" />
<path d="M1227.9,1365 L1228.4,1365 L1228.9,1365 L1229.4,1365 L1229.9,1365 L1230.4,1365 L1230.9,1365 L1231.4,1365 L1231.9,1365 L1232.4,1365 L1232.9,1365 L1233.4,1365 L1233.9,1365 L1234.4,1365 L1234.9,1365 L1235.4,1365 L1235.9,1365 L1236.4,1365 L1236.9,1365 L1237.4,1365 L1237.9,1365 L1238.4,1365 L1238.9,1365 L1239.4,1365 L1239.9,1365 L1240.4,1365 L1240.9,1364.99 L1241.4,1364.99 L1241.9,1364.98 L1242.4,1364.98 L1242.9,1364.97 L1243.4,1364.95 L1243.9,1364.93 L1244.4,1364.9 L1244.9,1364.85 L1245.4,1364.8 L1245.9,1364.72 L1246.4,1364.61 L1246.9,1364.47 L1247.4,1364.28 L1247.9,1364.03 L1248.4,1363.71 L1248.9,1363.3 L1249.4,1362.77 L1249.9,1362.1 L1250.4,1361.26 L1250.9,1360.22 L1251.4,1358.94 L1251.9,1357.38 L1252.4,1355.5 L1252.9,1353.25 L1253.4,1350.59 L1253.9,1347.48 L1254.4,1343.86 L1254.9,1339.71 L1255.4,1334.99 L1255.9,1329.69 L1256.4,1323.78 L1256.9,1317.29 L1257.4,1310.23 L1257.9,1302.64 L1258.4,1294.59 L1258.9,1286.14 L1259.4,1277.35 L1259.9,1268.34 L1260.4,1259.26 L1260.9,1250.24 L1261.4,1241.46 L1261.9,1233.09 L1262.4,1225.28 L1262.9,1218.22 L1263.4,1212.06 L1263.9,1206.92 L1264.4,1202.93 L1264.9,1200.18 L1265.4,1198.72 L1265.9,1199.6 L1266.4,1200.79 L1266.9,1203.27 L1267.4,1206.97 L1267.9,1211.79 L1268.4,1217.61 L1268.9,1224.3 L1269.4,1231.7 L1269.9,1239.65 L1270.4,1247.99 L1270.9,1256.55 L1271.4,1265.2 L1271.9,1273.78 L1272.4,1282.17 L1272.9,1290.26 L1273.4,1297.97 L1273.9,1305.23 L1274.4,1311.96 L1274.9,1318.1 L1275.4,1323.64 L1275.9,1328.59 L1276.4,1332.97 L1276.9,1336.79 L1277.4,1340.1 L1277.9,1342.94 L1278.4,1345.35 L1278.9,1347.37 L1279.4,1349.05 L1279.9,1350.43 L1280.4,1351.56 L1280.9,1352.48 L1281.4,1353.21 L1281.9,1353.78 L1282.4,1354.24 L1282.9,1354.59 L1283.4,1354.86 L1283.9,1355.07 L1284.4,1355.22 L1284.9,1355.34 L1285.4,1355.42 L1285.9,1355.48 L1286.4,1355.52 L1286.9,1355.54 L1287.4,1355.55 L1287.9,1355.55 L1288.4,1355.55 L1288.9,1355.54 L1289.4,1355.52 L1289.9,1355.5 L1290.4,1355.48 L1290.9,1355.44 L1291.4,1355.41 L1291.9,1355.37 L1292.4,1355.32 L1292.9,1355.27 L1293.4,1355.21 L1293.9,1355.14 L1294.4,1355.06 L1294.9,1354.98 L1295.4,1354.88 L1295.9,1354.78 L1296.4,1354.66 L1296.9,1354.53 L1297.4,1354.39 L1297.9,1354.23 L1298.4,1354.06 L1298.9,1353.87 L1299.4,1353.66 L1299.9,1353.43 L1300.4,1353.18 L1300.9,1352.91 L1301.4,1352.62 L1301.9,1352.31 L1302.4,1351.97 L1302.9,1351.6 L1303.4,1351.2 L1303.9,1350.78 L1304.4,1350.33 L1304.9,1349.85 L1305.4,1349.33 L1305.9,1348.79 L1306.4,1348.24 L1306.9,1347.65 L1307.4,1347.05 L1307.9,1346.43 L1308.4,1345.78 L1308.9,1345.12 L1309.4,1344.43 L1309.9,1343.72 L1310.4,1343 L1310.9,1342.26 L1311.4,1341.5 L1311.9,1340.73 L1312.4,1339.94 L1312.9,1339.15 L1313.4,1338.34 L1313.9,1337.53 L1314.4,1336.72 L1314.9,1335.91 L1315.4,1335.11 L1315.9,1334.31 L1316.4,1333.52 L1316.9,1332.75 L1317.4,1331.99 L1317.9,1331.26 L1318.4,1330.55 L1318.9,1329.88 L1319.4,1329.24 L1319.9,1328.64 L1320.4,1328.07 L1320.9,1327.56 L1321.4,1327.09 L1321.9,1326.68 L1322.4,1326.32 L1322.9,1326.02 L1323.4,1325.78 L1323.9,1325.6 L1324.4,1325.49 L1324.9,1325.45 L1325.4,1325.47 L1325.9,1325.56 L1326.4,1325.72 L1326.9,1325.94 L1327.4,1326.24 L1327.9,1326.6 L1328.4,1327.03 L1328.9,1327.52 L1329.4,1328.07 L1329.9,1328.68 L1330.4,1329.35 L1330.9,1330.08 L1331.4,1330.85 L1331.9,1331.67 L1332.4,1332.53 L1332.9,1333.42 L1333.4,1334.36 L1333.9,1335.32 L1334.4,1336.3 L1334.9,1337.31 L1335.4,1338.33 L1335.9,1339.36 L1336.4,1340.4 L1336.9,1341.44 L1337.4,1342.48 L1337.9,1343.51 L1338.4,1344.53 L1338.9,1345.53 L1339.4,1346.52 L1339.9,1347.49 L1340.4,1348.45 L1340.9,1349.39 L1341.4,1350.31 L1341.9,1351.21 L1342.4,1352.08 L1342.9,1352.93 L1343.4,1353.75 L1343.9,1354.54 L1344.4,1355.3 L1344.9,1356.03 L1345.4,1356.73 L1345.9,1357.39 L1346.4,1358.03 L1346.9,1358.63 L1347.4,1359.2 L1347.9,1359.74 L1348.4,1360.25 L1348.9,1360.72 L1349.4,1361.17 L1349.9,1361.58 L1350.4,1361.97 L1350.9,1362.34 L1351.4,1362.67 L1351.9,1362.98 L1352.4,1363.27 L1352.9,1363.53 L1353.4,1363.78 L1353.9,1364 L1354.4,1364.21 L1354.9,1364.39 L1355.4,1364.56 L1355.9,1364.72 L1356.4,1364.86 L1356.9,1364.98 L1357.4,1365.1 L1357.9,1365.2 L1358.4,1365.29 L1358.9,1365.38 L1359.4,1365.45 L1359.9,1365.52 L1360.4,1365.58 L1360.9,1365.63" fill="none" stroke="#00F000" stroke-width="1.4" />
<line x1="1226.4" y1="1197.6" x2="1226.4" y2="1366.8" stroke="#0C2060" stroke-width="1.8" />
<line x1="1225.6" y1="1366" x2="1382.1" y2="1366" stroke="#0C2060" stroke-width="1.8" />
<line x1="1220.7" y1="1366" x2="1225.9" y2="1366" stroke="#000" stroke-width="1.1" />
<line x1="1222.8" y1="1355.47" x2="1225.9" y2="1355.47" stroke="#000" stroke-width="1.1" />
<line x1="1222.8" y1="1344.95" x2="1225.9" y2="1344.95" stroke="#000" stroke-width="1.1" />
<line x1="1222.8" y1="1334.42" x2="1225.9" y2="1334.42" stroke="#000" stroke-width="1.1" />
<line x1="1220.7" y1="1323.9" x2="1225.9" y2="1323.9" stroke="#000" stroke-width="1.1" />
<line x1="1222.8" y1="1313.38" x2="1225.9" y2="1313.38" stroke="#000" stroke-width="1.1" />
<line x1="1222.8" y1="1302.85" x2="1225.9" y2="1302.85" stroke="#000" stroke-width="1.1" />
<line x1="1222.8" y1="1292.33" x2="1225.9" y2="1292.33" stroke="#000" stroke-width="1.1" />
<line x1="1220.7" y1="1281.8" x2="1225.9" y2="1281.8" stroke="#000" stroke-width="1.1" />
<line x1="1222.8" y1="1271.27" x2="1225.9" y2="1271.27" stroke="#000" stroke-width="1.1" />
<line x1="1222.8" y1="1260.75" x2="1225.9" y2="1260.75" stroke="#000" stroke-width="1.1" />
<line x1="1222.8" y1="1250.22" x2="1225.9" y2="1250.22" stroke="#000" stroke-width="1.1" />
<line x1="1220.7" y1="1239.7" x2="1225.9" y2="1239.7" stroke="#000" stroke-width="1.1" />
<line x1="1222.8" y1="1229.17" x2="1225.9" y2="1229.17" stroke="#000" stroke-width="1.1" />
<line x1="1222.8" y1="1218.65" x2="1225.9" y2="1218.65" stroke="#000" stroke-width="1.1" />
<line x1="1222.8" y1="1208.12" x2="1225.9" y2="1208.12" stroke="#000" stroke-width="1.1" />
<line x1="1220.7" y1="1197.6" x2="1225.9" y2="1197.6" stroke="#000" stroke-width="1.1" />
<line x1="1226.4" y1="1366.5" x2="1226.4" y2="1371.8" stroke="#000" stroke-width="1.1" />
<line x1="1236.18" y1="1366.5" x2="1236.18" y2="1369" stroke="#000" stroke-width="1.1" />
<line x1="1245.95" y1="1366.5" x2="1245.95" y2="1369" stroke="#000" stroke-width="1.1" />
<line x1="1255.73" y1="1366.5" x2="1255.73" y2="1369" stroke="#000" stroke-width="1.1" />
<line x1="1265.5" y1="1366.5" x2="1265.5" y2="1371.8" stroke="#000" stroke-width="1.1" />
<line x1="1275.28" y1="1366.5" x2="1275.28" y2="1369" stroke="#000" stroke-width="1.1" />
<line x1="1285.05" y1="1366.5" x2="1285.05" y2="1369" stroke="#000" stroke-width="1.1" />
<line x1="1294.83" y1="1366.5" x2="1294.83" y2="1369" stroke="#000" stroke-width="1.1" />
<line x1="1304.6" y1="1366.5" x2="1304.6" y2="1371.8" stroke="#000" stroke-width="1.1" />
<line x1="1314.38" y1="1366.5" x2="1314.38" y2="1369" stroke="#000" stroke-width="1.1" />
<line x1="1324.15" y1="1366.5" x2="1324.15" y2="1369" stroke="#000" stroke-width="1.1" />
<line x1="1333.93" y1="1366.5" x2="1333.93" y2="1369" stroke="#000" stroke-width="1.1" />
<line x1="1343.7" y1="1366.5" x2="1343.7" y2="1371.8" stroke="#000" stroke-width="1.1" />
<line x1="1353.48" y1="1366.5" x2="1353.48" y2="1369" stroke="#000" stroke-width="1.1" />
<line x1="1363.25" y1="1366.5" x2="1363.25" y2="1369" stroke="#000" stroke-width="1.1" />
<line x1="1373.03" y1="1366.5" x2="1373.03" y2="1369" stroke="#000" stroke-width="1.1" />
<text x="1220.2" y="1202" font-size="13.2" text-anchor="end" font-family="'Liberation Serif', 'Times New Roman', serif" fill="#2a2a2a">1022</text>
<text x="1220.2" y="1244.1" font-size="13.2" text-anchor="end" font-family="'Liberation Serif', 'Times New Roman', serif" fill="#2a2a2a">767</text>
<text x="1220.2" y="1286.2" font-size="13.2" text-anchor="end" font-family="'Liberation Serif', 'Times New Roman', serif" fill="#2a2a2a">511</text>
<text x="1220.2" y="1328.3" font-size="13.2" text-anchor="end" font-family="'Liberation Serif', 'Times New Roman', serif" fill="#2a2a2a">256</text>
<text x="1220.2" y="1370.4" font-size="13.2" text-anchor="end" font-family="'Liberation Serif', 'Times New Roman', serif" fill="#2a2a2a">0</text>
<text x="1226.4" y="1383.3" font-size="13.2" text-anchor="middle" font-family="'Liberation Serif', 'Times New Roman', serif" fill="#2a2a2a">80.0</text>
<text x="1265.5" y="1383.3" font-size="13.2" text-anchor="middle" font-family="'Liberation Serif', 'Times New Roman', serif" fill="#2a2a2a">235.0</text>
<text x="1304.6" y="1383.3" font-size="13.2" text-anchor="middle" font-family="'Liberation Serif', 'Times New Roman', serif" fill="#2a2a2a">390.0</text>
<text x="1343.7" y="1383.3" font-size="13.2" text-anchor="middle" font-family="'Liberation Serif', 'Times New Roman', serif" fill="#2a2a2a">545.0</text>
<text x="1382.8" y="1383.3" font-size="13.2" text-anchor="middle" font-family="'Liberation Serif', 'Times New Roman', serif" fill="#2a2a2a">700.</text>
</g>
<g>
<path d="M1425.4,1366 L1425.4,1366 L1425.9,1366 L1426.4,1366 L1426.9,1366 L1427.4,1366 L1427.9,1366 L1428.4,1366 L1428.9,1366 L1429.4,1366 L1429.9,1366 L1430.4,1366 L1430.9,1366 L1431.4,1366 L1431.9,1366 L1432.4,1366 L1432.9,1366 L1433.4,1366 L1433.9,1366 L1434.4,1366 L1434.9,1366 L1435.4,1366 L1435.9,1366 L1436.4,1366 L1436.9,1366 L1437.4,1366 L1437.9,1366 L1438.4,1366 L1438.9,1366 L1439.4,1366 L1439.9,1366 L1440.4,1366 L1440.9,1366 L1441.4,1366 L1441.9,1366 L1442.4,1366 L1442.9,1366 L1443.4,1366 L1443.9,1366 L1444.4,1366 L1444.9,1366 L1445.4,1366 L1445.9,1366 L1446.4,1366 L1446.9,1366 L1447.4,1366 L1447.9,1366 L1448.4,1366 L1448.9,1366 L1449.4,1366 L1449.9,1366 L1450.4,1366 L1450.9,1366 L1451.4,1366 L1451.9,1366 L1452.4,1366 L1452.9,1366 L1453.4,1366 L1453.9,1366 L1454.4,1366 L1454.9,1366 L1455.4,1366 L1455.9,1366 L1456.4,1366 L1456.9,1366 L1457.4,1366 L1457.9,1366 L1458.4,1365.94 L1458.9,1365.84 L1459.4,1365.67 L1459.9,1365.46 L1460.4,1365.19 L1460.9,1364.87 L1461.4,1364.51 L1461.9,1364.11 L1462.4,1363.67 L1462.9,1363.19 L1463.4,1362.69 L1463.9,1362.16 L1464.4,1361.61 L1464.9,1361.05 L1465.4,1360.48 L1465.9,1359.91 L1466.4,1359.34 L1466.9,1358.78 L1467.4,1358.24 L1467.9,1357.71 L1468.4,1357.21 L1468.9,1356.74 L1469.4,1356.31 L1469.9,1355.91 L1470.4,1355.56 L1470.9,1355.25 L1471.4,1354.99 L1471.9,1354.79 L1472.4,1354.64 L1472.9,1354.54 L1473.4,1354.5 L1473.9,1354.5 L1474.4,1354.5 L1474.9,1354.5 L1475.4,1354.5 L1475.9,1354.5 L1476.4,1354.5 L1476.9,1354.5 L1477.4,1354.5 L1477.9,1354.5 L1478.4,1354.5 L1478.9,1354.5 L1479.4,1354.5 L1479.9,1354.5 L1480.4,1354.5 L1480.9,1354.5 L1481.4,1354.5 L1481.9,1354.5 L1482.4,1354.5 L1482.9,1354.5 L1483.4,1354.5 L1483.9,1354.5 L1484.4,1354.5 L1484.9,1354.5 L1485.4,1354.5 L1485.9,1354.5 L1486.4,1354.5 L1486.9,1354.5 L1487.4,1354.5 L1487.9,1354.5 L1488.4,1354.5 L1488.9,1354.5 L1489.4,1354.5 L1489.9,1354.5 L1490.4,1354.5 L1490.9,1354.5 L1491.4,1354.5 L1491.9,1354.5 L1492.4,1354.5 L1492.9,1354.5 L1493.4,1354.5 L1493.9,1354.5 L1494.4,1354.5 L1494.9,1354.5 L1495.4,1354.5 L1495.9,1354.5 L1496.4,1354.5 L1496.9,1354.5 L1497.4,1354.5 L1497.9,1354.5 L1498.4,1354.5 L1498.9,1354.5 L1499.4,1354.5 L1499.9,1354.5 L1500.4,1354.5 L1500.9,1354.5 L1501.4,1354.5 L1501.9,1354.5 L1502.4,1354.52 L1502.9,1354.54 L1503.4,1354.57 L1503.9,1354.61 L1504.4,1354.66 L1504.9,1354.71 L1505.4,1354.78 L1505.9,1354.85 L1506.4,1354.94 L1506.9,1355.03 L1507.4,1355.12 L1507.9,1355.23 L1508.4,1355.34 L1508.9,1355.46 L1509.4,1355.59 L1509.9,1355.73 L1510.4,1355.87 L1510.9,1356.02 L1511.4,1356.18 L1511.9,1356.34 L1512.4,1356.51 L1512.9,1356.68 L1513.4,1356.86 L1513.9,1357.04 L1514.4,1357.23 L1514.9,1357.43 L1515.4,1357.63 L1515.9,1357.83 L1516.4,1358.03 L1516.9,1358.24 L1517.4,1358.46 L1517.9,1358.67 L1518.4,1358.89 L1518.9,1359.11 L1519.4,1359.33 L1519.9,1359.55 L1520.4,1359.78 L1520.9,1360 L1521.4,1360.23 L1521.9,1360.45 L1522.4,1360.68 L1522.9,1360.9 L1523.4,1361.13 L1523.9,1361.35 L1524.4,1361.57 L1524.9,1361.79 L1525.4,1362 L1525.9,1362.21 L1526.4,1362.42 L1526.9,1362.63 L1527.4,1362.83 L1527.9,1363.03 L1528.4,1363.23 L1528.9,1363.42 L1529.4,1363.6 L1529.9,1363.78 L1530.4,1363.96 L1530.9,1364.13 L1531.4,1364.29 L1531.9,1364.45 L1532.4,1364.6 L1532.9,1364.74 L1533.4,1364.88 L1533.9,1365.01 L1534.4,1365.13 L1534.9,1365.25 L1535.4,1365.36 L1535.9,1365.46 L1536.4,1365.55 L1536.9,1365.63 L1537.4,1365.71 L1537.9,1365.77 L1538.4,1365.83 L1538.9,1365.88 L1539.4,1365.92 L1539.9,1365.95 L1540.4,1365.98 L1540.9,1365.99 L1541.4,1366 L1541.9,1366 L1542.4,1366 L1542.9,1366 L1543.4,1366 L1543.9,1366 L1544.4,1366 L1544.9,1366 L1545.4,1366 L1545.9,1366 L1546.4,1366 L1546.9,1366 L1547.4,1366 L1547.9,1366 L1548.4,1366 L1548.9,1366 L1549.4,1366 L1549.9,1366 L1550.4,1366 L1550.9,1366 L1551.4,1366 L1551.9,1366 L1552.4,1366 L1552.9,1366 L1553.4,1366 L1553.9,1366 L1554.4,1366 L1554.9,1366 L1555.4,1366 L1555.9,1366 L1556.4,1366 L1556.9,1366 L1557.4,1366 L1557.9,1366 L1558.4,1366 L1558.9,1366 L1559.4,1366 L1559.9,1366 L1560.4,1366 L1560.9,1366 L1561.4,1366 L1561.9,1366 L1562.4,1366 L1562.9,1366 L1563.4,1366 L1563.9,1366 L1564.4,1366 L1564.9,1366 L1565.4,1366 L1565.9,1366 L1566.4,1366 L1566.9,1366 L1567.4,1366 L1567.9,1366 L1568.4,1366 L1568.9,1366 L1569.4,1366 L1569.9,1366 L1570.4,1366 L1570.9,1366 L1571.4,1366 L1571.9,1366 L1572.4,1366 L1572.9,1366 L1573.4,1366 L1573.9,1366 L1574.4,1366 L1574.9,1366 L1575.4,1366 L1575.9,1366 L1576.4,1366 L1576.9,1366 L1577.4,1366 L1577.9,1366 L1578.4,1366 L1578.9,1366 L1579.4,1366 L1579.9,1366 L1580.4,1366 L1580.9,1366 L1581.4,1366 L1581.9,1366 L1582.4,1366 L1582.9,1366 L1583.4,1366 L1583.9,1366 L1584.4,1366 L1584.9,1366 L1584.9,1366 Z" fill="#E2E2F2" />
<path d="M1425.4,1366 L1425.4,1366 L1425.9,1366 L1426.4,1366 L1426.9,1366 L1427.4,1366 L1427.9,1366 L1428.4,1366 L1428.9,1366 L1429.4,1366 L1429.9,1366 L1430.4,1366 L1430.9,1366 L1431.4,1366 L1431.9,1366 L1432.4,1366 L1432.9,1366 L1433.4,1366 L1433.9,1366 L1434.4,1366 L1434.9,1366 L1435.4,1366 L1435.9,1366 L1436.4,1366 L1436.9,1366 L1437.4,1366 L1437.9,1366 L1438.4,1366 L1438.9,1366 L1439.4,1366 L1439.9,1366 L1440.4,1366 L1440.9,1366 L1441.4,1365.99 L1441.9,1365.99 L1442.4,1365.99 L1442.9,1365.98 L1443.4,1365.97 L1443.9,1365.96 L1444.4,1365.94 L1444.9,1365.92 L1445.4,1365.88 L1445.9,1365.83 L1446.4,1365.76 L1446.9,1365.67 L1447.4,1365.54 L1447.9,1365.36 L1448.4,1365.14 L1448.9,1364.84 L1449.4,1364.45 L1449.9,1363.94 L1450.4,1363.3 L1450.9,1362.49 L1451.4,1361.48 L1451.9,1360.23 L1452.4,1358.69 L1452.9,1356.83 L1453.4,1354.6 L1453.9,1351.94 L1454.4,1348.83 L1454.9,1345.2 L1455.4,1341.04 L1455.9,1336.31 L1456.4,1331 L1456.9,1325.1 L1457.4,1318.63 L1457.9,1311.62 L1458.4,1304.13 L1458.9,1296.23 L1459.4,1288.02 L1459.9,1279.62 L1460.4,1271.16 L1460.9,1262.79 L1461.4,1254.68 L1461.9,1247 L1462.4,1239.91 L1462.9,1233.58 L1463.4,1228.17 L1463.9,1223.81 L1464.4,1220.61 L1464.9,1218.66 L1465.4,1218 L1465.9,1218.66 L1466.4,1220.61 L1466.9,1223.81 L1467.4,1228.17 L1467.9,1233.58 L1468.4,1239.91 L1468.9,1247 L1469.4,1254.68 L1469.9,1262.79 L1470.4,1271.16 L1470.9,1279.62 L1471.4,1288.02 L1471.9,1296.23 L1472.4,1304.13 L1472.9,1311.62 L1473.4,1318.63 L1473.9,1325.1 L1474.4,1331 L1474.9,1336.31 L1475.4,1341.04 L1475.9,1345.2 L1476.4,1348.83 L1476.9,1351.94 L1477.4,1354.6 L1477.9,1356.83 L1478.4,1358.69 L1478.9,1360.23 L1479.4,1361.48 L1479.9,1362.49 L1480.4,1363.3 L1480.9,1363.94 L1481.4,1364.45 L1481.9,1364.84 L1482.4,1365.14 L1482.9,1365.36 L1483.4,1365.54 L1483.9,1365.67 L1484.4,1365.76 L1484.9,1365.83 L1485.4,1365.88 L1485.9,1365.92 L1486.4,1365.94 L1486.9,1365.96 L1487.4,1365.97 L1487.9,1365.98 L1488.4,1365.99 L1488.9,1365.99 L1489.4,1365.99 L1489.9,1366 L1490.4,1366 L1490.9,1366 L1491.4,1366 L1491.9,1366 L1492.4,1366 L1492.9,1366 L1493.4,1366 L1493.9,1366 L1494.4,1366 L1494.9,1366 L1495.4,1366 L1495.9,1366 L1496.4,1366 L1496.9,1366 L1497.4,1366 L1497.9,1366 L1498.4,1366 L1498.9,1366 L1499.4,1366 L1499.9,1366 L1500.4,1366 L1500.9,1366 L1501.4,1366 L1501.9,1366 L1502.4,1366 L1502.9,1366 L1503.4,1366 L1503.9,1366 L1504.4,1366 L1504.9,1366 L1505.4,1366 L1505.9,1366 L1506.4,1366 L1506.9,1366 L1507.4,1366 L1507.9,1366 L1508.4,1366 L1508.9,1366 L1509.4,1366 L1509.9,1366 L1510.4,1366 L1510.9,1366 L1511.4,1366 L1511.9,1366 L1512.4,1366 L1512.9,1366 L1513.4,1366 L1513.9,1366 L1514.4,1366 L1514.9,1366 L1515.4,1366 L1515.9,1366 L1516.4,1366 L1516.9,1366 L1517.4,1366 L1517.9,1366 L1518.4,1366 L1518.9,1366 L1519.4,1366 L1519.9,1366 L1520.4,1366 L1520.9,1366 L1521.4,1366 L1521.9,1366 L1522.4,1366 L1522.9,1366 L1523.4,1366 L1523.9,1366 L1524.4,1366 L1524.9,1366 L1525.4,1366 L1525.9,1366 L1526.4,1366 L1526.9,1366 L1527.4,1366 L1527.9,1366 L1528.4,1366 L1528.9,1366 L1529.4,1366 L1529.9,1366 L1530.4,1366 L1530.9,1366 L1531.4,1366 L1531.9,1366 L1532.4,1366 L1532.9,1366 L1533.4,1366 L1533.9,1366 L1534.4,1366 L1534.9,1366 L1535.4,1366 L1535.9,1366 L1536.4,1366 L1536.9,1366 L1537.4,1366 L1537.9,1366 L1538.4,1366 L1538.9,1366 L1539.4,1366 L1539.9,1366 L1540.4,1366 L1540.9,1366 L1541.4,1366 L1541.9,1366 L1542.4,1366 L1542.9,1366 L1543.4,1366 L1543.9,1366 L1544.4,1366 L1544.9,1366 L1545.4,1366 L1545.9,1366 L1546.4,1366 L1546.9,1366 L1547.4,1366 L1547.9,1366 L1548.4,1366 L1548.9,1366 L1549.4,1366 L1549.9,1366 L1550.4,1366 L1550.9,1366 L1551.4,1366 L1551.9,1366 L1552.4,1366 L1552.9,1366 L1553.4,1366 L1553.9,1366 L1554.4,1366 L1554.9,1366 L1555.4,1366 L1555.9,1366 L1556.4,1366 L1556.9,1366 L1557.4,1366 L1557.9,1366 L1558.4,1366 L1558.9,1366 L1559.4,1366 L1559.9,1366 L1560.4,1366 L1560.9,1366 L1561.4,1366 L1561.9,1366 L1562.4,1366 L1562.9,1366 L1563.4,1366 L1563.9,1366 L1564.4,1366 L1564.9,1366 L1565.4,1366 L1565.9,1366 L1566.4,1366 L1566.9,1366 L1567.4,1366 L1567.9,1366 L1568.4,1366 L1568.9,1366 L1569.4,1366 L1569.9,1366 L1570.4,1366 L1570.9,1366 L1571.4,1366 L1571.9,1366 L1572.4,1366 L1572.9,1366 L1573.4,1366 L1573.9,1366 L1574.4,1366 L1574.9,1366 L1575.4,1366 L1575.9,1366 L1576.4,1366 L1576.9,1366 L1577.4,1366 L1577.9,1366 L1578.4,1366 L1578.9,1366 L1579.4,1366 L1579.9,1366 L1580.4,1366 L1580.9,1366 L1581.4,1366 L1581.9,1366 L1582.4,1366 L1582.9,1366 L1583.4,1366 L1583.9,1366 L1584.4,1366 L1584.9,1366 L1584.9,1366 Z" fill="#FF0000" />
<path d="M1425.4,1366 L1425.4,1366 L1425.9,1366 L1426.4,1366 L1426.9,1366 L1427.4,1366 L1427.9,1366 L1428.4,1366 L1428.9,1366 L1429.4,1366 L1429.9,1366 L1430.4,1366 L1430.9,1366 L1431.4,1366 L1431.9,1366 L1432.4,1366 L1432.9,1366 L1433.4,1366 L1433.9,1366 L1434.4,1366 L1434.9,1366 L1435.4,1366 L1435.9,1366 L1436.4,1366 L1436.9,1366 L1437.4,1366 L1437.9,1366 L1438.4,1366 L1438.9,1366 L1439.4,1366 L1439.9,1366 L1440.4,1366 L1440.9,1366 L1441.4,1366 L1441.9,1366 L1442.4,1366 L1442.9,1366 L1443.4,1366 L1443.9,1366 L1444.4,1366 L1444.9,1366 L1445.4,1366 L1445.9,1366 L1446.4,1366 L1446.9,1366 L1447.4,1366 L1447.9,1366 L1448.4,1366 L1448.9,1366 L1449.4,1366 L1449.9,1366 L1450.4,1366 L1450.9,1366 L1451.4,1366 L1451.9,1366 L1452.4,1366 L1452.9,1366 L1453.4,1366 L1453.9,1366 L1454.4,1366 L1454.9,1366 L1455.4,1366 L1455.9,1366 L1456.4,1366 L1456.9,1366 L1457.4,1366 L1457.9,1366 L1458.4,1365.94 L1458.9,1365.84 L1459.4,1365.67 L1459.9,1365.46 L1460.4,1365.19 L1460.9,1364.87 L1461.4,1364.51 L1461.9,1364.11 L1462.4,1363.67 L1462.9,1363.19 L1463.4,1362.69 L1463.9,1362.16 L1464.4,1361.61 L1464.9,1361.05 L1465.4,1360.48 L1465.9,1359.91 L1466.4,1359.34 L1466.9,1358.78 L1467.4,1358.24 L1467.9,1357.71 L1468.4,1357.21 L1468.9,1356.74 L1469.4,1356.31 L1469.9,1355.91 L1470.4,1355.56 L1470.9,1355.25 L1471.4,1354.99 L1471.9,1354.79 L1472.4,1354.64 L1472.9,1354.54 L1473.4,1354.5 L1473.9,1354.5 L1474.4,1354.5 L1474.9,1354.5 L1475.4,1354.5 L1475.9,1354.5 L1476.4,1354.5 L1476.9,1354.5 L1477.4,1354.6 L1477.9,1356.83 L1478.4,1358.69 L1478.9,1360.23 L1479.4,1361.48 L1479.9,1362.49 L1480.4,1363.3 L1480.9,1363.94 L1481.4,1364.45 L1481.9,1364.84 L1482.4,1365.14 L1482.9,1365.36 L1483.4,1365.54 L1483.9,1365.67 L1484.4,1365.76 L1484.9,1365.83 L1485.4,1365.88 L1485.9,1365.92 L1486.4,1365.94 L1486.9,1365.96 L1487.4,1365.97 L1487.9,1365.98 L1488.4,1365.99 L1488.9,1365.99 L1489.4,1365.99 L1489.9,1366 L1490.4,1366 L1490.9,1366 L1491.4,1366 L1491.9,1366 L1492.4,1366 L1492.9,1366 L1493.4,1366 L1493.9,1366 L1494.4,1366 L1494.9,1366 L1495.4,1366 L1495.9,1366 L1496.4,1366 L1496.9,1366 L1497.4,1366 L1497.9,1366 L1498.4,1366 L1498.9,1366 L1499.4,1366 L1499.9,1366 L1500.4,1366 L1500.9,1366 L1501.4,1366 L1501.9,1366 L1502.4,1366 L1502.9,1366 L1503.4,1366 L1503.9,1366 L1504.4,1366 L1504.9,1366 L1505.4,1366 L1505.9,1366 L1506.4,1366 L1506.9,1366 L1507.4,1366 L1507.9,1366 L1508.4,1366 L1508.9,1366 L1509.4,1366 L1509.9,1366 L1510.4,1366 L1510.9,1366 L1511.4,1366 L1511.9,1366 L1512.4,1366 L1512.9,1366 L1513.4,1366 L1513.9,1366 L1514.4,1366 L1514.9,1366 L1515.4,1366 L1515.9,1366 L1516.4,1366 L1516.9,1366 L1517.4,1366 L1517.9,1366 L1518.4,1366 L1518.9,1366 L1519.4,1366 L1519.9,1366 L1520.4,1366 L1520.9,1366 L1521.4,1366 L1521.9,1366 L1522.4,1366 L1522.9,1366 L1523.4,1366 L1523.9,1366 L1524.4,1366 L1524.9,1366 L1525.4,1366 L1525.9,1366 L1526.4,1366 L1526.9,1366 L1527.4,1366 L1527.9,1366 L1528.4,1366 L1528.9,1366 L1529.4,1366 L1529.9,1366 L1530.4,1366 L1530.9,1366 L1531.4,1366 L1531.9,1366 L1532.4,1366 L1532.9,1366 L1533.4,1366 L1533.9,1366 L1534.4,1366 L1534.9,1366 L1535.4,1366 L1535.9,1366 L1536.4,1366 L1536.9,1366 L1537.4,1366 L1537.9,1366 L1538.4,1366 L1538.9,1366 L1539.4,1366 L1539.9,1366 L1540.4,1366 L1540.9,1366 L1541.4,1366 L1541.9,1366 L1542.4,1366 L1542.9,1366 L1543.4,1366 L1543.9,1366 L1544.4,1366 L1544.9,1366 L1545.4,1366 L1545.9,1366 L1546.4,1366 L1546.9,1366 L1547.4,1366 L1547.9,1366 L1548.4,1366 L1548.9,1366 L1549.4,1366 L1549.9,1366 L1550.4,1366 L1550.9,1366 L1551.4,1366 L1551.9,1366 L1552.4,1366 L1552.9,1366 L1553.4,1366 L1553.9,1366 L1554.4,1366 L1554.9,1366 L1555.4,1366 L1555.9,1366 L1556.4,1366 L1556.9,1366 L1557.4,1366 L1557.9,1366 L1558.4,1366 L1558.9,1366 L1559.4,1366 L1559.9,1366 L1560.4,1366 L1560.9,1366 L1561.4,1366 L1561.9,1366 L1562.4,1366 L1562.9,1366 L1563.4,1366 L1563.9,1366 L1564.4,1366 L1564.9,1366 L1565.4,1366 L1565.9,1366 L1566.4,1366 L1566.9,1366 L1567.4,1366 L1567.9,1366 L1568.4,1366 L1568.9,1366 L1569.4,1366 L1569.9,1366 L1570.4,1366 L1570.9,1366 L1571.4,1366 L1571.9,1366 L1572.4,1366 L1572.9,1366 L1573.4,1366 L1573.9,1366 L1574.4,1366 L1574.9,1366 L1575.4,1366 L1575.9,1366 L1576.4,1366 L1576.9,1366 L1577.4,1366 L1577.9,1366 L1578.4,1366 L1578.9,1366 L1579.4,1366 L1579.9,1366 L1580.4,1366 L1580.9,1366 L1581.4,1366 L1581.9,1366 L1582.4,1366 L1582.9,1366 L1583.4,1366 L1583.9,1366 L1584.4,1366 L1584.9,1366 L1584.9,1366 Z" fill="#D6101E" />
<path d="M1425.4,1366 L1425.4,1366 L1425.9,1366 L1426.4,1366 L1426.9,1366 L1427.4,1366 L1427.9,1366 L1428.4,1366 L1428.9,1366 L1429.4,1366 L1429.9,1366 L1430.4,1366 L1430.9,1366 L1431.4,1366 L1431.9,1366 L1432.4,1366 L1432.9,1366 L1433.4,1366 L1433.9,1366 L1434.4,1366 L1434.9,1366 L1435.4,1366 L1435.9,1366 L1436.4,1366 L1436.9,1366 L1437.4,1366 L1437.9,1366 L1438.4,1366 L1438.9,1366 L1439.4,1366 L1439.9,1366 L1440.4,1366 L1440.9,1366 L1441.4,1366 L1441.9,1366 L1442.4,1366 L1442.9,1366 L1443.4,1366 L1443.9,1366 L1444.4,1366 L1444.9,1366 L1445.4,1366 L1445.9,1366 L1446.4,1366 L1446.9,1366 L1447.4,1366 L1447.9,1366 L1448.4,1366 L1448.9,1366 L1449.4,1366 L1449.9,1366 L1450.4,1366 L1450.9,1366 L1451.4,1366 L1451.9,1366 L1452.4,1366 L1452.9,1366 L1453.4,1366 L1453.9,1366 L1454.4,1366 L1454.9,1366 L1455.4,1366 L1455.9,1366 L1456.4,1366 L1456.9,1366 L1457.4,1366 L1457.9,1366 L1458.4,1366 L1458.9,1366 L1459.4,1366 L1459.9,1366 L1460.4,1366 L1460.9,1366 L1461.4,1366 L1461.9,1366 L1462.4,1366 L1462.9,1366 L1463.4,1366 L1463.9,1366 L1464.4,1366 L1464.9,1366 L1465.4,1366 L1465.9,1366 L1466.4,1366 L1466.9,1366 L1467.4,1366 L1467.9,1366 L1468.4,1366 L1468.9,1366 L1469.4,1366 L1469.9,1366 L1470.4,1366 L1470.9,1366 L1471.4,1366 L1471.9,1366 L1472.4,1366 L1472.9,1366 L1473.4,1366 L1473.9,1366 L1474.4,1366 L1474.9,1366 L1475.4,1366 L1475.9,1366 L1476.4,1366 L1476.9,1365.99 L1477.4,1365.99 L1477.9,1365.99 L1478.4,1365.99 L1478.9,1365.99 L1479.4,1365.99 L1479.9,1365.98 L1480.4,1365.98 L1480.9,1365.98 L1481.4,1365.97 L1481.9,1365.97 L1482.4,1365.96 L1482.9,1365.96 L1483.4,1365.95 L1483.9,1365.94 L1484.4,1365.93 L1484.9,1365.92 L1485.4,1365.91 L1485.9,1365.89 L1486.4,1365.87 L1486.9,1365.85 L1487.4,1365.83 L1487.9,1365.8 L1488.4,1365.77 L1488.9,1365.74 L1489.4,1365.7 L1489.9,1365.66 L1490.4,1365.61 L1490.9,1365.55 L1491.4,1365.49 L1491.9,1365.42 L1492.4,1365.34 L1492.9,1365.25 L1493.4,1365.15 L1493.9,1365.04 L1494.4,1364.92 L1494.9,1364.79 L1495.4,1364.64 L1495.9,1364.48 L1496.4,1364.3 L1496.9,1364.1 L1497.4,1363.88 L1497.9,1363.65 L1498.4,1363.39 L1498.9,1363.11 L1499.4,1362.8 L1499.9,1362.47 L1500.4,1362.11 L1500.9,1361.73 L1501.4,1361.31 L1501.9,1360.87 L1502.4,1360.39 L1502.9,1359.88 L1503.4,1359.33 L1503.9,1358.75 L1504.4,1358.14 L1504.9,1357.49 L1505.4,1356.8 L1505.9,1356.07 L1506.4,1355.31 L1506.9,1354.51 L1507.4,1353.68 L1507.9,1352.81 L1508.4,1351.91 L1508.9,1350.97 L1509.4,1350 L1509.9,1348.99 L1510.4,1347.96 L1510.9,1346.91 L1511.4,1345.83 L1511.9,1344.73 L1512.4,1343.61 L1512.9,1342.48 L1513.4,1341.34 L1513.9,1340.19 L1514.4,1339.03 L1514.9,1337.88 L1515.4,1336.74 L1515.9,1335.61 L1516.4,1334.49 L1516.9,1333.39 L1517.4,1332.32 L1517.9,1331.28 L1518.4,1330.27 L1518.9,1329.31 L1519.4,1328.39 L1519.9,1327.52 L1520.4,1326.7 L1520.9,1325.95 L1521.4,1325.25 L1521.9,1324.62 L1522.4,1324.06 L1522.9,1323.58 L1523.4,1323.17 L1523.9,1322.83 L1524.4,1322.58 L1524.9,1322.41 L1525.4,1322.31 L1525.9,1322.31 L1526.4,1322.38 L1526.9,1322.54 L1527.4,1322.77 L1527.9,1323.09 L1528.4,1323.49 L1528.9,1323.96 L1529.4,1324.5 L1529.9,1325.12 L1530.4,1325.8 L1530.9,1326.55 L1531.4,1327.35 L1531.9,1328.21 L1532.4,1329.12 L1532.9,1330.08 L1533.4,1331.08 L1533.9,1332.11 L1534.4,1333.18 L1534.9,1334.27 L1535.4,1335.38 L1535.9,1336.51 L1536.4,1337.65 L1536.9,1338.8 L1537.4,1339.96 L1537.9,1341.11 L1538.4,1342.25 L1538.9,1343.39 L1539.4,1344.51 L1539.9,1345.61 L1540.4,1346.69 L1540.9,1347.76 L1541.4,1348.79 L1541.9,1349.8 L1542.4,1350.77 L1542.9,1351.72 L1543.4,1352.63 L1543.9,1353.51 L1544.4,1354.35 L1544.9,1355.16 L1545.4,1355.92 L1545.9,1356.66 L1546.4,1357.35 L1546.9,1358.01 L1547.4,1358.63 L1547.9,1359.22 L1548.4,1359.77 L1548.9,1360.29 L1549.4,1360.77 L1549.9,1361.23 L1550.4,1361.65 L1550.9,1362.04 L1551.4,1362.4 L1551.9,1362.74 L1552.4,1363.05 L1552.9,1363.33 L1553.4,1363.6 L1553.9,1363.84 L1554.4,1364.06 L1554.9,1364.26 L1555.4,1364.44 L1555.9,1364.61 L1556.4,1364.76 L1556.9,1364.9 L1557.4,1365.02 L1557.9,1365.13 L1558.4,1365.23 L1558.9,1365.32 L1559.4,1365.4 L1559.9,1365.48 L1560.4,1365.54 L1560.9,1365.6 L1561.4,1365.65 L1561.9,1365.69 L1562.4,1365.73 L1562.9,1365.77 L1563.4,1365.8 L1563.9,1365.82 L1564.4,1365.85 L1564.9,1365.87 L1565.4,1365.89 L1565.9,1365.9 L1566.4,1365.92 L1566.9,1365.93 L1567.4,1365.94 L1567.9,1365.95 L1568.4,1365.96 L1568.9,1365.96 L1569.4,1365.97 L1569.9,1365.97 L1570.4,1365.98 L1570.9,1365.98 L1571.4,1365.98 L1571.9,1365.99 L1572.4,1365.99 L1572.9,1365.99 L1573.4,1365.99 L1573.9,1365.99 L1574.4,1365.99 L1574.9,1366 L1575.4,1366 L1575.9,1366 L1576.4,1366 L1576.9,1366 L1577.4,1366 L1577.9,1366 L1578.4,1366 L1578.9,1366 L1579.4,1366 L1579.9,1366 L1580.4,1366 L1580.9,1366 L1581.4,1366 L1581.9,1366 L1582.4,1366 L1582.9,1366 L1583.4,1366 L1583.9,1366 L1584.4,1366 L1584.9,1366 L1584.9,1366 Z" fill="#FF0000" />
<path d="M1455.9,1366 L1456.4,1366 L1456.9,1366 L1457.4,1366 L1457.9,1366 L1458.4,1365.94 L1458.9,1365.84 L1459.4,1365.67 L1459.9,1365.46 L1460.4,1365.19 L1460.9,1364.87 L1461.4,1364.51 L1461.9,1364.11 L1462.4,1363.67 L1462.9,1363.19 L1463.4,1362.69 L1463.9,1362.16 L1464.4,1361.61 L1464.9,1361.05 L1465.4,1360.48 L1465.9,1359.91 L1466.4,1359.34 L1466.9,1358.78 L1467.4,1358.24 L1467.9,1357.71 L1468.4,1357.21 L1468.9,1356.74 L1469.4,1356.31 L1469.9,1355.91 L1470.4,1355.56 L1470.9,1355.25 L1471.4,1354.99 L1471.9,1354.79 L1472.4,1354.64 L1472.9,1354.54 L1473.4,1354.5 L1473.9,1354.5 L1474.4,1354.5 L1474.9,1354.5 L1475.4,1354.5 L1475.9,1354.5 L1476.4,1354.5 L1476.9,1354.5 L1477.4,1354.5 L1477.9,1354.5 L1478.4,1354.5 L1478.9,1354.5 L1479.4,1354.5 L1479.9,1354.5 L1480.4,1354.5 L1480.9,1354.5 L1481.4,1354.5 L1481.9,1354.5 L1482.4,1354.5 L1482.9,1354.5 L1483.4,1354.5 L1483.9,1354.5 L1484.4,1354.5 L1484.9,1354.5 L1485.4,1354.5 L1485.9,1354.5 L1486.4,1354.5 L1486.9,1354.5 L1487.4,1354.5 L1487.9,1354.5 L1488.4,1354.5 L1488.9,1354.5 L1489.4,1354.5 L1489.9,1354.5 L1490.4,1354.5 L1490.9,1354.5 L1491.4,1354.5 L1491.9,1354.5 L1492.4,1354.5 L1492.9,1354.5 L1493.4,1354.5 L1493.9,1354.5 L1494.4,1354.5 L1494.9,1354.5 L1495.4,1354.5 L1495.9,1354.5 L1496.4,1354.5 L1496.9,1354.5 L1497.4,1354.5 L1497.9,1354.5 L1498.4,1354.5 L1498.9,1354.5 L1499.4,1354.5 L1499.9,1354.5 L1500.4,1354.5 L1500.9,1354.5 L1501.4,1354.5 L1501.9,1354.5 L1502.4,1354.52 L1502.9,1354.54 L1503.4,1354.57 L1503.9,1354.61 L1504.4,1354.66 L1504.9,1354.71 L1505.4,1354.78 L1505.9,1354.85 L1506.4,1354.94 L1506.9,1355.03 L1507.4,1355.12 L1507.9,1355.23 L1508.4,1355.34 L1508.9,1355.46 L1509.4,1355.59 L1509.9,1355.73 L1510.4,1355.87 L1510.9,1356.02 L1511.4,1356.18 L1511.9,1356.34 L1512.4,1356.51 L1512.9,1356.68 L1513.4,1356.86 L1513.9,1357.04 L1514.4,1357.23 L1514.9,1357.43 L1515.4,1357.63 L1515.9,1357.83 L1516.4,1358.03 L1516.9,1358.24 L1517.4,1358.46 L1517.9,1358.67 L1518.4,1358.89 L1518.9,1359.11 L1519.4,1359.33 L1519.9,1359.55 L1520.4,1359.78 L1520.9,1360 L1521.4,1360.23 L1521.9,1360.45 L1522.4,1360.68 L1522.9,1360.9 L1523.4,1361.13 L1523.9,1361.35 L1524.4,1361.57 L1524.9,1361.79 L1525.4,1362 L1525.9,1362.21 L1526.4,1362.42 L1526.9,1362.63 L1527.4,1362.83 L1527.9,1363.03 L1528.4,1363.23 L1528.9,1363.42 L1529.4,1363.6 L1529.9,1363.78 L1530.4,1363.96 L1530.9,1364.13 L1531.4,1364.29 L1531.9,1364.45 L1532.4,1364.6 L1532.9,1364.74 L1533.4,1364.88 L1533.9,1365.01 L1534.4,1365.13 L1534.9,1365.25 L1535.4,1365.36 L1535.9,1365.46 L1536.4,1365.55 L1536.9,1365.63 L1537.4,1365.71 L1537.9,1365.77 L1538.4,1365.83 L1538.9,1365.88 L1539.4,1365.92 L1539.9,1365.95 L1540.4,1365.98 L1540.9,1365.99 L1541.4,1366 L1541.9,1366 L1542.4,1366 L1542.9,1366 L1543.4,1366 L1543.9,1366 L1544.4,1366 L1544.9,1366 L1545.4,1366 L1545.9,1366 L1546.4,1366 L1546.9,1366 L1547.4,1366 L1547.9,1366 L1548.4,1366 L1548.9,1366 L1549.4,1366" fill="none" stroke="#3A3AA8" stroke-width="1.3" />
<path d="M1426.4,1364.94 L1426.9,1366 L1427.4,1365.49 L1427.9,1364.86 L1428.4,1364.64 L1428.9,1364.41 L1429.4,1364.68 L1429.9,1365.15 L1430.4,1365.53 L1430.9,1365.41 L1431.4,1365.44 L1431.9,1364.6 L1432.4,1364.29 L1432.9,1365.33 L1433.4,1364.68 L1433.9,1364.76 L1434.4,1364.06 L1434.9,1363.39 L1435.4,1363.6 L1435.9,1365.26 L1436.4,1364.66 L1436.9,1365.75 L1437.4,1364.35 L1437.9,1364.97 L1438.4,1365.04 L1438.9,1363.76 L1439.4,1365.34 L1439.9,1365.11 L1440.4,1365.7 L1440.9,1365.69 L1441.4,1365.86 L1441.9,1364.99 L1442.4,1365.12 L1442.9,1364.76 L1443.4,1364.35 L1443.9,1365.64 L1444.4,1364.36 L1444.9,1364.65 L1445.4,1365.74 L1445.9,1365.71 L1446.4,1364.64 L1446.9,1363.85 L1447.4,1364.43 L1447.9,1364.16 L1448.4,1363.77 L1448.9,1362.83 L1449.4,1362.85 L1449.9,1361.82 L1450.4,1362.17 L1450.9,1361.85 L1451.4,1360.13 L1451.9,1358.39 L1452.4,1357.13 L1452.9,1354.93 L1453.4,1352.79 L1453.9,1349.74 L1454.4,1346.03 L1454.9,1342.56 L1455.4,1338.22 L1455.9,1334.44 L1456.4,1329.87 L1456.9,1326.12 L1457.4,1318.37 L1457.9,1310.93 L1458.4,1302.61 L1458.9,1296.61 L1459.4,1288.04 L1459.9,1279.38 L1460.4,1272.02 L1460.9,1261.11 L1461.4,1250.81 L1461.9,1244.28 L1462.4,1235.13 L1462.9,1224.76 L1463.4,1218.81 L1463.9,1209.64 L1464.4,1201.61 L1464.9,1196.41 L1465.4,1200.11 L1465.9,1204.1 L1466.4,1207.82 L1466.9,1211.49 L1467.4,1219.2 L1467.9,1225.67 L1468.4,1232.72 L1468.9,1237.3 L1469.4,1245.27 L1469.9,1252.08 L1470.4,1259.49 L1470.9,1266.72 L1471.4,1275.17 L1471.9,1283.45 L1472.4,1290.5 L1472.9,1298.22 L1473.4,1307.15 L1473.9,1314.02 L1474.4,1318.76 L1474.9,1324.14 L1475.4,1329.36 L1475.9,1333.27 L1476.4,1334.02 L1476.9,1338.44 L1477.4,1341.39 L1477.9,1343.83 L1478.4,1346.43 L1478.9,1347.19 L1479.4,1348.26 L1479.9,1349.54 L1480.4,1351.93 L1480.9,1351.4 L1481.4,1351.61 L1481.9,1352.5 L1482.4,1355.17 L1482.9,1354.72 L1483.4,1355.39 L1483.9,1355.04 L1484.4,1355.07 L1484.9,1355.34 L1485.4,1354.05 L1485.9,1353.98 L1486.4,1353.05 L1486.9,1354.23 L1487.4,1354.31 L1487.9,1353.12 L1488.4,1353.22 L1488.9,1354.09 L1489.4,1354.72 L1489.9,1354.85 L1490.4,1354.5 L1490.9,1353.65 L1491.4,1353.54 L1491.9,1352.96 L1492.4,1352.51 L1492.9,1352.77 L1493.4,1351.94 L1493.9,1351.84 L1494.4,1352.46 L1494.9,1352.75 L1495.4,1352.74 L1495.9,1353.24 L1496.4,1353.94 L1496.9,1353.17 L1497.4,1353.05 L1497.9,1351.98 L1498.4,1352.18 L1498.9,1351.61 L1499.4,1351.05 L1499.9,1351.11 L1500.4,1350.45 L1500.9,1350.63 L1501.4,1350.32 L1501.9,1348.92 L1502.4,1348.22 L1502.9,1347.91 L1503.4,1348.16 L1503.9,1346.83 L1504.4,1344.69 L1504.9,1346.66 L1505.4,1344.84 L1505.9,1344.16 L1506.4,1342.69 L1506.9,1341.42 L1507.4,1342.19 L1507.9,1339.9 L1508.4,1340.16 L1508.9,1339.61 L1509.4,1338.07 L1509.9,1337.3 L1510.4,1336.04 L1510.9,1335.46 L1511.4,1335.04 L1511.9,1333.27 L1512.4,1332.63 L1512.9,1329.4 L1513.4,1327.86 L1513.9,1325.24 L1514.4,1325.56 L1514.9,1325.97 L1515.4,1325.89 L1515.9,1323.52 L1516.4,1322.52 L1516.9,1319.93 L1517.4,1319.79 L1517.9,1319.37 L1518.4,1317.27 L1518.9,1316.52 L1519.4,1314.93 L1519.9,1313.8 L1520.4,1313.57 L1520.9,1315.02 L1521.4,1315.62 L1521.9,1313 L1522.4,1314.01 L1522.9,1314.24 L1523.4,1314.69 L1523.9,1315.27 L1524.4,1315.94 L1524.9,1316.9 L1525.4,1317.63 L1525.9,1319.73 L1526.4,1317.63 L1526.9,1318.34 L1527.4,1320.19 L1527.9,1319.81 L1528.4,1319.74 L1528.9,1322.05 L1529.4,1322.89 L1529.9,1321.84 L1530.4,1322.5 L1530.9,1323.42 L1531.4,1323.85 L1531.9,1325.61 L1532.4,1327.27 L1532.9,1326.98 L1533.4,1328.93 L1533.9,1330.48 L1534.4,1331.25 L1534.9,1332.76 L1535.4,1335.31 L1535.9,1334.52 L1536.4,1336.31 L1536.9,1336.22 L1537.4,1337.8 L1537.9,1340.47 L1538.4,1340.41 L1538.9,1342.33 L1539.4,1344.52 L1539.9,1345.55 L1540.4,1348.38 L1540.9,1348.34 L1541.4,1349.66 L1541.9,1350.44 L1542.4,1351.8 L1542.9,1351.7 L1543.4,1352.25 L1543.9,1352.34 L1544.4,1352.25 L1544.9,1353.61 L1545.4,1354.85 L1545.9,1355.7 L1546.4,1357.33 L1546.9,1358.33 L1547.4,1358.18 L1547.9,1359.51 L1548.4,1361.31 L1548.9,1361.39 L1549.4,1361.16 L1549.9,1360.32 L1550.4,1361.55 L1550.9,1362.57 L1551.4,1362.58 L1551.9,1362.88 L1552.4,1362.89 L1552.9,1363.53 L1553.4,1363.5 L1553.9,1364.11 L1554.4,1363.48 L1554.9,1363.65 L1555.4,1363.62 L1555.9,1364.35 L1556.4,1365.5 L1556.9,1365.26 L1557.4,1365.21 L1557.9,1364.45 L1558.4,1364.12 L1558.9,1364.62 L1559.4,1364.95 L1559.9,1365.78 L1560.4,1365.68 L1560.9,1365.48 L1561.4,1365.78 L1561.9,1366 L1562.4,1365.28 L1562.9,1366 L1563.4,1364.84 L1563.9,1364.44 L1564.4,1363.98 L1564.9,1365.22 L1565.4,1365.04 L1565.9,1366" fill="none" stroke="#000" stroke-width="1.1" />
<path d="M1426.4,1365 L1426.9,1365 L1427.4,1365 L1427.9,1365 L1428.4,1365 L1428.9,1365 L1429.4,1365 L1429.9,1365 L1430.4,1365 L1430.9,1365 L1431.4,1365 L1431.9,1365 L1432.4,1365 L1432.9,1365 L1433.4,1365 L1433.9,1365 L1434.4,1365 L1434.9,1365 L1435.4,1365 L1435.9,1365 L1436.4,1365 L1436.9,1365 L1437.4,1365 L1437.9,1365 L1438.4,1365 L1438.9,1365 L1439.4,1365 L1439.9,1365 L1440.4,1365 L1440.9,1365 L1441.4,1364.99 L1441.9,1364.99 L1442.4,1364.99 L1442.9,1364.98 L1443.4,1364.97 L1443.9,1364.96 L1444.4,1364.94 L1444.9,1364.92 L1445.4,1364.88 L1445.9,1364.83 L1446.4,1364.76 L1446.9,1364.67 L1447.4,1364.54 L1447.9,1364.36 L1448.4,1364.14 L1448.9,1363.84 L1449.4,1363.45 L1449.9,1362.94 L1450.4,1362.3 L1450.9,1361.49 L1451.4,1360.48 L1451.9,1359.23 L1452.4,1357.69 L1452.9,1355.83 L1453.4,1353.6 L1453.9,1350.94 L1454.4,1347.83 L1454.9,1344.2 L1455.4,1340.04 L1455.9,1335.31 L1456.4,1330 L1456.9,1324.1 L1457.4,1317.63 L1457.9,1310.62 L1458.4,1303.08 L1458.9,1295.07 L1459.4,1286.7 L1459.9,1278.08 L1460.4,1269.35 L1460.9,1260.67 L1461.4,1252.19 L1461.9,1244.1 L1462.4,1236.57 L1462.9,1229.77 L1463.4,1223.86 L1463.9,1218.97 L1464.4,1215.22 L1464.9,1212.7 L1465.4,1212.48 L1465.9,1212.56 L1466.4,1213.95 L1466.9,1216.59 L1467.4,1220.41 L1467.9,1225.29 L1468.4,1231.12 L1468.9,1237.74 L1469.4,1244.99 L1469.9,1252.7 L1470.4,1260.72 L1470.9,1268.87 L1471.4,1277.02 L1471.9,1285.02 L1472.4,1292.77 L1472.9,1300.16 L1473.4,1307.13 L1473.9,1313.6 L1474.4,1319.5 L1474.9,1324.81 L1475.4,1329.54 L1475.9,1333.7 L1476.4,1337.32 L1476.9,1340.44 L1477.4,1343.09 L1477.9,1345.32 L1478.4,1347.18 L1478.9,1348.72 L1479.4,1349.97 L1479.9,1350.98 L1480.4,1351.78 L1480.9,1352.42 L1481.4,1352.92 L1481.9,1353.31 L1482.4,1353.6 L1482.9,1353.82 L1483.4,1353.99 L1483.9,1354.11 L1484.4,1354.19 L1484.9,1354.25 L1485.4,1354.29 L1485.9,1354.31 L1486.4,1354.32 L1486.9,1354.31 L1487.4,1354.3 L1487.9,1354.28 L1488.4,1354.26 L1488.9,1354.23 L1489.4,1354.19 L1489.9,1354.15 L1490.4,1354.1 L1490.9,1354.05 L1491.4,1353.99 L1491.9,1353.92 L1492.4,1353.84 L1492.9,1353.75 L1493.4,1353.65 L1493.9,1353.54 L1494.4,1353.42 L1494.9,1353.29 L1495.4,1353.14 L1495.9,1352.98 L1496.4,1352.8 L1496.9,1352.6 L1497.4,1352.38 L1497.9,1352.15 L1498.4,1351.89 L1498.9,1351.61 L1499.4,1351.3 L1499.9,1350.97 L1500.4,1350.61 L1500.9,1350.23 L1501.4,1349.81 L1501.9,1349.37 L1502.4,1348.91 L1502.9,1348.42 L1503.4,1347.9 L1503.9,1347.36 L1504.4,1346.8 L1504.9,1346.2 L1505.4,1345.58 L1505.9,1344.93 L1506.4,1344.25 L1506.9,1343.54 L1507.4,1342.8 L1507.9,1342.04 L1508.4,1341.25 L1508.9,1340.43 L1509.4,1339.59 L1509.9,1338.72 L1510.4,1337.84 L1510.9,1336.93 L1511.4,1336.01 L1511.9,1335.07 L1512.4,1334.12 L1512.9,1333.16 L1513.4,1332.19 L1513.9,1331.23 L1514.4,1330.27 L1514.9,1329.31 L1515.4,1328.36 L1515.9,1327.43 L1516.4,1326.52 L1516.9,1325.64 L1517.4,1324.78 L1517.9,1323.95 L1518.4,1323.16 L1518.9,1322.42 L1519.4,1321.72 L1519.9,1321.07 L1520.4,1320.48 L1520.9,1319.95 L1521.4,1319.48 L1521.9,1319.07 L1522.4,1318.74 L1522.9,1318.48 L1523.4,1318.29 L1523.9,1318.18 L1524.4,1318.15 L1524.9,1318.19 L1525.4,1318.32 L1525.9,1318.52 L1526.4,1318.81 L1526.9,1319.17 L1527.4,1319.61 L1527.9,1320.13 L1528.4,1320.72 L1528.9,1321.38 L1529.4,1322.11 L1529.9,1322.9 L1530.4,1323.76 L1530.9,1324.68 L1531.4,1325.64 L1531.9,1326.66 L1532.4,1327.72 L1532.9,1328.82 L1533.4,1329.96 L1533.9,1331.12 L1534.4,1332.31 L1534.9,1333.52 L1535.4,1334.74 L1535.9,1335.97 L1536.4,1337.2 L1536.9,1338.43 L1537.4,1339.66 L1537.9,1340.88 L1538.4,1342.08 L1538.9,1343.27 L1539.4,1344.43 L1539.9,1345.57 L1540.4,1346.67 L1540.9,1347.75 L1541.4,1348.79 L1541.9,1349.8 L1542.4,1350.77 L1542.9,1351.72 L1543.4,1352.63 L1543.9,1353.51 L1544.4,1354.35 L1544.9,1355.16 L1545.4,1355.92 L1545.9,1356.66 L1546.4,1357.35 L1546.9,1358.01 L1547.4,1358.63 L1547.9,1359.22 L1548.4,1359.77 L1548.9,1360.29 L1549.4,1360.77 L1549.9,1361.23 L1550.4,1361.65 L1550.9,1362.04 L1551.4,1362.4 L1551.9,1362.74 L1552.4,1363.05 L1552.9,1363.33 L1553.4,1363.6 L1553.9,1363.84 L1554.4,1364.06 L1554.9,1364.26 L1555.4,1364.44 L1555.9,1364.61 L1556.4,1364.76 L1556.9,1364.9 L1557.4,1365.02 L1557.9,1365.13 L1558.4,1365.23 L1558.9,1365.32 L1559.4,1365.4 L1559.9,1365.48 L1560.4,1365.54 L1560.9,1365.6 L1561.4,1365.65 L1561.9,1365.69 L1562.4,1365.73 L1562.9,1365.77 L1563.4,1365.8 L1563.9,1365.82 L1564.4,1365.85 L1564.9,1365.87 L1565.4,1365.89 L1565.9,1365.9" fill="none" stroke="#00F000" stroke-width="1.4" />
<line x1="1424.9" y1="1197.6" x2="1424.9" y2="1366.8" stroke="#0C2060" stroke-width="1.8" />
<line x1="1424.1" y1="1366" x2="1586.3" y2="1366" stroke="#0C2060" stroke-width="1.8" />
<line x1="1419.2" y1="1366" x2="1424.4" y2="1366" stroke="#000" stroke-width="1.1" />
<line x1="1421.3" y1="1355.47" x2="1424.4" y2="1355.47" stroke="#000" stroke-width="1.1" />
<line x1="1421.3" y1="1344.95" x2="1424.4" y2="1344.95" stroke="#000" stroke-width="1.1" />
<line x1="1421.3" y1="1334.42" x2="1424.4" y2="1334.42" stroke="#000" stroke-width="1.1" />
<line x1="1419.2" y1="1323.9" x2="1424.4" y2="1323.9" stroke="#000" stroke-width="1.1" />
<line x1="1421.3" y1="1313.38" x2="1424.4" y2="1313.38" stroke="#000" stroke-width="1.1" />
<line x1="1421.3" y1="1302.85" x2="1424.4" y2="1302.85" stroke="#000" stroke-width="1.1" />
<line x1="1421.3" y1="1292.33" x2="1424.4" y2="1292.33" stroke="#000" stroke-width="1.1" />
<line x1="1419.2" y1="1281.8" x2="1424.4" y2="1281.8" stroke="#000" stroke-width="1.1" />
<line x1="1421.3" y1="1271.27" x2="1424.4" y2="1271.27" stroke="#000" stroke-width="1.1" />
<line x1="1421.3" y1="1260.75" x2="1424.4" y2="1260.75" stroke="#000" stroke-width="1.1" />
<line x1="1421.3" y1="1250.22" x2="1424.4" y2="1250.22" stroke="#000" stroke-width="1.1" />
<line x1="1419.2" y1="1239.7" x2="1424.4" y2="1239.7" stroke="#000" stroke-width="1.1" />
<line x1="1421.3" y1="1229.17" x2="1424.4" y2="1229.17" stroke="#000" stroke-width="1.1" />
<line x1="1421.3" y1="1218.65" x2="1424.4" y2="1218.65" stroke="#000" stroke-width="1.1" />
<line x1="1421.3" y1="1208.12" x2="1424.4" y2="1208.12" stroke="#000" stroke-width="1.1" />
<line x1="1419.2" y1="1197.6" x2="1424.4" y2="1197.6" stroke="#000" stroke-width="1.1" />
<line x1="1424.9" y1="1366.5" x2="1424.9" y2="1371.8" stroke="#000" stroke-width="1.1" />
<line x1="1435" y1="1366.5" x2="1435" y2="1369" stroke="#000" stroke-width="1.1" />
<line x1="1445.1" y1="1366.5" x2="1445.1" y2="1369" stroke="#000" stroke-width="1.1" />
<line x1="1455.2" y1="1366.5" x2="1455.2" y2="1369" stroke="#000" stroke-width="1.1" />
<line x1="1465.3" y1="1366.5" x2="1465.3" y2="1371.8" stroke="#000" stroke-width="1.1" />
<line x1="1475.4" y1="1366.5" x2="1475.4" y2="1369" stroke="#000" stroke-width="1.1" />
<line x1="1485.5" y1="1366.5" x2="1485.5" y2="1369" stroke="#000" stroke-width="1.1" />
<line x1="1495.6" y1="1366.5" x2="1495.6" y2="1369" stroke="#000" stroke-width="1.1" />
<line x1="1505.7" y1="1366.5" x2="1505.7" y2="1371.8" stroke="#000" stroke-width="1.1" />
<line x1="1515.8" y1="1366.5" x2="1515.8" y2="1369" stroke="#000" stroke-width="1.1" />
<line x1="1525.9" y1="1366.5" x2="1525.9" y2="1369" stroke="#000" stroke-width="1.1" />
<line x1="1536" y1="1366.5" x2="1536" y2="1369" stroke="#000" stroke-width="1.1" />
<line x1="1546.1" y1="1366.5" x2="1546.1" y2="1371.8" stroke="#000" stroke-width="1.1" />
<line x1="1556.2" y1="1366.5" x2="1556.2" y2="1369" stroke="#000" stroke-width="1.1" />
<line x1="1566.3" y1="1366.5" x2="1566.3" y2="1369" stroke="#000" stroke-width="1.1" />
<line x1="1576.4" y1="1366.5" x2="1576.4" y2="1369" stroke="#000" stroke-width="1.1" />
<line x1="1586.5" y1="1366.5" x2="1586.5" y2="1371.8" stroke="#000" stroke-width="1.1" />
<text x="1418.7" y="1202" font-size="13.2" text-anchor="end" font-family="'Liberation Serif', 'Times New Roman', serif" fill="#2a2a2a">880</text>
<text x="1418.7" y="1244.1" font-size="13.2" text-anchor="end" font-family="'Liberation Serif', 'Times New Roman', serif" fill="#2a2a2a">660</text>
<text x="1418.7" y="1286.2" font-size="13.2" text-anchor="end" font-family="'Liberation Serif', 'Times New Roman', serif" fill="#2a2a2a">440</text>
<text x="1418.7" y="1328.3" font-size="13.2" text-anchor="end" font-family="'Liberation Serif', 'Times New Roman', serif" fill="#2a2a2a">220</text>
<text x="1418.7" y="1370.4" font-size="13.2" text-anchor="end" font-family="'Liberation Serif', 'Times New Roman', serif" fill="#2a2a2a">0</text>
<text x="1424.9" y="1383.3" font-size="13.2" text-anchor="middle" font-family="'Liberation Serif', 'Times New Roman', serif" fill="#2a2a2a">80.0</text>
<text x="1465.3" y="1383.3" font-size="13.2" text-anchor="middle" font-family="'Liberation Serif', 'Times New Roman', serif" fill="#2a2a2a">235.0</text>
<text x="1505.7" y="1383.3" font-size="13.2" text-anchor="middle" font-family="'Liberation Serif', 'Times New Roman', serif" fill="#2a2a2a">390.0</text>
<text x="1546.1" y="1383.3" font-size="13.2" text-anchor="middle" font-family="'Liberation Serif', 'Times New Roman', serif" fill="#2a2a2a">545.0</text>
<text x="1586.5" y="1383.3" font-size="13.2" text-anchor="middle" font-family="'Liberation Serif', 'Times New Roman', serif" fill="#2a2a2a">700.0</text>
</g>
<g>
<path d="M839.4,1841.5 L839.4,1841.5 L839.9,1841.5 L840.4,1841.5 L840.9,1841.5 L841.4,1841.5 L841.9,1841.5 L842.4,1841.5 L842.9,1841.5 L843.4,1841.5 L843.9,1841.5 L844.4,1841.5 L844.9,1841.5 L845.4,1841.5 L845.9,1841.5 L846.4,1841.5 L846.9,1841.5 L847.4,1841.5 L847.9,1841.5 L848.4,1841.5 L848.9,1841.5 L849.4,1841.5 L849.9,1841.5 L850.4,1841.5 L850.9,1841.5 L851.4,1841.5 L851.9,1841.5 L852.4,1841.5 L852.9,1841.5 L853.4,1841.5 L853.9,1841.5 L854.4,1841.5 L854.9,1841.5 L855.4,1841.5 L855.9,1841.5 L856.4,1841.5 L856.9,1841.5 L857.4,1841.5 L857.9,1841.5 L858.4,1841.5 L858.9,1841.5 L859.4,1841.5 L859.9,1841.5 L860.4,1841.5 L860.9,1841.5 L861.4,1841.5 L861.9,1841.5 L862.4,1841.5 L862.9,1841.5 L863.4,1841.5 L863.9,1841.5 L864.4,1841.5 L864.9,1841.5 L865.4,1841.5 L865.9,1841.5 L866.4,1841.5 L866.9,1841.5 L867.4,1841.5 L867.9,1841.5 L868.4,1841.5 L868.9,1841.5 L869.4,1841.5 L869.9,1841.5 L870.4,1841.5 L870.9,1841.5 L871.4,1841.5 L871.9,1841.5 L872.4,1841.5 L872.9,1841.5 L873.4,1841.5 L873.9,1841.5 L874.4,1841.5 L874.9,1841.5 L875.4,1841.5 L875.9,1841.5 L876.4,1841.5 L876.9,1841.5 L877.4,1841.5 L877.9,1841.5 L878.4,1841.5 L878.9,1841.5 L879.4,1841.46 L879.9,1841.32 L880.4,1841.07 L880.9,1840.72 L881.4,1840.27 L881.9,1839.74 L882.4,1839.14 L882.9,1838.49 L883.4,1837.79 L883.9,1837.07 L884.4,1836.33 L884.9,1835.61 L885.4,1834.91 L885.9,1834.26 L886.4,1833.66 L886.9,1833.13 L887.4,1832.68 L887.9,1832.33 L888.4,1832.08 L888.9,1831.94 L889.4,1831.9 L889.9,1831.9 L890.4,1831.9 L890.9,1831.9 L891.4,1831.9 L891.9,1831.9 L892.4,1831.9 L892.9,1831.9 L893.4,1831.9 L893.9,1831.9 L894.4,1831.9 L894.9,1831.9 L895.4,1831.9 L895.9,1831.9 L896.4,1831.9 L896.9,1831.9 L897.4,1831.9 L897.9,1831.9 L898.4,1831.9 L898.9,1831.9 L899.4,1831.9 L899.9,1831.9 L900.4,1831.9 L900.9,1831.9 L901.4,1831.9 L901.9,1831.9 L902.4,1831.9 L902.9,1831.9 L903.4,1831.9 L903.9,1831.9 L904.4,1831.9 L904.9,1831.9 L905.4,1831.9 L905.9,1831.9 L906.4,1831.9 L906.9,1831.9 L907.4,1831.9 L907.9,1831.9 L908.4,1831.9 L908.9,1831.9 L909.4,1831.9 L909.9,1831.9 L910.4,1831.9 L910.9,1831.9 L911.4,1831.9 L911.9,1831.9 L912.4,1831.9 L912.9,1831.9 L913.4,1831.9 L913.9,1831.9 L914.4,1831.9 L914.9,1831.9 L915.4,1831.9 L915.9,1831.9 L916.4,1831.9 L916.9,1831.9 L917.4,1831.9 L917.9,1831.9 L918.4,1831.9 L918.9,1831.9 L919.4,1831.9 L919.9,1831.9 L920.4,1831.9 L920.9,1831.9 L921.4,1831.9 L921.9,1831.9 L922.4,1831.9 L922.9,1831.9 L923.4,1831.9 L923.9,1831.9 L924.4,1831.9 L924.9,1831.9 L925.4,1831.9 L925.9,1831.9 L926.4,1831.9 L926.9,1831.9 L927.4,1831.9 L927.9,1831.9 L928.4,1831.9 L928.9,1831.9 L929.4,1831.9 L929.9,1831.9 L930.4,1831.9 L930.9,1831.9 L931.4,1831.9 L931.9,1831.93 L932.4,1832 L932.9,1832.12 L933.4,1832.27 L933.9,1832.47 L934.4,1832.7 L934.9,1832.97 L935.4,1833.27 L935.9,1833.61 L936.4,1833.97 L936.9,1834.35 L937.4,1834.76 L937.9,1835.18 L938.4,1835.62 L938.9,1836.07 L939.4,1836.52 L939.9,1836.97 L940.4,1837.42 L940.9,1837.87 L941.4,1838.3 L941.9,1838.72 L942.4,1839.13 L942.9,1839.51 L943.4,1839.86 L943.9,1840.19 L944.4,1840.48 L944.9,1840.75 L945.4,1840.97 L945.9,1841.16 L946.4,1841.31 L946.9,1841.41 L947.4,1841.48 L947.9,1841.5 L948.4,1841.5 L948.9,1841.5 L949.4,1841.5 L949.9,1841.5 L950.4,1841.5 L950.9,1841.5 L951.4,1841.5 L951.9,1841.5 L952.4,1841.5 L952.9,1841.5 L953.4,1841.5 L953.9,1841.5 L954.4,1841.5 L954.9,1841.5 L955.4,1841.5 L955.9,1841.5 L956.4,1841.5 L956.9,1841.5 L957.4,1841.5 L957.9,1841.5 L958.4,1841.5 L958.9,1841.5 L959.4,1841.5 L959.9,1841.5 L960.4,1841.5 L960.9,1841.5 L961.4,1841.5 L961.9,1841.5 L962.4,1841.5 L962.9,1841.5 L963.4,1841.5 L963.9,1841.5 L964.4,1841.5 L964.9,1841.5 L965.4,1841.5 L965.9,1841.5 L966.4,1841.5 L966.9,1841.5 L967.4,1841.5 L967.9,1841.5 L968.4,1841.5 L968.9,1841.5 L969.4,1841.5 L969.9,1841.5 L970.4,1841.5 L970.9,1841.5 L971.4,1841.5 L971.9,1841.5 L972.4,1841.5 L972.9,1841.5 L973.4,1841.5 L973.9,1841.5 L974.4,1841.5 L974.9,1841.5 L975.4,1841.5 L975.9,1841.5 L976.4,1841.5 L976.9,1841.5 L977.4,1841.5 L977.9,1841.5 L978.4,1841.5 L978.9,1841.5 L979.4,1841.5 L979.9,1841.5 L980.4,1841.5 L980.9,1841.5 L981.4,1841.5 L981.9,1841.5 L982.4,1841.5 L982.9,1841.5 L983.4,1841.5 L983.9,1841.5 L984.4,1841.5 L984.9,1841.5 L985.4,1841.5 L985.9,1841.5 L986.4,1841.5 L986.9,1841.5 L987.4,1841.5 L987.9,1841.5 L988.4,1841.5 L988.9,1841.5 L989.4,1841.5 L989.9,1841.5 L990.4,1841.5 L990.9,1841.5 L991.4,1841.5 L991.9,1841.5 L992.4,1841.5 L992.9,1841.5 L993.4,1841.5 L993.9,1841.5 L994.4,1841.5 L994.9,1841.5 L995.4,1841.5 L995.9,1841.5 L996.4,1841.5 L996.9,1841.5 L997.4,1841.5 L997.9,1841.5 L998.4,1841.5 L998.9,1841.5 L999.4,1841.5 L999.9,1841.5 L1000.4,1841.5 L1000.4,1841.5 Z" fill="#E2E2F2" />
<path d="M839.4,1841.5 L839.4,1841.5 L839.9,1841.5 L840.4,1841.5 L840.9,1841.5 L841.4,1841.5 L841.9,1841.5 L842.4,1841.5 L842.9,1841.5 L843.4,1841.5 L843.9,1841.5 L844.4,1841.5 L844.9,1841.5 L845.4,1841.5 L845.9,1841.5 L846.4,1841.5 L846.9,1841.5 L847.4,1841.5 L847.9,1841.5 L848.4,1841.5 L848.9,1841.5 L849.4,1841.5 L849.9,1841.5 L850.4,1841.5 L850.9,1841.5 L851.4,1841.5 L851.9,1841.5 L852.4,1841.5 L852.9,1841.5 L853.4,1841.5 L853.9,1841.5 L854.4,1841.5 L854.9,1841.5 L855.4,1841.5 L855.9,1841.5 L856.4,1841.5 L856.9,1841.5 L857.4,1841.5 L857.9,1841.5 L858.4,1841.5 L858.9,1841.5 L859.4,1841.5 L859.9,1841.5 L860.4,1841.5 L860.9,1841.5 L861.4,1841.5 L861.9,1841.5 L862.4,1841.5 L862.9,1841.5 L863.4,1841.5 L863.9,1841.5 L864.4,1841.5 L864.9,1841.5 L865.4,1841.5 L865.9,1841.5 L866.4,1841.5 L866.9,1841.5 L867.4,1841.49 L867.9,1841.49 L868.4,1841.48 L868.9,1841.47 L869.4,1841.44 L869.9,1841.41 L870.4,1841.34 L870.9,1841.24 L871.4,1841.09 L871.9,1840.85 L872.4,1840.49 L872.9,1839.95 L873.4,1839.18 L873.9,1838.1 L874.4,1836.59 L874.9,1834.53 L875.4,1831.81 L875.9,1828.25 L876.4,1823.72 L876.9,1818.08 L877.4,1811.2 L877.9,1803.02 L878.4,1793.5 L878.9,1782.71 L879.4,1770.8 L879.9,1758.02 L880.4,1744.72 L880.9,1731.32 L881.4,1718.33 L881.9,1706.31 L882.4,1695.8 L882.9,1687.32 L883.4,1681.29 L883.9,1678.04 L884.4,1677.74 L884.9,1680.41 L885.4,1685.9 L885.9,1693.93 L886.4,1704.07 L886.9,1715.84 L887.4,1728.67 L887.9,1742.03 L888.4,1755.39 L888.9,1768.31 L889.4,1780.41 L889.9,1791.44 L890.4,1801.22 L890.9,1809.67 L891.4,1816.81 L891.9,1822.69 L892.4,1827.43 L892.9,1831.17 L893.4,1834.05 L893.9,1836.22 L894.4,1837.83 L894.9,1838.99 L895.4,1839.82 L895.9,1840.39 L896.4,1840.79 L896.9,1841.05 L897.4,1841.22 L897.9,1841.33 L898.4,1841.4 L898.9,1841.44 L899.4,1841.46 L899.9,1841.48 L900.4,1841.49 L900.9,1841.49 L901.4,1841.5 L901.9,1841.5 L902.4,1841.5 L902.9,1841.5 L903.4,1841.5 L903.9,1841.5 L904.4,1841.5 L904.9,1841.5 L905.4,1841.5 L905.9,1841.5 L906.4,1841.5 L906.9,1841.5 L907.4,1841.5 L907.9,1841.5 L908.4,1841.5 L908.9,1841.5 L909.4,1841.5 L909.9,1841.5 L910.4,1841.5 L910.9,1841.5 L911.4,1841.5 L911.9,1841.5 L912.4,1841.5 L912.9,1841.5 L913.4,1841.5 L913.9,1841.5 L914.4,1841.5 L914.9,1841.5 L915.4,1841.5 L915.9,1841.5 L916.4,1841.5 L916.9,1841.5 L917.4,1841.5 L917.9,1841.5 L918.4,1841.5 L918.9,1841.5 L919.4,1841.5 L919.9,1841.5 L920.4,1841.5 L920.9,1841.5 L921.4,1841.5 L921.9,1841.5 L922.4,1841.5 L922.9,1841.5 L923.4,1841.5 L923.9,1841.5 L924.4,1841.5 L924.9,1841.5 L925.4,1841.5 L925.9,1841.5 L926.4,1841.5 L926.9,1841.5 L927.4,1841.5 L927.9,1841.5 L928.4,1841.5 L928.9,1841.5 L929.4,1841.5 L929.9,1841.5 L930.4,1841.5 L930.9,1841.5 L931.4,1841.5 L931.9,1841.5 L932.4,1841.5 L932.9,1841.5 L933.4,1841.5 L933.9,1841.5 L934.4,1841.5 L934.9,1841.5 L935.4,1841.5 L935.9,1841.5 L936.4,1841.5 L936.9,1841.5 L937.4,1841.5 L937.9,1841.5 L938.4,1841.5 L938.9,1841.5 L939.4,1841.5 L939.9,1841.5 L940.4,1841.5 L940.9,1841.5 L941.4,1841.5 L941.9,1841.5 L942.4,1841.5 L942.9,1841.5 L943.4,1841.5 L943.9,1841.5 L944.4,1841.5 L944.9,1841.5 L945.4,1841.5 L945.9,1841.5 L946.4,1841.5 L946.9,1841.5 L947.4,1841.5 L947.9,1841.5 L948.4,1841.5 L948.9,1841.5 L949.4,1841.5 L949.9,1841.5 L950.4,1841.5 L950.9,1841.5 L951.4,1841.5 L951.9,1841.5 L952.4,1841.5 L952.9,1841.5 L953.4,1841.5 L953.9,1841.5 L954.4,1841.5 L954.9,1841.5 L955.4,1841.5 L955.9,1841.5 L956.4,1841.5 L956.9,1841.5 L957.4,1841.5 L957.9,1841.5 L958.4,1841.5 L958.9,1841.5 L959.4,1841.5 L959.9,1841.5 L960.4,1841.5 L960.9,1841.5 L961.4,1841.5 L961.9,1841.5 L962.4,1841.5 L962.9,1841.5 L963.4,1841.5 L963.9,1841.5 L964.4,1841.5 L964.9,1841.5 L965.4,1841.5 L965.9,1841.5 L966.4,1841.5 L966.9,1841.5 L967.4,1841.5 L967.9,1841.5 L968.4,1841.5 L968.9,1841.5 L969.4,1841.5 L969.9,1841.5 L970.4,1841.5 L970.9,1841.5 L971.4,1841.5 L971.9,1841.5 L972.4,1841.5 L972.9,1841.5 L973.4,1841.5 L973.9,1841.5 L974.4,1841.5 L974.9,1841.5 L975.4,1841.5 L975.9,1841.5 L976.4,1841.5 L976.9,1841.5 L977.4,1841.5 L977.9,1841.5 L978.4,1841.5 L978.9,1841.5 L979.4,1841.5 L979.9,1841.5 L980.4,1841.5 L980.9,1841.5 L981.4,1841.5 L981.9,1841.5 L982.4,1841.5 L982.9,1841.5 L983.4,1841.5 L983.9,1841.5 L984.4,1841.5 L984.9,1841.5 L985.4,1841.5 L985.9,1841.5 L986.4,1841.5 L986.9,1841.5 L987.4,1841.5 L987.9,1841.5 L988.4,1841.5 L988.9,1841.5 L989.4,1841.5 L989.9,1841.5 L990.4,1841.5 L990.9,1841.5 L991.4,1841.5 L991.9,1841.5 L992.4,1841.5 L992.9,1841.5 L993.4,1841.5 L993.9,1841.5 L994.4,1841.5 L994.9,1841.5 L995.4,1841.5 L995.9,1841.5 L996.4,1841.5 L996.9,1841.5 L997.4,1841.5 L997.9,1841.5 L998.4,1841.5 L998.9,1841.5 L999.4,1841.5 L999.9,1841.5 L1000.4,1841.5 L1000.4,1841.5 Z" fill="#FF0000" />
<path d="M839.4,1841.5 L839.4,1841.5 L839.9,1841.5 L840.4,1841.5 L840.9,1841.5 L841.4,1841.5 L841.9,1841.5 L842.4,1841.5 L842.9,1841.5 L843.4,1841.5 L843.9,1841.5 L844.4,1841.5 L844.9,1841.5 L845.4,1841.5 L845.9,1841.5 L846.4,1841.5 L846.9,1841.5 L847.4,1841.5 L847.9,1841.5 L848.4,1841.5 L848.9,1841.5 L849.4,1841.5 L849.9,1841.5 L850.4,1841.5 L850.9,1841.5 L851.4,1841.5 L851.9,1841.5 L852.4,1841.5 L852.9,1841.5 L853.4,1841.5 L853.9,1841.5 L854.4,1841.5 L854.9,1841.5 L855.4,1841.5 L855.9,1841.5 L856.4,1841.5 L856.9,1841.5 L857.4,1841.5 L857.9,1841.5 L858.4,1841.5 L858.9,1841.5 L859.4,1841.5 L859.9,1841.5 L860.4,1841.5 L860.9,1841.5 L861.4,1841.5 L861.9,1841.5 L862.4,1841.5 L862.9,1841.5 L863.4,1841.5 L863.9,1841.5 L864.4,1841.5 L864.9,1841.5 L865.4,1841.5 L865.9,1841.5 L866.4,1841.5 L866.9,1841.5 L867.4,1841.5 L867.9,1841.5 L868.4,1841.5 L868.9,1841.5 L869.4,1841.5 L869.9,1841.5 L870.4,1841.5 L870.9,1841.5 L871.4,1841.5 L871.9,1841.5 L872.4,1841.5 L872.9,1841.5 L873.4,1841.5 L873.9,1841.5 L874.4,1841.5 L874.9,1841.5 L875.4,1841.5 L875.9,1841.5 L876.4,1841.5 L876.9,1841.5 L877.4,1841.5 L877.9,1841.5 L878.4,1841.5 L878.9,1841.5 L879.4,1841.46 L879.9,1841.32 L880.4,1841.07 L880.9,1840.72 L881.4,1840.27 L881.9,1839.74 L882.4,1839.14 L882.9,1838.49 L883.4,1837.79 L883.9,1837.07 L884.4,1836.33 L884.9,1835.61 L885.4,1834.91 L885.9,1834.26 L886.4,1833.66 L886.9,1833.13 L887.4,1832.68 L887.9,1832.33 L888.4,1832.08 L888.9,1831.94 L889.4,1831.9 L889.9,1831.9 L890.4,1831.9 L890.9,1831.9 L891.4,1831.9 L891.9,1831.9 L892.4,1831.9 L892.9,1831.9 L893.4,1834.05 L893.9,1836.22 L894.4,1837.83 L894.9,1838.99 L895.4,1839.82 L895.9,1840.39 L896.4,1840.79 L896.9,1841.05 L897.4,1841.22 L897.9,1841.33 L898.4,1841.4 L898.9,1841.44 L899.4,1841.46 L899.9,1841.48 L900.4,1841.49 L900.9,1841.49 L901.4,1841.5 L901.9,1841.5 L902.4,1841.5 L902.9,1841.5 L903.4,1841.5 L903.9,1841.5 L904.4,1841.5 L904.9,1841.5 L905.4,1841.5 L905.9,1841.5 L906.4,1841.5 L906.9,1841.5 L907.4,1841.5 L907.9,1841.5 L908.4,1841.5 L908.9,1841.5 L909.4,1841.5 L909.9,1841.5 L910.4,1841.5 L910.9,1841.5 L911.4,1841.5 L911.9,1841.5 L912.4,1841.5 L912.9,1841.5 L913.4,1841.5 L913.9,1841.5 L914.4,1841.5 L914.9,1841.5 L915.4,1841.5 L915.9,1841.5 L916.4,1841.5 L916.9,1841.5 L917.4,1841.5 L917.9,1841.5 L918.4,1841.5 L918.9,1841.5 L919.4,1841.5 L919.9,1841.5 L920.4,1841.5 L920.9,1841.5 L921.4,1841.5 L921.9,1841.5 L922.4,1841.5 L922.9,1841.5 L923.4,1841.5 L923.9,1841.5 L924.4,1841.5 L924.9,1841.5 L925.4,1841.5 L925.9,1841.5 L926.4,1841.5 L926.9,1841.5 L927.4,1841.5 L927.9,1841.5 L928.4,1841.5 L928.9,1841.5 L929.4,1841.5 L929.9,1841.5 L930.4,1841.5 L930.9,1841.5 L931.4,1841.5 L931.9,1841.5 L932.4,1841.5 L932.9,1841.5 L933.4,1841.5 L933.9,1841.5 L934.4,1841.5 L934.9,1841.5 L935.4,1841.5 L935.9,1841.5 L936.4,1841.5 L936.9,1841.5 L937.4,1841.5 L937.9,1841.5 L938.4,1841.5 L938.9,1841.5 L939.4,1841.5 L939.9,1841.5 L940.4,1841.5 L940.9,1841.5 L941.4,1841.5 L941.9,1841.5 L942.4,1841.5 L942.9,1841.5 L943.4,1841.5 L943.9,1841.5 L944.4,1841.5 L944.9,1841.5 L945.4,1841.5 L945.9,1841.5 L946.4,1841.5 L946.9,1841.5 L947.4,1841.5 L947.9,1841.5 L948.4,1841.5 L948.9,1841.5 L949.4,1841.5 L949.9,1841.5 L950.4,1841.5 L950.9,1841.5 L951.4,1841.5 L951.9,1841.5 L952.4,1841.5 L952.9,1841.5 L953.4,1841.5 L953.9,1841.5 L954.4,1841.5 L954.9,1841.5 L955.4,1841.5 L955.9,1841.5 L956.4,1841.5 L956.9,1841.5 L957.4,1841.5 L957.9,1841.5 L958.4,1841.5 L958.9,1841.5 L959.4,1841.5 L959.9,1841.5 L960.4,1841.5 L960.9,1841.5 L961.4,1841.5 L961.9,1841.5 L962.4,1841.5 L962.9,1841.5 L963.4,1841.5 L963.9,1841.5 L964.4,1841.5 L964.9,1841.5 L965.4,1841.5 L965.9,1841.5 L966.4,1841.5 L966.9,1841.5 L967.4,1841.5 L967.9,1841.5 L968.4,1841.5 L968.9,1841.5 L969.4,1841.5 L969.9,1841.5 L970.4,1841.5 L970.9,1841.5 L971.4,1841.5 L971.9,1841.5 L972.4,1841.5 L972.9,1841.5 L973.4,1841.5 L973.9,1841.5 L974.4,1841.5 L974.9,1841.5 L975.4,1841.5 L975.9,1841.5 L976.4,1841.5 L976.9,1841.5 L977.4,1841.5 L977.9,1841.5 L978.4,1841.5 L978.9,1841.5 L979.4,1841.5 L979.9,1841.5 L980.4,1841.5 L980.9,1841.5 L981.4,1841.5 L981.9,1841.5 L982.4,1841.5 L982.9,1841.5 L983.4,1841.5 L983.9,1841.5 L984.4,1841.5 L984.9,1841.5 L985.4,1841.5 L985.9,1841.5 L986.4,1841.5 L986.9,1841.5 L987.4,1841.5 L987.9,1841.5 L988.4,1841.5 L988.9,1841.5 L989.4,1841.5 L989.9,1841.5 L990.4,1841.5 L990.9,1841.5 L991.4,1841.5 L991.9,1841.5 L992.4,1841.5 L992.9,1841.5 L993.4,1841.5 L993.9,1841.5 L994.4,1841.5 L994.9,1841.5 L995.4,1841.5 L995.9,1841.5 L996.4,1841.5 L996.9,1841.5 L997.4,1841.5 L997.9,1841.5 L998.4,1841.5 L998.9,1841.5 L999.4,1841.5 L999.9,1841.5 L1000.4,1841.5 L1000.4,1841.5 Z" fill="#D6101E" />
<path d="M839.4,1841.5 L839.4,1841.5 L839.9,1841.5 L840.4,1841.5 L840.9,1841.5 L841.4,1841.5 L841.9,1841.5 L842.4,1841.5 L842.9,1841.5 L843.4,1841.5 L843.9,1841.5 L844.4,1841.5 L844.9,1841.5 L845.4,1841.5 L845.9,1841.5 L846.4,1841.5 L846.9,1841.5 L847.4,1841.5 L847.9,1841.5 L848.4,1841.5 L848.9,1841.5 L849.4,1841.5 L849.9,1841.5 L850.4,1841.5 L850.9,1841.5 L851.4,1841.5 L851.9,1841.5 L852.4,1841.5 L852.9,1841.5 L853.4,1841.5 L853.9,1841.5 L854.4,1841.5 L854.9,1841.5 L855.4,1841.5 L855.9,1841.5 L856.4,1841.5 L856.9,1841.5 L857.4,1841.5 L857.9,1841.5 L858.4,1841.5 L858.9,1841.5 L859.4,1841.5 L859.9,1841.5 L860.4,1841.5 L860.9,1841.5 L861.4,1841.5 L861.9,1841.5 L862.4,1841.5 L862.9,1841.5 L863.4,1841.5 L863.9,1841.5 L864.4,1841.5 L864.9,1841.5 L865.4,1841.5 L865.9,1841.5 L866.4,1841.5 L866.9,1841.5 L867.4,1841.5 L867.9,1841.5 L868.4,1841.5 L868.9,1841.5 L869.4,1841.5 L869.9,1841.5 L870.4,1841.5 L870.9,1841.5 L871.4,1841.5 L871.9,1841.5 L872.4,1841.5 L872.9,1841.5 L873.4,1841.5 L873.9,1841.5 L874.4,1841.5 L874.9,1841.5 L875.4,1841.5 L875.9,1841.5 L876.4,1841.5 L876.9,1841.5 L877.4,1841.5 L877.9,1841.5 L878.4,1841.5 L878.9,1841.5 L879.4,1841.5 L879.9,1841.5 L880.4,1841.5 L880.9,1841.5 L881.4,1841.5 L881.9,1841.5 L882.4,1841.5 L882.9,1841.5 L883.4,1841.5 L883.9,1841.5 L884.4,1841.5 L884.9,1841.5 L885.4,1841.5 L885.9,1841.5 L886.4,1841.5 L886.9,1841.5 L887.4,1841.5 L887.9,1841.5 L888.4,1841.5 L888.9,1841.5 L889.4,1841.5 L889.9,1841.5 L890.4,1841.5 L890.9,1841.5 L891.4,1841.5 L891.9,1841.5 L892.4,1841.5 L892.9,1841.5 L893.4,1841.5 L893.9,1841.5 L894.4,1841.5 L894.9,1841.5 L895.4,1841.5 L895.9,1841.5 L896.4,1841.5 L896.9,1841.5 L897.4,1841.5 L897.9,1841.5 L898.4,1841.5 L898.9,1841.5 L899.4,1841.5 L899.9,1841.5 L900.4,1841.5 L900.9,1841.5 L901.4,1841.5 L901.9,1841.5 L902.4,1841.5 L902.9,1841.5 L903.4,1841.5 L903.9,1841.5 L904.4,1841.5 L904.9,1841.5 L905.4,1841.5 L905.9,1841.5 L906.4,1841.5 L906.9,1841.5 L907.4,1841.5 L907.9,1841.5 L908.4,1841.5 L908.9,1841.5 L909.4,1841.5 L909.9,1841.5 L910.4,1841.5 L910.9,1841.5 L911.4,1841.5 L911.9,1841.5 L912.4,1841.5 L912.9,1841.5 L913.4,1841.5 L913.9,1841.5 L914.4,1841.5 L914.9,1841.5 L915.4,1841.5 L915.9,1841.5 L916.4,1841.5 L916.9,1841.5 L917.4,1841.5 L917.9,1841.5 L918.4,1841.5 L918.9,1841.49 L919.4,1841.49 L919.9,1841.49 L920.4,1841.48 L920.9,1841.47 L921.4,1841.47 L921.9,1841.45 L922.4,1841.44 L922.9,1841.42 L923.4,1841.39 L923.9,1841.36 L924.4,1841.32 L924.9,1841.27 L925.4,1841.2 L925.9,1841.12 L926.4,1841.03 L926.9,1840.91 L927.4,1840.77 L927.9,1840.61 L928.4,1840.42 L928.9,1840.2 L929.4,1839.95 L929.9,1839.66 L930.4,1839.34 L930.9,1838.98 L931.4,1838.59 L931.9,1838.16 L932.4,1837.69 L932.9,1837.2 L933.4,1836.68 L933.9,1836.14 L934.4,1835.59 L934.9,1835.03 L935.4,1834.48 L935.9,1833.94 L936.4,1833.42 L936.9,1832.93 L937.4,1832.49 L937.9,1832.1 L938.4,1831.78 L938.9,1831.52 L939.4,1831.33 L939.9,1831.23 L940.4,1831.2 L940.9,1831.26 L941.4,1831.4 L941.9,1831.61 L942.4,1831.9 L942.9,1832.25 L943.4,1832.66 L943.9,1833.12 L944.4,1833.62 L944.9,1834.15 L945.4,1834.7 L945.9,1835.25 L946.4,1835.81 L946.9,1836.36 L947.4,1836.89 L947.9,1837.4 L948.4,1837.88 L948.9,1838.33 L949.4,1838.75 L949.9,1839.13 L950.4,1839.47 L950.9,1839.78 L951.4,1840.06 L951.9,1840.29 L952.4,1840.5 L952.9,1840.68 L953.4,1840.83 L953.9,1840.96 L954.4,1841.07 L954.9,1841.16 L955.4,1841.23 L955.9,1841.29 L956.4,1841.33 L956.9,1841.37 L957.4,1841.4 L957.9,1841.43 L958.4,1841.44 L958.9,1841.46 L959.4,1841.47 L959.9,1841.48 L960.4,1841.48 L960.9,1841.49 L961.4,1841.49 L961.9,1841.49 L962.4,1841.5 L962.9,1841.5 L963.4,1841.5 L963.9,1841.5 L964.4,1841.5 L964.9,1841.5 L965.4,1841.5 L965.9,1841.5 L966.4,1841.5 L966.9,1841.5 L967.4,1841.5 L967.9,1841.5 L968.4,1841.5 L968.9,1841.5 L969.4,1841.5 L969.9,1841.5 L970.4,1841.5 L970.9,1841.5 L971.4,1841.5 L971.9,1841.5 L972.4,1841.5 L972.9,1841.5 L973.4,1841.5 L973.9,1841.5 L974.4,1841.5 L974.9,1841.5 L975.4,1841.5 L975.9,1841.5 L976.4,1841.5 L976.9,1841.5 L977.4,1841.5 L977.9,1841.5 L978.4,1841.5 L978.9,1841.5 L979.4,1841.5 L979.9,1841.5 L980.4,1841.5 L980.9,1841.5 L981.4,1841.5 L981.9,1841.5 L982.4,1841.5 L982.9,1841.5 L983.4,1841.5 L983.9,1841.5 L984.4,1841.5 L984.9,1841.5 L985.4,1841.5 L985.9,1841.5 L986.4,1841.5 L986.9,1841.5 L987.4,1841.5 L987.9,1841.5 L988.4,1841.5 L988.9,1841.5 L989.4,1841.5 L989.9,1841.5 L990.4,1841.5 L990.9,1841.5 L991.4,1841.5 L991.9,1841.5 L992.4,1841.5 L992.9,1841.5 L993.4,1841.5 L993.9,1841.5 L994.4,1841.5 L994.9,1841.5 L995.4,1841.5 L995.9,1841.5 L996.4,1841.5 L996.9,1841.5 L997.4,1841.5 L997.9,1841.5 L998.4,1841.5 L998.9,1841.5 L999.4,1841.5 L999.9,1841.5 L1000.4,1841.5 L1000.4,1841.5 Z" fill="#FF0000" />
<path d="M877.4,1841.5 L877.9,1841.5 L878.4,1841.5 L878.9,1841.5 L879.4,1841.46 L879.9,1841.32 L880.4,1841.07 L880.9,1840.72 L881.4,1840.27 L881.9,1839.74 L882.4,1839.14 L882.9,1838.49 L883.4,1837.79 L883.9,1837.07 L884.4,1836.33 L884.9,1835.61 L885.4,1834.91 L885.9,1834.26 L886.4,1833.66 L886.9,1833.13 L887.4,1832.68 L887.9,1832.33 L888.4,1832.08 L888.9,1831.94 L889.4,1831.9 L889.9,1831.9 L890.4,1831.9 L890.9,1831.9 L891.4,1831.9 L891.9,1831.9 L892.4,1831.9 L892.9,1831.9 L893.4,1831.9 L893.9,1831.9 L894.4,1831.9 L894.9,1831.9 L895.4,1831.9 L895.9,1831.9 L896.4,1831.9 L896.9,1831.9 L897.4,1831.9 L897.9,1831.9 L898.4,1831.9 L898.9,1831.9 L899.4,1831.9 L899.9,1831.9 L900.4,1831.9 L900.9,1831.9 L901.4,1831.9 L901.9,1831.9 L902.4,1831.9 L902.9,1831.9 L903.4,1831.9 L903.9,1831.9 L904.4,1831.9 L904.9,1831.9 L905.4,1831.9 L905.9,1831.9 L906.4,1831.9 L906.9,1831.9 L907.4,1831.9 L907.9,1831.9 L908.4,1831.9 L908.9,1831.9 L909.4,1831.9 L909.9,1831.9 L910.4,1831.9 L910.9,1831.9 L911.4,1831.9 L911.9,1831.9 L912.4,1831.9 L912.9,1831.9 L913.4,1831.9 L913.9,1831.9 L914.4,1831.9 L914.9,1831.9 L915.4,1831.9 L915.9,1831.9 L916.4,1831.9 L916.9,1831.9 L917.4,1831.9 L917.9,1831.9 L918.4,1831.9 L918.9,1831.9 L919.4,1831.9 L919.9,1831.9 L920.4,1831.9 L920.9,1831.9 L921.4,1831.9 L921.9,1831.9 L922.4,1831.9 L922.9,1831.9 L923.4,1831.9 L923.9,1831.9 L924.4,1831.9 L924.9,1831.9 L925.4,1831.9 L925.9,1831.9 L926.4,1831.9 L926.9,1831.9 L927.4,1831.9 L927.9,1831.9 L928.4,1831.9 L928.9,1831.9 L929.4,1831.9 L929.9,1831.9 L930.4,1831.9 L930.9,1831.9 L931.4,1831.9 L931.9,1831.93 L932.4,1832 L932.9,1832.12 L933.4,1832.27 L933.9,1832.47 L934.4,1832.7 L934.9,1832.97 L935.4,1833.27 L935.9,1833.61 L936.4,1833.97 L936.9,1834.35 L937.4,1834.76 L937.9,1835.18 L938.4,1835.62 L938.9,1836.07 L939.4,1836.52 L939.9,1836.97 L940.4,1837.42 L940.9,1837.87 L941.4,1838.3 L941.9,1838.72 L942.4,1839.13 L942.9,1839.51 L943.4,1839.86 L943.9,1840.19 L944.4,1840.48 L944.9,1840.75 L945.4,1840.97 L945.9,1841.16 L946.4,1841.31 L946.9,1841.41 L947.4,1841.48 L947.9,1841.5 L948.4,1841.5 L948.9,1841.5 L949.4,1841.5 L949.9,1841.5 L950.4,1841.5 L950.9,1841.5 L951.4,1841.5 L951.9,1841.5 L952.4,1841.5 L952.9,1841.5 L953.4,1841.5 L953.9,1841.5 L954.4,1841.5 L954.9,1841.5 L955.4,1841.5 L955.9,1841.5" fill="none" stroke="#3A3AA8" stroke-width="1.3" />
<path d="M840.4,1840.39 L840.9,1841.5 L841.4,1841.36 L841.9,1840.09 L842.4,1839.17 L842.9,1840.44 L843.4,1840.82 L843.9,1840.87 L844.4,1841.5 L844.9,1840.59 L845.4,1840.1 L845.9,1839.92 L846.4,1839.47 L846.9,1840.1 L847.4,1840.12 L847.9,1839.72 L848.4,1839.54 L848.9,1840.24 L849.4,1841.17 L849.9,1840.5 L850.4,1840.24 L850.9,1841.05 L851.4,1840.09 L851.9,1839.84 L852.4,1839.82 L852.9,1840.03 L853.4,1839.85 L853.9,1839.18 L854.4,1839.92 L854.9,1839.18 L855.4,1839.54 L855.9,1839.64 L856.4,1838.98 L856.9,1839.44 L857.4,1839.57 L857.9,1840.3 L858.4,1840.37 L858.9,1840.32 L859.4,1840.73 L859.9,1841.07 L860.4,1840.23 L860.9,1839.63 L861.4,1840.55 L861.9,1840.95 L862.4,1840.24 L862.9,1839.58 L863.4,1840.6 L863.9,1840.8 L864.4,1839.91 L864.9,1838.86 L865.4,1838.87 L865.9,1840.27 L866.4,1839.51 L866.9,1839.92 L867.4,1840.33 L867.9,1840.12 L868.4,1840.88 L868.9,1841.2 L869.4,1841.5 L869.9,1841.01 L870.4,1840.53 L870.9,1840.63 L871.4,1840.29 L871.9,1840 L872.4,1839.92 L872.9,1839.7 L873.4,1838.85 L873.9,1839.22 L874.4,1838.07 L874.9,1835.25 L875.4,1830.64 L875.9,1826.4 L876.4,1820.8 L876.9,1813.96 L877.4,1806.41 L877.9,1796.53 L878.4,1785.7 L878.9,1774.41 L879.4,1762.23 L879.9,1749.78 L880.4,1738.97 L880.9,1728.86 L881.4,1718.08 L881.9,1708.6 L882.4,1700.18 L882.9,1692.33 L883.4,1688.12 L883.9,1686.27 L884.4,1688.38 L884.9,1691.96 L885.4,1695.3 L885.9,1701.02 L886.4,1708.86 L886.9,1718.17 L887.4,1729.8 L887.9,1740.44 L888.4,1751.73 L888.9,1762.43 L889.4,1774.01 L889.9,1782.88 L890.4,1791.38 L890.9,1800.89 L891.4,1807.78 L891.9,1813.4 L892.4,1817.56 L892.9,1820.32 L893.4,1825 L893.9,1826.08 L894.4,1827.35 L894.9,1829.22 L895.4,1830.54 L895.9,1830.5 L896.4,1831.17 L896.9,1831.74 L897.4,1832.05 L897.9,1830.45 L898.4,1832.43 L898.9,1830.79 L899.4,1832.38 L899.9,1831.31 L900.4,1831.88 L900.9,1831.81 L901.4,1832.31 L901.9,1832.39 L902.4,1831.17 L902.9,1832.04 L903.4,1833.66 L903.9,1833.27 L904.4,1834.61 L904.9,1834.1 L905.4,1833.32 L905.9,1833.22 L906.4,1833.09 L906.9,1831.21 L907.4,1829.76 L907.9,1829.36 L908.4,1829.16 L908.9,1829.94 L909.4,1831.29 L909.9,1832.05 L910.4,1832.8 L910.9,1833.03 L911.4,1832.97 L911.9,1832.07 L912.4,1830.95 L912.9,1830.99 L913.4,1830.82 L913.9,1831.75 L914.4,1831.33 L914.9,1832.15 L915.4,1832.09 L915.9,1830.66 L916.4,1830.86 L916.9,1831.42 L917.4,1831.15 L917.9,1831.93 L918.4,1831.82 L918.9,1832.47 L919.4,1831.55 L919.9,1831.73 L920.4,1831.72 L920.9,1831.54 L921.4,1831.44 L921.9,1831.35 L922.4,1831.47 L922.9,1831.74 L923.4,1831.33 L923.9,1831.1 L924.4,1830.5 L924.9,1829.92 L925.4,1829.41 L925.9,1830.15 L926.4,1830.85 L926.9,1830.61 L927.4,1830.62 L927.9,1829.73 L928.4,1830 L928.9,1829.28 L929.4,1830.18 L929.9,1829.2 L930.4,1829.2 L930.9,1829.38 L931.4,1829.55 L931.9,1829.19 L932.4,1828.28 L932.9,1825.75 L933.4,1824.4 L933.9,1823.63 L934.4,1823.61 L934.9,1822.77 L935.4,1823.28 L935.9,1823.95 L936.4,1823.72 L936.9,1822.77 L937.4,1820.3 L937.9,1822.48 L938.4,1823.35 L938.9,1824.19 L939.4,1825.08 L939.9,1826.13 L940.4,1826.59 L940.9,1827.75 L941.4,1827.91 L941.9,1829.72 L942.4,1830.47 L942.9,1831.46 L943.4,1832.04 L943.9,1831.99 L944.4,1833.33 L944.9,1833.85 L945.4,1834.89 L945.9,1835.25 L946.4,1835.5 L946.9,1836.41 L947.4,1836.29 L947.9,1837.68 L948.4,1836.83 L948.9,1838.47 L949.4,1838.57 L949.9,1838.55 L950.4,1838.14 L950.9,1839.01 L951.4,1839.15 L951.9,1839.49 L952.4,1839.57 L952.9,1839.81 L953.4,1840.15 L953.9,1840.47 L954.4,1840.09 L954.9,1840.38 L955.4,1840.94 L955.9,1841.5 L956.4,1841.5 L956.9,1841.5" fill="none" stroke="#000" stroke-width="1.1" />
<path d="M840.4,1840.5 L840.9,1840.5 L841.4,1840.5 L841.9,1840.5 L842.4,1840.5 L842.9,1840.5 L843.4,1840.5 L843.9,1840.5 L844.4,1840.5 L844.9,1840.5 L845.4,1840.5 L845.9,1840.5 L846.4,1840.5 L846.9,1840.5 L847.4,1840.5 L847.9,1840.5 L848.4,1840.5 L848.9,1840.5 L849.4,1840.5 L849.9,1840.5 L850.4,1840.5 L850.9,1840.5 L851.4,1840.5 L851.9,1840.5 L852.4,1840.5 L852.9,1840.5 L853.4,1840.5 L853.9,1840.5 L854.4,1840.5 L854.9,1840.5 L855.4,1840.5 L855.9,1840.5 L856.4,1840.5 L856.9,1840.5 L857.4,1840.5 L857.9,1840.5 L858.4,1840.5 L858.9,1840.5 L859.4,1840.5 L859.9,1840.5 L860.4,1840.5 L860.9,1840.5 L861.4,1840.5 L861.9,1840.5 L862.4,1840.5 L862.9,1840.5 L863.4,1840.5 L863.9,1840.5 L864.4,1840.5 L864.9,1840.5 L865.4,1840.5 L865.9,1840.5 L866.4,1840.5 L866.9,1840.5 L867.4,1840.49 L867.9,1840.49 L868.4,1840.48 L868.9,1840.47 L869.4,1840.44 L869.9,1840.41 L870.4,1840.34 L870.9,1840.24 L871.4,1840.09 L871.9,1839.85 L872.4,1839.49 L872.9,1838.95 L873.4,1838.18 L873.9,1837.1 L874.4,1835.59 L874.9,1833.53 L875.4,1830.81 L875.9,1827.25 L876.4,1822.72 L876.9,1817.08 L877.4,1810.2 L877.9,1802.02 L878.4,1792.5 L878.9,1781.71 L879.4,1769.77 L879.9,1756.84 L880.4,1743.29 L880.9,1729.53 L881.4,1716.11 L881.9,1703.55 L882.4,1692.44 L882.9,1683.3 L883.4,1676.58 L883.9,1672.6 L884.4,1672.57 L884.9,1674.52 L885.4,1679.32 L885.9,1686.69 L886.4,1696.23 L886.9,1707.47 L887.4,1719.86 L887.9,1732.86 L888.4,1745.97 L888.9,1758.74 L889.4,1770.81 L889.9,1781.84 L890.4,1791.62 L890.9,1800.07 L891.4,1807.21 L891.9,1813.09 L892.4,1817.83 L892.9,1821.57 L893.4,1824.45 L893.9,1826.62 L894.4,1828.23 L894.9,1829.39 L895.4,1830.22 L895.9,1830.79 L896.4,1831.19 L896.9,1831.45 L897.4,1831.62 L897.9,1831.73 L898.4,1831.8 L898.9,1831.84 L899.4,1831.86 L899.9,1831.88 L900.4,1831.89 L900.9,1831.89 L901.4,1831.9 L901.9,1831.9 L902.4,1831.9 L902.9,1831.9 L903.4,1831.9 L903.9,1831.9 L904.4,1831.9 L904.9,1831.9 L905.4,1831.9 L905.9,1831.9 L906.4,1831.9 L906.9,1831.9 L907.4,1831.9 L907.9,1831.9 L908.4,1831.9 L908.9,1831.9 L909.4,1831.9 L909.9,1831.9 L910.4,1831.9 L910.9,1831.9 L911.4,1831.9 L911.9,1831.9 L912.4,1831.9 L912.9,1831.9 L913.4,1831.9 L913.9,1831.9 L914.4,1831.9 L914.9,1831.9 L915.4,1831.9 L915.9,1831.9 L916.4,1831.9 L916.9,1831.9 L917.4,1831.9 L917.9,1831.9 L918.4,1831.9 L918.9,1831.89 L919.4,1831.89 L919.9,1831.89 L920.4,1831.88 L920.9,1831.87 L921.4,1831.87 L921.9,1831.85 L922.4,1831.84 L922.9,1831.82 L923.4,1831.79 L923.9,1831.76 L924.4,1831.72 L924.9,1831.67 L925.4,1831.6 L925.9,1831.52 L926.4,1831.43 L926.9,1831.31 L927.4,1831.17 L927.9,1831.01 L928.4,1830.82 L928.9,1830.6 L929.4,1830.35 L929.9,1830.06 L930.4,1829.74 L930.9,1829.38 L931.4,1828.99 L931.9,1828.59 L932.4,1828.2 L932.9,1827.82 L933.4,1827.45 L933.9,1827.11 L934.4,1826.79 L934.9,1826.5 L935.4,1826.25 L935.9,1826.04 L936.4,1825.89 L936.9,1825.79 L937.4,1825.75 L937.9,1825.79 L938.4,1825.9 L938.9,1826.08 L939.4,1826.35 L939.9,1826.7 L940.4,1827.13 L940.9,1827.63 L941.4,1828.2 L941.9,1828.84 L942.4,1829.53 L942.9,1830.26 L943.4,1831.03 L943.9,1831.81 L944.4,1832.61 L944.9,1833.4 L945.4,1834.17 L945.9,1834.91 L946.4,1835.62 L946.9,1836.27 L947.4,1836.87 L947.9,1837.4 L948.4,1837.88 L948.9,1838.33 L949.4,1838.75 L949.9,1839.13 L950.4,1839.47 L950.9,1839.78 L951.4,1840.06 L951.9,1840.29 L952.4,1840.5 L952.9,1840.68 L953.4,1840.83 L953.9,1840.96 L954.4,1841.07 L954.9,1841.16 L955.4,1841.23 L955.9,1841.29 L956.4,1841.33 L956.9,1841.37" fill="none" stroke="#00F000" stroke-width="1.4" />
<line x1="838.9" y1="1671.9" x2="838.9" y2="1842.3" stroke="#0C2060" stroke-width="1.8" />
<line x1="838.1" y1="1841.5" x2="1001.5" y2="1841.5" stroke="#0C2060" stroke-width="1.8" />
<line x1="833.2" y1="1841.5" x2="838.4" y2="1841.5" stroke="#000" stroke-width="1.1" />
<line x1="835.3" y1="1830.9" x2="838.4" y2="1830.9" stroke="#000" stroke-width="1.1" />
<line x1="835.3" y1="1820.3" x2="838.4" y2="1820.3" stroke="#000" stroke-width="1.1" />
<line x1="835.3" y1="1809.7" x2="838.4" y2="1809.7" stroke="#000" stroke-width="1.1" />
<line x1="833.2" y1="1799.1" x2="838.4" y2="1799.1" stroke="#000" stroke-width="1.1" />
<line x1="835.3" y1="1788.5" x2="838.4" y2="1788.5" stroke="#000" stroke-width="1.1" />
<line x1="835.3" y1="1777.9" x2="838.4" y2="1777.9" stroke="#000" stroke-width="1.1" />
<line x1="835.3" y1="1767.3" x2="838.4" y2="1767.3" stroke="#000" stroke-width="1.1" />
<line x1="833.2" y1="1756.7" x2="838.4" y2="1756.7" stroke="#000" stroke-width="1.1" />
<line x1="835.3" y1="1746.1" x2="838.4" y2="1746.1" stroke="#000" stroke-width="1.1" />
<line x1="835.3" y1="1735.5" x2="838.4" y2="1735.5" stroke="#000" stroke-width="1.1" />
<line x1="835.3" y1="1724.9" x2="838.4" y2="1724.9" stroke="#000" stroke-width="1.1" />
<line x1="833.2" y1="1714.3" x2="838.4" y2="1714.3" stroke="#000" stroke-width="1.1" />
<line x1="835.3" y1="1703.7" x2="838.4" y2="1703.7" stroke="#000" stroke-width="1.1" />
<line x1="835.3" y1="1693.1" x2="838.4" y2="1693.1" stroke="#000" stroke-width="1.1" />
<line x1="835.3" y1="1682.5" x2="838.4" y2="1682.5" stroke="#000" stroke-width="1.1" />
<line x1="833.2" y1="1671.9" x2="838.4" y2="1671.9" stroke="#000" stroke-width="1.1" />
<line x1="838.9" y1="1842" x2="838.9" y2="1847.3" stroke="#000" stroke-width="1.1" />
<line x1="849.05" y1="1842" x2="849.05" y2="1844.5" stroke="#000" stroke-width="1.1" />
<line x1="859.2" y1="1842" x2="859.2" y2="1844.5" stroke="#000" stroke-width="1.1" />
<line x1="869.35" y1="1842" x2="869.35" y2="1844.5" stroke="#000" stroke-width="1.1" />
<line x1="879.5" y1="1842" x2="879.5" y2="1847.3" stroke="#000" stroke-width="1.1" />
<line x1="889.65" y1="1842" x2="889.65" y2="1844.5" stroke="#000" stroke-width="1.1" />
<line x1="899.8" y1="1842" x2="899.8" y2="1844.5" stroke="#000" stroke-width="1.1" />
<line x1="909.95" y1="1842" x2="909.95" y2="1844.5" stroke="#000" stroke-width="1.1" />
<line x1="920.1" y1="1842" x2="920.1" y2="1847.3" stroke="#000" stroke-width="1.1" />
<line x1="930.25" y1="1842" x2="930.25" y2="1844.5" stroke="#000" stroke-width="1.1" />
<line x1="940.4" y1="1842" x2="940.4" y2="1844.5" stroke="#000" stroke-width="1.1" />
<line x1="950.55" y1="1842" x2="950.55" y2="1844.5" stroke="#000" stroke-width="1.1" />
<line x1="960.7" y1="1842" x2="960.7" y2="1847.3" stroke="#000" stroke-width="1.1" />
<line x1="970.85" y1="1842" x2="970.85" y2="1844.5" stroke="#000" stroke-width="1.1" />
<line x1="981" y1="1842" x2="981" y2="1844.5" stroke="#000" stroke-width="1.1" />
<line x1="991.15" y1="1842" x2="991.15" y2="1844.5" stroke="#000" stroke-width="1.1" />
<line x1="1001.3" y1="1842" x2="1001.3" y2="1847.3" stroke="#000" stroke-width="1.1" />
<text x="832.7" y="1676.3" font-size="13.2" text-anchor="end" font-family="'Liberation Serif', 'Times New Roman', serif" fill="#2a2a2a">664</text>
<text x="832.7" y="1718.7" font-size="13.2" text-anchor="end" font-family="'Liberation Serif', 'Times New Roman', serif" fill="#2a2a2a">498</text>
<text x="832.7" y="1761.1" font-size="13.2" text-anchor="end" font-family="'Liberation Serif', 'Times New Roman', serif" fill="#2a2a2a">332</text>
<text x="832.7" y="1803.5" font-size="13.2" text-anchor="end" font-family="'Liberation Serif', 'Times New Roman', serif" fill="#2a2a2a">166</text>
<text x="832.7" y="1845.9" font-size="13.2" text-anchor="end" font-family="'Liberation Serif', 'Times New Roman', serif" fill="#2a2a2a">0</text>
<text x="838.9" y="1858.8" font-size="13.2" text-anchor="middle" font-family="'Liberation Serif', 'Times New Roman', serif" fill="#2a2a2a">40.0</text>
<text x="879.5" y="1858.8" font-size="13.2" text-anchor="middle" font-family="'Liberation Serif', 'Times New Roman', serif" fill="#2a2a2a">180.0</text>
<text x="920.1" y="1858.8" font-size="13.2" text-anchor="middle" font-family="'Liberation Serif', 'Times New Roman', serif" fill="#2a2a2a">320.0</text>
<text x="960.7" y="1858.8" font-size="13.2" text-anchor="middle" font-family="'Liberation Serif', 'Times New Roman', serif" fill="#2a2a2a">460.0</text>
<text x="1001.3" y="1858.8" font-size="13.2" text-anchor="middle" font-family="'Liberation Serif', 'Times New Roman', serif" fill="#2a2a2a">600.</text>
</g>
<g>
<path d="M1047.9,1841.7 L1047.9,1841.7 L1048.4,1841.7 L1048.9,1841.7 L1049.4,1841.7 L1049.9,1841.7 L1050.4,1841.7 L1050.9,1841.7 L1051.4,1841.7 L1051.9,1841.7 L1052.4,1841.7 L1052.9,1841.7 L1053.4,1841.7 L1053.9,1841.7 L1054.4,1841.7 L1054.9,1841.7 L1055.4,1841.7 L1055.9,1841.7 L1056.4,1841.7 L1056.9,1841.7 L1057.4,1841.7 L1057.9,1841.7 L1058.4,1841.7 L1058.9,1841.7 L1059.4,1841.7 L1059.9,1841.7 L1060.4,1841.7 L1060.9,1841.7 L1061.4,1841.7 L1061.9,1841.7 L1062.4,1841.7 L1062.9,1841.7 L1063.4,1841.7 L1063.9,1841.7 L1064.4,1841.7 L1064.9,1841.7 L1065.4,1841.7 L1065.9,1841.7 L1066.4,1841.7 L1066.9,1841.7 L1067.4,1841.7 L1067.9,1841.7 L1068.4,1841.7 L1068.9,1841.7 L1069.4,1841.7 L1069.9,1841.7 L1070.4,1841.7 L1070.9,1841.7 L1071.4,1841.7 L1071.9,1841.7 L1072.4,1841.7 L1072.9,1841.7 L1073.4,1841.7 L1073.9,1841.7 L1074.4,1841.7 L1074.9,1841.7 L1075.4,1841.7 L1075.9,1841.7 L1076.4,1841.7 L1076.9,1841.7 L1077.4,1841.7 L1077.9,1841.7 L1078.4,1841.7 L1078.9,1841.7 L1079.4,1841.7 L1079.9,1841.7 L1080.4,1841.7 L1080.9,1841.7 L1081.4,1841.7 L1081.9,1841.7 L1082.4,1841.7 L1082.9,1841.7 L1083.4,1841.7 L1083.9,1841.7 L1084.4,1841.7 L1084.9,1841.7 L1085.4,1841.7 L1085.9,1841.7 L1086.4,1841.7 L1086.9,1841.7 L1087.4,1841.7 L1087.9,1841.63 L1088.4,1841.44 L1088.9,1841.12 L1089.4,1840.68 L1089.9,1840.13 L1090.4,1839.5 L1090.9,1838.79 L1091.4,1838.02 L1091.9,1837.22 L1092.4,1836.4 L1092.9,1835.59 L1093.4,1834.81 L1093.9,1834.08 L1094.4,1833.41 L1094.9,1832.83 L1095.4,1832.35 L1095.9,1831.98 L1096.4,1831.73 L1096.9,1831.61 L1097.4,1831.6 L1097.9,1831.6 L1098.4,1831.6 L1098.9,1831.6 L1099.4,1831.6 L1099.9,1831.6 L1100.4,1831.6 L1100.9,1831.6 L1101.4,1831.6 L1101.9,1831.6 L1102.4,1831.6 L1102.9,1831.6 L1103.4,1831.6 L1103.9,1831.6 L1104.4,1831.6 L1104.9,1831.6 L1105.4,1831.6 L1105.9,1831.6 L1106.4,1831.6 L1106.9,1831.6 L1107.4,1831.6 L1107.9,1831.6 L1108.4,1831.6 L1108.9,1831.6 L1109.4,1831.6 L1109.9,1831.6 L1110.4,1831.6 L1110.9,1831.6 L1111.4,1831.6 L1111.9,1831.6 L1112.4,1831.6 L1112.9,1831.6 L1113.4,1831.6 L1113.9,1831.6 L1114.4,1831.6 L1114.9,1831.6 L1115.4,1831.6 L1115.9,1831.6 L1116.4,1831.6 L1116.9,1831.6 L1117.4,1831.6 L1117.9,1831.6 L1118.4,1831.6 L1118.9,1831.6 L1119.4,1831.6 L1119.9,1831.6 L1120.4,1831.6 L1120.9,1831.6 L1121.4,1831.6 L1121.9,1831.6 L1122.4,1831.6 L1122.9,1831.6 L1123.4,1831.6 L1123.9,1831.6 L1124.4,1831.6 L1124.9,1831.6 L1125.4,1831.6 L1125.9,1831.6 L1126.4,1831.6 L1126.9,1831.6 L1127.4,1831.6 L1127.9,1831.6 L1128.4,1831.6 L1128.9,1831.6 L1129.4,1831.6 L1129.9,1831.6 L1130.4,1831.6 L1130.9,1831.6 L1131.4,1831.6 L1131.9,1831.6 L1132.4,1831.6 L1132.9,1831.6 L1133.4,1831.6 L1133.9,1831.61 L1134.4,1831.66 L1134.9,1831.75 L1135.4,1831.88 L1135.9,1832.05 L1136.4,1832.26 L1136.9,1832.51 L1137.4,1832.79 L1137.9,1833.11 L1138.4,1833.46 L1138.9,1833.83 L1139.4,1834.23 L1139.9,1834.65 L1140.4,1835.09 L1140.9,1835.54 L1141.4,1836 L1141.9,1836.46 L1142.4,1836.93 L1142.9,1837.39 L1143.4,1837.85 L1143.9,1838.3 L1144.4,1838.73 L1144.9,1839.15 L1145.4,1839.54 L1145.9,1839.91 L1146.4,1840.25 L1146.9,1840.56 L1147.4,1840.84 L1147.9,1841.08 L1148.4,1841.29 L1148.9,1841.45 L1149.4,1841.58 L1149.9,1841.66 L1150.4,1841.7 L1150.9,1841.7 L1151.4,1841.7 L1151.9,1841.7 L1152.4,1841.7 L1152.9,1841.7 L1153.4,1841.7 L1153.9,1841.7 L1154.4,1841.7 L1154.9,1841.7 L1155.4,1841.7 L1155.9,1841.7 L1156.4,1841.7 L1156.9,1841.7 L1157.4,1841.7 L1157.9,1841.7 L1158.4,1841.7 L1158.9,1841.7 L1159.4,1841.7 L1159.9,1841.7 L1160.4,1841.7 L1160.9,1841.7 L1161.4,1841.7 L1161.9,1841.7 L1162.4,1841.7 L1162.9,1841.7 L1163.4,1841.7 L1163.9,1841.7 L1164.4,1841.7 L1164.9,1841.7 L1165.4,1841.7 L1165.9,1841.7 L1166.4,1841.7 L1166.9,1841.7 L1167.4,1841.7 L1167.9,1841.7 L1168.4,1841.7 L1168.9,1841.7 L1169.4,1841.7 L1169.9,1841.7 L1170.4,1841.7 L1170.9,1841.7 L1171.4,1841.7 L1171.9,1841.7 L1172.4,1841.7 L1172.9,1841.7 L1173.4,1841.7 L1173.9,1841.7 L1174.4,1841.7 L1174.9,1841.7 L1175.4,1841.7 L1175.9,1841.7 L1176.4,1841.7 L1176.9,1841.7 L1177.4,1841.7 L1177.9,1841.7 L1178.4,1841.7 L1178.9,1841.7 L1179.4,1841.7 L1179.9,1841.7 L1180.4,1841.7 L1180.9,1841.7 L1181.4,1841.7 L1181.9,1841.7 L1182.4,1841.7 L1182.9,1841.7 L1183.4,1841.7 L1183.9,1841.7 L1184.4,1841.7 L1184.9,1841.7 L1185.4,1841.7 L1185.9,1841.7 L1186.4,1841.7 L1186.4,1841.7 Z" fill="#E2E2F2" />
<path d="M1047.9,1841.7 L1047.9,1841.7 L1048.4,1841.7 L1048.9,1841.7 L1049.4,1841.7 L1049.9,1841.7 L1050.4,1841.7 L1050.9,1841.7 L1051.4,1841.7 L1051.9,1841.7 L1052.4,1841.7 L1052.9,1841.7 L1053.4,1841.7 L1053.9,1841.7 L1054.4,1841.7 L1054.9,1841.7 L1055.4,1841.7 L1055.9,1841.7 L1056.4,1841.7 L1056.9,1841.7 L1057.4,1841.7 L1057.9,1841.7 L1058.4,1841.7 L1058.9,1841.7 L1059.4,1841.7 L1059.9,1841.7 L1060.4,1841.7 L1060.9,1841.7 L1061.4,1841.7 L1061.9,1841.7 L1062.4,1841.7 L1062.9,1841.7 L1063.4,1841.7 L1063.9,1841.7 L1064.4,1841.7 L1064.9,1841.7 L1065.4,1841.7 L1065.9,1841.7 L1066.4,1841.7 L1066.9,1841.7 L1067.4,1841.7 L1067.9,1841.7 L1068.4,1841.7 L1068.9,1841.7 L1069.4,1841.7 L1069.9,1841.7 L1070.4,1841.7 L1070.9,1841.7 L1071.4,1841.7 L1071.9,1841.7 L1072.4,1841.7 L1072.9,1841.7 L1073.4,1841.7 L1073.9,1841.7 L1074.4,1841.7 L1074.9,1841.7 L1075.4,1841.69 L1075.9,1841.69 L1076.4,1841.68 L1076.9,1841.66 L1077.4,1841.63 L1077.9,1841.57 L1078.4,1841.48 L1078.9,1841.33 L1079.4,1841.11 L1079.9,1840.75 L1080.4,1840.22 L1080.9,1839.43 L1081.4,1838.29 L1081.9,1836.68 L1082.4,1834.47 L1082.9,1831.49 L1083.4,1827.58 L1083.9,1822.56 L1084.4,1816.28 L1084.9,1808.63 L1085.4,1799.54 L1085.9,1789.03 L1086.4,1777.24 L1086.9,1764.4 L1087.4,1750.88 L1087.9,1737.15 L1088.4,1723.77 L1088.9,1711.37 L1089.4,1700.57 L1089.9,1691.96 L1090.4,1686.04 L1090.9,1683.16 L1091.4,1683.48 L1091.9,1686.99 L1092.4,1693.48 L1092.9,1702.57 L1093.4,1713.74 L1093.9,1726.39 L1094.4,1739.89 L1094.9,1753.62 L1095.4,1767.04 L1095.9,1779.69 L1096.4,1791.24 L1096.9,1801.47 L1097.4,1810.27 L1097.9,1817.65 L1098.4,1823.66 L1098.9,1828.44 L1099.4,1832.16 L1099.9,1834.97 L1100.4,1837.05 L1100.9,1838.55 L1101.4,1839.61 L1101.9,1840.34 L1102.4,1840.83 L1102.9,1841.16 L1103.4,1841.37 L1103.9,1841.5 L1104.4,1841.58 L1104.9,1841.63 L1105.4,1841.66 L1105.9,1841.68 L1106.4,1841.69 L1106.9,1841.69 L1107.4,1841.7 L1107.9,1841.7 L1108.4,1841.7 L1108.9,1841.7 L1109.4,1841.7 L1109.9,1841.7 L1110.4,1841.7 L1110.9,1841.7 L1111.4,1841.7 L1111.9,1841.7 L1112.4,1841.7 L1112.9,1841.7 L1113.4,1841.7 L1113.9,1841.7 L1114.4,1841.7 L1114.9,1841.7 L1115.4,1841.7 L1115.9,1841.7 L1116.4,1841.7 L1116.9,1841.7 L1117.4,1841.7 L1117.9,1841.7 L1118.4,1841.7 L1118.9,1841.7 L1119.4,1841.7 L1119.9,1841.7 L1120.4,1841.7 L1120.9,1841.7 L1121.4,1841.7 L1121.9,1841.7 L1122.4,1841.7 L1122.9,1841.7 L1123.4,1841.7 L1123.9,1841.7 L1124.4,1841.7 L1124.9,1841.7 L1125.4,1841.7 L1125.9,1841.7 L1126.4,1841.7 L1126.9,1841.7 L1127.4,1841.7 L1127.9,1841.7 L1128.4,1841.7 L1128.9,1841.7 L1129.4,1841.7 L1129.9,1841.7 L1130.4,1841.7 L1130.9,1841.7 L1131.4,1841.7 L1131.9,1841.7 L1132.4,1841.7 L1132.9,1841.7 L1133.4,1841.7 L1133.9,1841.7 L1134.4,1841.7 L1134.9,1841.7 L1135.4,1841.7 L1135.9,1841.7 L1136.4,1841.7 L1136.9,1841.7 L1137.4,1841.7 L1137.9,1841.7 L1138.4,1841.7 L1138.9,1841.7 L1139.4,1841.7 L1139.9,1841.7 L1140.4,1841.7 L1140.9,1841.7 L1141.4,1841.7 L1141.9,1841.7 L1142.4,1841.7 L1142.9,1841.7 L1143.4,1841.7 L1143.9,1841.7 L1144.4,1841.7 L1144.9,1841.7 L1145.4,1841.7 L1145.9,1841.7 L1146.4,1841.7 L1146.9,1841.7 L1147.4,1841.7 L1147.9,1841.7 L1148.4,1841.7 L1148.9,1841.7 L1149.4,1841.7 L1149.9,1841.7 L1150.4,1841.7 L1150.9,1841.7 L1151.4,1841.7 L1151.9,1841.7 L1152.4,1841.7 L1152.9,1841.7 L1153.4,1841.7 L1153.9,1841.7 L1154.4,1841.7 L1154.9,1841.7 L1155.4,1841.7 L1155.9,1841.7 L1156.4,1841.7 L1156.9,1841.7 L1157.4,1841.7 L1157.9,1841.7 L1158.4,1841.7 L1158.9,1841.7 L1159.4,1841.7 L1159.9,1841.7 L1160.4,1841.7 L1160.9,1841.7 L1161.4,1841.7 L1161.9,1841.7 L1162.4,1841.7 L1162.9,1841.7 L1163.4,1841.7 L1163.9,1841.7 L1164.4,1841.7 L1164.9,1841.7 L1165.4,1841.7 L1165.9,1841.7 L1166.4,1841.7 L1166.9,1841.7 L1167.4,1841.7 L1167.9,1841.7 L1168.4,1841.7 L1168.9,1841.7 L1169.4,1841.7 L1169.9,1841.7 L1170.4,1841.7 L1170.9,1841.7 L1171.4,1841.7 L1171.9,1841.7 L1172.4,1841.7 L1172.9,1841.7 L1173.4,1841.7 L1173.9,1841.7 L1174.4,1841.7 L1174.9,1841.7 L1175.4,1841.7 L1175.9,1841.7 L1176.4,1841.7 L1176.9,1841.7 L1177.4,1841.7 L1177.9,1841.7 L1178.4,1841.7 L1178.9,1841.7 L1179.4,1841.7 L1179.9,1841.7 L1180.4,1841.7 L1180.9,1841.7 L1181.4,1841.7 L1181.9,1841.7 L1182.4,1841.7 L1182.9,1841.7 L1183.4,1841.7 L1183.9,1841.7 L1184.4,1841.7 L1184.9,1841.7 L1185.4,1841.7 L1185.9,1841.7 L1186.4,1841.7 L1186.4,1841.7 Z" fill="#FF0000" />
<path d="M1047.9,1841.7 L1047.9,1841.7 L1048.4,1841.7 L1048.9,1841.7 L1049.4,1841.7 L1049.9,1841.7 L1050.4,1841.7 L1050.9,1841.7 L1051.4,1841.7 L1051.9,1841.7 L1052.4,1841.7 L1052.9,1841.7 L1053.4,1841.7 L1053.9,1841.7 L1054.4,1841.7 L1054.9,1841.7 L1055.4,1841.7 L1055.9,1841.7 L1056.4,1841.7 L1056.9,1841.7 L1057.4,1841.7 L1057.9,1841.7 L1058.4,1841.7 L1058.9,1841.7 L1059.4,1841.7 L1059.9,1841.7 L1060.4,1841.7 L1060.9,1841.7 L1061.4,1841.7 L1061.9,1841.7 L1062.4,1841.7 L1062.9,1841.7 L1063.4,1841.7 L1063.9,1841.7 L1064.4,1841.7 L1064.9,1841.7 L1065.4,1841.7 L1065.9,1841.7 L1066.4,1841.7 L1066.9,1841.7 L1067.4,1841.7 L1067.9,1841.7 L1068.4,1841.7 L1068.9,1841.7 L1069.4,1841.7 L1069.9,1841.7 L1070.4,1841.7 L1070.9,1841.7 L1071.4,1841.7 L1071.9,1841.7 L1072.4,1841.7 L1072.9,1841.7 L1073.4,1841.7 L1073.9,1841.7 L1074.4,1841.7 L1074.9,1841.7 L1075.4,1841.7 L1075.9,1841.7 L1076.4,1841.7 L1076.9,1841.7 L1077.4,1841.7 L1077.9,1841.7 L1078.4,1841.7 L1078.9,1841.7 L1079.4,1841.7 L1079.9,1841.7 L1080.4,1841.7 L1080.9,1841.7 L1081.4,1841.7 L1081.9,1841.7 L1082.4,1841.7 L1082.9,1841.7 L1083.4,1841.7 L1083.9,1841.7 L1084.4,1841.7 L1084.9,1841.7 L1085.4,1841.7 L1085.9,1841.7 L1086.4,1841.7 L1086.9,1841.7 L1087.4,1841.7 L1087.9,1841.63 L1088.4,1841.44 L1088.9,1841.12 L1089.4,1840.68 L1089.9,1840.13 L1090.4,1839.5 L1090.9,1838.79 L1091.4,1838.02 L1091.9,1837.22 L1092.4,1836.4 L1092.9,1835.59 L1093.4,1834.81 L1093.9,1834.08 L1094.4,1833.41 L1094.9,1832.83 L1095.4,1832.35 L1095.9,1831.98 L1096.4,1831.73 L1096.9,1831.61 L1097.4,1831.6 L1097.9,1831.6 L1098.4,1831.6 L1098.9,1831.6 L1099.4,1832.16 L1099.9,1834.97 L1100.4,1837.05 L1100.9,1838.55 L1101.4,1839.61 L1101.9,1840.34 L1102.4,1840.83 L1102.9,1841.16 L1103.4,1841.37 L1103.9,1841.5 L1104.4,1841.58 L1104.9,1841.63 L1105.4,1841.66 L1105.9,1841.68 L1106.4,1841.69 L1106.9,1841.69 L1107.4,1841.7 L1107.9,1841.7 L1108.4,1841.7 L1108.9,1841.7 L1109.4,1841.7 L1109.9,1841.7 L1110.4,1841.7 L1110.9,1841.7 L1111.4,1841.7 L1111.9,1841.7 L1112.4,1841.7 L1112.9,1841.7 L1113.4,1841.7 L1113.9,1841.7 L1114.4,1841.7 L1114.9,1841.7 L1115.4,1841.7 L1115.9,1841.7 L1116.4,1841.7 L1116.9,1841.7 L1117.4,1841.7 L1117.9,1841.7 L1118.4,1841.7 L1118.9,1841.7 L1119.4,1841.7 L1119.9,1841.7 L1120.4,1841.7 L1120.9,1841.7 L1121.4,1841.7 L1121.9,1841.7 L1122.4,1841.7 L1122.9,1841.7 L1123.4,1841.7 L1123.9,1841.7 L1124.4,1841.7 L1124.9,1841.7 L1125.4,1841.7 L1125.9,1841.7 L1126.4,1841.7 L1126.9,1841.7 L1127.4,1841.7 L1127.9,1841.7 L1128.4,1841.7 L1128.9,1841.7 L1129.4,1841.7 L1129.9,1841.7 L1130.4,1841.7 L1130.9,1841.7 L1131.4,1841.7 L1131.9,1841.7 L1132.4,1841.7 L1132.9,1841.7 L1133.4,1841.7 L1133.9,1841.7 L1134.4,1841.7 L1134.9,1841.7 L1135.4,1841.7 L1135.9,1841.7 L1136.4,1841.7 L1136.9,1841.7 L1137.4,1841.7 L1137.9,1841.7 L1138.4,1841.7 L1138.9,1841.7 L1139.4,1841.7 L1139.9,1841.7 L1140.4,1841.7 L1140.9,1841.7 L1141.4,1841.7 L1141.9,1841.7 L1142.4,1841.7 L1142.9,1841.7 L1143.4,1841.7 L1143.9,1841.7 L1144.4,1841.7 L1144.9,1841.7 L1145.4,1841.7 L1145.9,1841.7 L1146.4,1841.7 L1146.9,1841.7 L1147.4,1841.7 L1147.9,1841.7 L1148.4,1841.7 L1148.9,1841.7 L1149.4,1841.7 L1149.9,1841.7 L1150.4,1841.7 L1150.9,1841.7 L1151.4,1841.7 L1151.9,1841.7 L1152.4,1841.7 L1152.9,1841.7 L1153.4,1841.7 L1153.9,1841.7 L1154.4,1841.7 L1154.9,1841.7 L1155.4,1841.7 L1155.9,1841.7 L1156.4,1841.7 L1156.9,1841.7 L1157.4,1841.7 L1157.9,1841.7 L1158.4,1841.7 L1158.9,1841.7 L1159.4,1841.7 L1159.9,1841.7 L1160.4,1841.7 L1160.9,1841.7 L1161.4,1841.7 L1161.9,1841.7 L1162.4,1841.7 L1162.9,1841.7 L1163.4,1841.7 L1163.9,1841.7 L1164.4,1841.7 L1164.9,1841.7 L1165.4,1841.7 L1165.9,1841.7 L1166.4,1841.7 L1166.9,1841.7 L1167.4,1841.7 L1167.9,1841.7 L1168.4,1841.7 L1168.9,1841.7 L1169.4,1841.7 L1169.9,1841.7 L1170.4,1841.7 L1170.9,1841.7 L1171.4,1841.7 L1171.9,1841.7 L1172.4,1841.7 L1172.9,1841.7 L1173.4,1841.7 L1173.9,1841.7 L1174.4,1841.7 L1174.9,1841.7 L1175.4,1841.7 L1175.9,1841.7 L1176.4,1841.7 L1176.9,1841.7 L1177.4,1841.7 L1177.9,1841.7 L1178.4,1841.7 L1178.9,1841.7 L1179.4,1841.7 L1179.9,1841.7 L1180.4,1841.7 L1180.9,1841.7 L1181.4,1841.7 L1181.9,1841.7 L1182.4,1841.7 L1182.9,1841.7 L1183.4,1841.7 L1183.9,1841.7 L1184.4,1841.7 L1184.9,1841.7 L1185.4,1841.7 L1185.9,1841.7 L1186.4,1841.7 L1186.4,1841.7 Z" fill="#D6101E" />
<path d="M1047.9,1841.7 L1047.9,1841.7 L1048.4,1841.7 L1048.9,1841.7 L1049.4,1841.7 L1049.9,1841.7 L1050.4,1841.7 L1050.9,1841.7 L1051.4,1841.7 L1051.9,1841.7 L1052.4,1841.7 L1052.9,1841.7 L1053.4,1841.7 L1053.9,1841.7 L1054.4,1841.7 L1054.9,1841.7 L1055.4,1841.7 L1055.9,1841.7 L1056.4,1841.7 L1056.9,1841.7 L1057.4,1841.7 L1057.9,1841.7 L1058.4,1841.7 L1058.9,1841.7 L1059.4,1841.7 L1059.9,1841.7 L1060.4,1841.7 L1060.9,1841.7 L1061.4,1841.7 L1061.9,1841.7 L1062.4,1841.7 L1062.9,1841.7 L1063.4,1841.7 L1063.9,1841.7 L1064.4,1841.7 L1064.9,1841.7 L1065.4,1841.7 L1065.9,1841.7 L1066.4,1841.7 L1066.9,1841.7 L1067.4,1841.7 L1067.9,1841.7 L1068.4,1841.7 L1068.9,1841.7 L1069.4,1841.7 L1069.9,1841.7 L1070.4,1841.7 L1070.9,1841.7 L1071.4,1841.7 L1071.9,1841.7 L1072.4,1841.7 L1072.9,1841.7 L1073.4,1841.7 L1073.9,1841.7 L1074.4,1841.7 L1074.9,1841.7 L1075.4,1841.7 L1075.9,1841.7 L1076.4,1841.7 L1076.9,1841.7 L1077.4,1841.7 L1077.9,1841.7 L1078.4,1841.7 L1078.9,1841.7 L1079.4,1841.7 L1079.9,1841.7 L1080.4,1841.7 L1080.9,1841.7 L1081.4,1841.7 L1081.9,1841.7 L1082.4,1841.7 L1082.9,1841.7 L1083.4,1841.7 L1083.9,1841.7 L1084.4,1841.7 L1084.9,1841.7 L1085.4,1841.7 L1085.9,1841.7 L1086.4,1841.7 L1086.9,1841.7 L1087.4,1841.7 L1087.9,1841.7 L1088.4,1841.7 L1088.9,1841.7 L1089.4,1841.7 L1089.9,1841.7 L1090.4,1841.7 L1090.9,1841.7 L1091.4,1841.7 L1091.9,1841.7 L1092.4,1841.7 L1092.9,1841.7 L1093.4,1841.7 L1093.9,1841.7 L1094.4,1841.7 L1094.9,1841.7 L1095.4,1841.7 L1095.9,1841.7 L1096.4,1841.7 L1096.9,1841.7 L1097.4,1841.7 L1097.9,1841.7 L1098.4,1841.7 L1098.9,1841.7 L1099.4,1841.7 L1099.9,1841.7 L1100.4,1841.7 L1100.9,1841.7 L1101.4,1841.7 L1101.9,1841.7 L1102.4,1841.7 L1102.9,1841.7 L1103.4,1841.7 L1103.9,1841.7 L1104.4,1841.7 L1104.9,1841.7 L1105.4,1841.7 L1105.9,1841.7 L1106.4,1841.7 L1106.9,1841.7 L1107.4,1841.7 L1107.9,1841.7 L1108.4,1841.7 L1108.9,1841.7 L1109.4,1841.7 L1109.9,1841.7 L1110.4,1841.7 L1110.9,1841.7 L1111.4,1841.7 L1111.9,1841.7 L1112.4,1841.7 L1112.9,1841.7 L1113.4,1841.7 L1113.9,1841.7 L1114.4,1841.7 L1114.9,1841.7 L1115.4,1841.7 L1115.9,1841.7 L1116.4,1841.7 L1116.9,1841.7 L1117.4,1841.7 L1117.9,1841.7 L1118.4,1841.7 L1118.9,1841.7 L1119.4,1841.7 L1119.9,1841.7 L1120.4,1841.7 L1120.9,1841.7 L1121.4,1841.7 L1121.9,1841.7 L1122.4,1841.7 L1122.9,1841.69 L1123.4,1841.69 L1123.9,1841.69 L1124.4,1841.68 L1124.9,1841.68 L1125.4,1841.67 L1125.9,1841.66 L1126.4,1841.64 L1126.9,1841.62 L1127.4,1841.6 L1127.9,1841.56 L1128.4,1841.52 L1128.9,1841.46 L1129.4,1841.39 L1129.9,1841.3 L1130.4,1841.19 L1130.9,1841.05 L1131.4,1840.89 L1131.9,1840.69 L1132.4,1840.46 L1132.9,1840.18 L1133.4,1839.86 L1133.9,1839.49 L1134.4,1839.07 L1134.9,1838.6 L1135.4,1838.08 L1135.9,1837.51 L1136.4,1836.89 L1136.9,1836.22 L1137.4,1835.52 L1137.9,1834.8 L1138.4,1834.05 L1138.9,1833.31 L1139.4,1832.56 L1139.9,1831.85 L1140.4,1831.17 L1140.9,1830.54 L1141.4,1829.98 L1141.9,1829.5 L1142.4,1829.11 L1142.9,1828.83 L1143.4,1828.66 L1143.9,1828.6 L1144.4,1828.66 L1144.9,1828.83 L1145.4,1829.11 L1145.9,1829.5 L1146.4,1829.98 L1146.9,1830.54 L1147.4,1831.17 L1147.9,1831.85 L1148.4,1832.56 L1148.9,1833.31 L1149.4,1834.05 L1149.9,1834.8 L1150.4,1835.52 L1150.9,1836.22 L1151.4,1836.89 L1151.9,1837.51 L1152.4,1838.08 L1152.9,1838.6 L1153.4,1839.07 L1153.9,1839.49 L1154.4,1839.86 L1154.9,1840.18 L1155.4,1840.46 L1155.9,1840.69 L1156.4,1840.89 L1156.9,1841.05 L1157.4,1841.19 L1157.9,1841.3 L1158.4,1841.39 L1158.9,1841.46 L1159.4,1841.52 L1159.9,1841.56 L1160.4,1841.6 L1160.9,1841.62 L1161.4,1841.64 L1161.9,1841.66 L1162.4,1841.67 L1162.9,1841.68 L1163.4,1841.68 L1163.9,1841.69 L1164.4,1841.69 L1164.9,1841.69 L1165.4,1841.7 L1165.9,1841.7 L1166.4,1841.7 L1166.9,1841.7 L1167.4,1841.7 L1167.9,1841.7 L1168.4,1841.7 L1168.9,1841.7 L1169.4,1841.7 L1169.9,1841.7 L1170.4,1841.7 L1170.9,1841.7 L1171.4,1841.7 L1171.9,1841.7 L1172.4,1841.7 L1172.9,1841.7 L1173.4,1841.7 L1173.9,1841.7 L1174.4,1841.7 L1174.9,1841.7 L1175.4,1841.7 L1175.9,1841.7 L1176.4,1841.7 L1176.9,1841.7 L1177.4,1841.7 L1177.9,1841.7 L1178.4,1841.7 L1178.9,1841.7 L1179.4,1841.7 L1179.9,1841.7 L1180.4,1841.7 L1180.9,1841.7 L1181.4,1841.7 L1181.9,1841.7 L1182.4,1841.7 L1182.9,1841.7 L1183.4,1841.7 L1183.9,1841.7 L1184.4,1841.7 L1184.9,1841.7 L1185.4,1841.7 L1185.9,1841.7 L1186.4,1841.7 L1186.4,1841.7 Z" fill="#FF0000" />
<path d="M1085.4,1841.7 L1085.9,1841.7 L1086.4,1841.7 L1086.9,1841.7 L1087.4,1841.7 L1087.9,1841.63 L1088.4,1841.44 L1088.9,1841.12 L1089.4,1840.68 L1089.9,1840.13 L1090.4,1839.5 L1090.9,1838.79 L1091.4,1838.02 L1091.9,1837.22 L1092.4,1836.4 L1092.9,1835.59 L1093.4,1834.81 L1093.9,1834.08 L1094.4,1833.41 L1094.9,1832.83 L1095.4,1832.35 L1095.9,1831.98 L1096.4,1831.73 L1096.9,1831.61 L1097.4,1831.6 L1097.9,1831.6 L1098.4,1831.6 L1098.9,1831.6 L1099.4,1831.6 L1099.9,1831.6 L1100.4,1831.6 L1100.9,1831.6 L1101.4,1831.6 L1101.9,1831.6 L1102.4,1831.6 L1102.9,1831.6 L1103.4,1831.6 L1103.9,1831.6 L1104.4,1831.6 L1104.9,1831.6 L1105.4,1831.6 L1105.9,1831.6 L1106.4,1831.6 L1106.9,1831.6 L1107.4,1831.6 L1107.9,1831.6 L1108.4,1831.6 L1108.9,1831.6 L1109.4,1831.6 L1109.9,1831.6 L1110.4,1831.6 L1110.9,1831.6 L1111.4,1831.6 L1111.9,1831.6 L1112.4,1831.6 L1112.9,1831.6 L1113.4,1831.6 L1113.9,1831.6 L1114.4,1831.6 L1114.9,1831.6 L1115.4,1831.6 L1115.9,1831.6 L1116.4,1831.6 L1116.9,1831.6 L1117.4,1831.6 L1117.9,1831.6 L1118.4,1831.6 L1118.9,1831.6 L1119.4,1831.6 L1119.9,1831.6 L1120.4,1831.6 L1120.9,1831.6 L1121.4,1831.6 L1121.9,1831.6 L1122.4,1831.6 L1122.9,1831.6 L1123.4,1831.6 L1123.9,1831.6 L1124.4,1831.6 L1124.9,1831.6 L1125.4,1831.6 L1125.9,1831.6 L1126.4,1831.6 L1126.9,1831.6 L1127.4,1831.6 L1127.9,1831.6 L1128.4,1831.6 L1128.9,1831.6 L1129.4,1831.6 L1129.9,1831.6 L1130.4,1831.6 L1130.9,1831.6 L1131.4,1831.6 L1131.9,1831.6 L1132.4,1831.6 L1132.9,1831.6 L1133.4,1831.6 L1133.9,1831.61 L1134.4,1831.66 L1134.9,1831.75 L1135.4,1831.88 L1135.9,1832.05 L1136.4,1832.26 L1136.9,1832.51 L1137.4,1832.79 L1137.9,1833.11 L1138.4,1833.46 L1138.9,1833.83 L1139.4,1834.23 L1139.9,1834.65 L1140.4,1835.09 L1140.9,1835.54 L1141.4,1836 L1141.9,1836.46 L1142.4,1836.93 L1142.9,1837.39 L1143.4,1837.85 L1143.9,1838.3 L1144.4,1838.73 L1144.9,1839.15 L1145.4,1839.54 L1145.9,1839.91 L1146.4,1840.25 L1146.9,1840.56 L1147.4,1840.84 L1147.9,1841.08 L1148.4,1841.29 L1148.9,1841.45 L1149.4,1841.58 L1149.9,1841.66 L1150.4,1841.7 L1150.9,1841.7 L1151.4,1841.7 L1151.9,1841.7 L1152.4,1841.7 L1152.9,1841.7 L1153.4,1841.7 L1153.9,1841.7 L1154.4,1841.7 L1154.9,1841.7 L1155.4,1841.7 L1155.9,1841.7 L1156.4,1841.7 L1156.9,1841.7 L1157.4,1841.7 L1157.9,1841.7 L1158.4,1841.7" fill="none" stroke="#3A3AA8" stroke-width="1.3" />
<path d="M1053.4,1840.44 L1053.9,1840.76 L1054.4,1840.86 L1054.9,1840.67 L1055.4,1841.14 L1055.9,1840.94 L1056.4,1840.65 L1056.9,1839.61 L1057.4,1840.06 L1057.9,1839.68 L1058.4,1840.72 L1058.9,1840.15 L1059.4,1840.24 L1059.9,1840.75 L1060.4,1840.72 L1060.9,1840.12 L1061.4,1840.54 L1061.9,1839.93 L1062.4,1839.25 L1062.9,1838.77 L1063.4,1838.49 L1063.9,1840.16 L1064.4,1840.14 L1064.9,1840.78 L1065.4,1840.12 L1065.9,1840.28 L1066.4,1840.29 L1066.9,1840.13 L1067.4,1840.72 L1067.9,1840.63 L1068.4,1841.09 L1068.9,1839.58 L1069.4,1840.3 L1069.9,1840.43 L1070.4,1841.64 L1070.9,1841.7 L1071.4,1841.7 L1071.9,1841.01 L1072.4,1840.37 L1072.9,1840.3 L1073.4,1840.85 L1073.9,1839.58 L1074.4,1840.66 L1074.9,1841.2 L1075.4,1840.66 L1075.9,1841.28 L1076.4,1840.84 L1076.9,1840.11 L1077.4,1840.32 L1077.9,1840.1 L1078.4,1840.15 L1078.9,1840.55 L1079.4,1841.7 L1079.9,1841.7 L1080.4,1840.47 L1080.9,1840.28 L1081.4,1838.79 L1081.9,1836.43 L1082.4,1832.93 L1082.9,1831.16 L1083.4,1827.38 L1083.9,1821.85 L1084.4,1814.98 L1084.9,1808.61 L1085.4,1797.39 L1085.9,1787.99 L1086.4,1774.94 L1086.9,1762.43 L1087.4,1748.2 L1087.9,1732.22 L1088.4,1717.94 L1088.9,1705.11 L1089.4,1695.02 L1089.9,1686.25 L1090.4,1681.19 L1090.9,1674.72 L1091.4,1678.37 L1091.9,1684.5 L1092.4,1687.3 L1092.9,1694.42 L1093.4,1706.08 L1093.9,1717.36 L1094.4,1731.68 L1094.9,1745.39 L1095.4,1757.5 L1095.9,1769.43 L1096.4,1781.37 L1096.9,1789.88 L1097.4,1798.6 L1097.9,1806.48 L1098.4,1813.92 L1098.9,1818.41 L1099.4,1822.33 L1099.9,1825.06 L1100.4,1826.41 L1100.9,1828.55 L1101.4,1829.34 L1101.9,1829.51 L1102.4,1830 L1102.9,1828.86 L1103.4,1831.24 L1103.9,1831.41 L1104.4,1832.36 L1104.9,1832.08 L1105.4,1829.97 L1105.9,1831.84 L1106.4,1831.94 L1106.9,1831.29 L1107.4,1831.32 L1107.9,1830.72 L1108.4,1832.22 L1108.9,1831.22 L1109.4,1832.07 L1109.9,1832.78 L1110.4,1831.86 L1110.9,1831.37 L1111.4,1831.99 L1111.9,1832.43 L1112.4,1832.23 L1112.9,1831.97 L1113.4,1831.93 L1113.9,1832.54 L1114.4,1833.89 L1114.9,1831.97 L1115.4,1831.67 L1115.9,1832.56 L1116.4,1833.34 L1116.9,1833.15 L1117.4,1832.83 L1117.9,1833.92 L1118.4,1831.92 L1118.9,1831.46 L1119.4,1831.74 L1119.9,1831.41 L1120.4,1831.29 L1120.9,1830.6 L1121.4,1830.87 L1121.9,1830.19 L1122.4,1829.57 L1122.9,1830.6 L1123.4,1831.32 L1123.9,1832.08 L1124.4,1832.04 L1124.9,1832.39 L1125.4,1832.03 L1125.9,1831.59 L1126.4,1831.15 L1126.9,1832.14 L1127.4,1831.04 L1127.9,1831.41 L1128.4,1831.46 L1128.9,1831.76 L1129.4,1833.03 L1129.9,1832.04 L1130.4,1832.92 L1130.9,1831.19 L1131.4,1830.87 L1131.9,1829.42 L1132.4,1829.1 L1132.9,1828.71 L1133.4,1827.75 L1133.9,1828.06 L1134.4,1826.81 L1134.9,1827.11 L1135.4,1826.72 L1135.9,1826.93 L1136.4,1825.78 L1136.9,1824.66 L1137.4,1824.58 L1137.9,1824.83 L1138.4,1823.67 L1138.9,1822.32 L1139.4,1821.75 L1139.9,1821.93 L1140.4,1821.74 L1140.9,1821.26 L1141.4,1823 L1141.9,1822.53 L1142.4,1820.81 L1142.9,1822.33 L1143.4,1822.72 L1143.9,1821.79 L1144.4,1822.47 L1144.9,1823.15 L1145.4,1824.86 L1145.9,1827.26 L1146.4,1825.84 L1146.9,1827.45 L1147.4,1828.89 L1147.9,1829.09 L1148.4,1830.24 L1148.9,1831.86 L1149.4,1834.02 L1149.9,1834.91 L1150.4,1835.71 L1150.9,1836.82 L1151.4,1837.84 L1151.9,1838.77 L1152.4,1838.9 L1152.9,1839.49 L1153.4,1839.32 L1153.9,1838.95 L1154.4,1839.32 L1154.9,1839.84 L1155.4,1839.23 L1155.9,1839.53 L1156.4,1841.14 L1156.9,1841.66 L1157.4,1841.42 L1157.9,1841.7 L1158.4,1841.32 L1158.9,1841.7 L1159.4,1841.7 L1159.9,1841.7 L1160.4,1841.52 L1160.9,1841.7 L1161.4,1841.7 L1161.9,1841.14" fill="none" stroke="#000" stroke-width="1.1" />
<path d="M1061.4,1840.7 L1061.9,1840.7 L1062.4,1840.7 L1062.9,1840.7 L1063.4,1840.7 L1063.9,1840.7 L1064.4,1840.7 L1064.9,1840.7 L1065.4,1840.7 L1065.9,1840.7 L1066.4,1840.7 L1066.9,1840.7 L1067.4,1840.7 L1067.9,1840.7 L1068.4,1840.7 L1068.9,1840.7 L1069.4,1840.7 L1069.9,1840.7 L1070.4,1840.7 L1070.9,1840.7 L1071.4,1840.7 L1071.9,1840.7 L1072.4,1840.7 L1072.9,1840.7 L1073.4,1840.7 L1073.9,1840.7 L1074.4,1840.7 L1074.9,1840.7 L1075.4,1840.69 L1075.9,1840.69 L1076.4,1840.68 L1076.9,1840.66 L1077.4,1840.63 L1077.9,1840.57 L1078.4,1840.48 L1078.9,1840.33 L1079.4,1840.11 L1079.9,1839.75 L1080.4,1839.22 L1080.9,1838.43 L1081.4,1837.29 L1081.9,1835.68 L1082.4,1833.47 L1082.9,1830.49 L1083.4,1826.58 L1083.9,1821.56 L1084.4,1815.28 L1084.9,1807.63 L1085.4,1798.54 L1085.9,1788.03 L1086.4,1776.24 L1086.9,1763.4 L1087.4,1749.88 L1087.9,1736.08 L1088.4,1722.51 L1088.9,1709.78 L1089.4,1698.55 L1089.9,1689.4 L1090.4,1682.84 L1090.9,1679.25 L1091.4,1679.81 L1091.9,1682.52 L1092.4,1688.19 L1092.9,1696.47 L1093.4,1706.85 L1093.9,1718.77 L1094.4,1731.6 L1094.9,1744.75 L1095.4,1757.69 L1095.9,1769.97 L1096.4,1781.27 L1096.9,1791.38 L1097.4,1800.17 L1097.9,1807.55 L1098.4,1813.56 L1098.9,1818.34 L1099.4,1822.06 L1099.9,1824.87 L1100.4,1826.95 L1100.9,1828.45 L1101.4,1829.51 L1101.9,1830.24 L1102.4,1830.73 L1102.9,1831.06 L1103.4,1831.27 L1103.9,1831.4 L1104.4,1831.48 L1104.9,1831.53 L1105.4,1831.56 L1105.9,1831.58 L1106.4,1831.59 L1106.9,1831.59 L1107.4,1831.6 L1107.9,1831.6 L1108.4,1831.6 L1108.9,1831.6 L1109.4,1831.6 L1109.9,1831.6 L1110.4,1831.6 L1110.9,1831.6 L1111.4,1831.6 L1111.9,1831.6 L1112.4,1831.6 L1112.9,1831.6 L1113.4,1831.6 L1113.9,1831.6 L1114.4,1831.6 L1114.9,1831.6 L1115.4,1831.6 L1115.9,1831.6 L1116.4,1831.6 L1116.9,1831.6 L1117.4,1831.6 L1117.9,1831.6 L1118.4,1831.6 L1118.9,1831.6 L1119.4,1831.6 L1119.9,1831.6 L1120.4,1831.6 L1120.9,1831.6 L1121.4,1831.6 L1121.9,1831.6 L1122.4,1831.6 L1122.9,1831.59 L1123.4,1831.59 L1123.9,1831.59 L1124.4,1831.58 L1124.9,1831.58 L1125.4,1831.57 L1125.9,1831.56 L1126.4,1831.54 L1126.9,1831.52 L1127.4,1831.5 L1127.9,1831.46 L1128.4,1831.42 L1128.9,1831.36 L1129.4,1831.29 L1129.9,1831.2 L1130.4,1831.09 L1130.9,1830.95 L1131.4,1830.79 L1131.9,1830.59 L1132.4,1830.36 L1132.9,1830.08 L1133.4,1829.76 L1133.9,1829.4 L1134.4,1829.03 L1134.9,1828.65 L1135.4,1828.26 L1135.9,1827.86 L1136.4,1827.45 L1136.9,1827.03 L1137.4,1826.62 L1137.9,1826.21 L1138.4,1825.81 L1138.9,1825.44 L1139.4,1825.1 L1139.9,1824.8 L1140.4,1824.56 L1140.9,1824.38 L1141.4,1824.28 L1141.9,1824.26 L1142.4,1824.34 L1142.9,1824.52 L1143.4,1824.81 L1143.9,1825.2 L1144.4,1825.69 L1144.9,1826.28 L1145.4,1826.96 L1145.9,1827.71 L1146.4,1828.53 L1146.9,1829.4 L1147.4,1830.31 L1147.9,1831.23 L1148.4,1832.15 L1148.9,1833.06 L1149.4,1833.93 L1149.9,1834.76 L1150.4,1835.52 L1150.9,1836.22 L1151.4,1836.89 L1151.9,1837.51 L1152.4,1838.08 L1152.9,1838.6 L1153.4,1839.07 L1153.9,1839.49 L1154.4,1839.86 L1154.9,1840.18 L1155.4,1840.46 L1155.9,1840.69 L1156.4,1840.89 L1156.9,1841.05 L1157.4,1841.19 L1157.9,1841.3 L1158.4,1841.39 L1158.9,1841.46 L1159.4,1841.52 L1159.9,1841.56 L1160.4,1841.6 L1160.9,1841.62 L1161.4,1841.64 L1161.9,1841.66" fill="none" stroke="#00F000" stroke-width="1.4" />
<line x1="1047.4" y1="1671.9" x2="1047.4" y2="1842.5" stroke="#0C2060" stroke-width="1.8" />
<line x1="1046.6" y1="1841.7" x2="1187.6" y2="1841.7" stroke="#0C2060" stroke-width="1.8" />
<line x1="1041.7" y1="1841.7" x2="1046.9" y2="1841.7" stroke="#000" stroke-width="1.1" />
<line x1="1043.8" y1="1831.09" x2="1046.9" y2="1831.09" stroke="#000" stroke-width="1.1" />
<line x1="1043.8" y1="1820.48" x2="1046.9" y2="1820.48" stroke="#000" stroke-width="1.1" />
<line x1="1043.8" y1="1809.86" x2="1046.9" y2="1809.86" stroke="#000" stroke-width="1.1" />
<line x1="1041.7" y1="1799.25" x2="1046.9" y2="1799.25" stroke="#000" stroke-width="1.1" />
<line x1="1043.8" y1="1788.64" x2="1046.9" y2="1788.64" stroke="#000" stroke-width="1.1" />
<line x1="1043.8" y1="1778.03" x2="1046.9" y2="1778.03" stroke="#000" stroke-width="1.1" />
<line x1="1043.8" y1="1767.41" x2="1046.9" y2="1767.41" stroke="#000" stroke-width="1.1" />
<line x1="1041.7" y1="1756.8" x2="1046.9" y2="1756.8" stroke="#000" stroke-width="1.1" />
<line x1="1043.8" y1="1746.19" x2="1046.9" y2="1746.19" stroke="#000" stroke-width="1.1" />
<line x1="1043.8" y1="1735.58" x2="1046.9" y2="1735.58" stroke="#000" stroke-width="1.1" />
<line x1="1043.8" y1="1724.96" x2="1046.9" y2="1724.96" stroke="#000" stroke-width="1.1" />
<line x1="1041.7" y1="1714.35" x2="1046.9" y2="1714.35" stroke="#000" stroke-width="1.1" />
<line x1="1043.8" y1="1703.74" x2="1046.9" y2="1703.74" stroke="#000" stroke-width="1.1" />
<line x1="1043.8" y1="1693.12" x2="1046.9" y2="1693.12" stroke="#000" stroke-width="1.1" />
<line x1="1043.8" y1="1682.51" x2="1046.9" y2="1682.51" stroke="#000" stroke-width="1.1" />
<line x1="1041.7" y1="1671.9" x2="1046.9" y2="1671.9" stroke="#000" stroke-width="1.1" />
<line x1="1047.4" y1="1842.2" x2="1047.4" y2="1847.5" stroke="#000" stroke-width="1.1" />
<line x1="1057.15" y1="1842.2" x2="1057.15" y2="1844.7" stroke="#000" stroke-width="1.1" />
<line x1="1066.9" y1="1842.2" x2="1066.9" y2="1844.7" stroke="#000" stroke-width="1.1" />
<line x1="1076.65" y1="1842.2" x2="1076.65" y2="1844.7" stroke="#000" stroke-width="1.1" />
<line x1="1086.4" y1="1842.2" x2="1086.4" y2="1847.5" stroke="#000" stroke-width="1.1" />
<line x1="1096.15" y1="1842.2" x2="1096.15" y2="1844.7" stroke="#000" stroke-width="1.1" />
<line x1="1105.9" y1="1842.2" x2="1105.9" y2="1844.7" stroke="#000" stroke-width="1.1" />
<line x1="1115.65" y1="1842.2" x2="1115.65" y2="1844.7" stroke="#000" stroke-width="1.1" />
<line x1="1125.4" y1="1842.2" x2="1125.4" y2="1847.5" stroke="#000" stroke-width="1.1" />
<line x1="1135.15" y1="1842.2" x2="1135.15" y2="1844.7" stroke="#000" stroke-width="1.1" />
<line x1="1144.9" y1="1842.2" x2="1144.9" y2="1844.7" stroke="#000" stroke-width="1.1" />
<line x1="1154.65" y1="1842.2" x2="1154.65" y2="1844.7" stroke="#000" stroke-width="1.1" />
<line x1="1164.4" y1="1842.2" x2="1164.4" y2="1847.5" stroke="#000" stroke-width="1.1" />
<line x1="1174.15" y1="1842.2" x2="1174.15" y2="1844.7" stroke="#000" stroke-width="1.1" />
<line x1="1183.9" y1="1842.2" x2="1183.9" y2="1844.7" stroke="#000" stroke-width="1.1" />
<text x="1041.2" y="1676.3" font-size="13.2" text-anchor="end" font-family="'Liberation Serif', 'Times New Roman', serif" fill="#2a2a2a">2557</text>
<text x="1041.2" y="1718.75" font-size="13.2" text-anchor="end" font-family="'Liberation Serif', 'Times New Roman', serif" fill="#2a2a2a">1918</text>
<text x="1041.2" y="1761.2" font-size="13.2" text-anchor="end" font-family="'Liberation Serif', 'Times New Roman', serif" fill="#2a2a2a">1279</text>
<text x="1041.2" y="1803.65" font-size="13.2" text-anchor="end" font-family="'Liberation Serif', 'Times New Roman', serif" fill="#2a2a2a">639</text>
<text x="1041.2" y="1846.1" font-size="13.2" text-anchor="end" font-family="'Liberation Serif', 'Times New Roman', serif" fill="#2a2a2a">0</text>
<text x="1047.4" y="1859" font-size="13.2" text-anchor="middle" font-family="'Liberation Serif', 'Times New Roman', serif" fill="#2a2a2a">40.0</text>
<text x="1086.4" y="1859" font-size="13.2" text-anchor="middle" font-family="'Liberation Serif', 'Times New Roman', serif" fill="#2a2a2a">180.0</text>
<text x="1125.4" y="1859" font-size="13.2" text-anchor="middle" font-family="'Liberation Serif', 'Times New Roman', serif" fill="#2a2a2a">320.0</text>
<text x="1164.4" y="1859" font-size="13.2" text-anchor="middle" font-family="'Liberation Serif', 'Times New Roman', serif" fill="#2a2a2a">460.0</text>
</g>
<g>
<path d="M1226.9,1841.7 L1226.9,1841.7 L1227.4,1841.7 L1227.9,1841.7 L1228.4,1841.7 L1228.9,1841.7 L1229.4,1841.7 L1229.9,1841.7 L1230.4,1841.7 L1230.9,1841.7 L1231.4,1841.7 L1231.9,1841.7 L1232.4,1841.7 L1232.9,1841.7 L1233.4,1841.7 L1233.9,1841.7 L1234.4,1841.7 L1234.9,1841.7 L1235.4,1841.7 L1235.9,1841.7 L1236.4,1841.7 L1236.9,1841.7 L1237.4,1841.7 L1237.9,1841.7 L1238.4,1841.7 L1238.9,1841.7 L1239.4,1841.7 L1239.9,1841.7 L1240.4,1841.7 L1240.9,1841.7 L1241.4,1841.7 L1241.9,1841.7 L1242.4,1841.7 L1242.9,1841.7 L1243.4,1841.7 L1243.9,1841.7 L1244.4,1841.7 L1244.9,1841.7 L1245.4,1841.7 L1245.9,1841.7 L1246.4,1841.7 L1246.9,1841.7 L1247.4,1841.7 L1247.9,1841.7 L1248.4,1841.7 L1248.9,1841.7 L1249.4,1841.7 L1249.9,1841.7 L1250.4,1841.7 L1250.9,1841.7 L1251.4,1841.7 L1251.9,1841.7 L1252.4,1841.7 L1252.9,1841.7 L1253.4,1841.7 L1253.9,1841.7 L1254.4,1841.7 L1254.9,1841.7 L1255.4,1841.7 L1255.9,1841.7 L1256.4,1841.7 L1256.9,1841.7 L1257.4,1841.7 L1257.9,1841.7 L1258.4,1841.7 L1258.9,1841.7 L1259.4,1841.7 L1259.9,1841.7 L1260.4,1841.7 L1260.9,1841.7 L1261.4,1841.7 L1261.9,1841.7 L1262.4,1841.7 L1262.9,1841.7 L1263.4,1841.7 L1263.9,1841.7 L1264.4,1841.7 L1264.9,1841.7 L1265.4,1841.7 L1265.9,1841.62 L1266.4,1841.42 L1266.9,1841.12 L1267.4,1840.71 L1267.9,1840.2 L1268.4,1839.6 L1268.9,1838.92 L1269.4,1838.17 L1269.9,1837.37 L1270.4,1836.52 L1270.9,1835.65 L1271.4,1834.76 L1271.9,1833.88 L1272.4,1833.01 L1272.9,1832.17 L1273.4,1831.37 L1273.9,1830.64 L1274.4,1829.97 L1274.9,1829.39 L1275.4,1828.9 L1275.9,1828.51 L1276.4,1828.23 L1276.9,1828.06 L1277.4,1828 L1277.9,1828 L1278.4,1828 L1278.9,1828 L1279.4,1828 L1279.9,1828 L1280.4,1828 L1280.9,1828 L1281.4,1828 L1281.9,1828 L1282.4,1828 L1282.9,1828 L1283.4,1828 L1283.9,1828 L1284.4,1828 L1284.9,1828 L1285.4,1828 L1285.9,1828 L1286.4,1828 L1286.9,1828 L1287.4,1828 L1287.9,1828 L1288.4,1828 L1288.9,1828 L1289.4,1828 L1289.9,1828 L1290.4,1828 L1290.9,1828 L1291.4,1828 L1291.9,1828 L1292.4,1828 L1292.9,1828 L1293.4,1828 L1293.9,1828 L1294.4,1828 L1294.9,1828 L1295.4,1828 L1295.9,1828 L1296.4,1828 L1296.9,1828 L1297.4,1828 L1297.9,1828 L1298.4,1828 L1298.9,1828 L1299.4,1828 L1299.9,1828 L1300.4,1828 L1300.9,1828 L1301.4,1828 L1301.9,1828 L1302.4,1828 L1302.9,1828 L1303.4,1828 L1303.9,1828 L1304.4,1828 L1304.9,1828 L1305.4,1828 L1305.9,1828 L1306.4,1828 L1306.9,1828 L1307.4,1828 L1307.9,1828 L1308.4,1828.02 L1308.9,1828.07 L1309.4,1828.15 L1309.9,1828.26 L1310.4,1828.4 L1310.9,1828.57 L1311.4,1828.77 L1311.9,1828.99 L1312.4,1829.23 L1312.9,1829.51 L1313.4,1829.8 L1313.9,1830.12 L1314.4,1830.46 L1314.9,1830.82 L1315.4,1831.19 L1315.9,1831.58 L1316.4,1831.99 L1316.9,1832.41 L1317.4,1832.84 L1317.9,1833.28 L1318.4,1833.72 L1318.9,1834.17 L1319.4,1834.62 L1319.9,1835.08 L1320.4,1835.53 L1320.9,1835.98 L1321.4,1836.42 L1321.9,1836.86 L1322.4,1837.29 L1322.9,1837.71 L1323.4,1838.12 L1323.9,1838.51 L1324.4,1838.88 L1324.9,1839.24 L1325.4,1839.58 L1325.9,1839.9 L1326.4,1840.19 L1326.9,1840.47 L1327.4,1840.71 L1327.9,1840.93 L1328.4,1841.13 L1328.9,1841.3 L1329.4,1841.44 L1329.9,1841.55 L1330.4,1841.63 L1330.9,1841.68 L1331.4,1841.7 L1331.9,1841.7 L1332.4,1841.7 L1332.9,1841.7 L1333.4,1841.7 L1333.9,1841.7 L1334.4,1841.7 L1334.9,1841.7 L1335.4,1841.7 L1335.9,1841.7 L1336.4,1841.7 L1336.9,1841.7 L1337.4,1841.7 L1337.9,1841.7 L1338.4,1841.7 L1338.9,1841.7 L1339.4,1841.7 L1339.9,1841.7 L1340.4,1841.7 L1340.9,1841.7 L1341.4,1841.7 L1341.9,1841.7 L1342.4,1841.7 L1342.9,1841.7 L1343.4,1841.7 L1343.9,1841.7 L1344.4,1841.7 L1344.9,1841.7 L1345.4,1841.7 L1345.9,1841.7 L1346.4,1841.7 L1346.9,1841.7 L1347.4,1841.7 L1347.9,1841.7 L1348.4,1841.7 L1348.9,1841.7 L1349.4,1841.7 L1349.9,1841.7 L1350.4,1841.7 L1350.9,1841.7 L1351.4,1841.7 L1351.9,1841.7 L1352.4,1841.7 L1352.9,1841.7 L1353.4,1841.7 L1353.9,1841.7 L1354.4,1841.7 L1354.9,1841.7 L1355.4,1841.7 L1355.9,1841.7 L1356.4,1841.7 L1356.9,1841.7 L1357.4,1841.7 L1357.9,1841.7 L1358.4,1841.7 L1358.9,1841.7 L1359.4,1841.7 L1359.9,1841.7 L1360.4,1841.7 L1360.9,1841.7 L1361.4,1841.7 L1361.9,1841.7 L1362.4,1841.7 L1362.9,1841.7 L1363.4,1841.7 L1363.9,1841.7 L1364.4,1841.7 L1364.9,1841.7 L1365.4,1841.7 L1365.9,1841.7 L1366.4,1841.7 L1366.9,1841.7 L1367.4,1841.7 L1367.9,1841.7 L1368.4,1841.7 L1368.9,1841.7 L1369.4,1841.7 L1369.9,1841.7 L1370.4,1841.7 L1370.9,1841.7 L1371.4,1841.7 L1371.9,1841.7 L1372.4,1841.7 L1372.9,1841.7 L1373.4,1841.7 L1373.9,1841.7 L1374.4,1841.7 L1374.9,1841.7 L1375.4,1841.7 L1375.9,1841.7 L1376.4,1841.7 L1376.9,1841.7 L1377.4,1841.7 L1377.9,1841.7 L1378.4,1841.7 L1378.9,1841.7 L1379.4,1841.7 L1379.9,1841.7 L1380.4,1841.7 L1380.9,1841.7 L1381.4,1841.7 L1381.4,1841.7 Z" fill="#E2E2F2" />
<path d="M1226.9,1841.7 L1226.9,1841.7 L1227.4,1841.7 L1227.9,1841.7 L1228.4,1841.7 L1228.9,1841.7 L1229.4,1841.7 L1229.9,1841.7 L1230.4,1841.7 L1230.9,1841.7 L1231.4,1841.7 L1231.9,1841.7 L1232.4,1841.7 L1232.9,1841.7 L1233.4,1841.7 L1233.9,1841.7 L1234.4,1841.7 L1234.9,1841.7 L1235.4,1841.7 L1235.9,1841.7 L1236.4,1841.7 L1236.9,1841.7 L1237.4,1841.7 L1237.9,1841.7 L1238.4,1841.7 L1238.9,1841.7 L1239.4,1841.7 L1239.9,1841.7 L1240.4,1841.7 L1240.9,1841.7 L1241.4,1841.7 L1241.9,1841.7 L1242.4,1841.7 L1242.9,1841.7 L1243.4,1841.7 L1243.9,1841.7 L1244.4,1841.7 L1244.9,1841.7 L1245.4,1841.7 L1245.9,1841.7 L1246.4,1841.7 L1246.9,1841.7 L1247.4,1841.7 L1247.9,1841.7 L1248.4,1841.7 L1248.9,1841.7 L1249.4,1841.7 L1249.9,1841.7 L1250.4,1841.7 L1250.9,1841.7 L1251.4,1841.7 L1251.9,1841.7 L1252.4,1841.69 L1252.9,1841.69 L1253.4,1841.68 L1253.9,1841.66 L1254.4,1841.64 L1254.9,1841.6 L1255.4,1841.54 L1255.9,1841.43 L1256.4,1841.28 L1256.9,1841.04 L1257.4,1840.69 L1257.9,1840.18 L1258.4,1839.45 L1258.9,1838.42 L1259.4,1837 L1259.9,1835.1 L1260.4,1832.57 L1260.9,1829.3 L1261.4,1825.14 L1261.9,1819.97 L1262.4,1813.67 L1262.9,1806.16 L1263.4,1797.42 L1263.9,1787.48 L1264.4,1776.45 L1264.9,1764.51 L1265.4,1751.97 L1265.9,1739.17 L1266.4,1726.56 L1266.9,1714.62 L1267.4,1703.84 L1267.9,1694.72 L1268.4,1687.69 L1268.9,1683.09 L1269.4,1681.16 L1269.9,1681.99 L1270.4,1685.54 L1270.9,1691.64 L1271.4,1699.97 L1271.9,1710.14 L1272.4,1721.67 L1272.9,1734.08 L1273.4,1746.85 L1273.9,1759.55 L1274.4,1771.77 L1274.9,1783.19 L1275.4,1793.59 L1275.9,1802.81 L1276.4,1810.81 L1276.9,1817.59 L1277.4,1823.2 L1277.9,1827.75 L1278.4,1831.36 L1278.9,1834.17 L1279.4,1836.31 L1279.9,1837.9 L1280.4,1839.08 L1280.9,1839.92 L1281.4,1840.51 L1281.9,1840.92 L1282.4,1841.2 L1282.9,1841.38 L1283.4,1841.5 L1283.9,1841.58 L1284.4,1841.63 L1284.9,1841.66 L1285.4,1841.67 L1285.9,1841.69 L1286.4,1841.69 L1286.9,1841.7 L1287.4,1841.7 L1287.9,1841.7 L1288.4,1841.7 L1288.9,1841.7 L1289.4,1841.7 L1289.9,1841.7 L1290.4,1841.7 L1290.9,1841.7 L1291.4,1841.7 L1291.9,1841.7 L1292.4,1841.7 L1292.9,1841.7 L1293.4,1841.7 L1293.9,1841.7 L1294.4,1841.7 L1294.9,1841.7 L1295.4,1841.7 L1295.9,1841.7 L1296.4,1841.7 L1296.9,1841.7 L1297.4,1841.7 L1297.9,1841.7 L1298.4,1841.7 L1298.9,1841.7 L1299.4,1841.7 L1299.9,1841.7 L1300.4,1841.7 L1300.9,1841.7 L1301.4,1841.7 L1301.9,1841.7 L1302.4,1841.7 L1302.9,1841.7 L1303.4,1841.7 L1303.9,1841.7 L1304.4,1841.7 L1304.9,1841.7 L1305.4,1841.7 L1305.9,1841.7 L1306.4,1841.7 L1306.9,1841.7 L1307.4,1841.7 L1307.9,1841.7 L1308.4,1841.7 L1308.9,1841.7 L1309.4,1841.7 L1309.9,1841.7 L1310.4,1841.7 L1310.9,1841.7 L1311.4,1841.7 L1311.9,1841.7 L1312.4,1841.7 L1312.9,1841.7 L1313.4,1841.7 L1313.9,1841.7 L1314.4,1841.7 L1314.9,1841.7 L1315.4,1841.7 L1315.9,1841.7 L1316.4,1841.7 L1316.9,1841.7 L1317.4,1841.7 L1317.9,1841.7 L1318.4,1841.7 L1318.9,1841.7 L1319.4,1841.7 L1319.9,1841.7 L1320.4,1841.7 L1320.9,1841.7 L1321.4,1841.7 L1321.9,1841.7 L1322.4,1841.7 L1322.9,1841.7 L1323.4,1841.7 L1323.9,1841.7 L1324.4,1841.7 L1324.9,1841.7 L1325.4,1841.7 L1325.9,1841.7 L1326.4,1841.7 L1326.9,1841.7 L1327.4,1841.7 L1327.9,1841.7 L1328.4,1841.7 L1328.9,1841.7 L1329.4,1841.7 L1329.9,1841.7 L1330.4,1841.7 L1330.9,1841.7 L1331.4,1841.7 L1331.9,1841.7 L1332.4,1841.7 L1332.9,1841.7 L1333.4,1841.7 L1333.9,1841.7 L1334.4,1841.7 L1334.9,1841.7 L1335.4,1841.7 L1335.9,1841.7 L1336.4,1841.7 L1336.9,1841.7 L1337.4,1841.7 L1337.9,1841.7 L1338.4,1841.7 L1338.9,1841.7 L1339.4,1841.7 L1339.9,1841.7 L1340.4,1841.7 L1340.9,1841.7 L1341.4,1841.7 L1341.9,1841.7 L1342.4,1841.7 L1342.9,1841.7 L1343.4,1841.7 L1343.9,1841.7 L1344.4,1841.7 L1344.9,1841.7 L1345.4,1841.7 L1345.9,1841.7 L1346.4,1841.7 L1346.9,1841.7 L1347.4,1841.7 L1347.9,1841.7 L1348.4,1841.7 L1348.9,1841.7 L1349.4,1841.7 L1349.9,1841.7 L1350.4,1841.7 L1350.9,1841.7 L1351.4,1841.7 L1351.9,1841.7 L1352.4,1841.7 L1352.9,1841.7 L1353.4,1841.7 L1353.9,1841.7 L1354.4,1841.7 L1354.9,1841.7 L1355.4,1841.7 L1355.9,1841.7 L1356.4,1841.7 L1356.9,1841.7 L1357.4,1841.7 L1357.9,1841.7 L1358.4,1841.7 L1358.9,1841.7 L1359.4,1841.7 L1359.9,1841.7 L1360.4,1841.7 L1360.9,1841.7 L1361.4,1841.7 L1361.9,1841.7 L1362.4,1841.7 L1362.9,1841.7 L1363.4,1841.7 L1363.9,1841.7 L1364.4,1841.7 L1364.9,1841.7 L1365.4,1841.7 L1365.9,1841.7 L1366.4,1841.7 L1366.9,1841.7 L1367.4,1841.7 L1367.9,1841.7 L1368.4,1841.7 L1368.9,1841.7 L1369.4,1841.7 L1369.9,1841.7 L1370.4,1841.7 L1370.9,1841.7 L1371.4,1841.7 L1371.9,1841.7 L1372.4,1841.7 L1372.9,1841.7 L1373.4,1841.7 L1373.9,1841.7 L1374.4,1841.7 L1374.9,1841.7 L1375.4,1841.7 L1375.9,1841.7 L1376.4,1841.7 L1376.9,1841.7 L1377.4,1841.7 L1377.9,1841.7 L1378.4,1841.7 L1378.9,1841.7 L1379.4,1841.7 L1379.9,1841.7 L1380.4,1841.7 L1380.9,1841.7 L1381.4,1841.7 L1381.4,1841.7 Z" fill="#FF0000" />
<path d="M1226.9,1841.7 L1226.9,1841.7 L1227.4,1841.7 L1227.9,1841.7 L1228.4,1841.7 L1228.9,1841.7 L1229.4,1841.7 L1229.9,1841.7 L1230.4,1841.7 L1230.9,1841.7 L1231.4,1841.7 L1231.9,1841.7 L1232.4,1841.7 L1232.9,1841.7 L1233.4,1841.7 L1233.9,1841.7 L1234.4,1841.7 L1234.9,1841.7 L1235.4,1841.7 L1235.9,1841.7 L1236.4,1841.7 L1236.9,1841.7 L1237.4,1841.7 L1237.9,1841.7 L1238.4,1841.7 L1238.9,1841.7 L1239.4,1841.7 L1239.9,1841.7 L1240.4,1841.7 L1240.9,1841.7 L1241.4,1841.7 L1241.9,1841.7 L1242.4,1841.7 L1242.9,1841.7 L1243.4,1841.7 L1243.9,1841.7 L1244.4,1841.7 L1244.9,1841.7 L1245.4,1841.7 L1245.9,1841.7 L1246.4,1841.7 L1246.9,1841.7 L1247.4,1841.7 L1247.9,1841.7 L1248.4,1841.7 L1248.9,1841.7 L1249.4,1841.7 L1249.9,1841.7 L1250.4,1841.7 L1250.9,1841.7 L1251.4,1841.7 L1251.9,1841.7 L1252.4,1841.7 L1252.9,1841.7 L1253.4,1841.7 L1253.9,1841.7 L1254.4,1841.7 L1254.9,1841.7 L1255.4,1841.7 L1255.9,1841.7 L1256.4,1841.7 L1256.9,1841.7 L1257.4,1841.7 L1257.9,1841.7 L1258.4,1841.7 L1258.9,1841.7 L1259.4,1841.7 L1259.9,1841.7 L1260.4,1841.7 L1260.9,1841.7 L1261.4,1841.7 L1261.9,1841.7 L1262.4,1841.7 L1262.9,1841.7 L1263.4,1841.7 L1263.9,1841.7 L1264.4,1841.7 L1264.9,1841.7 L1265.4,1841.7 L1265.9,1841.62 L1266.4,1841.42 L1266.9,1841.12 L1267.4,1840.71 L1267.9,1840.2 L1268.4,1839.6 L1268.9,1838.92 L1269.4,1838.17 L1269.9,1837.37 L1270.4,1836.52 L1270.9,1835.65 L1271.4,1834.76 L1271.9,1833.88 L1272.4,1833.01 L1272.9,1832.17 L1273.4,1831.37 L1273.9,1830.64 L1274.4,1829.97 L1274.9,1829.39 L1275.4,1828.9 L1275.9,1828.51 L1276.4,1828.23 L1276.9,1828.06 L1277.4,1828 L1277.9,1828 L1278.4,1831.36 L1278.9,1834.17 L1279.4,1836.31 L1279.9,1837.9 L1280.4,1839.08 L1280.9,1839.92 L1281.4,1840.51 L1281.9,1840.92 L1282.4,1841.2 L1282.9,1841.38 L1283.4,1841.5 L1283.9,1841.58 L1284.4,1841.63 L1284.9,1841.66 L1285.4,1841.67 L1285.9,1841.69 L1286.4,1841.69 L1286.9,1841.7 L1287.4,1841.7 L1287.9,1841.7 L1288.4,1841.7 L1288.9,1841.7 L1289.4,1841.7 L1289.9,1841.7 L1290.4,1841.7 L1290.9,1841.7 L1291.4,1841.7 L1291.9,1841.7 L1292.4,1841.7 L1292.9,1841.7 L1293.4,1841.7 L1293.9,1841.7 L1294.4,1841.7 L1294.9,1841.7 L1295.4,1841.7 L1295.9,1841.7 L1296.4,1841.7 L1296.9,1841.7 L1297.4,1841.7 L1297.9,1841.7 L1298.4,1841.7 L1298.9,1841.7 L1299.4,1841.7 L1299.9,1841.7 L1300.4,1841.7 L1300.9,1841.7 L1301.4,1841.7 L1301.9,1841.7 L1302.4,1841.7 L1302.9,1841.7 L1303.4,1841.7 L1303.9,1841.7 L1304.4,1841.7 L1304.9,1841.7 L1305.4,1841.7 L1305.9,1841.7 L1306.4,1841.7 L1306.9,1841.7 L1307.4,1841.7 L1307.9,1841.7 L1308.4,1841.7 L1308.9,1841.7 L1309.4,1841.7 L1309.9,1841.7 L1310.4,1841.7 L1310.9,1841.7 L1311.4,1841.7 L1311.9,1841.7 L1312.4,1841.7 L1312.9,1841.7 L1313.4,1841.7 L1313.9,1841.7 L1314.4,1841.7 L1314.9,1841.7 L1315.4,1841.7 L1315.9,1841.7 L1316.4,1841.7 L1316.9,1841.7 L1317.4,1841.7 L1317.9,1841.7 L1318.4,1841.7 L1318.9,1841.7 L1319.4,1841.7 L1319.9,1841.7 L1320.4,1841.7 L1320.9,1841.7 L1321.4,1841.7 L1321.9,1841.7 L1322.4,1841.7 L1322.9,1841.7 L1323.4,1841.7 L1323.9,1841.7 L1324.4,1841.7 L1324.9,1841.7 L1325.4,1841.7 L1325.9,1841.7 L1326.4,1841.7 L1326.9,1841.7 L1327.4,1841.7 L1327.9,1841.7 L1328.4,1841.7 L1328.9,1841.7 L1329.4,1841.7 L1329.9,1841.7 L1330.4,1841.7 L1330.9,1841.7 L1331.4,1841.7 L1331.9,1841.7 L1332.4,1841.7 L1332.9,1841.7 L1333.4,1841.7 L1333.9,1841.7 L1334.4,1841.7 L1334.9,1841.7 L1335.4,1841.7 L1335.9,1841.7 L1336.4,1841.7 L1336.9,1841.7 L1337.4,1841.7 L1337.9,1841.7 L1338.4,1841.7 L1338.9,1841.7 L1339.4,1841.7 L1339.9,1841.7 L1340.4,1841.7 L1340.9,1841.7 L1341.4,1841.7 L1341.9,1841.7 L1342.4,1841.7 L1342.9,1841.7 L1343.4,1841.7 L1343.9,1841.7 L1344.4,1841.7 L1344.9,1841.7 L1345.4,1841.7 L1345.9,1841.7 L1346.4,1841.7 L1346.9,1841.7 L1347.4,1841.7 L1347.9,1841.7 L1348.4,1841.7 L1348.9,1841.7 L1349.4,1841.7 L1349.9,1841.7 L1350.4,1841.7 L1350.9,1841.7 L1351.4,1841.7 L1351.9,1841.7 L1352.4,1841.7 L1352.9,1841.7 L1353.4,1841.7 L1353.9,1841.7 L1354.4,1841.7 L1354.9,1841.7 L1355.4,1841.7 L1355.9,1841.7 L1356.4,1841.7 L1356.9,1841.7 L1357.4,1841.7 L1357.9,1841.7 L1358.4,1841.7 L1358.9,1841.7 L1359.4,1841.7 L1359.9,1841.7 L1360.4,1841.7 L1360.9,1841.7 L1361.4,1841.7 L1361.9,1841.7 L1362.4,1841.7 L1362.9,1841.7 L1363.4,1841.7 L1363.9,1841.7 L1364.4,1841.7 L1364.9,1841.7 L1365.4,1841.7 L1365.9,1841.7 L1366.4,1841.7 L1366.9,1841.7 L1367.4,1841.7 L1367.9,1841.7 L1368.4,1841.7 L1368.9,1841.7 L1369.4,1841.7 L1369.9,1841.7 L1370.4,1841.7 L1370.9,1841.7 L1371.4,1841.7 L1371.9,1841.7 L1372.4,1841.7 L1372.9,1841.7 L1373.4,1841.7 L1373.9,1841.7 L1374.4,1841.7 L1374.9,1841.7 L1375.4,1841.7 L1375.9,1841.7 L1376.4,1841.7 L1376.9,1841.7 L1377.4,1841.7 L1377.9,1841.7 L1378.4,1841.7 L1378.9,1841.7 L1379.4,1841.7 L1379.9,1841.7 L1380.4,1841.7 L1380.9,1841.7 L1381.4,1841.7 L1381.4,1841.7 Z" fill="#D6101E" />
<path d="M1226.9,1841.7 L1226.9,1841.7 L1227.4,1841.7 L1227.9,1841.7 L1228.4,1841.7 L1228.9,1841.7 L1229.4,1841.7 L1229.9,1841.7 L1230.4,1841.7 L1230.9,1841.7 L1231.4,1841.7 L1231.9,1841.7 L1232.4,1841.7 L1232.9,1841.7 L1233.4,1841.7 L1233.9,1841.7 L1234.4,1841.7 L1234.9,1841.7 L1235.4,1841.7 L1235.9,1841.7 L1236.4,1841.7 L1236.9,1841.7 L1237.4,1841.7 L1237.9,1841.7 L1238.4,1841.7 L1238.9,1841.7 L1239.4,1841.7 L1239.9,1841.7 L1240.4,1841.7 L1240.9,1841.7 L1241.4,1841.7 L1241.9,1841.7 L1242.4,1841.7 L1242.9,1841.7 L1243.4,1841.7 L1243.9,1841.7 L1244.4,1841.7 L1244.9,1841.7 L1245.4,1841.7 L1245.9,1841.7 L1246.4,1841.7 L1246.9,1841.7 L1247.4,1841.7 L1247.9,1841.7 L1248.4,1841.7 L1248.9,1841.7 L1249.4,1841.7 L1249.9,1841.7 L1250.4,1841.7 L1250.9,1841.7 L1251.4,1841.7 L1251.9,1841.7 L1252.4,1841.7 L1252.9,1841.7 L1253.4,1841.7 L1253.9,1841.7 L1254.4,1841.7 L1254.9,1841.7 L1255.4,1841.7 L1255.9,1841.7 L1256.4,1841.7 L1256.9,1841.7 L1257.4,1841.7 L1257.9,1841.7 L1258.4,1841.7 L1258.9,1841.7 L1259.4,1841.7 L1259.9,1841.7 L1260.4,1841.7 L1260.9,1841.7 L1261.4,1841.7 L1261.9,1841.7 L1262.4,1841.7 L1262.9,1841.7 L1263.4,1841.7 L1263.9,1841.7 L1264.4,1841.7 L1264.9,1841.7 L1265.4,1841.7 L1265.9,1841.7 L1266.4,1841.7 L1266.9,1841.7 L1267.4,1841.7 L1267.9,1841.7 L1268.4,1841.7 L1268.9,1841.7 L1269.4,1841.7 L1269.9,1841.7 L1270.4,1841.7 L1270.9,1841.7 L1271.4,1841.7 L1271.9,1841.7 L1272.4,1841.7 L1272.9,1841.7 L1273.4,1841.7 L1273.9,1841.7 L1274.4,1841.7 L1274.9,1841.7 L1275.4,1841.7 L1275.9,1841.7 L1276.4,1841.7 L1276.9,1841.7 L1277.4,1841.7 L1277.9,1841.7 L1278.4,1841.7 L1278.9,1841.7 L1279.4,1841.7 L1279.9,1841.7 L1280.4,1841.7 L1280.9,1841.7 L1281.4,1841.7 L1281.9,1841.7 L1282.4,1841.7 L1282.9,1841.7 L1283.4,1841.7 L1283.9,1841.7 L1284.4,1841.7 L1284.9,1841.7 L1285.4,1841.7 L1285.9,1841.7 L1286.4,1841.7 L1286.9,1841.7 L1287.4,1841.7 L1287.9,1841.7 L1288.4,1841.7 L1288.9,1841.7 L1289.4,1841.7 L1289.9,1841.7 L1290.4,1841.7 L1290.9,1841.7 L1291.4,1841.69 L1291.9,1841.69 L1292.4,1841.69 L1292.9,1841.69 L1293.4,1841.68 L1293.9,1841.68 L1294.4,1841.67 L1294.9,1841.66 L1295.4,1841.65 L1295.9,1841.63 L1296.4,1841.61 L1296.9,1841.59 L1297.4,1841.56 L1297.9,1841.52 L1298.4,1841.47 L1298.9,1841.41 L1299.4,1841.34 L1299.9,1841.25 L1300.4,1841.14 L1300.9,1841.01 L1301.4,1840.86 L1301.9,1840.67 L1302.4,1840.46 L1302.9,1840.2 L1303.4,1839.9 L1303.9,1839.55 L1304.4,1839.14 L1304.9,1838.67 L1305.4,1838.13 L1305.9,1837.53 L1306.4,1836.84 L1306.9,1836.07 L1307.4,1835.2 L1307.9,1834.25 L1308.4,1833.2 L1308.9,1832.04 L1309.4,1830.79 L1309.9,1829.44 L1310.4,1827.99 L1310.9,1826.45 L1311.4,1824.82 L1311.9,1823.11 L1312.4,1821.33 L1312.9,1819.49 L1313.4,1817.62 L1313.9,1815.72 L1314.4,1813.81 L1314.9,1811.91 L1315.4,1810.04 L1315.9,1808.23 L1316.4,1806.5 L1316.9,1804.86 L1317.4,1803.35 L1317.9,1801.98 L1318.4,1800.76 L1318.9,1799.73 L1319.4,1798.88 L1319.9,1798.24 L1320.4,1797.82 L1320.9,1797.62 L1321.4,1797.64 L1321.9,1797.89 L1322.4,1798.35 L1322.9,1799.03 L1323.4,1799.92 L1323.9,1800.99 L1324.4,1802.24 L1324.9,1803.64 L1325.4,1805.18 L1325.9,1806.84 L1326.4,1808.59 L1326.9,1810.41 L1327.4,1812.29 L1327.9,1814.19 L1328.4,1816.1 L1328.9,1818 L1329.4,1819.87 L1329.9,1821.69 L1330.4,1823.45 L1330.9,1825.15 L1331.4,1826.76 L1331.9,1828.29 L1332.4,1829.72 L1332.9,1831.05 L1333.4,1832.28 L1333.9,1833.41 L1334.4,1834.45 L1334.9,1835.38 L1335.4,1836.23 L1335.9,1836.98 L1336.4,1837.65 L1336.9,1838.25 L1337.4,1838.77 L1337.9,1839.22 L1338.4,1839.62 L1338.9,1839.96 L1339.4,1840.25 L1339.9,1840.5 L1340.4,1840.71 L1340.9,1840.89 L1341.4,1841.04 L1341.9,1841.17 L1342.4,1841.27 L1342.9,1841.35 L1343.4,1841.42 L1343.9,1841.48 L1344.4,1841.53 L1344.9,1841.56 L1345.4,1841.59 L1345.9,1841.62 L1346.4,1841.64 L1346.9,1841.65 L1347.4,1841.66 L1347.9,1841.67 L1348.4,1841.68 L1348.9,1841.68 L1349.4,1841.69 L1349.9,1841.69 L1350.4,1841.69 L1350.9,1841.69 L1351.4,1841.7 L1351.9,1841.7 L1352.4,1841.7 L1352.9,1841.7 L1353.4,1841.7 L1353.9,1841.7 L1354.4,1841.7 L1354.9,1841.7 L1355.4,1841.7 L1355.9,1841.7 L1356.4,1841.7 L1356.9,1841.7 L1357.4,1841.7 L1357.9,1841.7 L1358.4,1841.7 L1358.9,1841.7 L1359.4,1841.7 L1359.9,1841.7 L1360.4,1841.7 L1360.9,1841.7 L1361.4,1841.7 L1361.9,1841.7 L1362.4,1841.7 L1362.9,1841.7 L1363.4,1841.7 L1363.9,1841.7 L1364.4,1841.7 L1364.9,1841.7 L1365.4,1841.7 L1365.9,1841.7 L1366.4,1841.7 L1366.9,1841.7 L1367.4,1841.7 L1367.9,1841.7 L1368.4,1841.7 L1368.9,1841.7 L1369.4,1841.7 L1369.9,1841.7 L1370.4,1841.7 L1370.9,1841.7 L1371.4,1841.7 L1371.9,1841.7 L1372.4,1841.7 L1372.9,1841.7 L1373.4,1841.7 L1373.9,1841.7 L1374.4,1841.7 L1374.9,1841.7 L1375.4,1841.7 L1375.9,1841.7 L1376.4,1841.7 L1376.9,1841.7 L1377.4,1841.7 L1377.9,1841.7 L1378.4,1841.7 L1378.9,1841.7 L1379.4,1841.7 L1379.9,1841.7 L1380.4,1841.7 L1380.9,1841.7 L1381.4,1841.7 L1381.4,1841.7 Z" fill="#FF0000" />
<path d="M1263.4,1841.7 L1263.9,1841.7 L1264.4,1841.7 L1264.9,1841.7 L1265.4,1841.7 L1265.9,1841.62 L1266.4,1841.42 L1266.9,1841.12 L1267.4,1840.71 L1267.9,1840.2 L1268.4,1839.6 L1268.9,1838.92 L1269.4,1838.17 L1269.9,1837.37 L1270.4,1836.52 L1270.9,1835.65 L1271.4,1834.76 L1271.9,1833.88 L1272.4,1833.01 L1272.9,1832.17 L1273.4,1831.37 L1273.9,1830.64 L1274.4,1829.97 L1274.9,1829.39 L1275.4,1828.9 L1275.9,1828.51 L1276.4,1828.23 L1276.9,1828.06 L1277.4,1828 L1277.9,1828 L1278.4,1828 L1278.9,1828 L1279.4,1828 L1279.9,1828 L1280.4,1828 L1280.9,1828 L1281.4,1828 L1281.9,1828 L1282.4,1828 L1282.9,1828 L1283.4,1828 L1283.9,1828 L1284.4,1828 L1284.9,1828 L1285.4,1828 L1285.9,1828 L1286.4,1828 L1286.9,1828 L1287.4,1828 L1287.9,1828 L1288.4,1828 L1288.9,1828 L1289.4,1828 L1289.9,1828 L1290.4,1828 L1290.9,1828 L1291.4,1828 L1291.9,1828 L1292.4,1828 L1292.9,1828 L1293.4,1828 L1293.9,1828 L1294.4,1828 L1294.9,1828 L1295.4,1828 L1295.9,1828 L1296.4,1828 L1296.9,1828 L1297.4,1828 L1297.9,1828 L1298.4,1828 L1298.9,1828 L1299.4,1828 L1299.9,1828 L1300.4,1828 L1300.9,1828 L1301.4,1828 L1301.9,1828 L1302.4,1828 L1302.9,1828 L1303.4,1828 L1303.9,1828 L1304.4,1828 L1304.9,1828 L1305.4,1828 L1305.9,1828 L1306.4,1828 L1306.9,1828 L1307.4,1828 L1307.9,1828 L1308.4,1828.02 L1308.9,1828.07 L1309.4,1828.15 L1309.9,1828.26 L1310.4,1828.4 L1310.9,1828.57 L1311.4,1828.77 L1311.9,1828.99 L1312.4,1829.23 L1312.9,1829.51 L1313.4,1829.8 L1313.9,1830.12 L1314.4,1830.46 L1314.9,1830.82 L1315.4,1831.19 L1315.9,1831.58 L1316.4,1831.99 L1316.9,1832.41 L1317.4,1832.84 L1317.9,1833.28 L1318.4,1833.72 L1318.9,1834.17 L1319.4,1834.62 L1319.9,1835.08 L1320.4,1835.53 L1320.9,1835.98 L1321.4,1836.42 L1321.9,1836.86 L1322.4,1837.29 L1322.9,1837.71 L1323.4,1838.12 L1323.9,1838.51 L1324.4,1838.88 L1324.9,1839.24 L1325.4,1839.58 L1325.9,1839.9 L1326.4,1840.19 L1326.9,1840.47 L1327.4,1840.71 L1327.9,1840.93 L1328.4,1841.13 L1328.9,1841.3 L1329.4,1841.44 L1329.9,1841.55 L1330.4,1841.63 L1330.9,1841.68 L1331.4,1841.7 L1331.9,1841.7 L1332.4,1841.7 L1332.9,1841.7 L1333.4,1841.7 L1333.9,1841.7 L1334.4,1841.7 L1334.9,1841.7 L1335.4,1841.7 L1335.9,1841.7 L1336.4,1841.7 L1336.9,1841.7 L1337.4,1841.7 L1337.9,1841.7 L1338.4,1841.7 L1338.9,1841.7 L1339.4,1841.7" fill="none" stroke="#3A3AA8" stroke-width="1.3" />
<path d="M1231.4,1837.92 L1231.9,1837.24 L1232.4,1837.58 L1232.9,1838.93 L1233.4,1839.4 L1233.9,1839.35 L1234.4,1840.15 L1234.9,1839.23 L1235.4,1838.83 L1235.9,1837.69 L1236.4,1838.33 L1236.9,1838.25 L1237.4,1837.61 L1237.9,1837.1 L1238.4,1838.09 L1238.9,1836.82 L1239.4,1837.63 L1239.9,1836.78 L1240.4,1837.37 L1240.9,1837.81 L1241.4,1838.68 L1241.9,1838.38 L1242.4,1836.36 L1242.9,1837.36 L1243.4,1836.37 L1243.9,1835.93 L1244.4,1836.92 L1244.9,1836.41 L1245.4,1835.91 L1245.9,1836.85 L1246.4,1837.58 L1246.9,1836.8 L1247.4,1836.9 L1247.9,1835.66 L1248.4,1836.15 L1248.9,1837.62 L1249.4,1837.68 L1249.9,1838.56 L1250.4,1837.66 L1250.9,1837.16 L1251.4,1837.67 L1251.9,1838.33 L1252.4,1837.41 L1252.9,1837.8 L1253.4,1836.84 L1253.9,1837.88 L1254.4,1837.97 L1254.9,1838.2 L1255.4,1838.66 L1255.9,1836.1 L1256.4,1835.23 L1256.9,1836.27 L1257.4,1835.63 L1257.9,1836.89 L1258.4,1834.92 L1258.9,1833.26 L1259.4,1832.56 L1259.9,1831.1 L1260.4,1828.37 L1260.9,1824.78 L1261.4,1821.13 L1261.9,1816.72 L1262.4,1810.37 L1262.9,1803 L1263.4,1793.13 L1263.9,1783.15 L1264.4,1771.86 L1264.9,1761.73 L1265.4,1748.69 L1265.9,1735.28 L1266.4,1722.01 L1266.9,1708.75 L1267.4,1697.07 L1267.9,1688.78 L1268.4,1679 L1268.9,1672.77 L1269.4,1671.73 L1269.9,1675.5 L1270.4,1680.24 L1270.9,1687.15 L1271.4,1694.24 L1271.9,1701.1 L1272.4,1712.39 L1272.9,1726.02 L1273.4,1737.09 L1273.9,1749.45 L1274.4,1761.37 L1274.9,1771.25 L1275.4,1782.8 L1275.9,1792.58 L1276.4,1800.47 L1276.9,1804.71 L1277.4,1809.82 L1277.9,1814.76 L1278.4,1818.65 L1278.9,1820.45 L1279.4,1821.49 L1279.9,1824.13 L1280.4,1825.08 L1280.9,1824.03 L1281.4,1824.96 L1281.9,1826.35 L1282.4,1826.66 L1282.9,1827.05 L1283.4,1826.83 L1283.9,1826.97 L1284.4,1827.75 L1284.9,1827.91 L1285.4,1827.6 L1285.9,1828.28 L1286.4,1828.07 L1286.9,1828.76 L1287.4,1827.39 L1287.9,1826.31 L1288.4,1827.66 L1288.9,1827.05 L1289.4,1827.25 L1289.9,1827.43 L1290.4,1827.82 L1290.9,1827.63 L1291.4,1826.9 L1291.9,1828.3 L1292.4,1827.3 L1292.9,1827.74 L1293.4,1828.7 L1293.9,1828.4 L1294.4,1827.66 L1294.9,1827.8 L1295.4,1827.57 L1295.9,1827.94 L1296.4,1828.31 L1296.9,1827.26 L1297.4,1828.2 L1297.9,1827.16 L1298.4,1827.05 L1298.9,1827.46 L1299.4,1827.63 L1299.9,1827.74 L1300.4,1827.54 L1300.9,1827.37 L1301.4,1827.26 L1301.9,1828.59 L1302.4,1829.43 L1302.9,1827.78 L1303.4,1827.44 L1303.9,1827.02 L1304.4,1826.24 L1304.9,1826.33 L1305.4,1823.91 L1305.9,1823.46 L1306.4,1823.02 L1306.9,1823.15 L1307.4,1821.17 L1307.9,1819.67 L1308.4,1817.64 L1308.9,1816.45 L1309.4,1816.72 L1309.9,1816.75 L1310.4,1813.86 L1310.9,1813.33 L1311.4,1811.87 L1311.9,1810.34 L1312.4,1808.08 L1312.9,1805.86 L1313.4,1805.15 L1313.9,1803.44 L1314.4,1802.51 L1314.9,1798.81 L1315.4,1796.41 L1315.9,1795.72 L1316.4,1792.08 L1316.9,1790.55 L1317.4,1790.52 L1317.9,1789.95 L1318.4,1789.94 L1318.9,1789.49 L1319.4,1789.4 L1319.9,1790.4 L1320.4,1790.3 L1320.9,1793.56 L1321.4,1793.64 L1321.9,1793.14 L1322.4,1793.02 L1322.9,1793.67 L1323.4,1796.47 L1323.9,1799.45 L1324.4,1800.68 L1324.9,1799.72 L1325.4,1801.89 L1325.9,1804.97 L1326.4,1808.54 L1326.9,1809.86 L1327.4,1812.06 L1327.9,1813.38 L1328.4,1815.28 L1328.9,1819.44 L1329.4,1820.76 L1329.9,1821.51 L1330.4,1823.82 L1330.9,1826.33 L1331.4,1828.38 L1331.9,1830.27 L1332.4,1829.11 L1332.9,1829.54 L1333.4,1831.82 L1333.9,1832.05 L1334.4,1834.41 L1334.9,1835.73 L1335.4,1836.95 L1335.9,1837.51 L1336.4,1837.46 L1336.9,1836.65 L1337.4,1837.27 L1337.9,1838.38 L1338.4,1838.98 L1338.9,1839.7 L1339.4,1839.82 L1339.9,1840.8 L1340.4,1840.69 L1340.9,1840.55 L1341.4,1840.19 L1341.9,1841.17 L1342.4,1840.97" fill="none" stroke="#000" stroke-width="1.1" />
<path d="M1237.4,1837.7 L1237.9,1837.7 L1238.4,1837.7 L1238.9,1837.7 L1239.4,1837.7 L1239.9,1837.7 L1240.4,1837.7 L1240.9,1837.7 L1241.4,1837.7 L1241.9,1837.7 L1242.4,1837.7 L1242.9,1837.7 L1243.4,1837.7 L1243.9,1837.7 L1244.4,1837.7 L1244.9,1837.7 L1245.4,1837.7 L1245.9,1837.7 L1246.4,1837.7 L1246.9,1837.7 L1247.4,1837.7 L1247.9,1837.7 L1248.4,1837.7 L1248.9,1837.7 L1249.4,1837.7 L1249.9,1837.7 L1250.4,1837.7 L1250.9,1837.7 L1251.4,1837.7 L1251.9,1837.7 L1252.4,1837.69 L1252.9,1837.69 L1253.4,1837.68 L1253.9,1837.66 L1254.4,1837.64 L1254.9,1837.6 L1255.4,1837.54 L1255.9,1837.43 L1256.4,1837.28 L1256.9,1837.04 L1257.4,1836.69 L1257.9,1836.18 L1258.4,1835.45 L1258.9,1834.42 L1259.4,1833 L1259.9,1831.1 L1260.4,1828.57 L1260.9,1825.3 L1261.4,1821.14 L1261.9,1815.97 L1262.4,1809.67 L1262.9,1802.16 L1263.4,1793.42 L1263.9,1783.48 L1264.4,1772.45 L1264.9,1760.51 L1265.4,1747.96 L1265.9,1735.09 L1266.4,1722.28 L1266.9,1710.03 L1267.4,1698.85 L1267.9,1689.22 L1268.4,1681.59 L1268.9,1676.31 L1269.4,1673.63 L1269.9,1677.66 L1270.4,1680.36 L1270.9,1685.59 L1271.4,1693.03 L1271.9,1702.31 L1272.4,1712.98 L1272.9,1724.54 L1273.4,1736.53 L1273.9,1748.49 L1274.4,1760.04 L1274.9,1770.88 L1275.4,1780.79 L1275.9,1789.63 L1276.4,1797.34 L1276.9,1803.94 L1277.4,1809.5 L1277.9,1814.05 L1278.4,1817.66 L1278.9,1820.47 L1279.4,1822.61 L1279.9,1824.2 L1280.4,1825.38 L1280.9,1826.22 L1281.4,1826.81 L1281.9,1827.22 L1282.4,1827.49 L1282.9,1827.68 L1283.4,1827.8 L1283.9,1827.88 L1284.4,1827.93 L1284.9,1827.96 L1285.4,1827.97 L1285.9,1827.99 L1286.4,1827.99 L1286.9,1828 L1287.4,1828 L1287.9,1828 L1288.4,1828 L1288.9,1828 L1289.4,1828 L1289.9,1828 L1290.4,1828 L1290.9,1828 L1291.4,1827.99 L1291.9,1827.99 L1292.4,1827.99 L1292.9,1827.99 L1293.4,1827.98 L1293.9,1827.98 L1294.4,1827.97 L1294.9,1827.96 L1295.4,1827.95 L1295.9,1827.93 L1296.4,1827.91 L1296.9,1827.89 L1297.4,1827.86 L1297.9,1827.82 L1298.4,1827.77 L1298.9,1827.71 L1299.4,1827.64 L1299.9,1827.55 L1300.4,1827.44 L1300.9,1827.31 L1301.4,1827.16 L1301.9,1826.97 L1302.4,1826.76 L1302.9,1826.5 L1303.4,1826.2 L1303.9,1825.85 L1304.4,1825.44 L1304.9,1824.97 L1305.4,1824.43 L1305.9,1823.83 L1306.4,1823.14 L1306.9,1822.37 L1307.4,1821.5 L1307.9,1820.55 L1308.4,1819.52 L1308.9,1818.42 L1309.4,1817.24 L1309.9,1816 L1310.4,1814.69 L1310.9,1813.32 L1311.4,1811.88 L1311.9,1810.39 L1312.4,1808.86 L1312.9,1807.3 L1313.4,1805.72 L1313.9,1804.14 L1314.4,1802.56 L1314.9,1801.03 L1315.4,1799.54 L1315.9,1798.12 L1316.4,1796.79 L1316.9,1795.57 L1317.4,1794.49 L1317.9,1793.55 L1318.4,1792.78 L1318.9,1792.2 L1319.4,1791.8 L1319.9,1791.62 L1320.4,1791.65 L1320.9,1791.9 L1321.4,1792.37 L1321.9,1793.05 L1322.4,1793.95 L1322.9,1795.04 L1323.4,1796.33 L1323.9,1797.8 L1324.4,1799.42 L1324.9,1801.18 L1325.4,1803.06 L1325.9,1805.04 L1326.4,1807.08 L1326.9,1809.18 L1327.4,1811.3 L1327.9,1813.42 L1328.4,1815.53 L1328.9,1817.59 L1329.4,1819.6 L1329.9,1821.54 L1330.4,1823.38 L1330.9,1825.13 L1331.4,1826.76 L1331.9,1828.29 L1332.4,1829.72 L1332.9,1831.05 L1333.4,1832.28 L1333.9,1833.41 L1334.4,1834.45 L1334.9,1835.38 L1335.4,1836.23 L1335.9,1836.98 L1336.4,1837.65 L1336.9,1838.25 L1337.4,1838.77 L1337.9,1839.22 L1338.4,1839.62 L1338.9,1839.96 L1339.4,1840.25 L1339.9,1840.5 L1340.4,1840.71 L1340.9,1840.89 L1341.4,1841.04 L1341.9,1841.17 L1342.4,1841.27" fill="none" stroke="#00F000" stroke-width="1.4" />
<line x1="1226.4" y1="1671.9" x2="1226.4" y2="1842.5" stroke="#0C2060" stroke-width="1.8" />
<line x1="1225.6" y1="1841.7" x2="1382.5" y2="1841.7" stroke="#0C2060" stroke-width="1.8" />
<line x1="1220.7" y1="1841.7" x2="1225.9" y2="1841.7" stroke="#000" stroke-width="1.1" />
<line x1="1222.8" y1="1831.09" x2="1225.9" y2="1831.09" stroke="#000" stroke-width="1.1" />
<line x1="1222.8" y1="1820.48" x2="1225.9" y2="1820.48" stroke="#000" stroke-width="1.1" />
<line x1="1222.8" y1="1809.86" x2="1225.9" y2="1809.86" stroke="#000" stroke-width="1.1" />
<line x1="1220.7" y1="1799.25" x2="1225.9" y2="1799.25" stroke="#000" stroke-width="1.1" />
<line x1="1222.8" y1="1788.64" x2="1225.9" y2="1788.64" stroke="#000" stroke-width="1.1" />
<line x1="1222.8" y1="1778.03" x2="1225.9" y2="1778.03" stroke="#000" stroke-width="1.1" />
<line x1="1222.8" y1="1767.41" x2="1225.9" y2="1767.41" stroke="#000" stroke-width="1.1" />
<line x1="1220.7" y1="1756.8" x2="1225.9" y2="1756.8" stroke="#000" stroke-width="1.1" />
<line x1="1222.8" y1="1746.19" x2="1225.9" y2="1746.19" stroke="#000" stroke-width="1.1" />
<line x1="1222.8" y1="1735.58" x2="1225.9" y2="1735.58" stroke="#000" stroke-width="1.1" />
<line x1="1222.8" y1="1724.96" x2="1225.9" y2="1724.96" stroke="#000" stroke-width="1.1" />
<line x1="1220.7" y1="1714.35" x2="1225.9" y2="1714.35" stroke="#000" stroke-width="1.1" />
<line x1="1222.8" y1="1703.74" x2="1225.9" y2="1703.74" stroke="#000" stroke-width="1.1" />
<line x1="1222.8" y1="1693.12" x2="1225.9" y2="1693.12" stroke="#000" stroke-width="1.1" />
<line x1="1222.8" y1="1682.51" x2="1225.9" y2="1682.51" stroke="#000" stroke-width="1.1" />
<line x1="1220.7" y1="1671.9" x2="1225.9" y2="1671.9" stroke="#000" stroke-width="1.1" />
<line x1="1226.4" y1="1842.2" x2="1226.4" y2="1847.5" stroke="#000" stroke-width="1.1" />
<line x1="1236.18" y1="1842.2" x2="1236.18" y2="1844.7" stroke="#000" stroke-width="1.1" />
<line x1="1245.95" y1="1842.2" x2="1245.95" y2="1844.7" stroke="#000" stroke-width="1.1" />
<line x1="1255.73" y1="1842.2" x2="1255.73" y2="1844.7" stroke="#000" stroke-width="1.1" />
<line x1="1265.5" y1="1842.2" x2="1265.5" y2="1847.5" stroke="#000" stroke-width="1.1" />
<line x1="1275.28" y1="1842.2" x2="1275.28" y2="1844.7" stroke="#000" stroke-width="1.1" />
<line x1="1285.05" y1="1842.2" x2="1285.05" y2="1844.7" stroke="#000" stroke-width="1.1" />
<line x1="1294.83" y1="1842.2" x2="1294.83" y2="1844.7" stroke="#000" stroke-width="1.1" />
<line x1="1304.6" y1="1842.2" x2="1304.6" y2="1847.5" stroke="#000" stroke-width="1.1" />
<line x1="1314.38" y1="1842.2" x2="1314.38" y2="1844.7" stroke="#000" stroke-width="1.1" />
<line x1="1324.15" y1="1842.2" x2="1324.15" y2="1844.7" stroke="#000" stroke-width="1.1" />
<line x1="1333.93" y1="1842.2" x2="1333.93" y2="1844.7" stroke="#000" stroke-width="1.1" />
<line x1="1343.7" y1="1842.2" x2="1343.7" y2="1847.5" stroke="#000" stroke-width="1.1" />
<line x1="1353.48" y1="1842.2" x2="1353.48" y2="1844.7" stroke="#000" stroke-width="1.1" />
<line x1="1363.25" y1="1842.2" x2="1363.25" y2="1844.7" stroke="#000" stroke-width="1.1" />
<line x1="1373.03" y1="1842.2" x2="1373.03" y2="1844.7" stroke="#000" stroke-width="1.1" />
<line x1="1382.8" y1="1842.2" x2="1382.8" y2="1847.5" stroke="#000" stroke-width="1.1" />
<text x="1220.2" y="1676.3" font-size="13.2" text-anchor="end" font-family="'Liberation Serif', 'Times New Roman', serif" fill="#2a2a2a">1778</text>
<text x="1220.2" y="1718.75" font-size="13.2" text-anchor="end" font-family="'Liberation Serif', 'Times New Roman', serif" fill="#2a2a2a">1334</text>
<text x="1220.2" y="1761.2" font-size="13.2" text-anchor="end" font-family="'Liberation Serif', 'Times New Roman', serif" fill="#2a2a2a">889</text>
<text x="1220.2" y="1803.65" font-size="13.2" text-anchor="end" font-family="'Liberation Serif', 'Times New Roman', serif" fill="#2a2a2a">445</text>
<text x="1220.2" y="1846.1" font-size="13.2" text-anchor="end" font-family="'Liberation Serif', 'Times New Roman', serif" fill="#2a2a2a">0</text>
<text x="1226.4" y="1859" font-size="13.2" text-anchor="middle" font-family="'Liberation Serif', 'Times New Roman', serif" fill="#2a2a2a">40.0</text>
<text x="1265.5" y="1859" font-size="13.2" text-anchor="middle" font-family="'Liberation Serif', 'Times New Roman', serif" fill="#2a2a2a">180.0</text>
<text x="1304.6" y="1859" font-size="13.2" text-anchor="middle" font-family="'Liberation Serif', 'Times New Roman', serif" fill="#2a2a2a">320.0</text>
<text x="1343.7" y="1859" font-size="13.2" text-anchor="middle" font-family="'Liberation Serif', 'Times New Roman', serif" fill="#2a2a2a">460.0</text>
<text x="1382.8" y="1859" font-size="13.2" text-anchor="middle" font-family="'Liberation Serif', 'Times New Roman', serif" fill="#2a2a2a">600.0</text>
</g>
<g>
<path d="M1431.9,1841.5 L1431.9,1841.5 L1432.4,1841.5 L1432.9,1841.5 L1433.4,1841.5 L1433.9,1841.5 L1434.4,1841.5 L1434.9,1841.5 L1435.4,1841.5 L1435.9,1841.5 L1436.4,1841.5 L1436.9,1841.5 L1437.4,1841.5 L1437.9,1841.5 L1438.4,1841.5 L1438.9,1841.5 L1439.4,1841.5 L1439.9,1841.5 L1440.4,1841.5 L1440.9,1841.5 L1441.4,1841.5 L1441.9,1841.5 L1442.4,1841.5 L1442.9,1841.5 L1443.4,1841.5 L1443.9,1841.5 L1444.4,1841.5 L1444.9,1841.5 L1445.4,1841.5 L1445.9,1841.5 L1446.4,1841.5 L1446.9,1841.5 L1447.4,1841.5 L1447.9,1841.5 L1448.4,1841.5 L1448.9,1841.5 L1449.4,1841.5 L1449.9,1841.5 L1450.4,1841.5 L1450.9,1841.5 L1451.4,1841.5 L1451.9,1841.5 L1452.4,1841.5 L1452.9,1841.5 L1453.4,1841.5 L1453.9,1841.5 L1454.4,1841.5 L1454.9,1841.5 L1455.4,1841.5 L1455.9,1841.5 L1456.4,1841.5 L1456.9,1841.5 L1457.4,1841.5 L1457.9,1841.5 L1458.4,1841.5 L1458.9,1841.5 L1459.4,1841.5 L1459.9,1841.5 L1460.4,1841.5 L1460.9,1841.5 L1461.4,1841.5 L1461.9,1841.5 L1462.4,1841.5 L1462.9,1841.5 L1463.4,1841.5 L1463.9,1841.5 L1464.4,1841.5 L1464.9,1841.5 L1465.4,1841.5 L1465.9,1841.5 L1466.4,1841.5 L1466.9,1841.5 L1467.4,1841.5 L1467.9,1841.5 L1468.4,1841.5 L1468.9,1841.5 L1469.4,1841.5 L1469.9,1841.5 L1470.4,1841.5 L1470.9,1841.5 L1471.4,1841.43 L1471.9,1841.28 L1472.4,1841.03 L1472.9,1840.69 L1473.4,1840.28 L1473.9,1839.78 L1474.4,1839.22 L1474.9,1838.59 L1475.4,1837.91 L1475.9,1837.19 L1476.4,1836.43 L1476.9,1835.65 L1477.4,1834.86 L1477.9,1834.06 L1478.4,1833.28 L1478.9,1832.51 L1479.4,1831.77 L1479.9,1831.07 L1480.4,1830.42 L1480.9,1829.84 L1481.4,1829.31 L1481.9,1828.86 L1482.4,1828.5 L1482.9,1828.21 L1483.4,1828.02 L1483.9,1827.92 L1484.4,1827.9 L1484.9,1827.9 L1485.4,1827.9 L1485.9,1827.9 L1486.4,1827.9 L1486.9,1827.9 L1487.4,1827.9 L1487.9,1827.9 L1488.4,1827.9 L1488.9,1827.9 L1489.4,1827.9 L1489.9,1827.9 L1490.4,1827.9 L1490.9,1827.9 L1491.4,1827.9 L1491.9,1827.9 L1492.4,1827.9 L1492.9,1827.9 L1493.4,1827.9 L1493.9,1827.9 L1494.4,1827.9 L1494.9,1827.9 L1495.4,1827.9 L1495.9,1827.9 L1496.4,1827.9 L1496.9,1827.9 L1497.4,1827.9 L1497.9,1827.9 L1498.4,1827.9 L1498.9,1827.9 L1499.4,1827.9 L1499.9,1827.9 L1500.4,1827.9 L1500.9,1827.9 L1501.4,1827.9 L1501.9,1827.9 L1502.4,1827.9 L1502.9,1827.9 L1503.4,1827.9 L1503.9,1827.9 L1504.4,1827.9 L1504.9,1827.9 L1505.4,1827.9 L1505.9,1827.9 L1506.4,1827.9 L1506.9,1827.9 L1507.4,1827.9 L1507.9,1827.9 L1508.4,1827.9 L1508.9,1827.9 L1509.4,1827.9 L1509.9,1827.9 L1510.4,1827.9 L1510.9,1827.9 L1511.4,1827.9 L1511.9,1827.9 L1512.4,1827.9 L1512.9,1827.9 L1513.4,1827.9 L1513.9,1827.9 L1514.4,1827.9 L1514.9,1827.9 L1515.4,1827.9 L1515.9,1827.9 L1516.4,1827.9 L1516.9,1827.93 L1517.4,1828 L1517.9,1828.11 L1518.4,1828.27 L1518.9,1828.46 L1519.4,1828.69 L1519.9,1828.96 L1520.4,1829.26 L1520.9,1829.6 L1521.4,1829.97 L1521.9,1830.37 L1522.4,1830.79 L1522.9,1831.24 L1523.4,1831.71 L1523.9,1832.2 L1524.4,1832.7 L1524.9,1833.22 L1525.4,1833.74 L1525.9,1834.27 L1526.4,1834.81 L1526.9,1835.34 L1527.4,1835.87 L1527.9,1836.39 L1528.4,1836.9 L1528.9,1837.4 L1529.4,1837.88 L1529.9,1838.34 L1530.4,1838.78 L1530.9,1839.2 L1531.4,1839.58 L1531.9,1839.94 L1532.4,1840.26 L1532.9,1840.55 L1533.4,1840.81 L1533.9,1841.02 L1534.4,1841.2 L1534.9,1841.34 L1535.4,1841.43 L1535.9,1841.49 L1536.4,1841.5 L1536.9,1841.5 L1537.4,1841.5 L1537.9,1841.5 L1538.4,1841.5 L1538.9,1841.5 L1539.4,1841.5 L1539.9,1841.5 L1540.4,1841.5 L1540.9,1841.5 L1541.4,1841.5 L1541.9,1841.5 L1542.4,1841.5 L1542.9,1841.5 L1543.4,1841.5 L1543.9,1841.5 L1544.4,1841.5 L1544.9,1841.5 L1545.4,1841.5 L1545.9,1841.5 L1546.4,1841.5 L1546.9,1841.5 L1547.4,1841.5 L1547.9,1841.5 L1548.4,1841.5 L1548.9,1841.5 L1549.4,1841.5 L1549.9,1841.5 L1550.4,1841.5 L1550.9,1841.5 L1551.4,1841.5 L1551.9,1841.5 L1552.4,1841.5 L1552.9,1841.5 L1553.4,1841.5 L1553.9,1841.5 L1554.4,1841.5 L1554.9,1841.5 L1555.4,1841.5 L1555.9,1841.5 L1556.4,1841.5 L1556.9,1841.5 L1557.4,1841.5 L1557.9,1841.5 L1558.4,1841.5 L1558.9,1841.5 L1559.4,1841.5 L1559.9,1841.5 L1560.4,1841.5 L1560.9,1841.5 L1561.4,1841.5 L1561.9,1841.5 L1562.4,1841.5 L1562.9,1841.5 L1563.4,1841.5 L1563.9,1841.5 L1564.4,1841.5 L1564.9,1841.5 L1565.4,1841.5 L1565.9,1841.5 L1566.4,1841.5 L1566.9,1841.5 L1567.4,1841.5 L1567.9,1841.5 L1568.4,1841.5 L1568.9,1841.5 L1569.4,1841.5 L1569.9,1841.5 L1570.4,1841.5 L1570.9,1841.5 L1571.4,1841.5 L1571.9,1841.5 L1572.4,1841.5 L1572.9,1841.5 L1573.4,1841.5 L1573.9,1841.5 L1574.4,1841.5 L1574.9,1841.5 L1575.4,1841.5 L1575.9,1841.5 L1576.4,1841.5 L1576.9,1841.5 L1577.4,1841.5 L1577.9,1841.5 L1578.4,1841.5 L1578.9,1841.5 L1579.4,1841.5 L1579.9,1841.5 L1580.4,1841.5 L1580.9,1841.5 L1581.4,1841.5 L1581.9,1841.5 L1582.4,1841.5 L1582.9,1841.5 L1583.4,1841.5 L1583.9,1841.5 L1584.4,1841.5 L1584.9,1841.5 L1585.4,1841.5 L1585.9,1841.5 L1586.4,1841.5 L1586.4,1841.5 Z" fill="#E2E2F2" />
<path d="M1431.9,1841.5 L1431.9,1841.5 L1432.4,1841.5 L1432.9,1841.5 L1433.4,1841.5 L1433.9,1841.5 L1434.4,1841.5 L1434.9,1841.5 L1435.4,1841.5 L1435.9,1841.5 L1436.4,1841.5 L1436.9,1841.5 L1437.4,1841.5 L1437.9,1841.5 L1438.4,1841.5 L1438.9,1841.5 L1439.4,1841.5 L1439.9,1841.5 L1440.4,1841.5 L1440.9,1841.5 L1441.4,1841.5 L1441.9,1841.5 L1442.4,1841.5 L1442.9,1841.5 L1443.4,1841.5 L1443.9,1841.5 L1444.4,1841.5 L1444.9,1841.5 L1445.4,1841.5 L1445.9,1841.5 L1446.4,1841.5 L1446.9,1841.5 L1447.4,1841.5 L1447.9,1841.5 L1448.4,1841.5 L1448.9,1841.5 L1449.4,1841.5 L1449.9,1841.5 L1450.4,1841.5 L1450.9,1841.5 L1451.4,1841.5 L1451.9,1841.5 L1452.4,1841.5 L1452.9,1841.5 L1453.4,1841.5 L1453.9,1841.5 L1454.4,1841.5 L1454.9,1841.5 L1455.4,1841.5 L1455.9,1841.5 L1456.4,1841.5 L1456.9,1841.5 L1457.4,1841.5 L1457.9,1841.5 L1458.4,1841.5 L1458.9,1841.5 L1459.4,1841.5 L1459.9,1841.5 L1460.4,1841.5 L1460.9,1841.49 L1461.4,1841.49 L1461.9,1841.48 L1462.4,1841.46 L1462.9,1841.43 L1463.4,1841.38 L1463.9,1841.28 L1464.4,1841.12 L1464.9,1840.87 L1465.4,1840.47 L1465.9,1839.85 L1466.4,1838.92 L1466.9,1837.56 L1467.4,1835.61 L1467.9,1832.89 L1468.4,1829.21 L1468.9,1824.36 L1469.4,1818.13 L1469.9,1810.36 L1470.4,1800.96 L1470.9,1789.9 L1471.4,1777.33 L1471.9,1763.5 L1472.4,1748.85 L1472.9,1733.94 L1473.4,1719.46 L1473.9,1706.18 L1474.4,1694.86 L1474.9,1686.2 L1475.4,1680.76 L1475.9,1678.9 L1476.4,1680.76 L1476.9,1686.2 L1477.4,1694.86 L1477.9,1706.18 L1478.4,1719.46 L1478.9,1733.94 L1479.4,1748.85 L1479.9,1763.5 L1480.4,1777.33 L1480.9,1789.9 L1481.4,1800.96 L1481.9,1810.36 L1482.4,1818.13 L1482.9,1824.36 L1483.4,1829.21 L1483.9,1832.89 L1484.4,1835.61 L1484.9,1837.56 L1485.4,1838.92 L1485.9,1839.85 L1486.4,1840.47 L1486.9,1840.87 L1487.4,1841.12 L1487.9,1841.28 L1488.4,1841.38 L1488.9,1841.43 L1489.4,1841.46 L1489.9,1841.48 L1490.4,1841.49 L1490.9,1841.49 L1491.4,1841.5 L1491.9,1841.5 L1492.4,1841.5 L1492.9,1841.5 L1493.4,1841.5 L1493.9,1841.5 L1494.4,1841.5 L1494.9,1841.5 L1495.4,1841.5 L1495.9,1841.5 L1496.4,1841.5 L1496.9,1841.5 L1497.4,1841.5 L1497.9,1841.5 L1498.4,1841.5 L1498.9,1841.5 L1499.4,1841.5 L1499.9,1841.5 L1500.4,1841.5 L1500.9,1841.5 L1501.4,1841.5 L1501.9,1841.5 L1502.4,1841.5 L1502.9,1841.5 L1503.4,1841.5 L1503.9,1841.5 L1504.4,1841.5 L1504.9,1841.5 L1505.4,1841.5 L1505.9,1841.5 L1506.4,1841.5 L1506.9,1841.5 L1507.4,1841.5 L1507.9,1841.5 L1508.4,1841.5 L1508.9,1841.5 L1509.4,1841.5 L1509.9,1841.5 L1510.4,1841.5 L1510.9,1841.5 L1511.4,1841.5 L1511.9,1841.5 L1512.4,1841.5 L1512.9,1841.5 L1513.4,1841.5 L1513.9,1841.5 L1514.4,1841.5 L1514.9,1841.5 L1515.4,1841.5 L1515.9,1841.5 L1516.4,1841.5 L1516.9,1841.5 L1517.4,1841.5 L1517.9,1841.5 L1518.4,1841.5 L1518.9,1841.5 L1519.4,1841.5 L1519.9,1841.5 L1520.4,1841.5 L1520.9,1841.5 L1521.4,1841.5 L1521.9,1841.5 L1522.4,1841.5 L1522.9,1841.5 L1523.4,1841.5 L1523.9,1841.5 L1524.4,1841.5 L1524.9,1841.5 L1525.4,1841.5 L1525.9,1841.5 L1526.4,1841.5 L1526.9,1841.5 L1527.4,1841.5 L1527.9,1841.5 L1528.4,1841.5 L1528.9,1841.5 L1529.4,1841.5 L1529.9,1841.5 L1530.4,1841.5 L1530.9,1841.5 L1531.4,1841.5 L1531.9,1841.5 L1532.4,1841.5 L1532.9,1841.5 L1533.4,1841.5 L1533.9,1841.5 L1534.4,1841.5 L1534.9,1841.5 L1535.4,1841.5 L1535.9,1841.5 L1536.4,1841.5 L1536.9,1841.5 L1537.4,1841.5 L1537.9,1841.5 L1538.4,1841.5 L1538.9,1841.5 L1539.4,1841.5 L1539.9,1841.5 L1540.4,1841.5 L1540.9,1841.5 L1541.4,1841.5 L1541.9,1841.5 L1542.4,1841.5 L1542.9,1841.5 L1543.4,1841.5 L1543.9,1841.5 L1544.4,1841.5 L1544.9,1841.5 L1545.4,1841.5 L1545.9,1841.5 L1546.4,1841.5 L1546.9,1841.5 L1547.4,1841.5 L1547.9,1841.5 L1548.4,1841.5 L1548.9,1841.5 L1549.4,1841.5 L1549.9,1841.5 L1550.4,1841.5 L1550.9,1841.5 L1551.4,1841.5 L1551.9,1841.5 L1552.4,1841.5 L1552.9,1841.5 L1553.4,1841.5 L1553.9,1841.5 L1554.4,1841.5 L1554.9,1841.5 L1555.4,1841.5 L1555.9,1841.5 L1556.4,1841.5 L1556.9,1841.5 L1557.4,1841.5 L1557.9,1841.5 L1558.4,1841.5 L1558.9,1841.5 L1559.4,1841.5 L1559.9,1841.5 L1560.4,1841.5 L1560.9,1841.5 L1561.4,1841.5 L1561.9,1841.5 L1562.4,1841.5 L1562.9,1841.5 L1563.4,1841.5 L1563.9,1841.5 L1564.4,1841.5 L1564.9,1841.5 L1565.4,1841.5 L1565.9,1841.5 L1566.4,1841.5 L1566.9,1841.5 L1567.4,1841.5 L1567.9,1841.5 L1568.4,1841.5 L1568.9,1841.5 L1569.4,1841.5 L1569.9,1841.5 L1570.4,1841.5 L1570.9,1841.5 L1571.4,1841.5 L1571.9,1841.5 L1572.4,1841.5 L1572.9,1841.5 L1573.4,1841.5 L1573.9,1841.5 L1574.4,1841.5 L1574.9,1841.5 L1575.4,1841.5 L1575.9,1841.5 L1576.4,1841.5 L1576.9,1841.5 L1577.4,1841.5 L1577.9,1841.5 L1578.4,1841.5 L1578.9,1841.5 L1579.4,1841.5 L1579.9,1841.5 L1580.4,1841.5 L1580.9,1841.5 L1581.4,1841.5 L1581.9,1841.5 L1582.4,1841.5 L1582.9,1841.5 L1583.4,1841.5 L1583.9,1841.5 L1584.4,1841.5 L1584.9,1841.5 L1585.4,1841.5 L1585.9,1841.5 L1586.4,1841.5 L1586.4,1841.5 Z" fill="#FF0000" />
<path d="M1431.9,1841.5 L1431.9,1841.5 L1432.4,1841.5 L1432.9,1841.5 L1433.4,1841.5 L1433.9,1841.5 L1434.4,1841.5 L1434.9,1841.5 L1435.4,1841.5 L1435.9,1841.5 L1436.4,1841.5 L1436.9,1841.5 L1437.4,1841.5 L1437.9,1841.5 L1438.4,1841.5 L1438.9,1841.5 L1439.4,1841.5 L1439.9,1841.5 L1440.4,1841.5 L1440.9,1841.5 L1441.4,1841.5 L1441.9,1841.5 L1442.4,1841.5 L1442.9,1841.5 L1443.4,1841.5 L1443.9,1841.5 L1444.4,1841.5 L1444.9,1841.5 L1445.4,1841.5 L1445.9,1841.5 L1446.4,1841.5 L1446.9,1841.5 L1447.4,1841.5 L1447.9,1841.5 L1448.4,1841.5 L1448.9,1841.5 L1449.4,1841.5 L1449.9,1841.5 L1450.4,1841.5 L1450.9,1841.5 L1451.4,1841.5 L1451.9,1841.5 L1452.4,1841.5 L1452.9,1841.5 L1453.4,1841.5 L1453.9,1841.5 L1454.4,1841.5 L1454.9,1841.5 L1455.4,1841.5 L1455.9,1841.5 L1456.4,1841.5 L1456.9,1841.5 L1457.4,1841.5 L1457.9,1841.5 L1458.4,1841.5 L1458.9,1841.5 L1459.4,1841.5 L1459.9,1841.5 L1460.4,1841.5 L1460.9,1841.5 L1461.4,1841.5 L1461.9,1841.5 L1462.4,1841.5 L1462.9,1841.5 L1463.4,1841.5 L1463.9,1841.5 L1464.4,1841.5 L1464.9,1841.5 L1465.4,1841.5 L1465.9,1841.5 L1466.4,1841.5 L1466.9,1841.5 L1467.4,1841.5 L1467.9,1841.5 L1468.4,1841.5 L1468.9,1841.5 L1469.4,1841.5 L1469.9,1841.5 L1470.4,1841.5 L1470.9,1841.5 L1471.4,1841.43 L1471.9,1841.28 L1472.4,1841.03 L1472.9,1840.69 L1473.4,1840.28 L1473.9,1839.78 L1474.4,1839.22 L1474.9,1838.59 L1475.4,1837.91 L1475.9,1837.19 L1476.4,1836.43 L1476.9,1835.65 L1477.4,1834.86 L1477.9,1834.06 L1478.4,1833.28 L1478.9,1832.51 L1479.4,1831.77 L1479.9,1831.07 L1480.4,1830.42 L1480.9,1829.84 L1481.4,1829.31 L1481.9,1828.86 L1482.4,1828.5 L1482.9,1828.21 L1483.4,1829.21 L1483.9,1832.89 L1484.4,1835.61 L1484.9,1837.56 L1485.4,1838.92 L1485.9,1839.85 L1486.4,1840.47 L1486.9,1840.87 L1487.4,1841.12 L1487.9,1841.28 L1488.4,1841.38 L1488.9,1841.43 L1489.4,1841.46 L1489.9,1841.48 L1490.4,1841.49 L1490.9,1841.49 L1491.4,1841.5 L1491.9,1841.5 L1492.4,1841.5 L1492.9,1841.5 L1493.4,1841.5 L1493.9,1841.5 L1494.4,1841.5 L1494.9,1841.5 L1495.4,1841.5 L1495.9,1841.5 L1496.4,1841.5 L1496.9,1841.5 L1497.4,1841.5 L1497.9,1841.5 L1498.4,1841.5 L1498.9,1841.5 L1499.4,1841.5 L1499.9,1841.5 L1500.4,1841.5 L1500.9,1841.5 L1501.4,1841.5 L1501.9,1841.5 L1502.4,1841.5 L1502.9,1841.5 L1503.4,1841.5 L1503.9,1841.5 L1504.4,1841.5 L1504.9,1841.5 L1505.4,1841.5 L1505.9,1841.5 L1506.4,1841.5 L1506.9,1841.5 L1507.4,1841.5 L1507.9,1841.5 L1508.4,1841.5 L1508.9,1841.5 L1509.4,1841.5 L1509.9,1841.5 L1510.4,1841.5 L1510.9,1841.5 L1511.4,1841.5 L1511.9,1841.5 L1512.4,1841.5 L1512.9,1841.5 L1513.4,1841.5 L1513.9,1841.5 L1514.4,1841.5 L1514.9,1841.5 L1515.4,1841.5 L1515.9,1841.5 L1516.4,1841.5 L1516.9,1841.5 L1517.4,1841.5 L1517.9,1841.5 L1518.4,1841.5 L1518.9,1841.5 L1519.4,1841.5 L1519.9,1841.5 L1520.4,1841.5 L1520.9,1841.5 L1521.4,1841.5 L1521.9,1841.5 L1522.4,1841.5 L1522.9,1841.5 L1523.4,1841.5 L1523.9,1841.5 L1524.4,1841.5 L1524.9,1841.5 L1525.4,1841.5 L1525.9,1841.5 L1526.4,1841.5 L1526.9,1841.5 L1527.4,1841.5 L1527.9,1841.5 L1528.4,1841.5 L1528.9,1841.5 L1529.4,1841.5 L1529.9,1841.5 L1530.4,1841.5 L1530.9,1841.5 L1531.4,1841.5 L1531.9,1841.5 L1532.4,1841.5 L1532.9,1841.5 L1533.4,1841.5 L1533.9,1841.5 L1534.4,1841.5 L1534.9,1841.5 L1535.4,1841.5 L1535.9,1841.5 L1536.4,1841.5 L1536.9,1841.5 L1537.4,1841.5 L1537.9,1841.5 L1538.4,1841.5 L1538.9,1841.5 L1539.4,1841.5 L1539.9,1841.5 L1540.4,1841.5 L1540.9,1841.5 L1541.4,1841.5 L1541.9,1841.5 L1542.4,1841.5 L1542.9,1841.5 L1543.4,1841.5 L1543.9,1841.5 L1544.4,1841.5 L1544.9,1841.5 L1545.4,1841.5 L1545.9,1841.5 L1546.4,1841.5 L1546.9,1841.5 L1547.4,1841.5 L1547.9,1841.5 L1548.4,1841.5 L1548.9,1841.5 L1549.4,1841.5 L1549.9,1841.5 L1550.4,1841.5 L1550.9,1841.5 L1551.4,1841.5 L1551.9,1841.5 L1552.4,1841.5 L1552.9,1841.5 L1553.4,1841.5 L1553.9,1841.5 L1554.4,1841.5 L1554.9,1841.5 L1555.4,1841.5 L1555.9,1841.5 L1556.4,1841.5 L1556.9,1841.5 L1557.4,1841.5 L1557.9,1841.5 L1558.4,1841.5 L1558.9,1841.5 L1559.4,1841.5 L1559.9,1841.5 L1560.4,1841.5 L1560.9,1841.5 L1561.4,1841.5 L1561.9,1841.5 L1562.4,1841.5 L1562.9,1841.5 L1563.4,1841.5 L1563.9,1841.5 L1564.4,1841.5 L1564.9,1841.5 L1565.4,1841.5 L1565.9,1841.5 L1566.4,1841.5 L1566.9,1841.5 L1567.4,1841.5 L1567.9,1841.5 L1568.4,1841.5 L1568.9,1841.5 L1569.4,1841.5 L1569.9,1841.5 L1570.4,1841.5 L1570.9,1841.5 L1571.4,1841.5 L1571.9,1841.5 L1572.4,1841.5 L1572.9,1841.5 L1573.4,1841.5 L1573.9,1841.5 L1574.4,1841.5 L1574.9,1841.5 L1575.4,1841.5 L1575.9,1841.5 L1576.4,1841.5 L1576.9,1841.5 L1577.4,1841.5 L1577.9,1841.5 L1578.4,1841.5 L1578.9,1841.5 L1579.4,1841.5 L1579.9,1841.5 L1580.4,1841.5 L1580.9,1841.5 L1581.4,1841.5 L1581.9,1841.5 L1582.4,1841.5 L1582.9,1841.5 L1583.4,1841.5 L1583.9,1841.5 L1584.4,1841.5 L1584.9,1841.5 L1585.4,1841.5 L1585.9,1841.5 L1586.4,1841.5 L1586.4,1841.5 Z" fill="#D6101E" />
<path d="M1431.9,1841.5 L1431.9,1841.5 L1432.4,1841.5 L1432.9,1841.5 L1433.4,1841.5 L1433.9,1841.5 L1434.4,1841.5 L1434.9,1841.5 L1435.4,1841.5 L1435.9,1841.5 L1436.4,1841.5 L1436.9,1841.5 L1437.4,1841.5 L1437.9,1841.5 L1438.4,1841.5 L1438.9,1841.5 L1439.4,1841.5 L1439.9,1841.5 L1440.4,1841.5 L1440.9,1841.5 L1441.4,1841.5 L1441.9,1841.5 L1442.4,1841.5 L1442.9,1841.5 L1443.4,1841.5 L1443.9,1841.5 L1444.4,1841.5 L1444.9,1841.5 L1445.4,1841.5 L1445.9,1841.5 L1446.4,1841.5 L1446.9,1841.5 L1447.4,1841.5 L1447.9,1841.5 L1448.4,1841.5 L1448.9,1841.5 L1449.4,1841.5 L1449.9,1841.5 L1450.4,1841.5 L1450.9,1841.5 L1451.4,1841.5 L1451.9,1841.5 L1452.4,1841.5 L1452.9,1841.5 L1453.4,1841.5 L1453.9,1841.5 L1454.4,1841.5 L1454.9,1841.5 L1455.4,1841.5 L1455.9,1841.5 L1456.4,1841.5 L1456.9,1841.5 L1457.4,1841.5 L1457.9,1841.5 L1458.4,1841.5 L1458.9,1841.5 L1459.4,1841.5 L1459.9,1841.5 L1460.4,1841.5 L1460.9,1841.5 L1461.4,1841.5 L1461.9,1841.5 L1462.4,1841.5 L1462.9,1841.5 L1463.4,1841.5 L1463.9,1841.5 L1464.4,1841.5 L1464.9,1841.5 L1465.4,1841.5 L1465.9,1841.5 L1466.4,1841.5 L1466.9,1841.5 L1467.4,1841.5 L1467.9,1841.5 L1468.4,1841.5 L1468.9,1841.5 L1469.4,1841.5 L1469.9,1841.5 L1470.4,1841.5 L1470.9,1841.5 L1471.4,1841.5 L1471.9,1841.5 L1472.4,1841.5 L1472.9,1841.5 L1473.4,1841.5 L1473.9,1841.5 L1474.4,1841.5 L1474.9,1841.5 L1475.4,1841.5 L1475.9,1841.5 L1476.4,1841.5 L1476.9,1841.5 L1477.4,1841.5 L1477.9,1841.5 L1478.4,1841.5 L1478.9,1841.5 L1479.4,1841.5 L1479.9,1841.5 L1480.4,1841.5 L1480.9,1841.5 L1481.4,1841.5 L1481.9,1841.5 L1482.4,1841.5 L1482.9,1841.5 L1483.4,1841.5 L1483.9,1841.5 L1484.4,1841.5 L1484.9,1841.5 L1485.4,1841.5 L1485.9,1841.5 L1486.4,1841.5 L1486.9,1841.5 L1487.4,1841.5 L1487.9,1841.5 L1488.4,1841.5 L1488.9,1841.5 L1489.4,1841.5 L1489.9,1841.5 L1490.4,1841.5 L1490.9,1841.5 L1491.4,1841.5 L1491.9,1841.5 L1492.4,1841.5 L1492.9,1841.5 L1493.4,1841.5 L1493.9,1841.5 L1494.4,1841.5 L1494.9,1841.5 L1495.4,1841.5 L1495.9,1841.5 L1496.4,1841.5 L1496.9,1841.5 L1497.4,1841.5 L1497.9,1841.5 L1498.4,1841.5 L1498.9,1841.5 L1499.4,1841.49 L1499.9,1841.49 L1500.4,1841.49 L1500.9,1841.49 L1501.4,1841.48 L1501.9,1841.47 L1502.4,1841.47 L1502.9,1841.45 L1503.4,1841.44 L1503.9,1841.42 L1504.4,1841.39 L1504.9,1841.36 L1505.4,1841.31 L1505.9,1841.26 L1506.4,1841.19 L1506.9,1841.1 L1507.4,1840.99 L1507.9,1840.86 L1508.4,1840.69 L1508.9,1840.48 L1509.4,1840.24 L1509.9,1839.94 L1510.4,1839.58 L1510.9,1839.15 L1511.4,1838.65 L1511.9,1838.05 L1512.4,1837.36 L1512.9,1836.56 L1513.4,1835.64 L1513.9,1834.59 L1514.4,1833.4 L1514.9,1832.06 L1515.4,1830.56 L1515.9,1828.89 L1516.4,1827.06 L1516.9,1825.07 L1517.4,1822.9 L1517.9,1820.58 L1518.4,1818.1 L1518.9,1815.49 L1519.4,1812.76 L1519.9,1809.92 L1520.4,1807.01 L1520.9,1804.05 L1521.4,1801.08 L1521.9,1798.13 L1522.4,1795.24 L1522.9,1792.45 L1523.4,1789.8 L1523.9,1787.33 L1524.4,1785.07 L1524.9,1783.07 L1525.4,1781.35 L1525.9,1779.94 L1526.4,1778.88 L1526.9,1778.17 L1527.4,1777.83 L1527.9,1777.87 L1528.4,1778.28 L1528.9,1779.06 L1529.4,1780.2 L1529.9,1781.67 L1530.4,1783.44 L1530.9,1785.5 L1531.4,1787.81 L1531.9,1790.32 L1532.4,1793 L1532.9,1795.82 L1533.4,1798.72 L1533.9,1801.68 L1534.4,1804.65 L1534.9,1807.6 L1535.4,1810.49 L1535.9,1813.31 L1536.4,1816.02 L1536.9,1818.61 L1537.4,1821.06 L1537.9,1823.35 L1538.4,1825.48 L1538.9,1827.44 L1539.4,1829.24 L1539.9,1830.87 L1540.4,1832.34 L1540.9,1833.65 L1541.4,1834.81 L1541.9,1835.84 L1542.4,1836.73 L1542.9,1837.51 L1543.4,1838.18 L1543.9,1838.75 L1544.4,1839.24 L1544.9,1839.66 L1545.4,1840 L1545.9,1840.29 L1546.4,1840.53 L1546.9,1840.72 L1547.4,1840.88 L1547.9,1841.01 L1548.4,1841.12 L1548.9,1841.2 L1549.4,1841.27 L1549.9,1841.32 L1550.4,1841.36 L1550.9,1841.4 L1551.4,1841.42 L1551.9,1841.44 L1552.4,1841.46 L1552.9,1841.47 L1553.4,1841.48 L1553.9,1841.48 L1554.4,1841.49 L1554.9,1841.49 L1555.4,1841.49 L1555.9,1841.5 L1556.4,1841.5 L1556.9,1841.5 L1557.4,1841.5 L1557.9,1841.5 L1558.4,1841.5 L1558.9,1841.5 L1559.4,1841.5 L1559.9,1841.5 L1560.4,1841.5 L1560.9,1841.5 L1561.4,1841.5 L1561.9,1841.5 L1562.4,1841.5 L1562.9,1841.5 L1563.4,1841.5 L1563.9,1841.5 L1564.4,1841.5 L1564.9,1841.5 L1565.4,1841.5 L1565.9,1841.5 L1566.4,1841.5 L1566.9,1841.5 L1567.4,1841.5 L1567.9,1841.5 L1568.4,1841.5 L1568.9,1841.5 L1569.4,1841.5 L1569.9,1841.5 L1570.4,1841.5 L1570.9,1841.5 L1571.4,1841.5 L1571.9,1841.5 L1572.4,1841.5 L1572.9,1841.5 L1573.4,1841.5 L1573.9,1841.5 L1574.4,1841.5 L1574.9,1841.5 L1575.4,1841.5 L1575.9,1841.5 L1576.4,1841.5 L1576.9,1841.5 L1577.4,1841.5 L1577.9,1841.5 L1578.4,1841.5 L1578.9,1841.5 L1579.4,1841.5 L1579.9,1841.5 L1580.4,1841.5 L1580.9,1841.5 L1581.4,1841.5 L1581.9,1841.5 L1582.4,1841.5 L1582.9,1841.5 L1583.4,1841.5 L1583.9,1841.5 L1584.4,1841.5 L1584.9,1841.5 L1585.4,1841.5 L1585.9,1841.5 L1586.4,1841.5 L1586.4,1841.5 Z" fill="#FF0000" />
<path d="M1468.9,1841.5 L1469.4,1841.5 L1469.9,1841.5 L1470.4,1841.5 L1470.9,1841.5 L1471.4,1841.43 L1471.9,1841.28 L1472.4,1841.03 L1472.9,1840.69 L1473.4,1840.28 L1473.9,1839.78 L1474.4,1839.22 L1474.9,1838.59 L1475.4,1837.91 L1475.9,1837.19 L1476.4,1836.43 L1476.9,1835.65 L1477.4,1834.86 L1477.9,1834.06 L1478.4,1833.28 L1478.9,1832.51 L1479.4,1831.77 L1479.9,1831.07 L1480.4,1830.42 L1480.9,1829.84 L1481.4,1829.31 L1481.9,1828.86 L1482.4,1828.5 L1482.9,1828.21 L1483.4,1828.02 L1483.9,1827.92 L1484.4,1827.9 L1484.9,1827.9 L1485.4,1827.9 L1485.9,1827.9 L1486.4,1827.9 L1486.9,1827.9 L1487.4,1827.9 L1487.9,1827.9 L1488.4,1827.9 L1488.9,1827.9 L1489.4,1827.9 L1489.9,1827.9 L1490.4,1827.9 L1490.9,1827.9 L1491.4,1827.9 L1491.9,1827.9 L1492.4,1827.9 L1492.9,1827.9 L1493.4,1827.9 L1493.9,1827.9 L1494.4,1827.9 L1494.9,1827.9 L1495.4,1827.9 L1495.9,1827.9 L1496.4,1827.9 L1496.9,1827.9 L1497.4,1827.9 L1497.9,1827.9 L1498.4,1827.9 L1498.9,1827.9 L1499.4,1827.9 L1499.9,1827.9 L1500.4,1827.9 L1500.9,1827.9 L1501.4,1827.9 L1501.9,1827.9 L1502.4,1827.9 L1502.9,1827.9 L1503.4,1827.9 L1503.9,1827.9 L1504.4,1827.9 L1504.9,1827.9 L1505.4,1827.9 L1505.9,1827.9 L1506.4,1827.9 L1506.9,1827.9 L1507.4,1827.9 L1507.9,1827.9 L1508.4,1827.9 L1508.9,1827.9 L1509.4,1827.9 L1509.9,1827.9 L1510.4,1827.9 L1510.9,1827.9 L1511.4,1827.9 L1511.9,1827.9 L1512.4,1827.9 L1512.9,1827.9 L1513.4,1827.9 L1513.9,1827.9 L1514.4,1827.9 L1514.9,1827.9 L1515.4,1827.9 L1515.9,1827.9 L1516.4,1827.9 L1516.9,1827.93 L1517.4,1828 L1517.9,1828.11 L1518.4,1828.27 L1518.9,1828.46 L1519.4,1828.69 L1519.9,1828.96 L1520.4,1829.26 L1520.9,1829.6 L1521.4,1829.97 L1521.9,1830.37 L1522.4,1830.79 L1522.9,1831.24 L1523.4,1831.71 L1523.9,1832.2 L1524.4,1832.7 L1524.9,1833.22 L1525.4,1833.74 L1525.9,1834.27 L1526.4,1834.81 L1526.9,1835.34 L1527.4,1835.87 L1527.9,1836.39 L1528.4,1836.9 L1528.9,1837.4 L1529.4,1837.88 L1529.9,1838.34 L1530.4,1838.78 L1530.9,1839.2 L1531.4,1839.58 L1531.9,1839.94 L1532.4,1840.26 L1532.9,1840.55 L1533.4,1840.81 L1533.9,1841.02 L1534.4,1841.2 L1534.9,1841.34 L1535.4,1841.43 L1535.9,1841.49 L1536.4,1841.5 L1536.9,1841.5 L1537.4,1841.5 L1537.9,1841.5 L1538.4,1841.5 L1538.9,1841.5 L1539.4,1841.5 L1539.9,1841.5 L1540.4,1841.5 L1540.9,1841.5 L1541.4,1841.5 L1541.9,1841.5 L1542.4,1841.5 L1542.9,1841.5 L1543.4,1841.5 L1543.9,1841.5" fill="none" stroke="#3A3AA8" stroke-width="1.3" />
<path d="M1437.4,1837.95 L1437.9,1838.09 L1438.4,1838.41 L1438.9,1838.82 L1439.4,1839.58 L1439.9,1840.45 L1440.4,1839.96 L1440.9,1839.72 L1441.4,1839.25 L1441.9,1838.96 L1442.4,1839.86 L1442.9,1840.04 L1443.4,1840.41 L1443.9,1839.21 L1444.4,1839.25 L1444.9,1839.11 L1445.4,1839.71 L1445.9,1840.33 L1446.4,1840.23 L1446.9,1839.85 L1447.4,1839.25 L1447.9,1840.21 L1448.4,1839.55 L1448.9,1839.96 L1449.4,1839.97 L1449.9,1839.85 L1450.4,1839.85 L1450.9,1839.25 L1451.4,1838.61 L1451.9,1838.58 L1452.4,1839.16 L1452.9,1838.86 L1453.4,1838.71 L1453.9,1838.3 L1454.4,1838.45 L1454.9,1839.8 L1455.4,1840.03 L1455.9,1839.94 L1456.4,1838.99 L1456.9,1839.13 L1457.4,1838.52 L1457.9,1838.56 L1458.4,1839.58 L1458.9,1839.37 L1459.4,1838.9 L1459.9,1838.71 L1460.4,1839.87 L1460.9,1839.28 L1461.4,1839.6 L1461.9,1840.81 L1462.4,1840.49 L1462.9,1841.22 L1463.4,1841.15 L1463.9,1839.23 L1464.4,1837.28 L1464.9,1836.89 L1465.4,1836.83 L1465.9,1835.39 L1466.4,1835.04 L1466.9,1834.96 L1467.4,1834.9 L1467.9,1830.87 L1468.4,1828.83 L1468.9,1825.55 L1469.4,1818.55 L1469.9,1809.69 L1470.4,1800.45 L1470.9,1787.72 L1471.4,1775.12 L1471.9,1760.86 L1472.4,1745.52 L1472.9,1731.14 L1473.4,1715.89 L1473.9,1699.39 L1474.4,1689.71 L1474.9,1680.44 L1475.4,1673.89 L1475.9,1674.87 L1476.4,1675.99 L1476.9,1682.71 L1477.4,1690.22 L1477.9,1699.95 L1478.4,1710.72 L1478.9,1723.64 L1479.4,1739.06 L1479.9,1754.28 L1480.4,1765.13 L1480.9,1776.76 L1481.4,1789.8 L1481.9,1798.69 L1482.4,1806.55 L1482.9,1812.48 L1483.4,1818.06 L1483.9,1821.07 L1484.4,1823.51 L1484.9,1825.08 L1485.4,1825.2 L1485.9,1826.04 L1486.4,1827.74 L1486.9,1829.2 L1487.4,1829.13 L1487.9,1827.78 L1488.4,1827.14 L1488.9,1827.95 L1489.4,1827.06 L1489.9,1827.1 L1490.4,1827.93 L1490.9,1827.62 L1491.4,1827.82 L1491.9,1828.76 L1492.4,1828.79 L1492.9,1828.34 L1493.4,1827.16 L1493.9,1828.3 L1494.4,1827.98 L1494.9,1827.96 L1495.4,1828.01 L1495.9,1828.95 L1496.4,1827.57 L1496.9,1826.71 L1497.4,1825.96 L1497.9,1826.39 L1498.4,1825.86 L1498.9,1826.28 L1499.4,1826.16 L1499.9,1827.14 L1500.4,1827.29 L1500.9,1827.8 L1501.4,1828.68 L1501.9,1828.72 L1502.4,1829.28 L1502.9,1829.6 L1503.4,1829.22 L1503.9,1829.14 L1504.4,1826.98 L1504.9,1825.89 L1505.4,1825.77 L1505.9,1825.89 L1506.4,1827.22 L1506.9,1827.08 L1507.4,1828.3 L1507.9,1828.32 L1508.4,1828.13 L1508.9,1827.82 L1509.4,1826.53 L1509.9,1826.92 L1510.4,1824.42 L1510.9,1825.04 L1511.4,1824.06 L1511.9,1825.15 L1512.4,1823.45 L1512.9,1823.77 L1513.4,1822.34 L1513.9,1821.13 L1514.4,1819.11 L1514.9,1817.4 L1515.4,1815.79 L1515.9,1814.44 L1516.4,1810.86 L1516.9,1809.83 L1517.4,1807.74 L1517.9,1805.8 L1518.4,1802.93 L1518.9,1801.02 L1519.4,1798.17 L1519.9,1794.38 L1520.4,1791.97 L1520.9,1788.41 L1521.4,1786.26 L1521.9,1782.07 L1522.4,1780.26 L1522.9,1776.58 L1523.4,1775.07 L1523.9,1774.38 L1524.4,1772.59 L1524.9,1771.16 L1525.4,1769.94 L1525.9,1769.5 L1526.4,1770.03 L1526.9,1772.87 L1527.4,1772.97 L1527.9,1774.71 L1528.4,1775.99 L1528.9,1776.72 L1529.4,1780.03 L1529.9,1780.91 L1530.4,1781.4 L1530.9,1784.54 L1531.4,1788.32 L1531.9,1790.05 L1532.4,1793.34 L1532.9,1795.61 L1533.4,1797.94 L1533.9,1803.02 L1534.4,1805.5 L1534.9,1809.74 L1535.4,1812.6 L1535.9,1814.18 L1536.4,1817.66 L1536.9,1820.24 L1537.4,1822.44 L1537.9,1823.94 L1538.4,1825.57 L1538.9,1827.17 L1539.4,1829.49 L1539.9,1831.61 L1540.4,1832.48 L1540.9,1834.4 L1541.4,1835.87 L1541.9,1835.98 L1542.4,1837.4 L1542.9,1838.56 L1543.4,1838.04 L1543.9,1838.72 L1544.4,1840.76 L1544.9,1841.08 L1545.4,1839.57 L1545.9,1838.19 L1546.4,1839.49 L1546.9,1839.67 L1547.4,1839.81 L1547.9,1840.19 L1548.4,1841.5" fill="none" stroke="#000" stroke-width="1.1" />
<path d="M1442.9,1839 L1443.4,1839 L1443.9,1839 L1444.4,1839 L1444.9,1839 L1445.4,1839 L1445.9,1839 L1446.4,1839 L1446.9,1839 L1447.4,1839 L1447.9,1839 L1448.4,1839 L1448.9,1839 L1449.4,1839 L1449.9,1839 L1450.4,1839 L1450.9,1839 L1451.4,1839 L1451.9,1839 L1452.4,1839 L1452.9,1839 L1453.4,1839 L1453.9,1839 L1454.4,1839 L1454.9,1839 L1455.4,1839 L1455.9,1839 L1456.4,1839 L1456.9,1839 L1457.4,1839 L1457.9,1839 L1458.4,1839 L1458.9,1839 L1459.4,1839 L1459.9,1839 L1460.4,1839 L1460.9,1838.99 L1461.4,1838.99 L1461.9,1838.98 L1462.4,1838.96 L1462.9,1838.93 L1463.4,1838.88 L1463.9,1838.78 L1464.4,1838.62 L1464.9,1838.37 L1465.4,1837.97 L1465.9,1837.35 L1466.4,1836.42 L1466.9,1835.06 L1467.4,1833.11 L1467.9,1830.39 L1468.4,1826.71 L1468.9,1821.86 L1469.4,1815.63 L1469.9,1807.86 L1470.4,1798.46 L1470.9,1787.4 L1471.4,1774.76 L1471.9,1760.78 L1472.4,1745.88 L1472.9,1730.63 L1473.4,1715.74 L1473.9,1701.96 L1474.4,1690.08 L1474.9,1680.79 L1475.4,1674.67 L1475.9,1674.59 L1476.4,1675.69 L1476.9,1680.35 L1477.4,1688.22 L1477.9,1698.74 L1478.4,1711.24 L1478.9,1724.95 L1479.4,1739.12 L1479.9,1753.08 L1480.4,1766.25 L1480.9,1778.24 L1481.4,1788.77 L1481.9,1797.73 L1482.4,1805.13 L1482.9,1811.07 L1483.4,1815.73 L1483.9,1819.31 L1484.4,1822.01 L1484.9,1823.96 L1485.4,1825.32 L1485.9,1826.25 L1486.4,1826.87 L1486.9,1827.27 L1487.4,1827.52 L1487.9,1827.68 L1488.4,1827.78 L1488.9,1827.83 L1489.4,1827.86 L1489.9,1827.88 L1490.4,1827.89 L1490.9,1827.89 L1491.4,1827.9 L1491.9,1827.9 L1492.4,1827.9 L1492.9,1827.9 L1493.4,1827.9 L1493.9,1827.9 L1494.4,1827.9 L1494.9,1827.9 L1495.4,1827.9 L1495.9,1827.9 L1496.4,1827.9 L1496.9,1827.9 L1497.4,1827.9 L1497.9,1827.9 L1498.4,1827.9 L1498.9,1827.9 L1499.4,1827.89 L1499.9,1827.89 L1500.4,1827.89 L1500.9,1827.89 L1501.4,1827.88 L1501.9,1827.87 L1502.4,1827.87 L1502.9,1827.85 L1503.4,1827.84 L1503.9,1827.82 L1504.4,1827.79 L1504.9,1827.76 L1505.4,1827.71 L1505.9,1827.66 L1506.4,1827.59 L1506.9,1827.5 L1507.4,1827.39 L1507.9,1827.26 L1508.4,1827.09 L1508.9,1826.88 L1509.4,1826.64 L1509.9,1826.34 L1510.4,1825.98 L1510.9,1825.55 L1511.4,1825.05 L1511.9,1824.45 L1512.4,1823.76 L1512.9,1822.96 L1513.4,1822.04 L1513.9,1820.99 L1514.4,1819.8 L1514.9,1818.46 L1515.4,1816.96 L1515.9,1815.29 L1516.4,1813.47 L1516.9,1811.5 L1517.4,1809.41 L1517.9,1807.19 L1518.4,1804.87 L1518.9,1802.45 L1519.4,1799.95 L1519.9,1797.38 L1520.4,1794.77 L1520.9,1792.15 L1521.4,1789.55 L1521.9,1787 L1522.4,1784.53 L1522.9,1782.19 L1523.4,1780.01 L1523.9,1778.02 L1524.4,1776.27 L1524.9,1774.78 L1525.4,1773.59 L1525.9,1772.71 L1526.4,1772.18 L1526.9,1772.01 L1527.4,1772.2 L1527.9,1772.76 L1528.4,1773.68 L1528.9,1774.96 L1529.4,1776.58 L1529.9,1778.51 L1530.4,1780.73 L1530.9,1783.2 L1531.4,1785.89 L1531.9,1788.76 L1532.4,1791.77 L1532.9,1794.87 L1533.4,1798.03 L1533.9,1801.2 L1534.4,1804.35 L1534.9,1807.43 L1535.4,1810.43 L1535.9,1813.3 L1536.4,1816.02 L1536.9,1818.61 L1537.4,1821.06 L1537.9,1823.35 L1538.4,1825.48 L1538.9,1827.44 L1539.4,1829.24 L1539.9,1830.87 L1540.4,1832.34 L1540.9,1833.65 L1541.4,1834.81 L1541.9,1835.84 L1542.4,1836.73 L1542.9,1837.51 L1543.4,1838.18 L1543.9,1838.75 L1544.4,1839.24 L1544.9,1839.66 L1545.4,1840 L1545.9,1840.29 L1546.4,1840.53 L1546.9,1840.72 L1547.4,1840.88 L1547.9,1841.01 L1548.4,1841.12" fill="none" stroke="#00F000" stroke-width="1.4" />
<line x1="1431.4" y1="1672" x2="1431.4" y2="1842.3" stroke="#0C2060" stroke-width="1.8" />
<line x1="1430.6" y1="1841.5" x2="1587.7" y2="1841.5" stroke="#0C2060" stroke-width="1.8" />
<line x1="1425.7" y1="1841.5" x2="1430.9" y2="1841.5" stroke="#000" stroke-width="1.1" />
<line x1="1427.8" y1="1830.91" x2="1430.9" y2="1830.91" stroke="#000" stroke-width="1.1" />
<line x1="1427.8" y1="1820.31" x2="1430.9" y2="1820.31" stroke="#000" stroke-width="1.1" />
<line x1="1427.8" y1="1809.72" x2="1430.9" y2="1809.72" stroke="#000" stroke-width="1.1" />
<line x1="1425.7" y1="1799.12" x2="1430.9" y2="1799.12" stroke="#000" stroke-width="1.1" />
<line x1="1427.8" y1="1788.53" x2="1430.9" y2="1788.53" stroke="#000" stroke-width="1.1" />
<line x1="1427.8" y1="1777.94" x2="1430.9" y2="1777.94" stroke="#000" stroke-width="1.1" />
<line x1="1427.8" y1="1767.34" x2="1430.9" y2="1767.34" stroke="#000" stroke-width="1.1" />
<line x1="1425.7" y1="1756.75" x2="1430.9" y2="1756.75" stroke="#000" stroke-width="1.1" />
<line x1="1427.8" y1="1746.16" x2="1430.9" y2="1746.16" stroke="#000" stroke-width="1.1" />
<line x1="1427.8" y1="1735.56" x2="1430.9" y2="1735.56" stroke="#000" stroke-width="1.1" />
<line x1="1427.8" y1="1724.97" x2="1430.9" y2="1724.97" stroke="#000" stroke-width="1.1" />
<line x1="1425.7" y1="1714.38" x2="1430.9" y2="1714.38" stroke="#000" stroke-width="1.1" />
<line x1="1427.8" y1="1703.78" x2="1430.9" y2="1703.78" stroke="#000" stroke-width="1.1" />
<line x1="1427.8" y1="1693.19" x2="1430.9" y2="1693.19" stroke="#000" stroke-width="1.1" />
<line x1="1427.8" y1="1682.59" x2="1430.9" y2="1682.59" stroke="#000" stroke-width="1.1" />
<line x1="1425.7" y1="1672" x2="1430.9" y2="1672" stroke="#000" stroke-width="1.1" />
<line x1="1431.4" y1="1842" x2="1431.4" y2="1847.3" stroke="#000" stroke-width="1.1" />
<line x1="1441.18" y1="1842" x2="1441.18" y2="1844.5" stroke="#000" stroke-width="1.1" />
<line x1="1450.95" y1="1842" x2="1450.95" y2="1844.5" stroke="#000" stroke-width="1.1" />
<line x1="1460.73" y1="1842" x2="1460.73" y2="1844.5" stroke="#000" stroke-width="1.1" />
<line x1="1470.5" y1="1842" x2="1470.5" y2="1847.3" stroke="#000" stroke-width="1.1" />
<line x1="1480.28" y1="1842" x2="1480.28" y2="1844.5" stroke="#000" stroke-width="1.1" />
<line x1="1490.05" y1="1842" x2="1490.05" y2="1844.5" stroke="#000" stroke-width="1.1" />
<line x1="1499.83" y1="1842" x2="1499.83" y2="1844.5" stroke="#000" stroke-width="1.1" />
<line x1="1509.6" y1="1842" x2="1509.6" y2="1847.3" stroke="#000" stroke-width="1.1" />
<line x1="1519.38" y1="1842" x2="1519.38" y2="1844.5" stroke="#000" stroke-width="1.1" />
<line x1="1529.15" y1="1842" x2="1529.15" y2="1844.5" stroke="#000" stroke-width="1.1" />
<line x1="1538.93" y1="1842" x2="1538.93" y2="1844.5" stroke="#000" stroke-width="1.1" />
<line x1="1548.7" y1="1842" x2="1548.7" y2="1847.3" stroke="#000" stroke-width="1.1" />
<line x1="1558.48" y1="1842" x2="1558.48" y2="1844.5" stroke="#000" stroke-width="1.1" />
<line x1="1568.25" y1="1842" x2="1568.25" y2="1844.5" stroke="#000" stroke-width="1.1" />
<line x1="1578.03" y1="1842" x2="1578.03" y2="1844.5" stroke="#000" stroke-width="1.1" />
<line x1="1587.8" y1="1842" x2="1587.8" y2="1847.3" stroke="#000" stroke-width="1.1" />
<text x="1425.2" y="1676.4" font-size="13.2" text-anchor="end" font-family="'Liberation Serif', 'Times New Roman', serif" fill="#2a2a2a">1804</text>
<text x="1425.2" y="1718.78" font-size="13.2" text-anchor="end" font-family="'Liberation Serif', 'Times New Roman', serif" fill="#2a2a2a">1353</text>
<text x="1425.2" y="1761.15" font-size="13.2" text-anchor="end" font-family="'Liberation Serif', 'Times New Roman', serif" fill="#2a2a2a">902</text>
<text x="1425.2" y="1803.53" font-size="13.2" text-anchor="end" font-family="'Liberation Serif', 'Times New Roman', serif" fill="#2a2a2a">451</text>
<text x="1425.2" y="1845.9" font-size="13.2" text-anchor="end" font-family="'Liberation Serif', 'Times New Roman', serif" fill="#2a2a2a">0</text>
<text x="1431.4" y="1858.8" font-size="13.2" text-anchor="middle" font-family="'Liberation Serif', 'Times New Roman', serif" fill="#2a2a2a">40.0</text>
<text x="1470.5" y="1858.8" font-size="13.2" text-anchor="middle" font-family="'Liberation Serif', 'Times New Roman', serif" fill="#2a2a2a">180.0</text>
<text x="1509.6" y="1858.8" font-size="13.2" text-anchor="middle" font-family="'Liberation Serif', 'Times New Roman', serif" fill="#2a2a2a">320.0</text>
<text x="1548.7" y="1858.8" font-size="13.2" text-anchor="middle" font-family="'Liberation Serif', 'Times New Roman', serif" fill="#2a2a2a">460.0</text>
<text x="1587.8" y="1858.8" font-size="13.2" text-anchor="middle" font-family="'Liberation Serif', 'Times New Roman', serif" fill="#2a2a2a">600.0</text>
</g>
<line x1="801.4" y1="1141.8" x2="801.4" y2="1465.4" stroke="#000" stroke-width="1.8" stroke-linecap="round"/>
<line x1="803.4" y1="1466.8" x2="1623" y2="1466.8" stroke="#000" stroke-width="1.8" stroke-linecap="round"/>
<path d="M801.4,1123.8 L791.5,1143.5 L811.3,1143.5 Z" fill="#000" />
<path d="M1640.8,1466.8 L1621.3,1456.9 L1621.3,1476.7 Z" fill="#000" />
<text x="1130.63" y="1122.8" font-size="32.43" textLength="159.74" lengthAdjust="spacingAndGlyphs" font-weight="bold" >CaSki 24h</text>
<text x="-1381.33" y="785.4" font-size="33.81" textLength="151.78" lengthAdjust="spacingAndGlyphs" transform="rotate(-90)">Cell count</text>
<text x="1121.96" y="1503.7" font-size="34.3" textLength="189.28" lengthAdjust="spacingAndGlyphs" >DNA content</text>
<text x="865.33" y="1436.8" font-size="33.8" textLength="71.48" lengthAdjust="spacingAndGlyphs" >CTR</text>
<text x="1050.73" y="1436.8" font-size="32.57" textLength="125.47" lengthAdjust="spacingAndGlyphs" >Olaparib</text>
<text x="1269.51" y="1436.8" font-size="34.3" textLength="36.69" lengthAdjust="spacingAndGlyphs" >IR</text>
<text x="1414" y="1436.8" font-size="32.57" textLength="180.66" lengthAdjust="spacingAndGlyphs" >Olaparib+IR</text>
<line x1="801.4" y1="1602.9" x2="801.4" y2="1927.3" stroke="#000" stroke-width="1.8" stroke-linecap="round"/>
<line x1="803.4" y1="1928.7" x2="1623" y2="1928.7" stroke="#000" stroke-width="1.8" stroke-linecap="round"/>
<path d="M801.4,1584.9 L791.5,1604.6 L811.3,1604.6 Z" fill="#000" />
<path d="M1640.8,1928.7 L1621.3,1918.8 L1621.3,1938.6 Z" fill="#000" />
<text x="1159.81" y="1584.5" font-size="32.43" textLength="131.48" lengthAdjust="spacingAndGlyphs" font-weight="bold" >C-4I 24h</text>
<text x="-1842.2" y="785.4" font-size="33.81" textLength="149.05" lengthAdjust="spacingAndGlyphs" transform="rotate(-90)">Cell count</text>
<text x="1121.96" y="1979.4" font-size="34.3" textLength="189.28" lengthAdjust="spacingAndGlyphs" >DNA content</text>
<text x="865.33" y="1898.8" font-size="33.8" textLength="71.48" lengthAdjust="spacingAndGlyphs" >CTR</text>
<text x="1050.73" y="1898.8" font-size="32.57" textLength="125.47" lengthAdjust="spacingAndGlyphs" >Olaparib</text>
<text x="1269.51" y="1898.8" font-size="34.3" textLength="36.69" lengthAdjust="spacingAndGlyphs" >IR</text>
<text x="1414" y="1898.8" font-size="32.57" textLength="180.66" lengthAdjust="spacingAndGlyphs" >Olaparib+IR</text>
</svg></body></html>
